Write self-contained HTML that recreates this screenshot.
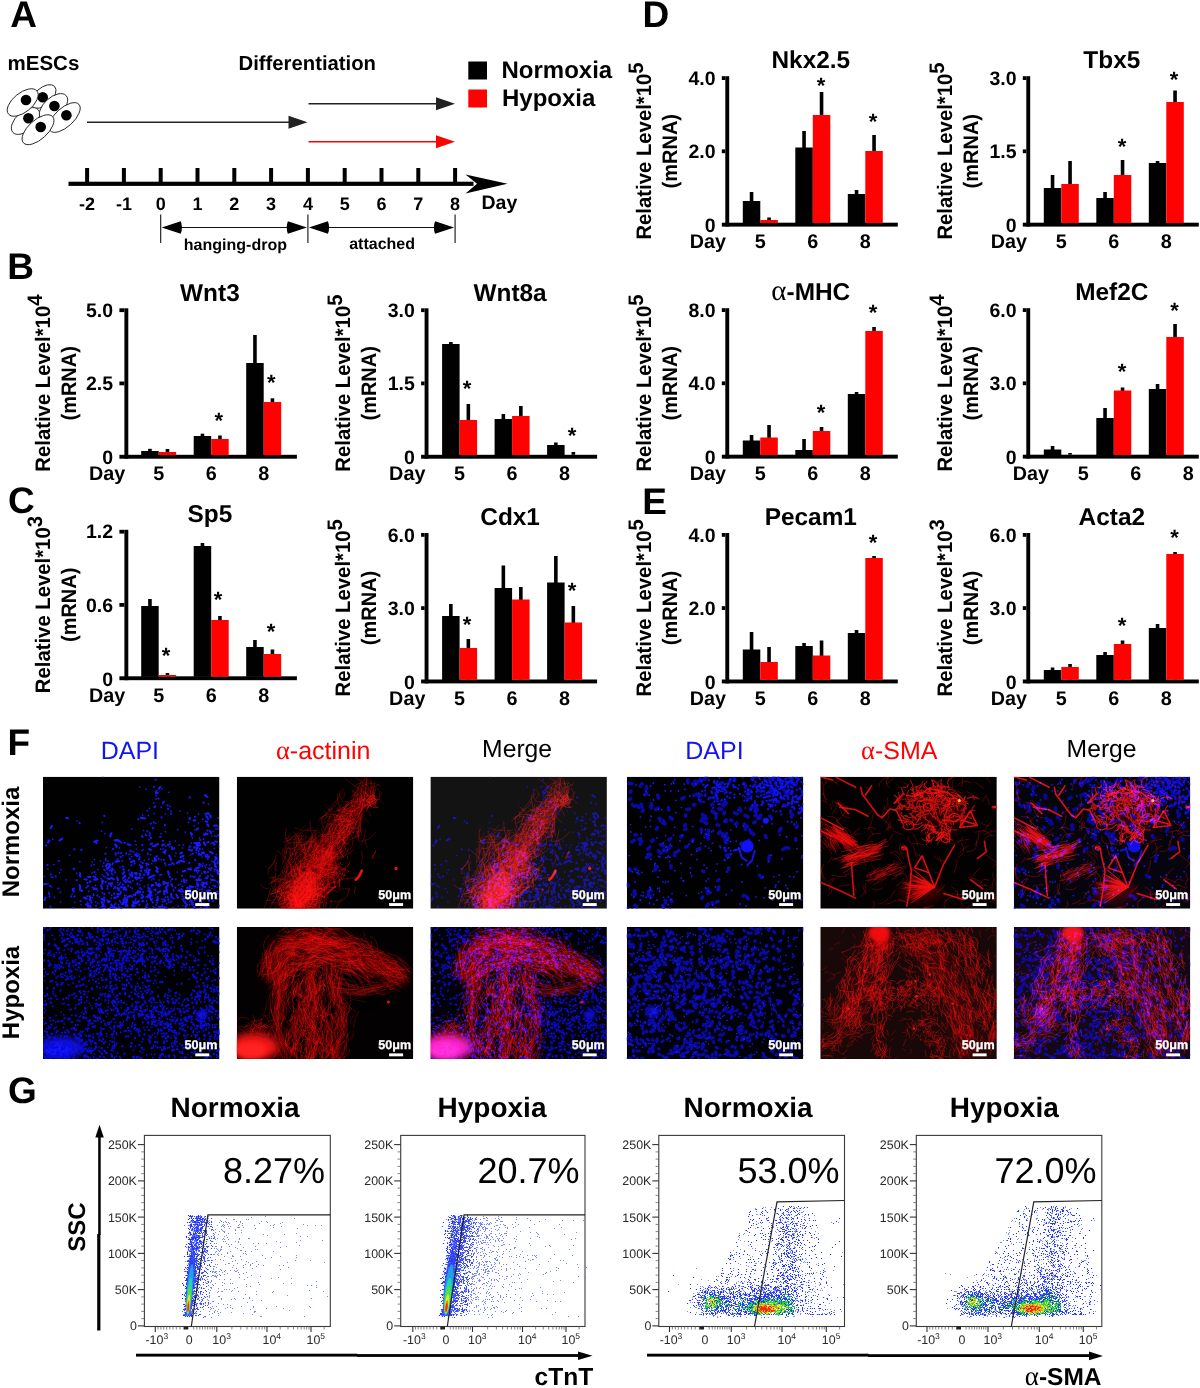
<!DOCTYPE html>
<html><head><meta charset="utf-8"><title>Figure</title>
<style>
html,body{margin:0;padding:0;background:#fff;}
body{width:1200px;height:1388px;overflow:hidden;font-family:"Liberation Sans",sans-serif;}
svg{display:block;will-change:transform;opacity:0.9999;}
svg text{font-family:"Liberation Sans",sans-serif;}
.sy{font-family:"Liberation Serif",serif;font-weight:normal;}
</style></head><body>
<svg width="1200" height="1388" viewBox="0 0 1200 1388" text-rendering="geometricPrecision">
<text x="10.3" y="26.8" font-size="37" font-weight="bold">A</text>
<text x="7.3" y="278.5" font-size="37" font-weight="bold">B</text>
<text x="8" y="512.7" font-size="37" font-weight="bold">C</text>
<text x="642.5" y="26.8" font-size="37" font-weight="bold">D</text>
<text x="642.2" y="513.6" font-size="37" font-weight="bold">E</text>
<text x="7.6" y="755.4" font-size="37" font-weight="bold">F</text>
<text x="8" y="1103.2" font-size="37" font-weight="bold">G</text>
<text x="7.5" y="70" font-size="20.5" font-weight="bold">mESCs</text>
<text x="238.5" y="70.2" font-size="20.3" font-weight="bold">Differentiation</text>
<ellipse cx="43.5" cy="96.5" rx="15" ry="8.5" transform="rotate(-42 43.5 96.5)" fill="#fff" stroke="#222" stroke-width="0.9"/>
<circle cx="42.7" cy="97.3" r="5.3"/>
<ellipse cx="25.5" cy="121" rx="17" ry="9.5" transform="rotate(-42 25.5 121)" fill="#fff" stroke="#222" stroke-width="0.9"/>
<circle cx="28.4" cy="118.3" r="5.3"/>
<ellipse cx="53.5" cy="107" rx="17" ry="9.5" transform="rotate(-42 53.5 107)" fill="#fff" stroke="#222" stroke-width="0.9"/>
<circle cx="54.4" cy="106" r="5.3"/>
<ellipse cx="64.5" cy="117.5" rx="19.5" ry="9.3" transform="rotate(-42.5 64.5 117.5)" fill="#fff" stroke="#222" stroke-width="0.9"/>
<circle cx="66.4" cy="115.3" r="5.3"/>
<ellipse cx="22.7" cy="102.5" rx="18.3" ry="9.6" transform="rotate(-39 22.7 102.5)" fill="#fff" stroke="#222" stroke-width="0.9"/>
<circle cx="26" cy="100" r="5.3"/>
<ellipse cx="38" cy="129.7" rx="19.6" ry="9.6" transform="rotate(-42 38 129.7)" fill="#fff" stroke="#222" stroke-width="0.9"/>
<circle cx="40.7" cy="127" r="5.3"/>
<line x1="87" y1="122.3" x2="290.5" y2="122.3" stroke="#222" stroke-width="1.5"/>
<polygon points="288.5,115.8 307.5,122.3 288.5,128.8" fill="#222"/>
<line x1="308.5" y1="103.8" x2="438" y2="103.8" stroke="#222" stroke-width="1.5"/>
<polygon points="436,97.3 455,103.8 436,110.3" fill="#222"/>
<line x1="308.5" y1="141.8" x2="438" y2="141.8" stroke="#f00" stroke-width="1.5"/>
<polygon points="436,135.3 455,141.8 436,148.3" fill="#f00"/>
<rect x="468.30" y="61.50" width="18.70" height="18.00"/>
<rect x="468.30" y="89.50" width="18.70" height="18.00" fill="#f00"/>
<text x="501.5" y="77.7" font-size="24" font-weight="bold">Normoxia</text>
<text x="502" y="106" font-size="24" font-weight="bold">Hypoxia</text>
<rect x="68.50" y="181.70" width="405.00" height="4.20"/>
<polygon points="465.5,174.5 507.5,183.8 465.5,193.5 477,183.8"/>
<rect x="85.10" y="168.00" width="4.00" height="15.00"/>
<text x="87.1" y="210" font-size="18" font-weight="bold" text-anchor="middle">-2</text>
<rect x="121.90" y="168.00" width="4.00" height="15.00"/>
<text x="123.9" y="210" font-size="18" font-weight="bold" text-anchor="middle">-1</text>
<rect x="158.70" y="168.00" width="4.00" height="15.00"/>
<text x="160.7" y="210" font-size="18" font-weight="bold" text-anchor="middle">0</text>
<rect x="195.50" y="168.00" width="4.00" height="15.00"/>
<text x="197.5" y="210" font-size="18" font-weight="bold" text-anchor="middle">1</text>
<rect x="232.30" y="168.00" width="4.00" height="15.00"/>
<text x="234.3" y="210" font-size="18" font-weight="bold" text-anchor="middle">2</text>
<rect x="269.10" y="168.00" width="4.00" height="15.00"/>
<text x="271.1" y="210" font-size="18" font-weight="bold" text-anchor="middle">3</text>
<rect x="305.90" y="168.00" width="4.00" height="15.00"/>
<text x="307.9" y="210" font-size="18" font-weight="bold" text-anchor="middle">4</text>
<rect x="342.70" y="168.00" width="4.00" height="15.00"/>
<text x="344.7" y="210" font-size="18" font-weight="bold" text-anchor="middle">5</text>
<rect x="379.50" y="168.00" width="4.00" height="15.00"/>
<text x="381.5" y="210" font-size="18" font-weight="bold" text-anchor="middle">6</text>
<rect x="416.30" y="168.00" width="4.00" height="15.00"/>
<text x="418.3" y="210" font-size="18" font-weight="bold" text-anchor="middle">7</text>
<rect x="453.10" y="168.00" width="4.00" height="15.00"/>
<text x="455.1" y="210" font-size="18" font-weight="bold" text-anchor="middle">8</text>
<text x="481.5" y="209" font-size="19.5" font-weight="bold">Day</text>
<line x1="160.7" y1="214.5" x2="160.7" y2="243" stroke="#111" stroke-width="1.1"/>
<line x1="307.9" y1="214.5" x2="307.9" y2="243" stroke="#111" stroke-width="1.1"/>
<line x1="455.1" y1="214.5" x2="455.1" y2="243" stroke="#111" stroke-width="1.1"/>
<line x1="179.7" y1="227.5" x2="288.9" y2="227.5" stroke="#111" stroke-width="1.1"/>
<path d="M161.7,227.5 L180.7,221.3 Q183.2,227.5 180.7,233.7 Z"/>
<path d="M306.9,227.5 L287.9,221.3 Q285.4,227.5 287.9,233.7 Z"/>
<line x1="326.9" y1="227.5" x2="436.09999999999997" y2="227.5" stroke="#111" stroke-width="1.1"/>
<path d="M308.9,227.5 L327.9,221.3 Q330.4,227.5 327.9,233.7 Z"/>
<path d="M454.09999999999997,227.5 L435.09999999999997,221.3 Q432.59999999999997,227.5 435.09999999999997,233.7 Z"/>
<text x="235.4" y="249.5" font-size="16" font-weight="bold" text-anchor="middle">hanging-drop</text>
<text x="382.1" y="249" font-size="16" font-weight="bold" text-anchor="middle">attached</text>
<text x="209.9" y="300.5" font-size="24.4" font-weight="bold" text-anchor="middle">Wnt3</text>
<text transform="translate(50.0,383.1) rotate(-90) scale(1.015,1.05)" font-size="20" font-weight="bold" text-anchor="middle">Relative Level*10<tspan dy="-8" font-size="20">4</tspan></text>
<text transform="translate(76.1,383.3) rotate(-90) scale(1,1.05)" font-size="20" font-weight="bold" text-anchor="middle">(mRNA)</text>
<rect x="124.40" y="308.30" width="3.90" height="150.40"/>
<rect x="119.40" y="454.80" width="177.50" height="3.90"/>
<rect x="119.40" y="308.30" width="5.00" height="3.80"/>
<rect x="119.40" y="381.50" width="5.00" height="3.80"/>
<text x="113.1" y="316.8" font-size="19.5" font-weight="bold" text-anchor="end">5.0</text>
<text x="113.1" y="390.0" font-size="19.5" font-weight="bold" text-anchor="end">2.5</text>
<text x="113.1" y="464.3" font-size="19.5" font-weight="bold" text-anchor="end">0</text>
<text x="125.2" y="480.2" font-size="19.8" font-weight="bold" text-anchor="end">Day</text>
<text x="158.7" y="480.2" font-size="19.8" font-weight="bold" text-anchor="middle">5</text>
<text x="211.2" y="480.2" font-size="19.8" font-weight="bold" text-anchor="middle">6</text>
<text x="263.7" y="480.2" font-size="19.8" font-weight="bold" text-anchor="middle">8</text>
<rect x="148.15" y="448.80" width="3.60" height="6.00"/>
<rect x="165.65" y="449.00" width="3.60" height="5.80"/>
<rect x="141.20" y="451.00" width="17.50" height="4.30"/>
<rect x="158.70" y="452.00" width="17.50" height="3.10" fill="#f00"/>
<rect x="200.65" y="433.70" width="3.60" height="21.10"/>
<rect x="218.15" y="435.50" width="3.60" height="19.30"/>
<rect x="193.70" y="436.00" width="17.50" height="19.30"/>
<rect x="211.20" y="439.00" width="17.50" height="16.10" fill="#f00"/>
<rect x="253.15" y="335.00" width="3.60" height="119.80"/>
<rect x="270.65" y="398.30" width="3.60" height="56.50"/>
<rect x="246.20" y="363.00" width="17.50" height="92.30"/>
<rect x="263.70" y="402.00" width="17.50" height="53.10" fill="#f00"/>
<text x="218.8" y="427.6" font-size="22" font-weight="bold" text-anchor="middle">*</text>
<text x="271.3" y="390.1" font-size="22" font-weight="bold" text-anchor="middle">*</text>
<text x="510.1" y="300.5" font-size="24.4" font-weight="bold" text-anchor="middle">Wnt8a</text>
<text transform="translate(350.2,383.1) rotate(-90) scale(1.015,1.05)" font-size="20" font-weight="bold" text-anchor="middle">Relative Level*10<tspan dy="-8" font-size="20">5</tspan></text>
<text transform="translate(376.3,383.3) rotate(-90) scale(1,1.05)" font-size="20" font-weight="bold" text-anchor="middle">(mRNA)</text>
<rect x="424.60" y="308.30" width="3.90" height="150.40"/>
<rect x="421.10" y="454.80" width="176.00" height="3.90"/>
<rect x="421.10" y="308.30" width="3.50" height="3.80"/>
<rect x="421.10" y="381.50" width="3.50" height="3.80"/>
<text x="414.8" y="316.8" font-size="19.5" font-weight="bold" text-anchor="end">3.0</text>
<text x="414.8" y="390.0" font-size="19.5" font-weight="bold" text-anchor="end">1.5</text>
<text x="414.8" y="464.3" font-size="19.5" font-weight="bold" text-anchor="end">0</text>
<text x="425.4" y="480.2" font-size="19.8" font-weight="bold" text-anchor="end">Day</text>
<text x="459.6" y="480.2" font-size="19.8" font-weight="bold" text-anchor="middle">5</text>
<text x="512.1" y="480.2" font-size="19.8" font-weight="bold" text-anchor="middle">6</text>
<text x="564.6" y="480.2" font-size="19.8" font-weight="bold" text-anchor="middle">8</text>
<rect x="449.05" y="342.00" width="3.60" height="112.80"/>
<rect x="466.55" y="404.00" width="3.60" height="50.80"/>
<rect x="442.10" y="344.00" width="17.50" height="111.30"/>
<rect x="459.60" y="420.00" width="17.50" height="35.10" fill="#f00"/>
<rect x="501.55" y="414.00" width="3.60" height="40.80"/>
<rect x="519.05" y="406.00" width="3.60" height="48.80"/>
<rect x="494.60" y="419.00" width="17.50" height="36.30"/>
<rect x="512.10" y="416.00" width="17.50" height="39.10" fill="#f00"/>
<rect x="554.05" y="442.50" width="3.60" height="12.30"/>
<rect x="571.55" y="452.00" width="3.60" height="2.80"/>
<rect x="547.10" y="445.00" width="17.50" height="10.30"/>
<text x="467.0" y="395.6" font-size="22" font-weight="bold" text-anchor="middle">*</text>
<text x="572.0" y="442.6" font-size="22" font-weight="bold" text-anchor="middle">*</text>
<text x="209.9" y="522.0" font-size="24.4" font-weight="bold" text-anchor="middle">Sp5</text>
<text transform="translate(50.0,604.6) rotate(-90) scale(1.015,1.05)" font-size="20" font-weight="bold" text-anchor="middle">Relative Level*10<tspan dy="-8" font-size="20">3</tspan></text>
<text transform="translate(76.1,604.8) rotate(-90) scale(1,1.05)" font-size="20" font-weight="bold" text-anchor="middle">(mRNA)</text>
<rect x="124.40" y="529.80" width="3.90" height="150.40"/>
<rect x="119.40" y="676.30" width="177.50" height="3.90"/>
<rect x="119.40" y="529.80" width="5.00" height="3.80"/>
<rect x="119.40" y="603.00" width="5.00" height="3.80"/>
<text x="113.1" y="538.3" font-size="19.5" font-weight="bold" text-anchor="end">1.2</text>
<text x="113.1" y="611.5" font-size="19.5" font-weight="bold" text-anchor="end">0.6</text>
<text x="113.1" y="685.8" font-size="19.5" font-weight="bold" text-anchor="end">0</text>
<text x="125.2" y="701.6999999999999" font-size="19.8" font-weight="bold" text-anchor="end">Day</text>
<text x="158.7" y="701.6999999999999" font-size="19.8" font-weight="bold" text-anchor="middle">5</text>
<text x="211.2" y="701.6999999999999" font-size="19.8" font-weight="bold" text-anchor="middle">6</text>
<text x="263.7" y="701.6999999999999" font-size="19.8" font-weight="bold" text-anchor="middle">8</text>
<rect x="148.15" y="599.00" width="3.60" height="77.30"/>
<rect x="165.65" y="673.00" width="3.60" height="3.30"/>
<rect x="141.20" y="606.00" width="17.50" height="70.80"/>
<rect x="158.70" y="675.00" width="17.50" height="1.60" fill="#f00"/>
<rect x="200.65" y="543.00" width="3.60" height="133.30"/>
<rect x="218.15" y="616.00" width="3.60" height="60.30"/>
<rect x="193.70" y="546.00" width="17.50" height="130.80"/>
<rect x="211.20" y="620.00" width="17.50" height="56.60" fill="#f00"/>
<rect x="253.15" y="640.00" width="3.60" height="36.30"/>
<rect x="270.65" y="649.50" width="3.60" height="26.80"/>
<rect x="246.20" y="647.00" width="17.50" height="29.80"/>
<rect x="263.70" y="654.00" width="17.50" height="22.60" fill="#f00"/>
<text x="166.0" y="662.6" font-size="22" font-weight="bold" text-anchor="middle">*</text>
<text x="218.0" y="606.6" font-size="22" font-weight="bold" text-anchor="middle">*</text>
<text x="271.0" y="638.6" font-size="22" font-weight="bold" text-anchor="middle">*</text>
<text x="510.1" y="525.2" font-size="24.4" font-weight="bold" text-anchor="middle">Cdx1</text>
<text transform="translate(350.2,607.8) rotate(-90) scale(1.015,1.05)" font-size="20" font-weight="bold" text-anchor="middle">Relative Level*10<tspan dy="-8" font-size="20">5</tspan></text>
<text transform="translate(376.3,608.0) rotate(-90) scale(1,1.05)" font-size="20" font-weight="bold" text-anchor="middle">(mRNA)</text>
<rect x="424.60" y="533.00" width="3.90" height="150.40"/>
<rect x="421.10" y="679.50" width="176.00" height="3.90"/>
<rect x="421.10" y="533.00" width="3.50" height="3.80"/>
<rect x="421.10" y="606.20" width="3.50" height="3.80"/>
<text x="414.8" y="541.5" font-size="19.5" font-weight="bold" text-anchor="end">6.0</text>
<text x="414.8" y="614.7" font-size="19.5" font-weight="bold" text-anchor="end">3.0</text>
<text x="414.8" y="689.0" font-size="19.5" font-weight="bold" text-anchor="end">0</text>
<text x="425.4" y="704.9" font-size="19.8" font-weight="bold" text-anchor="end">Day</text>
<text x="459.6" y="704.9" font-size="19.8" font-weight="bold" text-anchor="middle">5</text>
<text x="512.1" y="704.9" font-size="19.8" font-weight="bold" text-anchor="middle">6</text>
<text x="564.6" y="704.9" font-size="19.8" font-weight="bold" text-anchor="middle">8</text>
<rect x="449.05" y="604.00" width="3.60" height="75.50"/>
<rect x="466.55" y="639.00" width="3.60" height="40.50"/>
<rect x="442.10" y="616.00" width="17.50" height="64.00"/>
<rect x="459.60" y="648.00" width="17.50" height="31.80" fill="#f00"/>
<rect x="501.55" y="565.50" width="3.60" height="114.00"/>
<rect x="519.05" y="587.00" width="3.60" height="92.50"/>
<rect x="494.60" y="588.00" width="17.50" height="92.00"/>
<rect x="512.10" y="599.50" width="17.50" height="80.30" fill="#f00"/>
<rect x="554.05" y="556.00" width="3.60" height="123.50"/>
<rect x="571.55" y="606.00" width="3.60" height="73.50"/>
<rect x="547.10" y="582.50" width="17.50" height="97.50"/>
<rect x="564.60" y="622.50" width="17.50" height="57.30" fill="#f00"/>
<text x="467.0" y="631.6" font-size="22" font-weight="bold" text-anchor="middle">*</text>
<text x="572.0" y="597.6" font-size="22" font-weight="bold" text-anchor="middle">*</text>
<text x="810.8" y="68.4" font-size="24.4" font-weight="bold" text-anchor="middle">Nkx2.5</text>
<text transform="translate(650.9,151.0) rotate(-90) scale(1.015,1.05)" font-size="20" font-weight="bold" text-anchor="middle">Relative Level*10<tspan dy="-8" font-size="20">5</tspan></text>
<text transform="translate(677.0,151.2) rotate(-90) scale(1,1.05)" font-size="20" font-weight="bold" text-anchor="middle">(mRNA)</text>
<rect x="725.30" y="76.20" width="3.90" height="150.40"/>
<rect x="721.80" y="222.70" width="176.00" height="3.90"/>
<rect x="721.80" y="76.20" width="3.50" height="3.80"/>
<rect x="721.80" y="149.40" width="3.50" height="3.80"/>
<text x="715.5" y="84.7" font-size="19.5" font-weight="bold" text-anchor="end">4.0</text>
<text x="715.5" y="157.9" font-size="19.5" font-weight="bold" text-anchor="end">2.0</text>
<text x="715.5" y="232.2" font-size="19.5" font-weight="bold" text-anchor="end">0</text>
<text x="726.1" y="248.1" font-size="19.8" font-weight="bold" text-anchor="end">Day</text>
<text x="760.3" y="248.1" font-size="19.8" font-weight="bold" text-anchor="middle">5</text>
<text x="812.8" y="248.1" font-size="19.8" font-weight="bold" text-anchor="middle">6</text>
<text x="865.3" y="248.1" font-size="19.8" font-weight="bold" text-anchor="middle">8</text>
<rect x="749.75" y="192.00" width="3.60" height="30.70"/>
<rect x="767.25" y="217.50" width="3.60" height="5.20"/>
<rect x="742.80" y="201.00" width="17.50" height="22.20"/>
<rect x="760.30" y="220.00" width="17.50" height="3.00" fill="#f00"/>
<rect x="802.25" y="131.00" width="3.60" height="91.70"/>
<rect x="819.75" y="92.00" width="3.60" height="130.70"/>
<rect x="795.30" y="147.50" width="17.50" height="75.70"/>
<rect x="812.80" y="115.00" width="17.50" height="108.00" fill="#f00"/>
<rect x="854.75" y="190.00" width="3.60" height="32.70"/>
<rect x="872.25" y="135.00" width="3.60" height="87.70"/>
<rect x="847.80" y="194.00" width="17.50" height="29.20"/>
<rect x="865.30" y="151.00" width="17.50" height="72.00" fill="#f00"/>
<text x="821.0" y="93.1" font-size="22" font-weight="bold" text-anchor="middle">*</text>
<text x="873.0" y="128.6" font-size="22" font-weight="bold" text-anchor="middle">*</text>
<text x="1111.8" y="68.4" font-size="24.4" font-weight="bold" text-anchor="middle">Tbx5</text>
<text transform="translate(951.9,151.0) rotate(-90) scale(1.015,1.05)" font-size="20" font-weight="bold" text-anchor="middle">Relative Level*10<tspan dy="-8" font-size="20">5</tspan></text>
<text transform="translate(978.0,151.2) rotate(-90) scale(1,1.05)" font-size="20" font-weight="bold" text-anchor="middle">(mRNA)</text>
<rect x="1026.30" y="76.20" width="3.90" height="150.40"/>
<rect x="1022.80" y="222.70" width="176.00" height="3.90"/>
<rect x="1022.80" y="76.20" width="3.50" height="3.80"/>
<rect x="1022.80" y="149.40" width="3.50" height="3.80"/>
<text x="1016.5" y="84.7" font-size="19.5" font-weight="bold" text-anchor="end">3.0</text>
<text x="1016.5" y="157.9" font-size="19.5" font-weight="bold" text-anchor="end">1.5</text>
<text x="1016.5" y="232.2" font-size="19.5" font-weight="bold" text-anchor="end">0</text>
<text x="1027.1" y="248.1" font-size="19.8" font-weight="bold" text-anchor="end">Day</text>
<text x="1061.3" y="248.1" font-size="19.8" font-weight="bold" text-anchor="middle">5</text>
<text x="1113.8" y="248.1" font-size="19.8" font-weight="bold" text-anchor="middle">6</text>
<text x="1166.3" y="248.1" font-size="19.8" font-weight="bold" text-anchor="middle">8</text>
<rect x="1050.75" y="175.00" width="3.60" height="47.70"/>
<rect x="1068.25" y="161.00" width="3.60" height="61.70"/>
<rect x="1043.80" y="188.00" width="17.50" height="35.20"/>
<rect x="1061.30" y="184.00" width="17.50" height="39.00" fill="#f00"/>
<rect x="1103.25" y="192.00" width="3.60" height="30.70"/>
<rect x="1120.75" y="160.00" width="3.60" height="62.70"/>
<rect x="1096.30" y="198.00" width="17.50" height="25.20"/>
<rect x="1113.80" y="175.00" width="17.50" height="48.00" fill="#f00"/>
<rect x="1155.75" y="161.00" width="3.60" height="61.70"/>
<rect x="1173.25" y="90.50" width="3.60" height="132.20"/>
<rect x="1148.80" y="163.00" width="17.50" height="60.20"/>
<rect x="1166.30" y="102.00" width="17.50" height="121.00" fill="#f00"/>
<text x="1122.0" y="153.6" font-size="22" font-weight="bold" text-anchor="middle">*</text>
<text x="1174.0" y="86.6" font-size="22" font-weight="bold" text-anchor="middle">*</text>
<text x="810.8" y="300.4" font-size="24.4" font-weight="bold" text-anchor="middle"><tspan class="sy" font-size="29">&#945;</tspan>-MHC</text>
<text transform="translate(650.9,383.0) rotate(-90) scale(1.015,1.05)" font-size="20" font-weight="bold" text-anchor="middle">Relative Level*10<tspan dy="-8" font-size="20">5</tspan></text>
<text transform="translate(677.0,383.2) rotate(-90) scale(1,1.05)" font-size="20" font-weight="bold" text-anchor="middle">(mRNA)</text>
<rect x="725.30" y="308.20" width="3.90" height="150.40"/>
<rect x="721.80" y="454.70" width="176.00" height="3.90"/>
<rect x="721.80" y="308.20" width="3.50" height="3.80"/>
<rect x="721.80" y="381.40" width="3.50" height="3.80"/>
<text x="715.5" y="316.7" font-size="19.5" font-weight="bold" text-anchor="end">8.0</text>
<text x="715.5" y="389.9" font-size="19.5" font-weight="bold" text-anchor="end">4.0</text>
<text x="715.5" y="464.2" font-size="19.5" font-weight="bold" text-anchor="end">0</text>
<text x="726.1" y="480.09999999999997" font-size="19.8" font-weight="bold" text-anchor="end">Day</text>
<text x="760.3" y="480.09999999999997" font-size="19.8" font-weight="bold" text-anchor="middle">5</text>
<text x="812.8" y="480.09999999999997" font-size="19.8" font-weight="bold" text-anchor="middle">6</text>
<text x="865.3" y="480.09999999999997" font-size="19.8" font-weight="bold" text-anchor="middle">8</text>
<rect x="749.75" y="435.00" width="3.60" height="19.70"/>
<rect x="767.25" y="425.00" width="3.60" height="29.70"/>
<rect x="742.80" y="440.50" width="17.50" height="14.70"/>
<rect x="760.30" y="437.50" width="17.50" height="17.50" fill="#f00"/>
<rect x="802.25" y="439.00" width="3.60" height="15.70"/>
<rect x="819.75" y="427.00" width="3.60" height="27.70"/>
<rect x="795.30" y="450.00" width="17.50" height="5.20"/>
<rect x="812.80" y="431.00" width="17.50" height="24.00" fill="#f00"/>
<rect x="854.75" y="392.00" width="3.60" height="62.70"/>
<rect x="872.25" y="327.00" width="3.60" height="127.70"/>
<rect x="847.80" y="394.00" width="17.50" height="61.20"/>
<rect x="865.30" y="331.00" width="17.50" height="124.00" fill="#f00"/>
<text x="821.0" y="420.1" font-size="22" font-weight="bold" text-anchor="middle">*</text>
<text x="873.0" y="319.6" font-size="22" font-weight="bold" text-anchor="middle">*</text>
<text x="1111.8" y="300.4" font-size="24.4" font-weight="bold" text-anchor="middle">Mef2C</text>
<text transform="translate(951.9,383.0) rotate(-90) scale(1.015,1.05)" font-size="20" font-weight="bold" text-anchor="middle">Relative Level*10<tspan dy="-8" font-size="20">4</tspan></text>
<text transform="translate(978.0,383.2) rotate(-90) scale(1,1.05)" font-size="20" font-weight="bold" text-anchor="middle">(mRNA)</text>
<rect x="1026.30" y="308.20" width="3.90" height="150.40"/>
<rect x="1022.80" y="454.70" width="176.00" height="3.90"/>
<rect x="1022.80" y="308.20" width="3.50" height="3.80"/>
<rect x="1022.80" y="381.40" width="3.50" height="3.80"/>
<text x="1016.5" y="316.7" font-size="19.5" font-weight="bold" text-anchor="end">6.0</text>
<text x="1016.5" y="389.9" font-size="19.5" font-weight="bold" text-anchor="end">3.0</text>
<text x="1016.5" y="464.2" font-size="19.5" font-weight="bold" text-anchor="end">0</text>
<text x="1049.1" y="480.09999999999997" font-size="19.8" font-weight="bold" text-anchor="end">Day</text>
<text x="1083.3" y="480.09999999999997" font-size="19.8" font-weight="bold" text-anchor="middle">5</text>
<text x="1135.8" y="480.09999999999997" font-size="19.8" font-weight="bold" text-anchor="middle">6</text>
<text x="1188.3" y="480.09999999999997" font-size="19.8" font-weight="bold" text-anchor="middle">8</text>
<rect x="1050.75" y="446.00" width="3.60" height="8.70"/>
<rect x="1068.25" y="453.00" width="3.60" height="1.70"/>
<rect x="1043.80" y="449.50" width="17.50" height="5.70"/>
<rect x="1103.25" y="408.00" width="3.60" height="46.70"/>
<rect x="1120.75" y="387.50" width="3.60" height="67.20"/>
<rect x="1096.30" y="418.00" width="17.50" height="37.20"/>
<rect x="1113.80" y="390.50" width="17.50" height="64.50" fill="#f00"/>
<rect x="1155.75" y="384.00" width="3.60" height="70.70"/>
<rect x="1173.25" y="324.00" width="3.60" height="130.70"/>
<rect x="1148.80" y="389.00" width="17.50" height="66.20"/>
<rect x="1166.30" y="337.00" width="17.50" height="118.00" fill="#f00"/>
<text x="1122.0" y="378.6" font-size="22" font-weight="bold" text-anchor="middle">*</text>
<text x="1174.5" y="317.6" font-size="22" font-weight="bold" text-anchor="middle">*</text>
<text x="810.8" y="525.2" font-size="24.4" font-weight="bold" text-anchor="middle">Pecam1</text>
<text transform="translate(650.9,607.8) rotate(-90) scale(1.015,1.05)" font-size="20" font-weight="bold" text-anchor="middle">Relative Level*10<tspan dy="-8" font-size="20">5</tspan></text>
<text transform="translate(677.0,608.0) rotate(-90) scale(1,1.05)" font-size="20" font-weight="bold" text-anchor="middle">(mRNA)</text>
<rect x="725.30" y="533.00" width="3.90" height="150.40"/>
<rect x="721.80" y="679.50" width="176.00" height="3.90"/>
<rect x="721.80" y="533.00" width="3.50" height="3.80"/>
<rect x="721.80" y="606.20" width="3.50" height="3.80"/>
<text x="715.5" y="541.5" font-size="19.5" font-weight="bold" text-anchor="end">4.0</text>
<text x="715.5" y="614.7" font-size="19.5" font-weight="bold" text-anchor="end">2.0</text>
<text x="715.5" y="689.0" font-size="19.5" font-weight="bold" text-anchor="end">0</text>
<text x="726.1" y="704.9" font-size="19.8" font-weight="bold" text-anchor="end">Day</text>
<text x="760.3" y="704.9" font-size="19.8" font-weight="bold" text-anchor="middle">5</text>
<text x="812.8" y="704.9" font-size="19.8" font-weight="bold" text-anchor="middle">6</text>
<text x="865.3" y="704.9" font-size="19.8" font-weight="bold" text-anchor="middle">8</text>
<rect x="749.75" y="632.00" width="3.60" height="47.50"/>
<rect x="767.25" y="647.00" width="3.60" height="32.50"/>
<rect x="742.80" y="649.50" width="17.50" height="30.50"/>
<rect x="760.30" y="662.00" width="17.50" height="17.80" fill="#f00"/>
<rect x="802.25" y="643.00" width="3.60" height="36.50"/>
<rect x="819.75" y="640.50" width="3.60" height="39.00"/>
<rect x="795.30" y="646.00" width="17.50" height="34.00"/>
<rect x="812.80" y="655.50" width="17.50" height="24.30" fill="#f00"/>
<rect x="854.75" y="630.00" width="3.60" height="49.50"/>
<rect x="872.25" y="556.00" width="3.60" height="123.50"/>
<rect x="847.80" y="633.00" width="17.50" height="47.00"/>
<rect x="865.30" y="558.00" width="17.50" height="121.80" fill="#f00"/>
<text x="873.0" y="549.6" font-size="22" font-weight="bold" text-anchor="middle">*</text>
<text x="1111.8" y="525.2" font-size="24.4" font-weight="bold" text-anchor="middle">Acta2</text>
<text transform="translate(951.9,607.8) rotate(-90) scale(1.015,1.05)" font-size="20" font-weight="bold" text-anchor="middle">Relative Level*10<tspan dy="-8" font-size="20">3</tspan></text>
<text transform="translate(978.0,608.0) rotate(-90) scale(1,1.05)" font-size="20" font-weight="bold" text-anchor="middle">(mRNA)</text>
<rect x="1026.30" y="533.00" width="3.90" height="150.40"/>
<rect x="1022.80" y="679.50" width="176.00" height="3.90"/>
<rect x="1022.80" y="533.00" width="3.50" height="3.80"/>
<rect x="1022.80" y="606.20" width="3.50" height="3.80"/>
<text x="1016.5" y="541.5" font-size="19.5" font-weight="bold" text-anchor="end">6.0</text>
<text x="1016.5" y="614.7" font-size="19.5" font-weight="bold" text-anchor="end">3.0</text>
<text x="1016.5" y="689.0" font-size="19.5" font-weight="bold" text-anchor="end">0</text>
<text x="1027.1" y="704.9" font-size="19.8" font-weight="bold" text-anchor="end">Day</text>
<text x="1061.3" y="704.9" font-size="19.8" font-weight="bold" text-anchor="middle">5</text>
<text x="1113.8" y="704.9" font-size="19.8" font-weight="bold" text-anchor="middle">6</text>
<text x="1166.3" y="704.9" font-size="19.8" font-weight="bold" text-anchor="middle">8</text>
<rect x="1050.75" y="667.50" width="3.60" height="12.00"/>
<rect x="1068.25" y="664.00" width="3.60" height="15.50"/>
<rect x="1043.80" y="670.00" width="17.50" height="10.00"/>
<rect x="1061.30" y="667.00" width="17.50" height="12.80" fill="#f00"/>
<rect x="1103.25" y="652.00" width="3.60" height="27.50"/>
<rect x="1120.75" y="640.50" width="3.60" height="39.00"/>
<rect x="1096.30" y="655.00" width="17.50" height="25.00"/>
<rect x="1113.80" y="644.00" width="17.50" height="35.80" fill="#f00"/>
<rect x="1155.75" y="624.00" width="3.60" height="55.50"/>
<rect x="1173.25" y="552.00" width="3.60" height="127.50"/>
<rect x="1148.80" y="628.00" width="17.50" height="52.00"/>
<rect x="1166.30" y="554.00" width="17.50" height="125.80" fill="#f00"/>
<text x="1122.0" y="633.1" font-size="22" font-weight="bold" text-anchor="middle">*</text>
<text x="1174.5" y="544.6" font-size="22" font-weight="bold" text-anchor="middle">*</text>
<text x="129.9" y="759.3" font-size="25" text-anchor="middle" fill="#1414f0">DAPI</text>
<text x="323.2" y="759.3" font-size="25" text-anchor="middle" fill="#f00"><tspan class="sy" font-size="26.5">&#945;</tspan>-actinin</text>
<text x="517.1" y="757" font-size="24.7" text-anchor="middle">Merge</text>
<text x="714.5" y="759.3" font-size="25" text-anchor="middle" fill="#1414f0">DAPI</text>
<text x="899.2" y="759.3" font-size="25" text-anchor="middle" fill="#f00"><tspan class="sy" font-size="26.5">&#945;</tspan>-SMA</text>
<text x="1101.6" y="757" font-size="24.7" text-anchor="middle">Merge</text>
<text transform="translate(19,842) rotate(-90)" font-size="24" font-weight="bold" text-anchor="middle">Normoxia</text>
<text transform="translate(19,992.5) rotate(-90)" font-size="24" font-weight="bold" text-anchor="middle">Hypoxia</text>
<defs>
<clipPath id="tc"><rect width="176.5" height="132.0"/></clipPath>
<filter id="bl2" x="-30%" y="-30%" width="160%" height="160%"><feGaussianBlur stdDeviation="2"/></filter>
<filter id="bl4" x="-30%" y="-30%" width="160%" height="160%"><feGaussianBlur stdDeviation="4"/></filter>
<filter id="bl7" x="-40%" y="-40%" width="180%" height="180%"><feGaussianBlur stdDeviation="7"/></filter>
<g id="sb"><text x="174.4" y="122.4" font-size="12.6" font-weight="bold" fill="#fff" text-anchor="end" stroke="#fff" stroke-width="0.3">50&#956;m</text><rect x="152.3" y="126.4" width="14" height="2.9" fill="#fff"/></g>
<g id="b1">
<path d="M115.4 81.3h0M91.6 84.5h0M116.9 60.4h0M70.7 111.7h0M169.1 111.8h0M173.0 52.5h0M111.1 102.8h0M33.7 96.6h0M160.3 107.9h0M106.5 55.6h0M105.3 38.7h0M98.7 112.5h0M49.5 121.1h0M122.0 77.1h0M123.7 127.1h0M56.3 131.9h0M159.0 115.0h0M139.5 114.0h0M68.6 97.0h0M77.8 110.7h0M119.7 26.7h0M159.9 87.1h0M161.4 116.2h0M102.9 41.8h0M87.6 110.5h0M125.5 125.4h0M173.3 59.7h0M5.6 115.2h0M108.5 99.8h0M139.8 119.6h0M164.6 95.4h0M140.6 124.6h0M56.5 120.1h0M97.1 101.4h0M5.0 106.8h0M121.7 124.8h0M149.2 118.9h0M150.2 127.8h0M88.8 79.9h0M171.1 68.1h0M73.0 126.3h0M76.5 107.7h0M109.1 122.1h0M62.7 81.8h0M111.4 84.3h0M128.2 34.3h0M160.9 127.8h0M89.3 100.1h0M121.0 24.9h0M90.9 75.1h0M174.8 122.3h0M137.3 107.5h0M158.2 116.1h0M112.7 82.4h0M166.7 87.9h0M68.8 132.0h0M44.3 119.5h0M89.6 127.7h0M68.8 118.5h0M84.3 128.5h0M92.4 123.7h0M82.7 129.2h0M117.9 60.1h0M157.6 103.5h0M75.0 82.3h0M110.1 101.5h0M162.5 56.5h0M17.1 115.5h0M122.5 37.3h0M63.2 95.8h0M77.3 106.0h0M155.5 37.2h0M92.1 100.9h0M59.6 127.8h0M125.0 120.8h0M169.0 84.5h0M125.3 105.9h0M174.9 49.6h0M103.1 120.0h0M96.8 107.9h0M167.2 105.8h0M93.1 68.1h0M174.8 86.8h0M45.8 114.7h0M112.4 131.1h0M82.7 126.1h0M73.6 121.0h0M63.5 90.7h0M146.4 86.3h0M66.6 93.7h0M99.6 60.5h0M175.0 105.5h0M69.2 88.0h0M58.5 109.1h0M147.7 78.2h0M135.4 108.4h0M58.5 54.4h0M89.9 104.1h0M159.4 72.4h0M110.7 26.1h0M58.1 122.6h0M99.0 74.0h0M50.9 118.4h0M101.2 109.7h0M96.7 10.1h0M99.9 119.5h0M158.9 96.6h0M88.7 52.4h0M122.7 69.5h0M117.5 114.4h0M100.0 119.3h0M158.0 107.6h0M62.9 77.3h0M162.8 118.4h0M153.5 94.1h0M122.8 123.8h0M163.6 88.0h0M44.3 106.0h0M50.3 99.7h0M158.3 130.4h0M81.5 99.1h0M164.0 66.0h0M98.1 85.1h0M116.2 103.4h0M89.2 111.6h0M91.9 125.6h0M138.8 104.4h0M46.4 105.4h0M160.1 75.1h0M109.6 69.4h0M38.2 128.1h0M122.6 114.1h0M156.4 61.1h0M78.9 131.1h0M136.0 68.5h0M26.6 78.6h0M128.0 87.9h0M87.5 77.3h0M61.3 117.7h0M146.4 116.1h0M96.7 82.4h0M146.7 127.9h0M61.2 117.0h0M170.1 108.8h0M18.0 93.0h0M79.7 101.9h0M118.1 30.5h0M74.0 83.4h0M164.7 130.5h0M125.9 15.6h0M135.1 129.5h0M115.9 82.2h0M78.2 110.1h0M71.0 93.1h0M116.0 107.0h0M112.6 46.7h0M159.8 42.5h0M59.1 97.9h0M61.8 56.9h0M94.8 125.7h0M119.5 125.1h0M156.7 113.0h0M89.1 74.9h0M147.8 91.1h0M175.2 97.4h0M130.0 130.6h0M44.3 106.5h0M94.7 114.3h0M49.4 85.0h0M98.0 103.9h0M152.6 110.1h0M108.9 119.0h0M154.7 96.1h0M118.0 56.9h0M166.1 80.5h0M75.0 108.3h0M61.1 92.9h0M50.6 112.8h0M80.3 123.2h0M77.8 126.0h0M122.7 88.7h0M144.8 112.2h0M158.5 125.4h0M69.7 97.9h0M129.0 102.4h0M166.7 118.2h0M51.9 102.6h0M170.1 54.6h0M156.5 124.9h0M88.4 119.3h0M52.8 97.6h0M8.7 110.3h0M93.2 72.3h0M132.3 64.3h0M71.8 127.6h0M104.7 126.8h0M107.5 77.8h0M47.7 105.0h0M151.8 53.1h0M10.0 100.8h0M132.9 76.5h0M173.6 121.0h0M117.6 72.4h0M98.9 121.7h0M119.0 122.5h0M84.8 129.4h0M100.3 72.8h0M136.8 34.3h0M128.7 124.6h0M10.8 88.0h0M73.6 64.1h0M151.5 123.4h0M172.2 110.0h0M59.2 45.8h0M84.5 103.4h0M139.5 71.3h0M73.1 130.7h0M11.5 120.7h0M48.2 123.9h0M149.3 61.4h0M166.6 129.1h0M134.6 52.9h0M156.0 76.7h0M150.6 116.4h0M89.8 130.0h0M162.8 67.9h0M101.3 83.4h0M113.2 128.1h0M44.9 119.2h0M148.5 66.4h0M142.9 105.8h0M60.6 104.5h0M160.8 123.1h0M173.4 115.0h0M173.9 82.2h0M100.5 124.5h0M121.1 124.4h0M163.6 120.3h0M92.2 64.4h0M152.2 70.7h0M93.0 125.3h0M83.6 126.6h0M176.0 69.7h0M114.3 93.2h0M168.5 117.3h0M101.2 98.2h0M9.7 62.5h0M85.9 77.6h0M172.3 103.7h0M118.5 97.8h0M70.3 131.2h0M145.0 110.5h0M157.7 87.6h0M142.3 55.4h0M62.2 100.2h0M63.3 70.9h0M66.1 86.8h0M59.5 116.0h0M146.1 120.8h0M102.9 12.6h0M62.3 130.0h0M156.6 99.5h0M139.2 117.8h0M140.6 81.9h0M171.4 71.7h0M54.7 113.8h0M104.5 76.9h0M81.9 118.8h0M58.9 126.4h0M67.6 108.7h0M161.9 89.0h0M118.2 82.9h0M126.6 65.1h0M104.6 120.7h0M134.3 95.4h0M113.0 22.2h0M34.1 44.3h0M156.7 77.6h0M95.6 124.1h0M67.7 93.5h0M124.7 119.9h0M130.7 114.3h0M23.2 103.1h0M111.0 36.9h0M151.3 130.3h0M64.5 91.6h0M59.9 0.1h0M175.0 84.2h0M119.1 127.8h0M151.1 49.1h0M145.5 45.5h0M119.5 128.7h0M63.1 132.0h0M106.3 100.8h0M157.2 98.9h0M83.0 118.9h0M36.8 84.9h0M172.0 79.9h0M140.9 121.6h0M112.6 117.7h0M44.9 100.2h0M49.1 96.2h0M112.7 105.9h0M139.8 79.6h0M80.0 79.0h0M153.2 75.8h0M58.5 111.6h0M94.1 76.8h0M174.2 110.3h0M165.4 27.5h0M160.6 62.5h0M166.3 110.6h0M127.8 104.4h0M30.2 130.9h0M78.0 110.8h0M105.0 108.2h0M99.7 38.4h0M5.2 63.4h0M60.7 99.2h0M94.1 76.4h0M144.6 113.3h0M66.3 125.2h0M86.3 97.1h0M48.3 88.7h0M113.5 80.0h0M175.0 41.2h0M171.5 94.6h0M57.2 84.4h0M147.5 110.6h0M157.7 130.8h0M64.9 84.4h0M120.1 72.4h0M122.7 120.5h0M112.7 113.9h0M110.3 130.1h0M81.6 118.4h0M175.1 52.1h0M74.7 105.9h0M105.0 114.4h0M17.5 125.2h0M126.6 69.6h0M4.9 92.4h0M92.9 122.1h0M58.1 101.8h0M50.7 117.3h0M173.3 77.8h0M109.8 126.1h0M65.0 125.6h0M146.0 70.3h0M161.6 121.9h0M155.4 46.7h0M108.7 86.9h0M122.5 55.0h0M120.3 106.7h0M155.8 121.9h0M168.1 66.8h0M130.5 112.7h0M100.6 53.8h0M76.2 111.4h0M104.3 34.2h0M51.1 100.3h0M61.0 125.9h0M64.1 123.1h0M165.1 82.2h0M127.1 29.7h0M97.6 89.5h0M77.6 117.0h0M105.9 82.5h0M103.3 128.7h0M96.9 101.4h0M109.7 50.8h0M108.7 103.3h0M96.8 88.1h0M75.5 128.0h0M29.2 117.3h0M79.1 84.2h0M83.6 105.0h0M77.1 90.3h0M167.7 98.1h0M144.5 36.4h0M104.3 120.2h0M58.8 131.5h0M113.9 13.6h0M43.8 103.0h0M76.5 107.7h0M79.9 101.5h0M162.7 90.8h0M75.0 103.4h0M52.6 125.1h0M92.6 78.7h0M72.5 111.1h0M107.2 56.7h0M171.5 59.2h0M84.0 125.6h0M51.0 88.0h0M103.5 94.1h0M165.3 95.4h0M110.9 112.8h0M62.1 76.7h0M92.7 97.4h0M159.2 80.3h0M50.5 118.7h0M62.4 94.0h0M72.9 78.3h0M1.3 99.6h0M168.7 59.3h0M54.7 126.4h0M119.0 12.2h0M92.6 100.0h0M16.6 96.1h0M68.7 109.2h0M76.3 71.2h0M106.1 63.0h0M96.1 124.2h0M60.6 86.4h0M140.3 68.1h0M108.6 109.6h0M31.8 125.6h0M44.4 125.6h0M80.6 122.4h0M82.2 98.6h0M132.0 79.3h0M109.8 84.0h0M64.4 96.7h0M111.1 30.4h0M36.5 99.1h0M88.7 128.9h0M103.7 124.2h0M158.2 115.9h0M52.4 108.7h0M103.3 89.0h0M174.1 104.6h0M68.3 121.6h0M67.1 102.3h0M59.7 89.5h0M166.3 120.9h0M8.6 100.2h0M105.0 77.2h0M164.5 82.0h0M55.0 92.8h0M148.5 59.3h0M51.3 82.9h0M113.0 18.9h0M106.6 31.6h0M88.2 105.8h0M132.9 102.7h0M105.6 120.0h0M162.2 78.5h0M174.6 115.1h0M139.7 128.9h0" stroke="#1818ff" stroke-width="1.7" stroke-linecap="round" fill="none"/>
<path d="M128.1 37.0h0M121.0 107.5h0M90.7 129.4h0M94.4 107.0h0M81.2 104.1h0M103.4 95.6h0M113.9 125.9h0M64.4 111.8h0M83.2 76.8h0M72.2 95.6h0M147.3 113.5h0M30.9 112.0h0M112.2 30.0h0M176.2 107.8h0M173.8 80.9h0M130.7 87.4h0M162.1 110.2h0M75.4 76.3h0M71.9 130.9h0M124.6 28.7h0M157.7 103.1h0M81.7 125.8h0M59.4 125.2h0M52.2 100.3h0M98.1 94.3h0M107.9 61.2h0M95.2 114.2h0M155.7 101.8h0M154.4 112.0h0M113.1 83.2h0M82.6 105.5h0M62.6 105.4h0M104.1 91.9h0M110.0 51.5h0M3.1 68.7h0M153.7 93.6h0M164.9 99.8h0M123.8 114.8h0M114.7 120.1h0M93.6 97.6h0M146.8 20.8h0M124.8 107.7h0M150.2 99.9h0M28.2 119.8h0M147.1 124.8h0M6.1 117.3h0M127.7 125.4h0M104.3 54.6h0M120.2 25.5h0M47.9 125.6h0M65.1 98.3h0M120.8 83.1h0M45.2 126.9h0M79.4 127.3h0M151.6 66.4h0M109.0 67.0h0M96.4 128.4h0M107.8 67.5h0M95.9 78.0h0M160.1 109.9h0M159.2 89.4h0M157.2 63.4h0M126.2 88.1h0M124.6 109.2h0M112.9 14.9h0M79.9 89.9h0M82.7 128.1h0M78.1 76.4h0M101.2 97.7h0M37.6 124.5h0M37.2 113.6h0M96.5 80.4h0M66.0 124.6h0M122.9 110.6h0M151.5 100.3h0M125.1 68.2h0M41.5 102.6h0M67.6 130.8h0M54.5 119.0h0M121.7 75.8h0M99.4 124.5h0M136.2 85.6h0M124.4 116.0h0M100.0 120.4h0M53.0 129.2h0M85.2 109.4h0M156.7 72.1h0M76.7 124.4h0M51.5 95.5h0M155.8 90.9h0M100.1 115.4h0M152.6 122.1h0M71.6 127.9h0M93.7 102.7h0M91.5 86.9h0M129.2 86.2h0M164.5 54.0h0M64.5 109.4h0M173.0 90.3h0M7.5 130.0h0M107.8 47.0h0M72.7 120.7h0M74.9 119.9h0M74.3 117.4h0M71.1 121.2h0M165.6 114.7h0M81.6 124.0h0M75.8 130.7h0M58.7 125.2h0M82.9 125.5h0M121.9 48.5h0M79.8 107.8h0M7.0 109.1h0M156.1 66.8h0M148.8 57.5h0M47.1 104.8h0M99.2 90.3h0M43.2 102.7h0M78.6 66.1h0M151.3 70.8h0M62.9 83.4h0M112.7 3.0h0M146.5 111.8h0M163.8 107.4h0M99.2 59.5h0M113.9 94.9h0M136.3 113.6h0M99.8 86.4h0M112.4 113.0h0M122.0 86.7h0M126.8 67.2h0M60.3 127.7h0M73.5 70.3h0M56.9 131.6h0M149.7 127.9h0M174.2 93.3h0M95.9 82.7h0M175.1 58.8h0M176.4 129.2h0M111.0 10.1h0M142.3 126.5h0M33.8 103.4h0M31.2 92.0h0M148.4 117.3h0M47.1 120.6h0M71.9 110.3h0M80.4 93.0h0M42.7 121.8h0M83.4 124.9h0M159.1 112.7h0M109.5 108.3h0M152.1 40.1h0M153.0 123.0h0M143.4 103.8h0M97.0 98.7h0M83.1 129.0h0M98.3 120.9h0M68.7 106.8h0M162.9 101.2h0M125.1 32.3h0M77.7 115.3h0M53.2 102.3h0M30.7 92.4h0M106.8 58.7h0M168.5 91.5h0M4.5 88.3h0M38.4 73.2h0M125.5 123.0h0M122.5 73.5h0M147.2 69.8h0M163.8 101.7h0M80.8 92.7h0M45.0 129.9h0M118.5 40.7h0M126.2 79.0h0M140.4 115.0h0M144.2 111.3h0M154.5 108.6h0M139.3 109.6h0M110.8 45.8h0M170.0 124.6h0M86.8 82.3h0M155.6 94.2h0M12.7 99.7h0M140.6 103.2h0M163.6 105.7h0M160.6 26.0h0M153.5 128.8h0M147.7 99.8h0M95.3 42.6h0M36.6 46.5h0M43.5 110.9h0M113.0 106.1h0M102.1 93.8h0M71.2 117.0h0M174.5 86.3h0M149.7 77.0h0M77.6 80.4h0M138.9 99.1h0M31.5 119.8h0M104.9 97.8h0M15.2 111.9h0M85.7 101.3h0M174.8 117.0h0M66.3 116.1h0M155.6 74.4h0M105.3 118.5h0M171.1 85.3h0M15.8 84.4h0M165.4 65.2h0M152.2 83.3h0M138.5 112.5h0M82.5 102.9h0M97.0 111.5h0M45.0 109.4h0M99.4 101.2h0M6.6 119.9h0M104.3 127.7h0M88.9 119.9h0M131.0 71.8h0M81.3 110.6h0M72.8 76.8h0M132.4 111.0h0M49.7 110.9h0M169.5 99.7h0M70.0 72.4h0M88.4 88.6h0M69.8 86.6h0M129.3 102.4h0M89.2 98.8h0M173.7 82.1h0M53.4 66.3h0M102.9 58.2h0M61.2 121.0h0M91.6 129.2h0M85.7 93.7h0M126.8 100.3h0M31.4 72.6h0M171.4 85.6h0M171.9 109.5h0M139.6 122.9h0M7.9 97.6h0M171.8 93.0h0M41.0 121.0h0M121.1 122.7h0M164.2 78.0h0M117.2 98.2h0M104.1 95.8h0M99.4 68.3h0M98.9 118.1h0M109.5 125.4h0M96.8 97.2h0M87.4 74.2h0M151.7 94.0h0M115.4 22.0h0M146.2 86.3h0M130.6 121.7h0M171.9 87.7h0M119.9 64.1h0M48.5 125.9h0M140.9 121.9h0M61.3 39.2h0M78.3 131.7h0M64.3 91.7h0M113.6 79.6h0M81.7 66.1h0M142.1 125.0h0M79.6 110.8h0M147.2 109.4h0M61.5 123.9h0" stroke="#1616ff" stroke-width="2.3" stroke-linecap="round" fill="none"/>
<path d="M107.1 121.1l1.2 2.4M160.5 105.8l-1.2 2.8M72.1 67.9l1.5 1.2M6.3 63.9l-1.2 2.0M75.2 63.4l-3.5 0.3M76.0 84.5l-3.5 0.4M87.8 119.1l-3.0 1.1M168.2 103.0l3.1 0.5M139.0 75.9l-1.6 0.9M137.7 83.9l3.2 1.2M91.8 100.8l1.4 0.8M90.2 125.1l1.0 2.0M164.3 47.7l1.1 1.5M36.7 108.1l0.4 3.2M51.3 111.9l2.5 0.3M166.9 113.5l-3.1 0.6M161.0 129.6l2.7 0.2M42.0 121.0l1.5 1.0M96.1 115.1l-3.1 1.4M87.0 105.1l-1.5 0.0M147.6 110.1l2.2 0.1M165.4 122.5l0.7 1.6M97.3 115.0l-2.4 0.7M66.6 124.6l-1.6 0.1M129.0 70.7l0.2 1.7M165.8 36.7l-3.4 0.3M103.4 86.9l2.1 0.8M3.0 107.4l-2.7 0.2M29.7 112.3l0.9 2.6M121.2 114.1l0.3 3.3M84.9 67.5l2.6 0.8M106.9 93.0l-1.5 0.4M174.4 94.0l1.3 2.0M68.2 56.6l-1.0 3.1M88.8 95.8l-0.2 1.7M122.2 75.0l-1.9 0.3M155.2 51.6l-1.4 1.0M135.5 114.0l2.7 0.9M111.6 81.1l1.0 3.1M74.9 117.5l1.7 0.3M64.3 101.7l2.4 0.6M113.3 94.2l1.6 0.9M36.9 96.5l0.5 3.1M82.2 99.5l-1.9 1.4M128.4 107.4l0.9 1.8M8.9 49.2l-1.3 1.9M149.9 125.8l-1.0 1.4M92.3 77.7l2.0 1.7M113.8 108.1l3.4 0.1M148.1 116.0l-2.1 1.2M147.1 109.6l2.2 0.7M148.1 123.6l1.0 2.0M105.4 110.8l0.4 1.8M172.2 64.8l1.6 0.3M59.2 122.3l1.7 0.8M174.4 95.3l0.5 1.7M68.3 101.2l2.4 1.2M172.6 81.2l-0.4 2.0M82.3 110.9l-1.6 2.1M43.1 127.6l2.6 2.0M80.5 125.4l-0.4 1.8M146.7 41.0l0.0 1.6M163.3 39.5l1.9 2.8M74.1 100.8l0.8 2.4M155.7 77.8l2.4 0.2M140.5 79.2l-3.1 1.3M128.1 117.0l0.4 3.5M152.2 43.7l-1.7 0.1M157.1 68.1l-1.7 1.1M105.8 95.5l-0.8 2.4M161.1 94.9l1.5 1.2M69.1 106.8l-3.3 0.1M125.0 94.8l0.9 3.1M117.3 10.1l-1.3 1.9M19.2 61.9l-2.7 1.8M133.4 118.0l1.7 3.0M106.4 117.9l0.8 1.8M91.0 84.2l-3.0 1.1M75.0 63.4l2.0 1.7M121.4 130.4l2.7 1.5M120.2 105.2l3.4 1.2M107.9 100.4l-2.2 0.7M142.3 94.0l-2.4 0.7M154.4 70.2l-1.1 3.2M87.4 98.7l1.5 0.1M74.4 111.3l1.5 2.2M114.9 122.3l-1.3 1.4M45.6 100.1l1.5 0.3M112.8 16.4l1.9 0.0M173.4 48.7l-2.3 0.4M166.1 91.8l1.3 1.4M114.5 121.4l0.4 2.0M169.7 66.1l1.9 1.5M58.2 108.8l0.9 3.4M83.9 122.4l0.4 1.5M145.2 92.2l2.9 0.6M172.3 87.0l-0.2 2.7M93.5 96.3l-2.1 0.3M37.0 112.9l2.0 1.3M164.4 57.4l-3.3 0.5M69.2 91.9l-0.6 3.0M68.3 127.9l1.4 2.0M113.7 107.8l2.2 1.7M64.9 87.3l-2.1 1.7M120.9 67.8l-1.8 0.9M95.3 124.9l-2.4 1.8M115.0 67.3l-2.4 1.1M81.8 120.6l1.3 1.9M81.1 95.5l-1.3 1.6M165.7 79.7l-3.0 0.2M96.4 101.1l-2.4 0.0M66.8 87.5l-0.1 3.1M60.9 129.4l-1.7 0.2M54.5 63.8l-3.2 1.3M147.8 56.1l0.9 2.1M159.2 105.8l2.8 0.9M167.2 38.5l0.5 2.2M161.9 18.4l2.6 1.9M98.0 41.2l3.4 0.4M94.4 115.2l2.2 1.0M82.2 112.0l1.1 1.2M162.7 44.7l1.7 0.4M108.5 108.5l2.0 0.1M113.2 90.3l1.5 2.2M71.2 130.3l-2.5 0.7M154.6 91.0l-2.1 1.0M159.3 119.8l-1.8 1.0M156.1 87.2l0.7 1.8M167.0 54.2l1.0 2.3M156.5 103.2l-3.1 0.2M97.8 89.5l0.6 2.0M66.3 90.3l-1.9 2.1M54.5 102.7l-3.4 0.3M145.6 72.9l3.3 0.8M159.0 76.0l2.1 0.6M103.4 130.0l1.1 1.6M46.9 128.8l0.7 1.8M141.2 103.4l0.1 2.1M47.3 119.7l-0.3 3.5M23.3 41.2l1.7 0.3M106.1 72.4l1.7 0.9M156.1 66.0l-3.2 0.4M59.2 103.3l0.3 3.6M90.6 118.1l1.6 0.2M167.0 74.9l2.7 1.7M116.8 114.8l-1.9 1.2M113.0 68.7l-2.2 0.8M108.4 115.0l-0.9 3.0M135.9 84.6l-1.9 1.8M151.4 130.3l0.9 1.6M127.0 79.9l0.9 3.4M118.9 130.0l-3.3 0.1M154.5 67.3l-1.0 1.2M106.5 112.1l0.2 3.6M123.5 111.2l-0.1 2.9M2.4 121.0l-0.9 2.5M143.9 127.9l-1.2 2.2M154.2 106.0l0.9 3.4M160.9 65.6l1.0 2.6M111.4 98.8l-2.1 0.3" stroke="#1a1aff" stroke-width="2.1" stroke-linecap="round" fill="none"/>
</g>
<g id="b2">
<ellipse cx="18" cy="121" rx="23" ry="11" fill="#1414f4" opacity="0.95" filter="url(#bl4)"/><ellipse cx="14" cy="123" rx="13" ry="7" fill="#1818ff" opacity="0.8" filter="url(#bl2)"/>
<ellipse cx="159" cy="88" rx="5.5" ry="4.5" fill="#1818ff" opacity="0.95" filter="url(#bl2)"/>
<path d="M83.8 86.8h0M25.2 1.4h0M25.6 58.1h0M71.4 111.2h0M10.7 120.8h0M16.1 130.3h0M19.9 55.9h0M55.2 82.0h0M123.0 6.8h0M172.3 87.6h0M20.1 31.0h0M5.0 108.6h0M91.6 29.3h0M68.5 101.9h0M97.1 23.5h0M6.5 36.5h0M112.4 6.9h0M36.9 37.2h0M29.6 122.0h0M60.3 31.9h0M176.2 66.5h0M112.9 30.3h0M84.3 82.8h0M167.1 118.1h0M51.4 115.3h0M124.4 28.3h0M23.3 117.0h0M169.8 100.4h0M102.4 45.9h0M129.9 74.4h0M69.6 32.4h0M57.1 90.5h0M64.5 3.9h0M78.3 23.7h0M60.2 31.5h0M166.6 1.0h0M49.4 26.6h0M38.9 121.3h0M123.2 21.4h0M107.1 111.3h0M61.8 96.7h0M88.2 47.6h0M50.4 123.6h0M56.7 16.6h0M72.8 81.6h0M71.8 50.1h0M70.5 106.5h0M154.2 108.4h0M129.7 40.3h0M152.7 110.0h0M155.3 3.2h0M2.3 22.6h0M126.3 39.1h0M115.0 105.7h0M168.8 90.1h0M148.1 17.1h0M19.1 11.1h0M1.5 32.9h0M83.9 27.3h0M74.8 71.7h0M163.0 79.2h0M174.7 64.0h0M110.2 70.7h0M131.5 33.3h0M101.9 49.9h0M62.6 131.7h0M88.7 60.7h0M70.6 27.1h0M13.0 88.6h0M118.9 22.7h0M49.9 111.0h0M108.8 94.3h0M74.3 41.5h0M73.0 6.8h0M20.6 40.6h0M21.5 109.8h0M64.8 24.9h0M76.9 2.8h0M63.4 52.8h0M64.1 37.9h0M170.5 70.3h0M50.4 99.7h0M63.2 12.4h0M73.2 42.9h0M55.6 123.7h0M124.7 27.0h0M169.4 8.7h0M176.2 102.9h0M160.9 41.8h0M84.7 26.9h0M158.2 123.1h0M119.7 77.9h0M83.2 59.1h0M35.6 54.3h0M69.1 26.5h0M161.3 85.8h0M25.4 71.5h0M57.2 77.5h0M157.0 21.0h0M87.5 120.0h0M151.7 34.4h0M155.0 88.4h0M7.3 109.8h0M1.5 96.9h0M52.8 27.4h0M15.5 23.2h0M140.1 120.9h0M59.0 126.7h0M46.4 95.2h0M116.1 22.3h0M131.1 116.0h0M161.3 131.8h0M45.3 101.4h0M0.7 11.2h0M40.3 123.1h0M152.3 120.9h0M122.9 86.4h0M16.3 117.3h0M55.7 51.8h0M126.0 23.0h0M62.7 40.9h0M19.1 55.9h0M130.3 29.9h0M25.3 104.5h0M109.9 12.0h0M75.4 24.5h0M78.5 15.0h0M12.8 113.5h0M10.6 117.9h0M58.2 95.0h0M12.8 19.4h0M109.4 22.5h0M163.2 129.9h0M80.6 86.8h0M11.0 118.9h0M67.8 82.1h0M110.5 71.4h0M66.4 16.1h0M10.0 29.2h0M58.5 0.1h0M15.3 128.1h0M90.8 85.4h0M84.1 90.9h0M31.5 107.6h0M119.9 15.5h0M24.0 109.9h0M24.9 91.3h0M158.2 94.5h0M152.8 33.9h0M26.2 116.5h0M35.0 97.9h0M142.6 97.5h0M144.6 107.8h0M57.3 61.0h0M157.9 80.9h0M92.3 61.3h0M90.5 17.2h0M170.9 81.8h0M158.6 94.6h0M71.9 11.4h0M169.9 33.8h0M78.4 80.8h0M112.7 29.8h0M138.1 126.0h0M134.4 119.3h0M36.5 1.1h0M4.0 130.7h0M75.1 75.2h0M59.8 67.1h0M116.8 4.0h0M115.0 60.3h0M145.7 78.0h0M2.1 73.8h0M92.9 29.5h0M130.9 116.9h0M116.8 74.1h0M48.7 45.7h0M175.3 129.3h0M131.3 43.7h0M159.0 98.5h0M40.1 104.4h0M8.4 107.1h0M90.9 88.5h0M38.7 32.1h0M125.9 104.0h0M90.7 33.4h0M86.7 103.4h0M41.1 128.9h0M18.3 123.0h0M56.7 45.0h0M69.4 18.4h0M122.1 24.3h0M176.1 92.0h0M113.8 14.5h0M142.7 93.4h0M59.0 107.6h0M109.7 26.4h0M146.6 40.6h0M30.4 51.3h0M22.9 19.0h0M96.9 18.1h0M90.0 85.6h0M116.9 0.1h0M54.8 35.8h0M1.5 12.9h0M165.5 69.4h0M129.5 122.8h0M9.1 106.5h0M80.0 24.6h0M58.8 3.0h0M72.2 34.0h0M114.2 36.7h0M127.6 97.5h0M122.4 49.6h0M54.2 14.8h0M108.1 84.3h0M92.6 97.5h0M159.7 94.4h0M111.2 89.8h0M66.5 117.4h0M107.8 6.2h0M102.0 63.9h0M98.4 17.1h0M58.9 34.0h0M99.6 84.5h0M69.3 15.0h0M175.3 88.4h0M92.7 20.6h0M123.6 95.4h0M102.4 1.2h0M109.4 1.0h0M62.3 114.8h0M36.2 89.8h0M109.2 23.9h0M50.6 110.1h0M117.5 5.5h0M43.6 123.7h0M117.6 95.4h0M70.0 73.3h0M38.7 85.4h0M13.9 124.9h0M162.1 7.4h0M166.3 83.8h0M39.0 8.4h0M152.3 114.2h0M39.0 113.9h0M71.5 117.2h0M62.4 26.3h0M128.9 119.4h0M131.5 90.9h0M17.5 47.5h0M99.1 69.4h0M165.3 120.7h0M48.1 126.4h0M111.5 106.3h0M113.5 55.3h0M146.2 52.3h0M103.7 30.7h0M32.1 108.1h0M136.9 116.8h0M45.9 109.8h0M111.8 53.4h0M132.6 117.7h0M37.5 66.0h0M169.8 57.6h0M35.3 28.7h0M107.3 116.1h0M73.5 107.5h0M17.7 30.9h0M151.0 33.5h0M19.2 105.6h0M167.8 44.1h0M148.8 125.2h0M16.0 112.2h0M13.5 120.9h0M170.4 43.5h0M159.3 91.0h0M171.4 110.5h0M162.9 130.6h0M50.7 129.9h0M67.2 22.8h0M174.8 75.4h0M98.7 17.2h0M155.0 99.7h0M165.1 28.9h0M10.1 64.5h0M117.1 128.0h0M37.0 113.0h0M63.6 51.5h0M127.7 64.1h0M49.2 50.1h0M0.7 90.8h0M88.1 106.8h0M148.4 11.8h0M163.4 101.7h0M106.8 83.6h0M11.4 113.8h0M127.2 85.4h0M22.1 131.9h0M99.7 9.4h0M21.2 23.4h0M30.2 121.4h0M156.2 72.7h0M127.9 34.3h0M53.0 27.5h0M95.0 58.9h0M138.1 88.2h0M18.1 49.7h0M118.5 34.1h0M24.1 49.5h0M11.3 110.5h0M94.2 67.8h0M11.6 47.1h0M95.6 17.3h0M127.0 68.8h0M107.5 44.5h0M110.6 118.4h0M32.5 12.3h0M173.6 75.1h0M128.8 94.5h0M72.2 23.5h0M51.0 39.1h0M51.4 94.0h0M88.7 20.7h0M152.5 31.5h0M122.7 33.1h0M18.7 130.0h0M60.1 38.2h0M22.7 45.5h0M35.7 115.9h0M68.6 14.6h0M104.1 82.7h0M106.0 20.9h0M99.2 30.0h0M51.3 25.3h0M19.1 14.9h0M160.8 118.5h0M93.4 7.2h0M33.2 102.8h0M4.9 27.9h0M79.9 19.2h0M25.6 131.8h0M7.3 93.6h0M79.3 96.8h0M116.8 35.7h0M40.0 27.8h0M79.0 50.7h0M105.7 59.0h0M110.9 14.7h0M56.1 112.9h0M31.7 123.7h0M168.5 85.2h0M144.9 117.2h0M65.3 79.7h0M41.4 80.8h0M16.3 126.5h0M53.5 10.1h0M112.8 42.3h0M51.7 88.4h0M28.9 3.3h0M164.7 96.6h0M47.3 123.1h0M57.8 106.3h0M131.4 122.6h0M121.4 109.2h0M111.7 39.8h0M14.0 72.2h0M75.1 85.2h0M122.3 27.2h0M1.4 85.6h0M161.8 59.4h0M93.1 64.6h0M70.6 36.0h0M85.7 26.9h0M76.7 53.4h0M162.9 117.9h0M126.0 130.1h0M11.5 40.3h0M18.5 28.6h0M5.6 99.3h0M176.0 106.7h0M117.0 97.6h0M76.2 86.8h0M125.9 23.0h0M98.4 30.3h0M43.7 129.6h0M159.0 89.8h0M127.9 92.6h0M124.8 120.9h0M56.8 22.0h0M66.5 44.0h0M109.7 90.0h0M45.0 98.1h0M132.1 87.4h0M7.6 54.2h0M76.9 40.4h0M48.8 124.8h0M73.0 53.2h0M121.7 38.3h0M58.5 68.1h0M31.2 106.6h0M137.7 96.4h0M167.7 73.0h0M108.8 100.1h0M164.4 60.1h0M59.8 1.8h0M145.1 127.1h0M23.8 35.9h0M12.1 128.5h0M97.5 33.8h0M57.7 82.3h0M151.4 49.3h0M59.7 9.0h0M19.8 114.5h0M108.9 3.4h0M44.6 103.7h0M42.1 130.5h0M57.4 40.5h0M81.2 85.7h0M76.8 130.0h0M63.7 38.4h0M14.8 122.9h0M83.4 5.3h0M96.5 34.2h0M140.4 84.8h0M141.6 114.6h0M99.2 114.7h0M25.0 131.7h0M161.1 112.0h0M1.7 120.4h0M99.5 69.9h0M89.7 95.3h0M86.2 20.9h0M140.5 81.8h0M105.3 47.8h0M165.8 49.3h0M153.2 6.1h0M150.2 105.2h0M107.9 110.3h0M118.3 11.2h0M171.8 73.6h0M14.9 49.2h0M14.0 57.4h0M99.1 27.0h0M107.1 26.6h0M25.4 114.2h0M38.3 34.6h0M5.5 38.6h0M160.9 58.3h0M58.3 83.3h0M46.7 48.2h0M150.6 29.5h0M84.1 91.7h0M45.9 108.4h0M119.3 26.3h0M20.7 127.5h0M167.9 121.8h0M46.6 92.9h0M36.7 113.6h0M157.9 52.5h0M38.5 72.7h0M97.8 31.8h0M99.1 67.8h0M21.2 122.3h0M162.9 103.0h0M38.4 22.3h0M42.0 75.4h0M67.2 56.1h0M131.0 105.4h0M169.9 31.7h0M155.2 98.8h0M134.8 92.0h0M4.2 107.5h0M3.6 114.7h0M165.5 68.1h0M43.1 36.2h0M141.4 130.5h0M30.0 123.3h0M104.7 87.7h0M18.1 47.7h0M28.2 82.4h0M124.3 100.5h0M43.2 85.5h0M168.0 129.9h0M24.3 17.6h0M149.7 63.1h0M77.0 30.4h0M18.3 36.1h0M101.2 24.7h0M44.4 10.8h0M115.5 96.1h0M83.0 24.7h0M25.7 105.3h0M96.6 108.5h0M33.4 112.4h0M99.3 55.3h0M32.6 97.6h0M58.5 82.9h0M133.7 65.4h0M33.8 8.6h0M89.9 0.1h0M48.5 123.6h0M25.1 116.2h0M113.9 98.3h0M19.7 50.1h0M122.4 121.1h0M101.1 13.1h0M10.4 66.9h0M165.4 97.0h0M159.9 88.2h0M40.7 91.3h0M42.3 64.7h0M32.9 32.8h0M23.2 36.2h0M96.6 51.3h0M121.1 29.2h0M102.0 74.1h0M122.0 66.8h0M13.1 55.3h0M105.6 96.5h0M126.7 85.1h0M129.8 75.9h0M68.0 127.2h0M176.4 25.0h0M61.8 33.9h0M70.5 123.8h0M95.1 33.7h0M54.8 5.5h0M5.1 47.2h0M36.0 16.9h0M17.9 94.2h0M103.9 99.8h0M1.4 53.6h0M0.4 121.0h0M36.1 64.7h0M148.5 109.0h0M58.3 114.1h0M73.5 48.7h0M105.1 4.6h0M18.1 85.1h0M160.6 103.4h0M95.2 7.3h0M68.3 94.7h0M142.1 111.4h0M4.7 68.5h0M175.3 124.6h0M6.8 110.9h0M49.0 24.9h0M104.1 79.2h0M68.2 40.5h0M89.7 40.8h0M60.4 6.3h0M144.8 99.9h0M134.5 93.6h0M3.9 46.8h0M161.3 65.0h0M70.1 23.4h0M0.1 22.8h0M114.7 107.3h0M111.5 79.5h0M112.0 127.4h0M127.7 38.5h0M23.0 129.2h0M67.0 113.7h0M56.0 11.8h0M72.7 57.9h0M133.3 105.8h0M127.7 11.0h0M55.4 45.7h0M153.5 108.4h0M92.3 9.5h0M86.0 15.8h0M132.6 75.5h0M161.7 20.0h0M2.3 113.7h0M146.3 81.5h0M122.3 68.6h0M79.4 57.4h0M122.0 16.3h0M164.5 121.3h0M175.5 67.9h0M116.2 21.0h0M166.1 72.0h0M173.2 103.9h0M127.7 37.9h0M85.0 31.4h0M6.8 2.3h0M78.2 11.9h0M142.7 103.8h0M123.3 28.9h0M25.3 117.0h0M149.0 71.0h0M36.9 94.0h0M54.9 34.3h0M69.9 62.7h0M40.6 63.9h0M34.6 121.0h0M137.9 101.8h0M27.4 117.4h0M23.0 18.5h0M160.9 108.6h0M133.7 114.9h0M82.0 83.3h0M65.5 24.7h0M124.3 98.7h0M66.8 24.8h0M65.0 120.3h0M163.5 98.5h0M99.0 0.6h0M24.2 7.5h0M62.0 32.1h0M54.9 3.4h0M53.1 79.5h0M74.2 77.5h0M28.7 44.5h0M98.1 81.3h0M69.0 63.4h0M128.1 111.2h0M150.5 79.8h0M90.6 88.5h0M22.6 130.4h0M12.8 95.2h0M119.9 23.5h0M17.9 2.0h0M173.6 60.2h0M136.8 84.4h0M7.2 54.8h0M169.8 81.3h0M46.8 49.4h0M110.1 84.8h0M110.5 94.8h0M142.4 72.1h0M51.4 127.1h0M77.1 28.0h0M164.9 41.6h0M48.2 121.0h0M119.3 109.6h0M7.5 128.2h0M58.4 102.9h0M141.9 92.8h0M92.6 119.6h0M45.3 21.6h0M0.8 26.4h0M53.2 73.0h0M47.9 116.7h0M29.9 35.1h0M42.2 42.1h0M171.3 59.2h0M131.7 131.2h0M115.3 6.8h0M7.0 100.3h0M103.1 1.6h0M56.2 84.0h0M94.7 56.5h0M64.5 86.3h0M138.5 30.4h0M129.8 10.5h0M123.8 29.6h0M18.3 125.6h0M159.2 88.3h0M90.2 25.7h0M90.5 23.7h0M107.5 53.5h0M36.4 36.0h0M151.2 0.7h0M36.5 72.9h0M4.7 114.5h0M46.0 53.7h0M156.5 111.1h0M19.4 13.4h0M134.4 81.7h0M73.2 129.3h0M158.4 64.4h0M120.6 21.7h0M135.4 35.5h0M135.9 75.9h0M148.0 15.1h0M175.4 39.8h0M173.4 124.3h0M36.2 14.8h0M41.4 118.7h0M58.5 18.6h0M171.8 111.8h0M173.8 97.3h0M63.5 109.4h0M57.7 100.7h0M62.4 27.3h0M59.4 114.3h0M164.1 59.5h0M3.7 130.4h0M163.3 85.9h0M52.9 54.2h0M98.5 27.7h0M108.9 44.3h0M115.7 87.2h0M76.7 42.7h0M2.9 118.8h0M25.7 129.9h0M165.8 84.3h0M3.4 101.6h0M26.9 82.7h0M11.4 29.7h0M24.2 128.6h0M0.9 118.8h0M36.1 119.0h0M107.7 11.6h0M141.3 103.8h0M126.8 102.9h0M16.9 8.4h0M53.8 38.1h0M26.1 42.7h0M71.0 61.5h0M24.7 33.6h0M148.8 66.3h0M87.2 27.3h0M7.6 0.6h0M21.5 18.7h0M163.5 82.1h0M174.5 83.8h0M61.1 123.7h0M91.2 102.1h0M42.0 128.3h0M59.8 101.8h0M62.8 38.4h0M29.1 67.8h0M128.9 118.8h0M67.9 44.8h0M91.4 38.3h0M47.6 124.9h0M30.5 116.6h0M117.2 24.1h0M76.8 66.3h0M103.5 92.7h0M98.8 10.5h0M161.9 109.5h0M86.4 85.1h0M32.4 120.2h0M90.1 26.0h0M86.9 49.2h0M154.2 127.2h0M118.8 86.9h0M47.0 46.7h0M85.7 81.8h0M25.4 117.7h0M90.4 13.6h0M171.9 97.5h0M55.6 91.0h0M116.7 23.5h0M14.6 37.6h0M67.8 40.2h0M45.3 64.7h0M63.3 51.9h0M132.3 68.6h0M117.5 79.2h0M65.5 5.3h0M176.2 36.0h0M70.5 67.4h0M40.9 122.6h0M141.0 91.9h0M45.8 121.1h0M33.0 78.1h0M77.2 28.1h0M23.1 113.1h0M102.8 76.1h0M52.9 94.2h0M151.1 126.7h0M153.8 76.3h0M63.9 39.1h0M124.8 68.2h0M142.3 40.8h0M75.8 74.8h0M76.7 36.5h0M89.3 97.0h0M1.4 81.2h0M7.1 75.1h0M22.5 27.5h0M73.3 81.1h0M136.3 101.3h0M133.8 6.7h0M133.6 122.1h0M139.2 43.3h0M53.2 44.0h0M88.6 65.2h0M164.2 52.5h0M74.1 37.6h0M122.6 30.9h0M19.8 55.7h0M140.8 102.8h0M72.8 48.3h0M80.2 31.9h0M60.9 101.8h0M9.8 79.2h0M48.3 48.2h0M18.1 108.8h0M80.1 15.1h0M77.9 11.5h0M73.8 116.1h0M66.3 96.9h0M143.1 84.2h0M8.4 117.7h0M58.5 85.2h0M69.8 77.0h0M84.8 28.0h0M78.9 40.6h0M117.8 103.5h0M43.6 109.0h0M89.2 77.1h0M43.6 73.8h0M112.7 119.3h0M139.3 124.5h0M39.6 104.5h0M84.9 89.2h0M124.0 81.5h0M148.1 95.0h0M100.3 26.9h0M125.3 65.1h0M67.7 0.3h0M100.8 70.9h0M58.4 84.2h0M83.0 6.5h0M96.0 15.3h0M1.1 129.5h0M57.1 124.7h0M97.6 28.2h0M129.0 99.9h0M53.8 30.9h0M94.1 34.4h0M47.6 35.7h0M62.1 69.6h0M157.4 100.6h0M81.4 9.5h0M126.3 128.5h0M74.4 126.3h0M107.7 11.8h0M110.3 82.4h0M64.8 83.1h0M108.8 75.7h0M137.9 101.5h0M100.8 100.3h0M125.1 29.6h0M126.3 120.5h0M14.7 114.0h0M91.4 92.3h0M20.2 8.2h0M162.4 95.7h0M88.1 85.2h0M161.7 70.0h0M112.4 81.4h0M170.3 64.9h0M145.3 89.7h0M90.2 89.6h0M30.8 128.4h0M90.7 19.3h0M109.2 8.7h0M149.0 121.3h0M18.1 57.0h0M102.3 91.0h0M47.3 38.0h0M32.6 42.1h0M81.6 62.4h0M27.8 123.6h0M48.2 26.7h0M76.5 24.2h0M18.6 32.2h0M70.3 73.2h0M23.9 102.9h0M151.8 99.0h0M118.4 85.2h0M158.6 95.4h0M131.1 47.8h0M99.4 131.3h0M29.3 35.2h0M175.5 103.6h0M16.0 127.3h0M22.9 108.9h0M157.9 91.5h0M86.9 37.5h0M65.9 4.2h0M57.7 24.9h0M5.2 129.3h0M69.1 122.0h0M175.0 109.9h0M73.8 88.1h0M141.2 72.9h0M137.6 96.5h0M47.3 11.2h0M117.4 34.8h0M136.6 67.4h0M53.1 17.3h0M109.9 130.6h0M25.3 22.1h0M98.0 120.7h0M107.3 74.5h0M46.4 76.3h0M132.3 3.5h0M128.6 116.2h0M34.4 24.2h0M132.6 110.3h0M100.0 95.8h0M174.8 64.1h0M127.6 39.0h0M102.0 75.8h0M52.5 30.4h0M122.9 28.4h0M97.9 88.7h0M82.8 47.8h0M60.4 17.3h0M156.2 112.6h0M117.3 23.3h0M94.2 82.5h0M114.2 29.1h0M36.9 121.7h0M26.3 14.5h0M95.2 66.2h0M62.8 60.7h0M2.6 83.3h0M106.2 29.6h0M53.3 22.4h0M61.1 32.2h0M116.3 93.6h0M166.1 105.3h0M141.6 130.1h0M146.1 118.5h0M41.2 28.0h0M99.9 56.1h0M164.1 80.6h0M47.9 78.6h0M174.8 60.5h0M26.8 46.0h0M125.8 102.2h0M0.1 66.3h0M166.3 78.6h0M121.1 0.3h0M69.3 109.9h0M7.0 110.6h0M34.8 122.8h0M52.0 116.6h0M20.4 100.6h0M85.7 103.6h0M81.0 103.9h0M68.0 22.0h0M132.2 105.6h0M42.1 28.4h0M104.7 9.7h0M3.3 78.0h0M95.1 22.0h0M39.2 25.2h0M156.1 71.1h0M86.0 41.4h0M13.2 100.3h0M56.2 42.0h0M61.7 38.4h0M125.8 99.0h0M84.6 10.6h0M46.0 130.8h0M161.1 91.6h0M82.7 23.7h0M30.4 131.1h0M98.5 28.4h0M23.4 112.6h0M54.5 1.0h0M73.0 61.8h0M121.1 120.3h0M129.0 13.8h0M62.5 98.1h0M125.4 76.1h0M78.1 73.5h0M110.4 5.0h0M67.8 51.2h0M76.3 33.2h0M121.3 69.5h0M92.3 47.8h0M37.0 109.4h0M90.8 90.2h0M62.5 40.4h0M27.2 120.2h0M62.9 7.4h0M95.3 103.8h0M108.7 64.7h0M66.5 41.5h0M8.0 24.8h0M106.1 73.5h0M169.8 85.2h0M56.7 35.2h0M11.2 128.8h0M103.8 16.9h0M114.3 21.7h0M44.0 118.2h0M108.3 21.3h0M6.5 25.9h0M102.0 39.7h0M91.0 34.0h0M59.8 59.6h0M103.9 62.4h0M98.2 79.7h0M1.5 125.6h0M170.1 82.0h0M58.9 32.8h0M154.1 98.4h0M56.4 120.7h0M29.8 2.4h0M67.9 36.0h0M79.0 86.9h0M13.4 25.5h0M91.7 100.8h0M124.1 32.1h0M112.6 19.0h0M124.3 22.5h0M80.9 47.1h0M97.5 130.8h0M157.9 125.1h0M53.3 116.8h0M176.2 51.6h0M115.0 10.4h0M43.9 101.4h0M74.7 81.8h0M19.9 47.0h0M21.2 76.6h0M8.3 76.0h0M156.3 120.7h0M79.0 38.3h0M70.9 29.8h0M88.8 12.3h0M19.8 121.1h0M121.0 106.7h0M174.7 117.2h0M57.8 76.7h0M19.3 76.8h0M18.0 112.9h0M42.5 84.3h0M26.4 116.0h0M45.7 5.6h0M92.0 63.0h0M17.1 116.4h0M15.0 57.1h0M121.3 79.7h0M77.4 130.9h0M82.4 7.5h0M97.1 124.2h0M91.4 90.9h0M29.6 8.2h0M12.1 111.0h0M65.5 73.2h0M83.4 57.5h0M0.9 1.6h0M128.7 81.4h0M26.5 49.5h0M55.4 18.8h0M101.1 58.8h0M161.1 97.7h0M26.9 91.1h0M157.8 75.1h0M31.8 50.3h0M93.1 12.8h0M116.6 2.1h0M21.8 130.7h0M107.4 67.0h0M159.1 20.7h0M158.9 101.3h0M150.2 104.0h0M20.6 2.5h0M139.8 36.5h0M125.5 128.9h0M49.7 9.9h0M23.9 103.3h0M37.8 108.0h0M16.6 41.6h0M66.8 29.2h0M166.7 124.1h0M8.5 125.6h0M22.7 128.5h0M5.5 101.6h0M102.3 8.8h0M20.9 87.7h0M12.7 44.3h0M71.4 114.8h0M30.7 130.4h0M49.6 21.9h0M102.3 38.5h0M41.9 26.2h0M171.5 121.5h0M39.6 27.1h0M56.0 83.2h0M165.9 100.6h0M55.5 109.9h0M49.2 35.7h0M25.1 127.1h0M122.1 21.9h0M60.6 44.0h0M115.3 21.9h0M169.2 120.0h0M104.3 82.4h0M82.4 41.2h0M126.8 92.8h0M77.6 105.2h0M30.2 121.2h0M111.3 14.7h0M65.3 76.0h0M127.9 100.0h0M114.4 5.7h0M161.8 25.1h0M53.3 43.1h0M42.6 81.1h0M122.4 122.0h0M5.3 17.9h0M101.2 91.3h0M32.7 98.6h0M72.3 70.1h0M93.5 76.0h0M172.7 83.5h0M50.1 31.9h0M168.9 75.6h0M56.0 15.3h0M78.2 88.7h0M35.5 106.9h0M120.8 36.0h0M139.5 24.4h0M125.0 18.1h0M118.4 79.3h0M99.6 95.0h0M125.8 24.5h0M72.3 49.2h0M28.1 21.4h0M46.5 21.8h0M26.4 7.8h0M16.4 38.2h0M138.4 130.5h0M69.8 107.8h0M68.5 75.2h0M93.2 103.5h0M169.2 92.1h0M72.4 46.7h0M99.8 43.4h0M123.2 33.4h0M113.2 84.4h0M3.1 76.5h0M7.9 28.2h0M90.3 129.3h0M13.5 38.9h0M53.2 21.5h0M12.4 43.2h0M60.0 14.0h0M124.4 92.0h0M83.6 77.4h0M64.3 8.0h0M143.2 109.6h0M112.8 48.9h0M161.0 63.9h0M43.2 59.2h0M168.3 64.1h0M117.9 102.3h0M28.3 24.2h0M47.2 114.5h0M93.6 131.7h0M30.2 39.1h0M11.9 37.7h0M48.0 20.9h0M73.5 116.7h0M164.9 58.2h0M134.1 57.1h0M5.6 71.6h0M34.2 12.1h0M78.9 16.1h0M87.8 104.7h0M176.2 104.7h0M11.0 119.1h0M42.7 102.2h0M132.0 129.4h0M164.7 10.5h0M40.7 123.5h0M65.2 97.5h0M154.8 23.8h0M149.3 95.3h0M78.4 75.5h0M46.0 101.4h0M120.2 24.4h0M168.2 109.1h0M68.4 107.5h0M76.1 50.9h0M50.9 130.8h0M22.3 125.6h0M80.3 94.8h0M0.7 34.1h0M53.3 27.9h0M38.0 124.7h0M5.5 110.4h0M148.4 130.1h0M48.8 1.0h0M84.8 44.7h0M71.5 43.0h0M105.9 1.7h0M108.0 85.5h0M71.3 12.1h0M44.4 101.6h0M33.9 36.1h0M3.7 130.6h0M70.7 83.0h0M6.9 119.5h0M16.1 31.9h0M68.4 123.4h0M55.4 20.8h0M10.9 27.2h0M131.0 108.7h0M28.3 117.0h0M111.4 97.5h0M25.3 127.7h0M99.7 22.1h0M162.9 66.2h0M35.7 29.3h0M124.7 96.5h0M29.7 33.6h0M99.9 50.0h0M161.6 71.7h0M97.7 64.4h0M111.4 40.6h0M21.8 48.3h0M71.6 130.3h0M114.0 75.6h0M95.1 27.4h0M131.9 115.6h0M150.4 80.9h0M2.0 0.6h0M120.6 80.2h0M13.3 38.8h0M108.2 121.5h0M32.0 81.2h0M71.0 9.3h0M21.3 96.9h0M55.0 93.4h0M1.3 49.2h0M175.0 123.6h0M102.7 9.4h0M65.1 11.7h0M86.3 33.6h0M139.0 77.4h0M51.5 115.9h0M97.0 104.2h0M81.3 48.4h0M131.0 128.3h0M154.0 14.8h0M45.8 53.9h0M106.7 62.1h0M17.1 39.8h0M150.5 50.0h0M62.4 53.1h0M121.1 121.3h0M50.4 107.4h0M93.9 82.3h0M64.7 40.2h0M57.2 92.3h0M131.4 81.2h0M128.3 8.1h0M158.9 127.6h0M74.8 7.9h0M15.5 124.3h0M108.5 78.5h0M110.5 56.2h0M83.5 34.6h0M150.8 86.2h0M9.1 8.2h0M68.7 83.3h0M154.1 6.8h0M77.8 24.9h0M7.9 37.9h0M106.3 109.0h0M13.2 114.0h0M64.0 106.8h0M91.2 23.8h0M158.8 82.1h0M111.0 43.7h0M37.7 3.2h0M37.6 88.9h0M78.5 87.6h0M68.9 40.6h0M150.7 117.7h0M118.3 97.7h0M91.2 131.4h0M91.5 4.9h0M68.8 58.8h0M33.6 13.5h0M16.4 3.1h0M30.4 123.3h0M120.7 75.1h0M136.9 83.5h0M108.6 127.3h0M155.3 111.9h0M50.0 53.0h0M152.1 102.1h0M116.0 104.1h0M75.9 87.4h0M119.8 85.2h0M81.8 20.1h0M43.2 121.5h0M53.2 131.6h0M173.9 106.3h0M164.2 128.2h0M13.2 105.5h0M110.2 92.6h0M173.8 130.3h0M91.3 88.3h0M39.6 52.7h0M39.1 17.1h0M99.2 31.3h0M73.1 38.4h0M163.2 97.5h0M56.3 15.3h0M26.8 115.3h0M70.2 46.8h0M63.5 16.3h0M56.0 28.5h0M165.4 106.2h0M67.7 43.4h0M99.3 87.9h0M103.5 128.0h0M95.3 87.0h0M36.4 107.0h0M28.9 88.2h0M80.1 11.6h0M34.3 43.1h0M84.5 81.1h0M137.1 10.8h0M55.0 107.2h0M99.9 69.5h0M161.8 74.7h0M151.2 43.2h0M128.5 84.2h0M36.9 63.9h0M56.1 56.4h0M113.2 21.6h0M73.5 105.8h0M112.1 75.6h0M93.6 35.8h0M100.9 122.8h0M14.8 130.3h0M11.7 12.1h0M34.8 12.3h0M96.6 83.7h0M99.7 61.3h0M95.4 129.4h0M25.8 11.6h0M109.2 107.7h0M71.4 131.5h0M49.3 39.9h0M69.1 13.2h0M35.7 121.5h0M63.4 28.5h0M96.5 20.4h0M63.8 29.7h0M114.8 6.1h0M156.6 118.2h0M116.1 130.1h0M49.5 99.8h0M99.3 125.8h0M159.2 14.0h0M169.1 54.2h0M37.3 11.7h0M173.7 71.4h0M111.7 16.0h0M16.2 21.4h0M168.7 29.1h0M73.8 87.3h0M72.3 51.4h0M132.4 96.4h0M63.2 89.6h0M66.3 33.2h0M59.2 47.6h0M166.5 93.4h0M133.1 28.0h0M20.7 2.8h0M82.0 39.3h0M51.3 33.2h0M117.0 78.4h0M173.6 62.5h0M52.9 30.3h0M102.0 103.0h0M36.1 126.5h0M72.2 14.7h0M119.4 94.2h0M58.5 50.7h0M96.1 107.7h0M144.5 77.8h0M31.6 71.2h0M148.4 125.4h0M15.2 22.0h0M69.0 127.8h0M11.6 111.3h0M169.7 97.9h0M40.4 0.1h0M107.9 39.7h0M109.6 36.2h0M114.4 115.6h0M67.8 23.6h0M117.5 34.6h0M175.6 105.5h0M52.3 46.3h0M122.2 84.8h0M74.4 21.6h0M42.0 107.8h0M113.1 84.1h0M21.7 127.1h0M133.3 32.8h0M1.2 9.5h0M16.5 25.7h0M148.2 102.0h0M54.4 91.8h0M73.0 15.6h0M139.8 126.5h0M18.7 30.0h0M38.9 58.2h0M144.1 93.3h0M124.8 110.6h0M32.9 109.9h0M70.8 121.3h0M107.6 72.0h0M167.5 81.4h0M99.9 67.0h0M161.2 93.8h0M47.9 22.7h0M156.4 104.7h0M166.4 74.1h0M153.2 59.7h0M19.9 118.3h0M82.0 31.3h0M99.6 35.1h0M69.6 32.5h0M162.4 84.1h0M105.5 112.3h0M31.2 125.4h0M118.7 106.7h0M30.1 56.0h0M41.3 89.9h0M31.6 10.0h0M41.2 129.0h0M13.1 42.1h0M87.9 42.2h0M127.1 32.4h0M87.1 10.6h0M5.2 116.5h0M90.4 123.1h0M154.2 105.4h0M28.3 113.9h0M91.4 82.5h0M14.4 58.5h0M136.5 124.8h0M98.0 83.9h0M96.9 79.6h0M72.9 118.8h0M139.5 95.9h0M29.3 16.2h0M35.4 72.7h0M53.5 47.3h0M81.8 48.9h0M26.0 121.1h0M2.7 45.0h0M154.2 70.1h0M45.0 94.0h0M108.9 97.4h0M12.9 39.4h0M91.4 98.1h0M60.9 93.5h0M108.3 86.3h0M57.6 81.5h0M82.0 87.3h0M92.5 100.5h0M36.3 49.1h0M39.7 6.3h0M145.2 73.6h0M21.4 118.7h0M108.0 109.8h0M72.5 95.4h0M42.1 82.0h0M62.9 61.0h0M99.5 71.3h0M124.3 86.8h0M107.9 84.7h0M146.5 40.4h0M86.3 90.6h0M60.1 13.5h0M112.5 110.4h0M73.3 33.3h0M6.1 23.6h0M83.9 30.6h0M64.7 95.9h0M121.5 16.0h0M73.6 36.2h0M67.2 100.2h0M166.9 109.6h0M50.1 71.0h0M53.5 106.6h0M139.9 74.6h0M32.6 81.2h0M97.9 70.3h0M43.9 116.8h0M27.1 14.8h0M7.6 131.4h0M6.3 122.5h0M87.8 15.3h0M66.5 64.5h0M131.1 20.1h0M163.3 70.5h0" stroke="#0c0ce6" stroke-width="1.8" stroke-linecap="round" fill="none"/>
<path d="M106.2 114.5h0M78.7 43.7h0M148.8 89.6h0M38.8 113.4h0M38.0 120.2h0M123.6 106.4h0M95.1 3.8h0M156.6 64.4h0M156.5 4.8h0M31.7 34.5h0M39.1 13.9h0M84.2 43.7h0M79.2 13.9h0M120.8 87.5h0M150.7 3.6h0M84.8 81.0h0M117.7 128.3h0M18.8 120.2h0M27.6 43.9h0M76.8 36.5h0M58.9 121.1h0M44.1 15.8h0M83.9 53.3h0M44.8 29.8h0M26.4 68.6h0M172.3 15.6h0M143.0 79.2h0M152.4 50.8h0M52.6 90.2h0M0.1 94.6h0M90.7 31.5h0M86.6 4.5h0M133.7 93.1h0M91.9 110.9h0M18.6 57.5h0M71.3 119.5h0M127.7 102.6h0M93.9 130.1h0M41.3 67.2h0M49.4 34.5h0M161.1 119.9h0M173.1 9.9h0M137.8 85.0h0M131.9 114.3h0M119.0 123.0h0M32.8 88.5h0M3.9 120.9h0M15.2 94.3h0M74.5 83.4h0M66.4 31.8h0M4.4 113.1h0M78.0 26.8h0M51.4 44.2h0M31.3 101.6h0M53.1 77.0h0M96.4 118.0h0M57.4 106.0h0M113.1 0.9h0M176.4 106.7h0M45.6 7.3h0M132.5 66.1h0M59.5 52.9h0M144.8 119.0h0M138.0 125.4h0M34.8 111.1h0M172.7 84.4h0M19.4 93.6h0M85.6 25.4h0M144.3 24.7h0M5.8 116.8h0M0.5 110.1h0M131.2 76.1h0M121.2 106.4h0M92.0 66.8h0M93.0 75.0h0M21.6 120.6h0M47.7 131.7h0M152.3 83.8h0M5.2 119.2h0M110.7 81.0h0M125.4 3.2h0M99.5 32.3h0M147.3 89.7h0M71.1 104.3h0M104.8 32.5h0M125.1 109.3h0M127.8 20.5h0M98.0 29.1h0M172.4 108.2h0M73.3 4.2h0M18.1 5.2h0M158.9 101.2h0M129.9 32.2h0M15.1 125.8h0M100.3 87.5h0M37.6 44.1h0M154.6 66.2h0M105.6 54.1h0M122.4 129.4h0M91.9 5.5h0M151.8 72.4h0M27.8 127.5h0M148.1 3.7h0M140.7 98.1h0M36.9 122.0h0M108.4 90.2h0M47.7 26.6h0M164.0 130.3h0M79.8 31.6h0M49.2 81.2h0M109.5 65.0h0M144.6 71.7h0M111.4 80.2h0M14.6 127.3h0M174.3 15.4h0M6.4 38.5h0M74.3 10.4h0M1.9 119.5h0M129.4 123.3h0M31.3 66.4h0M157.2 93.1h0M42.5 128.1h0M59.2 33.3h0M39.2 124.4h0M96.8 60.9h0M138.9 118.3h0M8.9 53.9h0M169.3 1.6h0M118.8 89.3h0M176.1 50.8h0M128.6 89.7h0M1.5 116.4h0M104.1 53.4h0M67.1 69.1h0M63.0 125.6h0M79.7 34.0h0M91.7 34.2h0M77.5 100.5h0M141.5 85.3h0M167.1 84.6h0M38.4 69.7h0M151.3 64.0h0M54.1 9.9h0M162.7 67.7h0M47.2 7.3h0M40.8 116.8h0M139.5 102.1h0M38.0 70.4h0M96.4 131.4h0M49.2 62.6h0M102.4 24.0h0M73.7 60.4h0M148.4 100.8h0M32.2 12.0h0M55.3 1.3h0M79.2 119.2h0M167.3 128.9h0M19.2 121.8h0M108.1 84.3h0M45.9 124.1h0M65.1 13.2h0M119.6 109.5h0M158.1 121.6h0M71.3 99.6h0M170.9 74.1h0M36.4 114.2h0M99.8 112.1h0M141.0 37.9h0M7.4 129.2h0M117.3 120.6h0M96.1 102.7h0M70.6 91.9h0M123.4 88.6h0M91.8 83.3h0M95.2 10.3h0M66.5 43.2h0M115.2 102.5h0M40.1 28.6h0M121.3 116.2h0M133.5 107.2h0M92.8 0.9h0M117.4 55.1h0M71.2 78.6h0M60.8 129.7h0M28.9 101.6h0M113.0 98.5h0M83.0 15.5h0M154.6 46.1h0M63.8 59.1h0M112.0 114.9h0M71.5 74.3h0M114.4 115.2h0M153.3 50.9h0M154.0 69.6h0M64.2 16.0h0M81.6 47.9h0M99.8 16.0h0M2.2 104.1h0M8.3 97.7h0M47.5 43.7h0M57.1 129.8h0M77.6 8.7h0M156.9 69.0h0M159.6 99.5h0M26.5 36.5h0M49.0 114.2h0M38.3 108.8h0M124.8 71.1h0M118.7 95.0h0M161.6 108.0h0M19.8 7.2h0M45.4 124.4h0M18.0 34.7h0M125.4 74.5h0M101.3 34.5h0M121.2 122.0h0M101.3 107.3h0M68.8 128.2h0M45.6 41.5h0M45.5 33.4h0M39.5 119.2h0M165.6 114.9h0M45.7 26.3h0M37.9 13.3h0M1.3 42.1h0M34.7 15.2h0M155.8 59.4h0M1.5 78.0h0M25.5 77.7h0M51.4 13.8h0M122.1 101.1h0M83.8 93.1h0M20.9 128.9h0M144.0 93.7h0M155.8 26.5h0M105.4 63.2h0M105.4 91.2h0M63.8 125.9h0M123.8 114.1h0M118.7 103.4h0M114.9 69.2h0M26.4 37.6h0M147.4 27.9h0M168.2 61.3h0M13.8 128.1h0M92.6 80.7h0M105.9 49.4h0M43.8 10.9h0M150.2 97.3h0M161.9 45.5h0M139.2 40.1h0M94.2 102.2h0M166.2 98.4h0M7.1 100.6h0M162.4 37.9h0M125.2 86.8h0M10.2 129.4h0M40.2 90.4h0M120.2 81.5h0M46.6 112.9h0M125.7 84.4h0M43.9 70.1h0M72.9 35.3h0M56.8 85.5h0M102.2 50.9h0M27.9 6.3h0M144.8 83.8h0M94.3 45.1h0M35.4 36.2h0M95.7 87.2h0M67.3 61.2h0M157.4 98.7h0M172.5 109.0h0M43.4 115.2h0M169.2 80.1h0M168.0 119.2h0M41.4 122.1h0M94.6 34.9h0M85.1 101.3h0M2.2 69.0h0M106.5 109.2h0M171.7 52.9h0M26.3 43.8h0M152.6 114.3h0M99.6 36.9h0M85.2 109.3h0M163.3 119.9h0M142.4 115.6h0M160.1 90.1h0M34.4 120.9h0M95.4 105.3h0M111.8 90.5h0M126.8 2.4h0M169.3 36.5h0M56.1 78.3h0M32.9 13.5h0M113.8 5.9h0M152.8 70.1h0M146.9 42.9h0M102.6 1.9h0M144.2 83.6h0M25.5 118.7h0M34.2 59.0h0M109.6 95.0h0M35.8 111.7h0M133.1 110.9h0M125.9 36.6h0M28.7 51.8h0M129.4 71.8h0M95.2 33.6h0M44.7 129.7h0M65.8 67.5h0M57.8 12.9h0M2.5 130.8h0M121.1 119.9h0M84.7 49.6h0M112.9 93.7h0M54.0 77.2h0M10.7 120.7h0M125.7 34.5h0M138.5 28.9h0M20.6 14.4h0M28.6 49.1h0M26.3 124.6h0M150.7 85.4h0M21.8 12.7h0M49.4 96.5h0M34.7 93.4h0M3.2 96.1h0M89.1 79.2h0M129.9 119.5h0M115.2 6.4h0M69.2 114.7h0M127.1 35.6h0M85.9 55.8h0M35.8 40.5h0M1.9 122.4h0M155.3 93.7h0M50.8 89.0h0M22.3 118.2h0M62.1 67.3h0M57.5 108.2h0M24.4 3.8h0M92.0 13.8h0M140.5 6.8h0M69.8 119.5h0M143.5 36.8h0M6.0 127.2h0M60.9 116.2h0M14.7 40.9h0M157.2 94.0h0M14.1 119.8h0M98.6 86.7h0M88.6 116.0h0M83.0 4.7h0M71.6 74.8h0M118.8 127.1h0M129.6 27.5h0M105.0 0.1h0M57.8 3.0h0M83.5 83.8h0M44.6 17.8h0M64.5 69.4h0M119.2 2.2h0M61.2 5.0h0M61.5 8.9h0M153.7 74.8h0M84.3 30.8h0M59.6 12.4h0M59.4 84.8h0M141.2 108.5h0M139.3 78.4h0M28.2 9.7h0M95.1 45.6h0M7.9 120.3h0M165.2 70.6h0M4.2 61.3h0M33.4 59.6h0M109.9 30.0h0M96.8 87.7h0M101.8 83.8h0M81.0 75.8h0M38.8 112.8h0M6.7 90.8h0M35.8 77.0h0M29.7 118.9h0M167.1 34.5h0M135.9 31.3h0M125.7 86.5h0M55.0 131.7h0M44.9 124.6h0M80.5 16.7h0M137.9 92.8h0M65.8 22.3h0M36.2 54.6h0M161.9 62.6h0M29.9 120.8h0M172.7 42.3h0M104.0 16.1h0M63.6 31.5h0M8.7 118.3h0M130.2 123.4h0M45.0 123.3h0M23.1 52.6h0M153.5 91.9h0M169.0 76.5h0M162.4 12.2h0M61.6 32.5h0M14.5 20.9h0M55.8 71.4h0M44.3 24.3h0M109.2 96.8h0M89.0 42.2h0M103.3 59.9h0M138.3 18.7h0M65.0 20.6h0M24.3 17.6h0M48.9 36.0h0M85.4 80.9h0M4.5 3.3h0M82.7 109.5h0M166.8 112.3h0M5.4 33.9h0M157.5 125.9h0M77.2 95.4h0M20.2 127.0h0M172.1 100.2h0M130.5 83.2h0M51.8 12.9h0M153.7 76.4h0M138.8 22.1h0M43.8 25.2h0M109.2 89.0h0M53.4 30.0h0M176.4 16.3h0M166.7 7.8h0M67.1 46.9h0M159.1 47.7h0M9.9 45.3h0M69.7 29.3h0M76.8 66.7h0M148.8 92.5h0M83.5 33.2h0M47.4 108.9h0M35.3 25.5h0M170.6 14.7h0M60.1 112.0h0M24.4 11.9h0M39.7 33.5h0M150.1 48.0h0M60.0 8.6h0M6.7 131.6h0M120.7 100.6h0M40.8 86.7h0M57.6 67.2h0M138.6 56.8h0M89.1 71.8h0M127.7 97.3h0M61.6 37.9h0M172.4 46.3h0M84.4 43.6h0M120.3 17.5h0M71.1 4.7h0M39.3 52.1h0M35.4 3.8h0M112.0 94.8h0M62.9 83.8h0M82.0 29.0h0M80.5 36.0h0M68.0 40.3h0M91.0 130.3h0M173.6 105.5h0M41.9 116.8h0M43.4 90.9h0M96.0 32.6h0M62.0 124.4h0M89.1 39.2h0M106.0 103.1h0M121.8 87.4h0M65.4 69.7h0M20.3 14.0h0M9.5 124.7h0M78.7 41.7h0M32.8 15.2h0M53.1 120.3h0M80.8 30.8h0M78.1 26.5h0M83.5 33.6h0M134.6 122.4h0M124.6 39.6h0M164.8 9.4h0M46.8 9.4h0M165.9 91.5h0M40.3 57.5h0M79.7 61.7h0M13.3 50.6h0M99.5 33.9h0M122.8 111.3h0M160.7 97.6h0M69.0 129.7h0M135.4 11.8h0M82.2 66.1h0M32.4 102.9h0M51.7 122.2h0M121.0 114.7h0M88.5 30.5h0M30.3 10.3h0M115.4 45.4h0M31.5 107.7h0M54.1 41.8h0M142.4 90.5h0M95.6 75.2h0M72.7 80.8h0M17.5 63.6h0M136.3 106.4h0M80.9 23.6h0M28.8 21.9h0M110.9 72.7h0M169.0 119.8h0M0.9 8.0h0M37.4 30.8h0M170.0 37.0h0M86.5 24.0h0M79.0 38.9h0M164.6 51.5h0M55.8 38.2h0M119.9 127.3h0M171.3 104.8h0M60.9 2.8h0M126.0 62.6h0M86.3 69.5h0M131.8 103.6h0M81.5 57.7h0M119.5 11.6h0M62.4 73.3h0M132.2 103.7h0M51.2 34.3h0M174.4 111.5h0M95.0 27.2h0M84.1 0.1h0M124.5 33.7h0M51.6 122.1h0M110.2 88.3h0M97.7 79.7h0M22.1 105.3h0M162.5 89.1h0M117.6 33.4h0M102.1 48.4h0M35.1 8.2h0M170.8 127.0h0M130.8 37.8h0M67.4 59.3h0M88.4 58.8h0M71.5 98.9h0M132.8 94.3h0M114.6 120.5h0M12.6 68.8h0M109.7 120.8h0M143.0 130.6h0M37.9 75.4h0M139.5 95.5h0M91.9 3.7h0M88.7 99.5h0M46.4 31.5h0M92.7 59.6h0M175.4 11.7h0M54.0 59.8h0M118.2 97.4h0M115.5 84.8h0M166.7 122.4h0M117.6 96.0h0M69.3 65.1h0M160.2 56.1h0M23.2 114.9h0M171.6 63.8h0M52.0 99.5h0M125.5 98.0h0M54.5 21.3h0M32.7 37.9h0M81.8 61.5h0M114.1 80.1h0M155.4 33.0h0M60.4 85.9h0M73.7 72.1h0M161.0 85.3h0M55.6 22.3h0M74.6 15.9h0M136.5 96.8h0M20.0 122.1h0M122.6 14.4h0M121.4 96.7h0M5.7 26.5h0M165.7 82.6h0M20.2 72.1h0M94.9 33.9h0M10.2 93.4h0M90.3 9.4h0M154.5 86.2h0M158.0 96.4h0M8.0 71.5h0M11.5 101.5h0M129.4 104.3h0M92.1 24.8h0M73.5 39.2h0M10.0 121.0h0M171.0 62.4h0M79.4 1.2h0M108.7 70.6h0M108.5 87.7h0M155.2 37.9h0M107.5 12.5h0M82.1 67.3h0M164.6 119.7h0M57.8 105.3h0M108.5 84.3h0M171.6 13.6h0M149.9 40.3h0M85.7 86.6h0M16.6 30.5h0M139.2 99.2h0M152.2 107.9h0M21.6 91.3h0M117.0 36.0h0M116.4 91.5h0M136.1 9.9h0M139.1 8.9h0M11.1 113.1h0M61.8 42.2h0M73.7 52.6h0M72.6 75.4h0M109.2 30.3h0M135.9 71.4h0M115.3 45.2h0M121.8 4.9h0M27.8 127.5h0M33.4 111.0h0M95.7 69.5h0M176.1 122.2h0M74.9 33.4h0M58.6 126.8h0M116.8 131.0h0M126.4 41.0h0M93.4 79.0h0M33.0 69.4h0M120.1 82.8h0M74.9 84.4h0M30.7 122.7h0M99.8 77.5h0M171.7 45.3h0M52.9 119.7h0M67.9 27.8h0M40.2 16.7h0M66.6 95.6h0M37.2 58.7h0M72.4 88.5h0M42.2 117.4h0M167.4 79.5h0M71.1 101.0h0M124.5 74.0h0M100.7 6.8h0M153.8 100.9h0M69.0 15.0h0M96.9 16.9h0M14.5 104.0h0M51.3 48.7h0M67.6 2.1h0M7.1 36.6h0M18.6 39.7h0M79.4 98.0h0M82.9 103.7h0M157.7 65.6h0M0.2 0.5h0M83.2 24.3h0M24.8 51.8h0M104.0 66.0h0M23.4 70.9h0M100.4 23.9h0M57.3 17.6h0M37.0 5.0h0M4.0 105.3h0M103.9 89.1h0M97.3 83.4h0M56.5 112.9h0M26.0 39.2h0M108.7 121.1h0M129.9 15.6h0M174.5 90.8h0M146.1 90.8h0M160.4 83.0h0M19.0 35.9h0M70.1 41.8h0M82.9 7.8h0M52.7 54.7h0M152.0 124.6h0M71.4 42.4h0M99.3 121.2h0M66.6 49.3h0M106.1 89.7h0M37.5 105.0h0M102.2 83.3h0M167.3 5.6h0M76.4 99.3h0M122.9 18.2h0M3.9 120.9h0M70.1 74.7h0M93.9 41.9h0M79.3 47.2h0M98.6 18.4h0M26.2 92.6h0M49.0 10.4h0M87.7 52.2h0M133.4 73.2h0M172.6 99.7h0M70.0 47.4h0M20.9 116.9h0M96.9 32.5h0M111.9 34.3h0M52.4 116.0h0M163.5 51.2h0M88.0 119.1h0M130.0 93.1h0M86.1 23.5h0M10.7 61.3h0M136.2 7.1h0M136.4 82.4h0M81.5 126.8h0M66.0 26.0h0M166.1 106.2h0M11.1 116.9h0M96.5 11.2h0M6.1 16.7h0M112.3 31.2h0M79.4 15.7h0M154.4 126.4h0M143.1 30.5h0M67.5 55.0h0M106.8 114.4h0M104.8 95.3h0M47.0 93.5h0M118.2 128.6h0M103.3 88.4h0M109.0 35.3h0M50.8 99.7h0M14.3 119.9h0M46.6 96.8h0M62.7 33.3h0M74.2 68.7h0M3.0 120.0h0M55.0 90.8h0M96.6 7.6h0M118.0 85.5h0M148.2 68.2h0M154.0 54.7h0M37.8 113.7h0M32.5 25.8h0M119.4 55.0h0M68.0 5.1h0M29.0 95.2h0M35.7 31.3h0M171.2 73.4h0M155.8 68.7h0M30.7 100.9h0M89.9 130.1h0M4.1 67.2h0M100.9 17.9h0M167.7 61.2h0M146.6 89.1h0M122.3 97.1h0M13.2 112.5h0M48.9 61.1h0M96.1 89.0h0M12.0 120.8h0M124.8 97.1h0M132.1 110.6h0M117.8 75.5h0M173.7 127.9h0M22.9 30.6h0M140.8 121.1h0M158.9 85.1h0M78.5 37.2h0M149.5 75.7h0M67.9 36.8h0M86.5 68.9h0M132.8 111.5h0M11.7 17.8h0M0.8 123.5h0M25.7 113.0h0M77.9 97.7h0M13.2 18.9h0M143.3 91.1h0M129.5 2.5h0M154.3 67.2h0M39.4 24.6h0M134.7 29.3h0M74.8 99.5h0M41.5 50.7h0M161.6 98.5h0M66.6 22.7h0M113.1 83.1h0M8.8 117.0h0" stroke="#0a0ad8" stroke-width="2.4" stroke-linecap="round" fill="none"/>
</g>
<g id="b3">
<path d="M149.9 24.5l2.1 0.7M23.0 70.1l-2.0 2.4M107.4 1.9l0.4 2.2M99.6 56.7l-1.1 2.4M75.9 41.4l-1.5 2.7M69.9 17.3l-2.7 1.5M41.6 31.1l0.4 2.2M164.7 5.7l1.8 1.1M127.6 27.9l-0.1 1.8M102.5 78.0l-2.9 0.6M128.4 45.1l-1.4 0.9M29.0 90.3l-0.7 2.8M98.2 71.7l0.8 2.2M77.6 45.3l2.5 1.7M0.5 131.7l-0.4 1.9M13.7 62.0l-1.4 0.7M147.3 0.8l-0.2 1.9M130.3 34.1l-2.0 0.7M62.8 32.2l-2.8 0.5M36.0 46.3l2.2 0.8M58.8 38.2l0.0 1.3M24.2 114.0l-2.6 1.1M145.3 28.8l-2.1 0.2M68.5 4.4l2.2 1.1M157.6 72.0l-1.4 0.8M26.4 63.2l-1.5 1.4M158.4 15.2l1.1 3.0M15.3 6.9l-1.8 2.5M79.5 0.5l-2.1 1.8M85.4 34.5l2.1 1.6M159.2 70.8l2.6 0.8M66.3 62.8l-1.0 1.6M92.0 110.2l-0.8 3.0M43.0 70.0l-0.9 1.4M120.7 49.5l-2.7 0.3M14.1 28.4l1.1 1.6M36.0 128.6l0.9 1.7M19.9 17.0l-1.6 0.9M68.2 28.0l-1.6 0.3M2.8 92.2l0.7 1.5M92.0 103.2l-1.0 0.8M124.6 56.3l2.4 1.3M58.5 48.0l-0.9 1.0M156.5 11.6l0.3 1.1M74.4 18.4l-2.6 1.4M91.9 32.2l2.7 0.3M132.7 98.6l2.3 2.2M75.7 38.0l2.7 1.4M98.0 24.9l1.3 1.8M81.0 112.0l-0.4 2.7M112.8 31.6l1.2 2.4M43.9 61.7l-2.0 1.4M127.2 8.7l2.0 0.3M31.7 74.3l2.5 2.0M31.0 18.5l0.7 2.8M90.4 22.4l0.4 1.5M43.4 40.8l2.1 1.5M132.6 14.1l1.9 0.6M142.4 79.4l-0.3 3.1M117.2 118.7l-1.0 0.6M67.8 6.2l0.8 1.8M3.7 21.9l-0.9 0.8M75.9 120.4l-0.9 1.3M169.6 6.6l-0.6 1.7M9.9 29.0l2.5 1.5M52.0 73.9l-1.6 0.9M21.6 118.0l0.6 1.3M36.4 44.0l0.9 1.7M33.5 67.9l2.8 1.1M74.4 52.6l0.3 1.5M73.0 23.5l0.9 1.0M121.9 63.3l0.2 1.9M91.2 124.7l-1.4 1.0M79.2 57.9l1.1 0.9M170.3 49.5l-0.8 1.1M32.2 41.6l1.1 0.5M164.0 34.2l-0.2 1.7M103.6 3.9l-1.3 1.3M101.2 61.3l-1.4 0.7M73.3 2.6l1.0 2.5M31.3 31.5l-2.5 1.1M144.0 2.1l-1.1 1.8M95.6 57.0l0.7 3.0M138.5 58.9l0.9 1.7M93.2 54.8l-1.2 1.8M97.5 11.0l-1.7 0.5M134.1 38.6l-2.3 1.4M37.0 73.1l2.7 1.3M81.5 127.3l-1.8 2.5M89.3 38.9l-0.2 2.9M122.0 13.1l-0.3 3.0M60.3 69.5l-1.2 0.8M109.9 47.0l-1.3 0.5M99.2 43.1l-0.1 1.8M168.8 62.0l0.3 1.6M119.9 120.1l1.5 2.1M44.2 122.9l0.7 2.0M104.0 43.3l1.2 0.6M30.7 50.8l-1.1 1.6M81.8 53.5l-0.6 2.9M90.5 48.1l1.5 0.4M57.3 20.8l-2.2 1.2M161.1 6.1l-1.1 0.8M118.2 8.0l0.6 2.8M79.7 41.8l-2.6 0.3M132.9 41.5l-1.7 0.2M154.1 51.8l-1.5 2.6M7.9 128.6l2.0 1.2M80.6 60.5l1.2 1.8M21.5 80.2l-1.8 0.7M157.0 28.3l2.0 0.8M102.0 91.3l-0.4 1.5M55.5 59.0l-1.4 1.0M44.0 89.0l0.2 2.2M2.2 6.7l3.0 0.3M7.8 114.2l-0.6 1.5M73.2 72.0l-2.6 0.7M8.6 116.8l-0.6 2.0M16.5 33.4l-0.8 1.2M85.5 125.9l0.1 1.0M114.1 66.5l2.3 0.4M48.1 76.1l-0.3 2.8M124.6 30.6l-1.1 2.4M129.3 37.4l-1.0 1.6M109.8 46.2l-0.9 1.0M164.7 16.6l-2.3 0.2M89.2 16.3l0.5 2.4M96.3 27.6l0.3 1.6M14.7 64.5l-1.3 2.9M20.0 10.0l-0.8 2.8M98.2 63.3l1.0 2.9M83.3 115.8l-2.6 0.6M143.2 14.9l2.9 0.8M93.9 6.2l-0.4 2.0M30.4 90.1l-1.9 1.2M99.7 43.4l-1.9 1.1M127.2 29.9l2.6 1.6M142.9 39.3l1.6 1.4M22.7 77.2l0.9 0.8M1.1 107.5l0.0 1.9M107.5 36.2l2.7 0.9M14.5 27.5l-0.5 2.3M152.9 3.7l1.6 0.8M121.8 21.1l-1.6 1.7M24.4 26.9l0.6 1.6M129.5 29.0l-2.0 0.6M5.7 27.9l2.0 1.5M165.6 37.8l-1.1 2.3M65.9 7.1l1.3 1.5M73.3 2.7l0.5 1.0M38.6 123.7l0.2 2.4M61.0 3.0l0.0 3.0M122.9 53.3l1.5 2.0M98.5 27.4l-2.2 1.4M118.3 38.7l2.8 1.5M76.0 94.3l0.9 0.6M97.7 35.5l-0.5 1.6M23.7 30.0l0.7 1.2M85.7 27.5l-0.9 0.6M117.7 47.3l1.7 2.7M128.1 31.8l2.3 1.0M4.2 14.1l-0.7 1.6M123.5 15.0l-0.5 1.3M7.5 63.7l-2.5 1.5M119.1 51.8l-0.6 0.9M23.5 119.5l0.7 1.2M9.2 92.4l-1.0 0.1M127.3 0.4l-2.3 2.1M9.5 58.0l-1.5 0.3M59.2 52.1l-1.2 0.5" stroke="#0909a8" stroke-width="3.6" stroke-linecap="round" fill="none"/>
<path d="M40.3 80.7h0M149.1 108.5h0M145.2 28.0h0M90.5 87.2h0M98.4 73.9h0M57.3 7.4h0M5.6 95.1h0M115.5 72.5h0M159.7 60.0h0M36.9 74.4h0M13.3 123.2h0M53.2 64.0h0M104.5 77.3h0M79.5 57.5h0M56.8 104.3h0M159.7 123.8h0M126.4 3.3h0M82.1 71.4h0M8.2 105.3h0M2.4 78.9h0M38.9 58.9h0M141.0 8.0h0M90.8 4.8h0M43.2 80.5h0M150.7 0.2h0M4.9 118.0h0M32.9 94.0h0M31.3 100.5h0M46.3 5.0h0M30.8 111.8h0M18.7 50.1h0M41.7 120.4h0M144.2 78.5h0M85.0 55.1h0M118.6 31.2h0M88.7 130.9h0M55.3 58.4h0M27.1 127.4h0M54.1 86.7h0M36.2 105.1h0M98.1 59.6h0M163.3 128.2h0M136.4 100.3h0M108.4 73.2h0M162.9 99.6h0M14.9 95.6h0M10.1 96.1h0M145.1 47.1h0M155.3 82.2h0M135.3 49.7h0M74.8 115.4h0M63.3 91.4h0M74.4 56.3h0M81.7 114.4h0M65.9 65.5h0M72.0 16.8h0M72.0 116.6h0M113.7 67.5h0M22.5 18.5h0M113.4 127.3h0M63.1 19.3h0M28.3 86.5h0M142.1 84.9h0M159.7 14.9h0M23.8 49.9h0M35.8 67.2h0M58.2 12.7h0M174.9 81.4h0M14.3 57.4h0M160.1 60.4h0M85.5 66.5h0M100.8 81.3h0M3.8 47.9h0M11.6 94.1h0M160.7 44.8h0M70.1 82.9h0M36.5 65.9h0M51.7 14.3h0M26.0 94.7h0M80.1 91.3h0M54.5 101.4h0M36.3 130.2h0M23.8 9.2h0M97.6 83.3h0M146.0 123.4h0M159.0 108.7h0M132.4 63.6h0M30.2 61.3h0M137.1 121.3h0M24.4 39.6h0M6.9 120.6h0M48.0 50.7h0M43.5 131.8h0M45.2 116.9h0M141.4 85.0h0M78.6 69.5h0M151.8 104.9h0M33.1 80.4h0M102.2 80.7h0M97.7 71.1h0M49.0 23.7h0M172.5 31.8h0M138.5 111.1h0M17.3 17.9h0M101.8 71.2h0M112.1 8.6h0M32.7 111.4h0M19.4 120.5h0M174.2 123.2h0M54.6 30.9h0M175.5 79.3h0M135.5 27.2h0M65.8 64.1h0M93.7 70.9h0M119.2 129.2h0M93.2 69.3h0M100.0 95.2h0M120.7 89.0h0M9.2 8.1h0M169.6 45.9h0M31.7 32.8h0M115.3 105.2h0M117.0 7.6h0M26.7 23.3h0M98.0 83.5h0M160.9 28.4h0M94.2 14.6h0M152.4 98.3h0M74.0 66.6h0M71.9 22.7h0M23.1 43.7h0M34.9 33.0h0M64.7 78.0h0M23.7 121.5h0M23.9 82.5h0M170.3 95.0h0M81.6 102.1h0M19.3 14.7h0M41.3 105.0h0M48.1 2.9h0M31.7 79.6h0M41.7 79.4h0M24.1 39.4h0M59.6 118.9h0M20.6 77.6h0M12.0 97.6h0M26.5 6.3h0M10.9 96.1h0M78.7 17.7h0M89.3 94.1h0M149.3 34.7h0M166.9 100.2h0M160.7 111.8h0M23.1 110.6h0M170.2 71.9h0M37.9 8.0h0M16.6 119.3h0M16.4 115.6h0M88.6 110.3h0M165.7 124.4h0M22.6 126.3h0M41.4 127.8h0M99.4 117.8h0M38.7 105.8h0M116.4 49.1h0M66.0 49.9h0M133.3 2.7h0M78.6 52.9h0M33.1 44.6h0M38.4 14.1h0M101.1 63.3h0M5.3 131.6h0M143.6 6.0h0M104.0 73.8h0M39.1 70.5h0M46.9 6.7h0M69.0 7.1h0M39.8 69.8h0M24.0 112.0h0M130.5 89.2h0M79.3 104.5h0M48.1 94.0h0M40.7 72.9h0M49.0 36.0h0M86.6 53.8h0M56.4 104.0h0M44.6 7.2h0M129.7 11.4h0M36.7 120.6h0M77.5 60.6h0M153.0 58.1h0M44.2 123.0h0M13.6 40.4h0M46.8 58.4h0M28.0 88.3h0M14.3 118.9h0M44.1 14.3h0M77.3 88.5h0M117.8 20.0h0M13.8 123.6h0M175.1 59.0h0M32.6 114.3h0M114.9 87.8h0M42.7 84.6h0M43.7 67.6h0M78.9 111.3h0M84.4 74.0h0M115.9 1.0h0M109.6 50.0h0M69.9 74.5h0M86.1 128.3h0M38.9 81.0h0M64.8 99.1h0M147.0 23.6h0M109.4 64.6h0M4.1 55.3h0M63.7 96.3h0M26.6 118.0h0M103.4 64.8h0M111.3 33.6h0M82.4 58.6h0M45.0 69.4h0M147.0 99.9h0M104.9 113.6h0M129.1 120.4h0M62.3 67.5h0M22.8 113.5h0M30.3 123.3h0M148.6 110.5h0M104.0 53.4h0" stroke="#1a1aff" stroke-width="1.8" stroke-linecap="round" fill="none"/>
<path d="M148.6 16.9h0M136.6 10.3h0M157.5 19.2h0M163.1 1.4h0M125.5 28.3h0M89.6 13.0h0M137.4 14.6h0M148.1 12.9h0M134.7 28.5h0M87.5 4.3h0M157.2 10.1h0M149.6 8.7h0M153.4 2.2h0M78.3 19.1h0M144.0 28.8h0M165.0 1.2h0M146.3 12.2h0M148.6 18.2h0M156.4 21.7h0M161.0 26.2h0M170.6 1.0h0M135.4 11.4h0M87.7 24.9h0M77.0 25.2h0M166.2 24.1h0M85.2 16.3h0M116.2 7.4h0M120.5 24.1h0M159.1 7.9h0M169.1 1.1h0M146.6 25.4h0M145.8 11.5h0M106.8 9.8h0M141.9 27.7h0M158.4 2.6h0M87.4 5.8h0M137.6 7.6h0M165.2 27.3h0M90.7 9.6h0M142.9 19.1h0M82.1 3.4h0M151.9 0.3h0M153.5 20.8h0M86.4 31.2h0M167.6 32.3h0M96.0 5.8h0M150.0 18.5h0M127.8 24.8h0M123.5 9.2h0M164.8 14.1h0M165.6 23.0h0M120.3 16.9h0M130.1 10.8h0M101.8 7.5h0M173.3 22.1h0M91.4 27.6h0M171.2 21.0h0M165.3 24.7h0M93.6 10.6h0M133.2 9.6h0M78.3 11.0h0M109.1 10.6h0M126.2 10.1h0M84.7 14.7h0M154.4 3.3h0M175.4 14.1h0M138.4 3.8h0M150.9 16.7h0M163.8 4.0h0M132.5 1.4h0M141.3 32.4h0M140.3 5.6h0M161.5 22.2h0M149.2 23.4h0M107.2 4.0h0M169.6 19.0h0M100.8 9.7h0M98.2 22.8h0M92.9 7.7h0M175.0 34.6h0M146.9 13.9h0M162.1 13.5h0M74.9 4.3h0M170.6 22.3h0M100.2 10.1h0M155.5 20.9h0M90.4 4.9h0M161.0 27.5h0M91.3 8.3h0M148.0 6.9h0M102.8 21.2h0M150.1 24.4h0M146.4 23.1h0M133.9 11.2h0M87.6 10.8h0M92.4 13.5h0M170.1 25.3h0M175.4 31.6h0M151.2 1.9h0M90.2 15.2h0M100.3 19.9h0M153.9 11.8h0M166.2 0.5h0M146.0 0.9h0M94.6 24.0h0M171.7 37.0h0M130.0 19.6h0M137.6 11.2h0M165.0 1.6h0M145.8 2.6h0M173.7 12.2h0M156.8 4.9h0M146.4 17.7h0M153.1 16.5h0M175.2 15.1h0M137.2 10.6h0M166.2 20.5h0M162.3 1.1h0M134.3 18.8h0M81.6 22.6h0M174.2 41.1h0M155.4 9.7h0M146.3 17.7h0M76.6 8.2h0M142.5 15.3h0M166.1 15.1h0M124.7 20.0h0M166.9 7.6h0M175.6 18.4h0M140.1 16.4h0M160.5 14.7h0M174.3 32.1h0M144.1 30.0h0M151.8 15.6h0M141.4 19.8h0M151.0 17.5h0M97.9 16.6h0M143.2 9.0h0M144.6 11.0h0M133.3 7.5h0M143.9 6.1h0M124.5 14.2h0M131.8 9.3h0M139.0 20.5h0M159.3 5.0h0M150.3 14.3h0M137.5 17.7h0M167.5 47.8h0M95.1 23.4h0M164.6 16.7h0M154.6 20.5h0M170.9 25.2h0M135.7 5.1h0M159.7 1.6h0M155.5 10.8h0M149.6 7.4h0M160.8 13.5h0M148.5 14.6h0M89.5 6.9h0M91.3 14.8h0M160.7 19.4h0M130.3 0.1h0M144.8 8.8h0M162.6 26.5h0M148.6 28.7h0M172.5 22.3h0M139.9 24.4h0M146.2 33.9h0M146.0 22.7h0M145.6 9.1h0M175.5 16.6h0M166.9 30.6h0M113.2 17.2h0M93.5 10.3h0M153.9 18.4h0M169.8 13.2h0M148.9 5.3h0M166.2 15.0h0M165.5 5.5h0M164.5 10.2h0M99.9 15.5h0M143.1 28.5h0M161.5 9.5h0M89.8 13.1h0M103.3 15.9h0M140.8 7.9h0M154.4 21.8h0M169.3 19.8h0M144.9 42.3h0M148.9 11.8h0M148.9 12.6h0M138.9 8.4h0M135.3 14.5h0M149.3 22.0h0M88.9 19.1h0M153.6 34.7h0M137.6 2.9h0M118.3 15.0h0M147.8 15.7h0M165.9 3.0h0M91.8 10.6h0M146.3 13.8h0M155.8 3.8h0M172.2 28.9h0M165.8 22.0h0M175.3 32.9h0M130.7 13.4h0M80.8 8.4h0M111.3 11.9h0M148.4 23.1h0M167.9 25.5h0M161.7 5.1h0M157.4 22.5h0M170.5 4.3h0M100.8 9.9h0M90.1 8.5h0M98.4 13.5h0M165.3 6.2h0M165.2 15.5h0M152.5 12.3h0M155.4 7.8h0M90.0 7.7h0M82.3 21.3h0M75.5 14.3h0M172.9 20.3h0M135.2 6.9h0M143.1 28.0h0M160.6 6.4h0M152.8 3.7h0M141.4 27.6h0M150.9 3.3h0M154.5 7.1h0M136.6 25.9h0M153.6 5.2h0M132.9 8.5h0M115.9 18.9h0M174.1 35.0h0M168.0 8.5h0M136.9 21.1h0M153.7 6.8h0M142.9 15.7h0M103.5 2.2h0M130.5 28.5h0M175.1 0.8h0M78.4 13.9h0M90.2 21.2h0M103.9 16.1h0M160.1 15.7h0M128.8 5.5h0M137.3 20.6h0M143.8 5.4h0M146.1 0.8h0M161.5 10.8h0M85.6 11.5h0M158.3 9.3h0M106.4 8.5h0M89.3 18.0h0M125.1 15.3h0M155.8 30.0h0M117.4 23.9h0M87.2 21.0h0M92.7 1.4h0M128.6 5.1h0M117.0 5.9h0M86.0 20.9h0M165.2 26.1h0M173.8 19.5h0M107.5 21.0h0M149.3 5.8h0M139.6 4.2h0M131.6 20.1h0M135.4 24.8h0M171.6 2.9h0M89.8 36.6h0M97.9 7.5h0M141.0 9.4h0M157.3 29.1h0M174.6 5.4h0M164.8 45.4h0M142.6 23.6h0M93.1 27.5h0M161.7 21.0h0M143.2 9.4h0M128.2 26.1h0M138.1 4.7h0M138.5 0.6h0M176.4 7.3h0M146.5 19.5h0M100.6 7.1h0M140.5 19.6h0M107.7 18.0h0M144.2 23.8h0M143.6 12.2h0M172.1 2.3h0M140.0 24.1h0M155.8 6.9h0M95.7 14.2h0M171.7 35.7h0M124.2 32.8h0M173.3 35.5h0M154.5 37.8h0M161.6 13.6h0M83.9 20.9h0M151.3 10.1h0M176.0 27.7h0M121.3 13.5h0M172.8 36.5h0M91.0 15.2h0M153.0 4.2h0M129.7 15.1h0M106.6 10.2h0M107.4 10.4h0M124.2 22.0h0M165.2 30.4h0M162.4 5.3h0M142.0 0.9h0M165.4 14.0h0M172.6 11.7h0M174.5 30.5h0M79.3 9.3h0M165.7 11.0h0M165.5 2.6h0M121.5 18.0h0M96.7 11.7h0M153.8 9.7h0M164.5 9.8h0M89.2 11.4h0M148.4 22.0h0M168.3 20.1h0M141.2 15.7h0" stroke="#1010f4" stroke-width="2.3" stroke-linecap="round" fill="none"/>
<circle cx="120.5" cy="69.5" r="6.3" fill="#1212f8"/>
<circle cx="139" cy="44" r="3" fill="#1414ff"/>
<path d="M112 71l3 10l5 3M128 74l-3 10l-4 4M113 72l-6 2" stroke="#1515f5" stroke-width="1.8" fill="none" stroke-linecap="round"/>
</g>
<g id="b4">
<ellipse cx="26" cy="85" rx="7" ry="6" fill="#1414ff" opacity="0.85" filter="url(#bl2)"/>
<path d="M129.6 86.9l1.3 1.0M111.5 19.8l1.7 1.1M21.7 44.5l0.6 1.3M36.1 129.1l0.7 1.3M154.0 90.7l0.5 1.0M104.0 83.7l1.2 1.3M16.7 115.5l1.1 0.3M34.2 59.7l0.8 0.4M140.9 66.1l-2.0 0.5M144.4 11.8l0.9 1.1M4.9 97.7l-0.5 1.4M92.8 12.3l-0.3 1.4M121.0 70.6l-0.3 0.8M85.6 57.7l-0.4 1.8M16.7 62.6l1.3 1.6M152.8 124.0l2.1 0.2M25.3 92.9l-1.7 0.3M74.7 45.9l0.3 1.2M33.3 83.0l-1.8 0.1M45.2 51.2l1.0 1.5M55.1 129.7l1.0 0.1M49.9 123.6l-0.3 1.5M44.4 4.6l-1.5 0.5M46.7 32.8l0.1 1.3M65.1 74.1l-2.0 0.6M166.3 100.0l0.6 1.2M55.5 120.8l-1.1 0.7M43.7 123.2l0.6 0.6M59.9 34.7l0.8 0.4M35.4 91.4l-0.6 1.2M45.7 59.1l1.0 1.7M67.2 103.6l-0.8 2.0M65.1 56.1l0.8 0.8M25.9 88.2l1.7 0.8M114.2 86.7l-1.6 0.1M8.2 53.7l2.0 1.0M146.3 122.9l-0.8 0.0M140.1 40.3l-1.9 0.7M66.9 77.7l-0.2 0.8M79.4 103.5l-0.3 0.7M43.8 89.9l-0.2 2.3M0.1 131.5l-1.5 0.3M61.0 123.6l0.6 0.8M124.6 127.8l-1.8 1.4M12.3 57.9l1.1 1.7M170.8 55.3l-2.0 0.4M5.3 113.8l-1.1 0.2M68.5 68.6l-1.5 1.1M39.2 31.1l-0.7 0.9M151.7 32.6l1.0 1.4M153.0 73.7l1.3 1.4M136.7 56.0l-1.8 0.6M32.4 49.2l0.1 1.0M67.9 79.5l0.9 1.6M133.2 46.0l-1.0 1.0M146.2 41.0l-0.1 1.4M48.5 119.3l2.2 0.2M27.2 68.8l0.3 2.2M85.8 83.8l-1.5 0.5M4.2 66.9l1.1 0.5M54.6 53.2l-1.4 0.2M106.8 46.2l-1.0 1.5M150.6 73.3l2.1 0.9M144.4 131.9l-1.4 0.8M20.2 112.1l1.9 1.2M68.5 78.5l0.7 0.8M36.3 71.1l1.2 1.8M66.5 70.4l1.5 0.3M14.2 98.4l1.8 0.8M18.7 62.4l-0.0 1.3M59.8 36.1l0.2 1.1M7.0 59.6l-0.7 2.1M10.9 49.7l1.6 0.3M163.4 120.9l1.7 0.4M31.5 127.2l1.9 0.6M60.5 108.8l-0.9 0.2M27.0 124.5l-1.7 1.0M122.9 39.7l0.4 1.1M21.1 32.0l0.8 0.6M36.1 28.2l0.0 0.8M0.5 111.8l-2.3 0.3M88.6 124.9l1.3 1.8M80.3 93.9l0.9 1.6M89.0 120.2l1.9 0.9M21.9 84.4l2.2 0.7M51.3 42.6l-1.4 1.2M141.4 1.9l0.5 1.8M43.5 126.5l2.3 0.2M78.4 123.7l1.3 0.5M67.9 52.7l-1.2 2.1M124.2 37.9l-1.1 0.4M165.5 94.3l-1.5 1.3M63.5 113.6l1.2 1.0M132.0 51.2l1.2 0.9M3.2 96.4l0.2 1.0M166.7 87.6l1.7 0.7M153.3 23.4l-1.5 1.3M52.4 122.8l-0.2 2.3M57.4 67.1l0.2 1.6M153.8 14.1l-1.2 0.3M176.1 1.6l1.0 1.3M72.1 116.2l-1.3 0.2M3.7 112.5l0.2 0.9M16.7 56.6l0.4 0.7M2.5 84.5l0.2 0.9M146.7 101.6l0.1 1.8M119.6 103.7l-1.0 1.9M138.4 65.8l2.3 0.0M90.1 131.2l-2.0 1.3M3.0 8.1l-0.7 1.4M106.8 50.3l-1.0 1.0M23.0 52.4l-2.1 0.6M142.9 71.1l0.3 1.0M126.6 82.9l2.3 0.4M98.6 126.8l2.0 1.1M19.4 117.2l-0.2 1.3M58.8 125.6l-1.3 0.6M38.2 14.0l-0.2 1.1M80.7 99.3l-1.2 1.2M51.5 38.8l-0.3 1.8M121.4 33.8l-0.5 1.0M49.3 42.1l-1.1 1.4M27.5 35.5l0.6 2.1M91.5 22.1l1.3 0.9M86.7 114.5l0.4 1.2M120.9 70.1l1.5 0.9M72.9 108.4l-1.8 0.3M96.5 63.2l2.3 0.3M73.1 22.5l0.3 0.9M154.2 123.1l1.0 0.2M83.2 98.1l1.8 0.1M31.8 96.1l-0.7 1.8M72.1 50.1l0.1 1.1M7.1 62.9l1.2 0.8M147.6 112.2l0.7 2.1M163.1 18.7l-1.2 0.6M41.9 92.2l0.1 1.3M121.7 28.5l0.9 0.3M57.6 127.0l-0.7 0.5M123.4 59.2l1.6 0.6M35.8 63.4l-0.5 1.2M23.3 48.9l-0.2 0.9M161.9 102.9l-0.2 0.9M51.7 31.5l1.3 1.0M93.7 128.1l-1.1 0.1M33.6 52.3l-2.1 0.2M11.9 2.8l0.1 0.8M82.6 131.6l1.4 0.3M166.8 28.9l-0.5 0.9M73.6 70.0l2.1 0.9M22.2 93.6l1.0 0.3M7.9 7.8l-0.9 0.3M78.1 4.5l0.2 1.7M10.2 131.2l0.8 1.5M46.1 19.8l-0.8 1.4M72.7 9.3l1.2 0.2M26.4 102.9l0.8 1.4M170.4 76.1l-2.4 0.0M166.8 130.7l0.9 1.7M99.2 30.6l-1.5 1.4M13.4 116.9l-1.5 0.1M35.9 23.2l-1.0 0.5M10.1 93.4l0.9 0.6M144.6 124.1l1.5 1.1M82.5 106.0l-0.3 0.9M41.9 111.3l-1.6 1.0M4.6 27.6l0.6 0.6M89.0 102.2l-0.8 0.7M10.3 31.9l0.9 0.7M167.1 68.0l2.1 1.0M56.9 34.9l0.6 1.4M56.8 82.7l0.9 1.0M12.4 123.9l-2.1 0.1M4.8 62.1l-0.8 0.2M85.4 131.3l1.6 0.2M0.8 52.3l-0.6 1.7M78.2 57.7l0.5 0.9M44.9 85.2l-0.4 0.8M143.2 107.7l-1.0 0.3M101.1 25.9l-0.0 0.8M96.2 67.3l2.1 0.2M60.5 60.1l2.0 0.2M91.3 75.3l2.0 0.2M97.5 13.1l1.2 1.4M94.4 39.5l0.8 1.7M3.3 87.5l0.7 1.2M152.4 89.8l-1.0 0.3M84.2 17.2l-0.5 1.0M83.0 33.2l-0.2 0.9M95.3 50.1l-1.9 1.0M103.0 85.8l1.5 0.7M68.7 76.7l1.8 0.6M22.9 40.3l-0.4 1.0M113.4 99.4l0.5 1.6M8.0 77.8l0.6 1.0M22.7 121.7l1.3 1.0M67.1 117.9l-1.9 1.1M20.3 51.3l-1.1 0.5M61.0 52.7l0.7 1.3M53.0 15.8l-1.8 0.8M34.1 92.3l-1.4 1.4M83.4 58.0l-1.4 0.8M37.1 9.7l-0.3 1.8M59.9 114.1l-0.1 1.3M7.6 70.4l-1.2 1.7M37.5 90.5l-1.4 0.3M156.4 98.4l0.5 0.8M118.5 29.8l-0.0 2.2M38.5 35.4l-0.8 0.3M88.7 35.6l-0.2 0.9M141.1 105.5l1.4 1.7M107.9 127.6l-0.3 1.4M40.7 58.4l1.6 1.5M81.8 129.4l-2.3 0.3M90.8 72.8l1.9 0.7M119.2 130.8l-1.0 0.8M130.0 105.6l0.6 1.2M62.3 57.9l0.9 2.1M33.9 59.0l-0.9 0.5M110.5 110.3l-0.7 2.0M63.2 56.6l0.8 0.5M126.0 92.5l0.2 1.4M91.8 33.9l0.9 0.7M64.3 25.5l2.1 0.8M45.5 22.0l-1.8 0.8M54.7 30.5l-0.7 0.5M6.6 26.8l-1.0 0.6M31.7 121.6l0.7 0.6M85.6 10.0l1.1 0.4M141.6 0.1l2.1 0.5M68.3 116.4l-0.6 2.0M80.2 128.8l-1.0 0.1M57.2 58.9l-0.9 0.1M45.1 91.9l-2.1 0.3M113.1 12.6l-0.8 1.8M24.8 41.3l0.2 2.3M128.2 19.9l1.0 1.4M10.0 52.2l-1.3 0.5M95.2 34.9l-1.7 0.3M28.0 97.6l0.8 1.1M122.7 65.0l1.9 0.1M65.7 19.3l-0.9 1.8M135.6 98.9l-1.1 1.3M121.2 27.9l-0.8 1.7M112.8 14.7l1.0 0.9M121.0 5.2l1.1 1.5M97.7 23.7l-1.4 1.3M26.8 45.2l-1.3 0.5M50.0 45.0l-0.6 1.1M126.6 26.6l-0.9 1.6M81.6 38.8l-1.4 1.7M20.6 86.3l-1.2 0.9M132.4 93.5l-0.6 0.6M43.8 48.5l-0.0 1.5M57.9 20.0l-2.2 0.6M69.8 109.2l1.9 0.9M116.8 61.5l-0.7 1.1M45.1 12.8l-1.9 1.3M28.5 88.0l0.9 1.1M128.5 32.6l0.1 1.5M115.7 60.3l1.6 1.5M135.2 86.2l-0.0 1.9M98.1 57.8l0.4 1.5M4.2 9.2l-2.3 0.0M79.3 61.6l-0.9 2.1M110.1 27.5l0.6 1.0M51.1 53.9l-1.0 0.4M33.1 79.4l-1.6 0.0M48.4 47.8l-0.2 0.9M90.2 84.6l-1.1 0.9M63.5 32.8l0.0 0.8M141.2 53.2l2.3 0.0M13.8 112.5l2.1 1.1M31.5 22.4l-0.2 2.0M72.6 32.8l1.7 0.6M130.2 4.1l0.8 0.7M77.0 71.1l0.1 1.4M26.7 7.1l-0.1 1.0M48.2 63.6l1.9 0.4M101.6 31.3l0.8 0.7M91.3 8.7l0.0 1.2M18.3 95.2l-1.4 0.3M27.5 37.3l-0.9 1.1M123.4 48.5l0.3 2.3M6.1 62.6l0.6 2.2M97.4 83.7l-1.3 0.6M145.4 114.1l-1.8 0.8M150.7 21.7l1.7 1.2M13.5 38.4l1.8 0.7M75.0 30.5l-0.8 1.4M120.1 56.1l0.1 1.6M171.8 89.0l-1.2 1.1M152.4 88.2l-1.1 0.3M130.0 65.3l1.4 0.4M24.1 122.9l1.9 0.0M79.5 65.1l-1.4 0.6M70.5 48.0l0.6 2.0M112.9 102.4l-1.1 1.5M21.2 56.2l0.8 0.4M42.2 27.9l-0.8 0.7M169.9 131.0l-0.3 1.0M18.5 63.8l-0.3 1.0M130.5 4.4l1.5 0.6M124.7 86.4l-0.8 0.4M33.0 36.7l-0.9 2.0M104.2 56.2l-1.3 1.4M83.5 73.4l-2.1 0.2M110.1 36.5l0.6 1.5M127.6 95.0l-0.7 1.4M48.2 125.4l-1.3 0.0M94.8 32.6l-1.4 1.3M19.7 33.0l-1.6 0.4M100.8 62.3l0.3 1.4M5.1 17.4l-1.4 0.4M76.9 126.9l-1.2 1.1M57.4 95.8l-0.0 1.5M118.1 76.9l-1.7 0.1M135.2 107.1l-1.4 0.6M4.7 37.5l-0.8 0.1M115.3 112.9l-0.8 0.3M115.7 36.1l1.2 0.4M131.3 55.7l-1.3 1.6M58.1 61.8l-0.4 0.9M50.2 78.8l1.0 0.3M54.7 53.2l-0.8 1.1M167.0 81.4l-0.0 0.8M74.1 34.8l-1.2 1.2M98.2 53.6l0.5 2.1M33.3 28.5l0.1 1.3M30.9 113.3l-0.6 1.8M55.4 50.1l-0.8 0.4M146.6 77.9l0.7 1.1M120.8 113.3l1.9 1.0M79.2 75.4l-0.1 0.9M138.0 78.0l-0.9 0.1M7.2 128.6l-0.1 1.2M23.1 95.2l-1.1 1.1M160.1 127.9l-0.2 0.9M87.0 48.1l-1.4 1.5M54.4 41.6l1.3 1.9M130.8 6.1l-2.2 0.4M12.2 77.1l0.5 0.7M49.7 97.7l0.4 0.8M170.9 101.9l-1.1 0.7M24.1 84.2l-0.8 0.0M110.0 35.5l-0.2 1.4M21.3 81.3l-1.7 0.9M49.5 72.0l-1.9 0.9M10.0 112.1l-1.1 0.6M132.1 79.5l0.3 0.9M50.2 80.0l-0.3 1.2M68.4 79.9l0.8 1.2M127.8 77.0l-0.1 1.1M100.8 37.7l-1.0 1.2M156.0 93.5l0.6 1.0M113.7 42.2l1.9 0.2M128.7 13.7l-0.9 0.8M22.8 63.5l-2.1 1.0M102.9 100.7l-1.0 0.1M78.9 111.4l1.4 0.2M72.6 102.5l-0.8 0.3M82.1 8.3l-1.1 1.1M8.4 60.4l-0.9 0.5M104.7 102.3l-1.3 0.3M49.5 65.8l1.2 0.5M35.2 15.6l1.4 0.9M85.7 127.1l-0.3 1.1M57.5 21.7l-0.9 1.2M14.0 48.6l-0.5 1.4M6.4 50.4l1.2 0.8M15.4 42.9l1.3 0.4M39.7 3.3l0.4 1.4M99.1 38.0l-0.9 2.2M147.4 30.8l-1.0 0.6M93.3 54.8l1.2 0.3M73.3 127.7l-2.2 0.7M56.5 73.3l-1.2 0.6M27.3 60.0l-2.2 0.2M142.9 42.3l-0.7 1.9M31.1 33.6l0.6 1.4M135.8 126.3l1.2 0.6M141.3 104.0l1.2 0.6M124.5 6.2l-1.2 0.0M100.8 114.2l-0.9 0.7M30.5 98.1l1.2 2.0M145.4 109.6l-0.3 1.8M73.3 10.9l-1.0 2.0M43.4 90.1l0.9 1.1M75.2 49.7l0.3 2.0M28.4 97.8l-1.8 1.5M133.2 1.3l1.2 1.0M26.4 93.2l-0.0 1.1M34.7 103.3l2.1 0.4M62.1 83.4l-0.2 2.3M24.1 57.5l0.6 0.9M163.2 49.9l0.1 1.4M148.9 107.2l1.0 0.3M70.2 125.3l-0.8 1.5M76.0 105.5l0.4 1.0M71.9 1.3l1.3 1.0M122.5 58.4l1.2 0.1M89.2 126.8l-0.2 1.3M29.4 7.3l0.3 1.1M104.2 6.2l1.5 0.4M150.0 118.0l-1.4 1.0M19.8 103.6l-0.1 1.4M45.6 5.5l1.0 1.2M89.4 77.6l-1.5 0.6M173.1 95.3l-0.7 2.0M43.9 28.4l0.8 0.9M96.5 99.5l0.9 0.4M58.1 71.3l1.0 1.0M76.5 116.7l-1.3 1.1M125.6 21.7l1.0 0.7M7.5 83.0l-1.0 1.1M86.2 44.7l-0.9 1.3M63.7 34.0l0.6 1.3M75.9 120.9l-0.8 1.1M74.1 1.8l1.6 0.1M78.2 108.0l-1.2 1.3M84.2 95.2l1.1 0.6M41.8 81.7l0.3 2.4M86.7 110.5l-2.1 1.0M106.2 38.7l-0.5 1.5M82.6 84.5l-0.4 1.1M33.2 82.6l-0.8 0.8M164.6 119.2l0.6 1.1M104.8 90.8l-0.6 0.8M112.3 33.6l1.1 0.1M49.2 12.4l0.3 1.1M71.1 69.7l-1.0 1.9M151.4 127.7l-2.3 0.0M133.5 86.3l1.2 1.6M95.1 10.6l1.0 1.3M75.8 34.9l1.5 1.8M84.6 45.9l-0.1 1.0M123.2 64.7l0.3 1.0M39.7 18.4l-2.3 0.3M134.1 44.0l0.4 1.2M73.3 23.9l0.1 1.3M98.5 22.3l1.7 0.5M66.3 74.7l0.0 1.4M114.9 118.5l0.7 2.0M67.8 125.0l-0.7 0.9M9.1 71.1l-0.1 1.0M61.4 6.4l0.0 1.5M92.6 95.2l0.4 2.3M55.5 68.8l1.1 0.0M86.4 47.5l-1.3 0.7M97.0 106.9l-1.7 1.4M18.4 59.7l-0.5 1.8M11.1 8.8l2.0 0.4M28.4 39.7l0.8 2.2M103.0 68.1l-0.7 0.3M145.1 93.8l-2.0 1.3M42.7 85.3l0.3 1.0M3.3 98.1l1.1 0.7M11.5 2.5l-2.4 0.1M155.5 108.2l2.0 1.0M168.3 72.9l0.3 1.4M26.7 117.0l0.8 1.2M4.2 19.6l-1.2 0.3M41.2 70.9l-0.7 2.1M171.7 70.1l-0.7 1.1M152.8 131.6l0.5 1.3M3.4 107.7l-1.2 2.1M3.6 117.2l2.1 1.0M63.5 106.9l-0.7 1.0M135.1 81.5l-1.1 0.9M49.3 99.4l0.8 0.1M71.2 56.4l-2.3 0.1M30.7 69.2l1.0 1.4M21.6 124.4l0.2 1.0M47.6 121.8l1.9 0.8M66.2 84.1l-2.2 0.1M141.4 43.6l0.2 1.0M99.3 36.5l-0.0 2.1M89.8 14.0l0.4 1.0M94.0 46.2l-0.5 0.6M40.2 85.7l-0.8 2.1M105.1 83.7l1.8 0.1M123.9 96.3l-0.4 1.8M69.5 120.0l1.5 0.4M49.7 33.5l-1.9 0.8M143.3 72.6l-0.0 2.1M23.5 104.9l1.5 0.1M45.3 19.5l-2.4 0.4M76.9 48.9l-0.9 0.1M48.5 70.5l0.5 0.6M37.4 37.6l2.1 0.1M172.8 62.3l-0.8 0.5M94.2 69.4l-1.2 1.8M90.7 31.4l-1.1 0.2M84.4 76.6l0.7 2.0M53.7 128.0l0.7 1.1M61.2 105.8l1.0 0.5M110.3 82.9l-0.4 1.0M64.6 111.6l-0.7 0.7M38.8 56.9l1.4 0.5M139.3 60.0l-0.1 1.6M5.9 17.0l0.8 1.6M170.6 131.2l-0.7 0.6M175.8 77.6l1.5 0.8M146.8 4.1l1.4 1.9M112.6 54.3l0.5 2.0M81.3 57.0l2.1 0.9M22.4 66.6l-2.2 0.8M47.5 91.3l1.1 0.4M87.8 61.2l-0.9 0.6M73.3 84.9l-0.3 1.0M14.6 48.6l0.1 1.0M13.5 23.0l-0.9 0.1M99.3 2.9l1.1 1.0M46.4 91.4l2.2 1.0M108.1 120.1l0.6 0.7M27.3 47.8l1.0 2.0M1.5 73.4l0.4 1.0M87.1 16.6l0.0 2.2M102.8 84.8l-2.3 0.2M88.9 79.4l-2.1 0.3M79.3 82.3l-1.6 0.4M126.6 44.4l-0.5 2.1M85.4 36.4l-2.0 0.3M26.2 42.2l0.5 0.7M75.8 76.0l-1.7 1.6M106.3 80.3l-0.6 1.1M36.3 113.7l-1.3 1.1M109.6 28.9l-0.1 2.1M84.5 2.1l-1.0 0.2M53.3 34.2l-1.4 1.7M30.5 34.9l-0.1 0.9M76.0 48.5l0.3 1.3M54.8 22.8l2.3 0.4M54.1 103.3l-1.3 0.1M37.5 63.0l-1.3 0.6M68.7 59.7l1.8 0.8M49.3 57.5l0.8 2.0M18.3 57.2l-0.1 1.3M61.6 58.8l0.2 1.3M50.5 33.9l-0.6 0.9M87.2 76.8l0.8 0.9M10.7 87.9l0.4 0.7M58.0 114.8l-0.4 1.0M62.4 41.8l-1.9 0.8M140.3 25.4l-1.9 1.3M126.6 39.7l0.7 0.5M124.0 130.3l-1.4 1.7M90.6 101.2l1.5 0.9M156.6 3.7l0.1 1.5M44.0 62.6l1.0 0.9M116.3 55.2l0.8 0.9M90.9 49.4l1.1 1.3M25.0 121.4l1.3 0.0M163.8 64.8l-0.4 0.8M61.6 15.7l-1.7 0.2M35.1 33.7l0.6 0.8M6.8 18.5l0.5 0.9M96.6 7.0l-0.7 0.7M31.3 32.9l-1.3 0.2M118.7 9.7l-1.2 1.1M162.2 82.8l1.4 0.3M56.0 40.1l-1.6 0.0M132.8 73.4l-2.3 0.3M129.3 109.4l0.8 1.2M126.0 42.9l-0.6 2.1M42.4 87.7l1.0 0.1M153.2 49.8l-0.7 1.4M69.2 119.2l0.7 1.4M136.0 67.9l-0.6 0.6M117.4 110.1l-2.2 1.0M122.2 110.8l-2.1 0.2M54.0 75.6l1.4 1.6M138.5 31.2l-1.8 0.9M30.4 111.7l-0.9 1.8M9.6 34.5l-1.3 0.5M101.9 124.7l-1.2 0.5M57.9 76.3l-0.9 0.7M73.1 70.0l1.9 0.3M24.3 96.3l-1.2 1.1M145.8 81.8l2.0 1.1M167.7 11.1l-0.6 0.8M81.5 89.5l-0.1 1.3M138.4 130.2l1.4 1.9M163.3 125.0l1.0 0.4M86.3 44.8l-0.3 1.6M7.4 122.7l-1.0 0.6M76.7 97.3l-0.4 1.2M1.3 115.8l0.7 1.1M2.9 14.4l-0.9 2.0M161.8 103.6l-0.2 1.4M146.1 98.4l-0.6 1.3M111.4 41.3l-0.0 1.1M79.0 74.0l1.9 0.9M56.5 53.8l0.8 2.0M58.1 113.2l-0.5 0.8M25.5 112.6l0.7 0.9M62.1 116.1l1.3 1.1M93.2 86.1l-0.4 0.9M168.2 76.6l-1.5 0.7M67.4 61.9l0.1 2.1M20.0 48.9l0.8 2.0M74.8 110.3l-1.5 0.5M96.7 57.0l-0.9 0.5M118.2 19.4l1.8 0.2M149.5 113.5l-2.2 0.8M131.5 87.1l0.3 1.8M98.4 101.0l-1.0 0.1M123.0 107.7l1.7 0.3M57.2 101.4l-0.7 0.5M119.4 79.5l0.3 1.3M104.2 84.2l-2.0 0.7M40.4 27.7l1.0 1.4M60.8 120.3l-1.2 0.9M14.4 32.3l1.8 0.8M18.8 47.4l1.2 1.0M77.2 118.2l-1.2 1.8M114.3 98.9l1.7 1.2M84.2 33.5l-0.2 1.2M171.2 67.2l-0.8 1.8M103.0 127.3l0.5 1.5M20.8 7.7l-1.7 0.8M81.0 73.4l-1.8 0.7M70.6 70.5l0.4 1.1M10.0 56.5l-1.0 1.2M7.0 124.1l-0.6 0.7M117.9 66.3l1.4 1.8M111.1 101.7l0.7 2.1M27.3 102.2l-0.9 0.9M80.3 51.4l-1.8 0.1M31.8 102.1l0.8 1.6M126.5 99.7l2.1 0.3M110.8 126.1l-0.5 1.3M31.2 63.8l-1.7 1.6M78.1 68.7l-1.4 1.2M16.7 104.9l-0.3 1.8M10.2 114.5l0.5 1.4M76.3 67.7l1.5 0.1M26.0 95.4l1.8 0.6M137.0 23.4l-0.2 1.8M33.6 48.7l-0.3 0.8M64.3 121.2l1.0 0.2M50.5 68.4l0.5 0.8M125.1 22.5l0.2 0.8M105.5 119.0l-0.6 1.1M129.6 59.4l1.1 0.9M165.7 55.6l0.3 1.0M84.7 97.0l-0.2 1.3M1.2 7.8l-1.3 1.6M16.3 29.1l0.4 1.9M95.0 13.2l0.3 2.1M71.9 59.0l-1.8 0.0M109.8 124.5l-1.5 0.6M87.9 9.9l-2.0 1.2M20.5 32.2l-1.3 1.4M58.1 40.7l-0.5 0.8M22.9 25.3l-1.5 0.2M14.5 16.6l-0.6 1.3M3.9 65.7l2.2 0.4M95.5 55.0l2.0 1.0M9.3 30.9l0.2 0.8M114.4 101.5l1.0 2.0M34.2 45.7l0.7 0.7M60.4 84.5l0.4 1.8M56.7 118.8l-1.4 0.4M93.0 11.1l-1.1 0.7M159.7 87.7l-1.2 1.6M59.7 99.9l-2.0 0.6M125.7 89.8l-2.0 0.9M80.0 14.7l-1.0 0.7M151.0 57.3l1.0 1.5M83.5 109.7l-0.9 0.8M49.5 45.0l0.1 1.9M123.0 89.1l-1.0 1.9M134.2 26.3l-1.0 1.7M15.9 76.7l1.0 0.6M104.8 89.2l0.3 1.5M86.1 71.7l0.9 0.8M139.7 18.1l0.4 1.2M91.6 89.9l0.8 0.8M52.5 36.1l-0.5 1.2M169.5 88.0l1.3 1.6M23.8 39.7l-1.3 1.1M66.6 129.6l-1.7 1.0M41.2 7.7l0.5 1.8M137.3 128.7l-0.9 1.1M20.1 72.1l-1.6 0.6M27.9 30.3l-1.1 1.0M72.5 16.5l0.6 1.3M158.0 42.0l-0.4 0.8M139.0 106.3l-0.5 1.1M77.6 2.6l1.4 0.4M42.3 76.1l-2.1 1.0M10.3 50.1l-2.1 0.6M99.1 123.0l1.7 0.4M167.2 105.4l1.4 0.7M42.6 7.8l-0.5 1.2M160.0 129.8l-1.7 0.2M53.4 79.9l-1.3 0.6M117.9 19.7l-0.4 2.3M85.9 94.5l-0.2 0.9M25.6 119.2l0.2 1.9M25.1 30.9l-0.1 0.8M84.5 42.1l0.3 1.2M23.0 71.0l1.8 0.5M132.3 34.6l-1.1 0.3M150.9 76.5l0.9 0.3M50.8 111.7l1.4 0.0M55.0 21.2l-1.0 0.5M98.2 81.3l1.4 0.8M176.3 36.7l1.3 1.3M122.2 37.7l0.8 1.6M24.9 102.7l1.7 0.5M167.1 108.4l-1.9 1.4M32.8 47.6l-1.4 0.3M114.3 69.1l1.3 2.0M73.3 70.3l-0.7 1.6M93.4 112.1l-1.3 1.2M107.0 43.7l-1.6 0.6M50.5 101.3l2.1 0.1M157.0 58.2l0.3 0.8M64.6 118.3l-1.8 1.1M120.7 36.0l-0.5 0.9M34.9 30.5l0.0 1.6M35.3 25.9l-1.4 1.7M164.8 108.1l1.3 1.1M53.2 58.1l-0.7 2.1M63.4 20.3l1.4 1.7M87.2 71.6l-1.8 0.2M113.6 103.3l0.2 1.2M3.3 109.5l0.6 0.6M15.6 8.6l1.1 0.7M117.2 3.1l0.5 0.8M121.4 36.0l-0.5 1.1M93.7 107.8l-1.2 0.3M64.3 35.9l0.1 1.0M21.8 28.1l1.0 0.6M45.9 88.7l-0.7 1.8M3.2 131.6l1.7 0.9M130.0 70.0l1.9 1.1M65.3 25.4l0.3 2.1M147.0 18.6l-1.0 1.4M101.7 30.9l-0.4 1.3M130.8 75.8l-0.2 0.8M15.3 101.0l0.5 0.9M16.2 130.9l-1.3 0.4M14.0 19.4l-0.2 0.8M36.3 89.9l0.6 1.2M143.2 60.1l-1.1 1.5M157.0 108.5l0.7 0.7M24.0 3.7l1.3 1.6M5.0 80.1l-0.5 0.8M64.2 41.9l-0.7 1.5M104.2 67.3l-1.0 1.9M91.7 18.4l1.8 0.9M109.8 23.7l2.1 1.1M76.5 86.3l-0.8 1.6M128.9 70.4l-0.9 0.2M39.2 129.8l1.7 1.1M78.7 97.0l-0.6 0.8M118.1 66.2l0.6 1.1M102.8 4.6l0.9 1.8M124.1 1.1l2.2 0.8M30.1 58.5l-1.7 0.0M47.5 11.3l0.3 0.9M109.8 25.1l0.1 1.6M32.8 38.1l-1.4 0.4M70.6 93.0l-0.7 1.5M103.1 34.4l2.3 0.3M136.4 24.6l1.0 1.6M62.9 47.8l-1.0 0.2M167.9 117.0l-0.2 1.0M112.5 105.6l0.8 1.3M34.4 18.6l0.0 2.1M103.6 128.5l1.7 0.0M10.9 80.3l0.1 0.8M44.9 52.4l1.2 1.4M80.2 89.8l-1.1 0.2M100.5 35.3l-0.2 1.0M137.3 74.8l-2.1 1.0M119.1 53.7l0.5 1.8" stroke="#0909a6" stroke-width="2.9" stroke-linecap="round" fill="none"/>
<path d="M110.2 113.8h0M109.9 106.7h0M167.5 47.4h0M134.6 59.1h0M55.8 31.1h0M85.1 66.6h0M66.1 94.9h0M93.8 28.9h0M8.0 96.4h0M66.2 127.2h0M108.2 50.3h0M104.1 15.3h0M131.4 2.2h0M94.0 91.2h0M47.4 66.3h0M100.8 78.3h0M137.8 91.3h0M42.3 69.5h0M150.8 21.6h0M20.4 5.3h0M35.1 95.2h0M166.1 96.4h0M16.3 25.2h0M49.4 66.9h0M52.3 37.1h0M41.2 127.0h0M18.5 116.7h0M59.6 86.9h0M22.3 17.9h0M0.9 107.5h0M143.6 52.5h0M125.4 44.0h0M19.7 26.6h0M1.6 45.6h0M11.0 74.2h0M75.3 29.0h0M108.3 12.0h0M105.9 3.2h0M49.7 7.7h0M102.5 113.5h0M115.2 70.4h0M100.3 74.9h0M79.0 43.0h0M76.1 16.4h0M158.3 115.9h0M67.9 46.7h0M6.7 20.9h0M11.8 8.2h0M173.9 88.1h0M63.3 51.2h0M102.3 30.3h0M35.5 81.0h0M57.9 45.5h0M142.1 109.9h0M33.8 84.2h0M133.4 79.1h0M13.5 94.6h0M41.7 96.7h0M131.8 22.9h0M41.7 93.0h0M52.1 95.8h0M159.2 28.4h0M5.3 118.2h0M81.7 31.5h0M32.4 71.4h0M101.5 102.9h0M176.0 101.0h0M51.7 70.1h0M170.3 10.6h0M31.8 65.0h0M158.1 36.5h0M17.3 76.5h0M10.6 94.1h0M83.1 99.9h0M174.6 112.8h0M119.6 13.4h0M109.2 35.1h0M7.9 46.6h0M98.3 22.7h0M176.5 128.3h0M82.5 12.2h0M51.0 74.3h0M137.1 112.3h0M99.8 46.4h0M159.6 124.1h0M86.8 23.0h0M28.5 77.7h0M54.4 96.1h0M113.8 37.8h0M43.4 114.3h0M57.4 112.2h0M141.2 55.1h0M72.3 69.5h0M38.8 83.8h0M40.9 75.8h0M75.0 56.4h0M68.9 73.1h0M46.8 69.8h0M35.5 109.2h0M51.1 118.4h0M49.4 20.9h0M156.4 7.0h0M107.4 69.9h0M85.3 58.7h0M168.7 87.6h0M87.1 51.3h0M51.1 59.5h0M161.6 10.6h0M133.4 66.4h0M28.6 10.3h0M69.5 43.6h0M14.6 82.7h0M94.7 114.6h0M140.1 30.4h0M73.6 79.8h0M113.6 29.0h0M21.6 14.8h0M108.1 62.9h0M76.6 58.1h0M142.9 1.9h0M46.3 36.0h0M152.1 43.2h0M160.1 42.6h0M13.3 12.1h0M166.6 113.8h0M95.7 89.6h0M83.6 55.5h0M97.0 82.7h0M31.7 54.6h0M100.5 9.2h0M97.4 88.4h0M64.6 122.5h0M70.3 71.0h0M25.6 44.4h0M38.4 99.8h0M94.9 103.2h0M102.9 12.4h0M147.9 33.0h0M24.1 116.6h0M158.6 54.6h0M62.8 103.1h0M87.2 41.6h0M79.3 8.4h0M165.2 40.4h0M28.0 86.4h0M124.4 88.2h0M130.0 125.3h0M73.5 38.6h0M52.5 110.3h0M164.8 121.3h0M36.3 97.4h0M144.0 10.5h0M11.2 85.1h0M96.1 78.5h0M85.6 32.4h0M24.1 28.7h0M116.7 111.9h0M130.0 1.3h0M112.3 28.8h0M115.5 106.6h0M76.8 80.0h0M76.0 85.4h0M133.7 42.8h0M106.6 60.1h0M90.2 98.9h0M30.1 80.1h0M45.6 108.9h0M125.4 54.2h0M151.7 94.6h0M19.3 38.7h0M164.3 49.6h0M144.0 111.6h0M42.7 68.0h0M83.3 58.8h0M143.5 121.8h0M171.8 3.4h0M93.7 51.0h0M27.5 64.4h0M153.8 30.1h0M172.8 72.5h0M4.4 47.1h0M10.8 69.2h0M117.2 33.9h0M143.8 77.9h0M136.8 76.9h0M80.6 12.3h0M168.8 69.5h0M2.9 26.5h0M85.8 32.0h0M101.9 80.8h0M65.2 32.8h0M169.1 19.5h0M133.4 15.9h0M127.6 20.3h0M139.7 108.9h0M82.3 110.0h0M69.3 45.6h0M149.5 86.0h0M44.3 51.7h0M82.8 81.7h0M88.2 105.0h0M139.1 63.5h0M35.7 76.0h0M91.8 61.0h0M126.8 107.1h0M27.2 7.3h0M56.3 74.6h0M58.2 25.1h0M10.7 25.2h0M172.1 100.9h0M47.8 31.0h0M98.7 101.3h0M26.3 17.6h0M29.4 54.0h0M126.8 41.5h0M112.9 129.6h0M94.0 51.9h0M66.5 7.6h0M28.5 45.8h0M2.1 3.4h0M166.0 27.1h0M43.7 33.3h0M87.8 70.4h0M44.5 68.6h0M50.3 124.9h0M86.6 75.9h0M97.5 127.5h0M121.8 12.0h0M32.3 59.4h0M34.5 77.7h0M124.5 94.0h0M59.1 47.7h0M28.1 85.1h0M77.5 69.9h0M127.5 127.2h0M37.9 45.1h0M123.2 119.5h0M134.9 6.8h0M84.8 43.4h0M55.1 126.4h0M53.5 48.9h0M80.5 110.8h0M123.9 113.1h0M29.8 80.2h0M169.7 84.8h0M142.3 131.9h0M3.0 7.5h0M117.6 112.4h0M11.1 83.7h0M86.2 19.5h0M66.0 39.3h0M57.9 129.9h0M109.7 109.7h0M149.1 84.3h0M115.4 12.3h0M25.5 84.7h0M100.3 93.4h0M29.7 50.1h0M146.3 94.6h0M13.3 64.4h0M58.4 111.4h0M20.1 6.0h0M96.8 37.9h0M119.8 13.2h0M1.5 105.4h0M19.2 66.4h0M43.4 6.5h0M42.8 107.8h0M48.2 24.7h0M133.6 84.9h0M99.4 79.8h0M29.0 64.4h0M67.8 108.8h0M33.5 30.3h0M24.5 21.3h0M51.0 61.8h0M25.7 4.0h0M75.6 20.2h0M9.5 120.4h0M93.2 68.8h0M76.4 7.1h0M28.6 100.8h0M137.0 79.6h0M135.7 115.3h0M155.1 59.3h0M54.8 50.3h0M79.9 41.5h0M121.4 28.0h0M115.3 95.7h0M159.2 89.3h0M111.9 99.7h0M87.3 90.0h0M21.1 21.5h0M108.2 88.1h0M26.8 67.7h0M128.3 3.0h0M22.3 78.2h0M94.0 33.4h0M9.3 98.3h0M154.4 13.4h0M6.6 128.5h0M29.8 90.4h0M68.2 125.7h0M174.9 98.0h0M142.0 24.0h0M21.5 97.7h0M61.1 125.9h0M146.4 65.5h0M35.7 88.8h0M168.9 109.1h0M81.7 34.3h0M101.6 65.7h0M27.8 19.5h0M165.3 84.5h0M71.9 130.9h0M11.5 89.3h0M114.4 71.0h0M39.2 32.8h0M166.7 129.7h0M89.3 11.9h0M143.2 99.7h0M59.4 16.4h0M109.3 16.1h0M20.7 66.6h0M111.7 62.6h0M64.2 117.5h0M105.3 79.0h0M17.7 48.6h0M29.0 45.2h0M3.2 106.8h0M44.0 108.0h0M45.2 62.7h0M138.9 1.0h0M49.7 37.3h0M77.6 35.4h0M138.2 86.4h0M45.1 14.9h0M81.8 116.9h0M82.6 53.4h0M155.8 110.0h0M144.7 87.1h0M161.8 41.8h0M46.2 20.1h0M135.0 22.0h0M170.7 52.4h0M39.5 67.7h0M93.1 58.9h0M82.8 92.7h0M60.9 9.9h0M104.2 34.2h0M22.1 116.5h0M72.9 119.9h0M142.8 52.7h0M121.0 54.7h0M68.7 8.1h0M24.2 87.4h0M165.8 62.7h0M111.6 90.0h0M0.8 60.0h0M24.9 51.1h0M104.7 90.2h0M45.6 54.8h0M118.4 87.7h0M56.7 57.0h0M109.7 40.0h0M63.4 6.2h0M4.0 116.9h0M156.2 36.8h0M35.2 100.7h0M139.6 38.9h0M139.0 19.2h0M120.2 17.1h0M112.8 41.9h0M33.6 71.6h0M3.1 47.9h0M12.1 29.4h0M121.7 45.2h0M90.9 68.0h0M49.4 33.6h0M28.9 81.9h0M125.6 117.0h0M18.9 96.0h0M55.5 9.6h0M119.6 22.5h0M38.3 31.4h0M130.8 101.6h0M15.8 120.4h0M3.4 75.6h0M163.4 120.8h0M57.3 89.4h0M14.9 82.7h0M50.4 37.2h0M12.1 73.4h0M57.2 71.7h0M79.1 114.6h0M128.2 38.0h0M53.4 11.3h0M67.7 119.8h0M38.4 131.4h0M86.8 29.2h0M42.2 85.3h0M116.4 113.0h0M161.5 14.0h0M86.7 72.9h0M72.6 31.9h0M99.0 63.5h0M76.4 116.2h0M118.2 27.0h0M27.5 99.0h0M136.3 95.2h0M101.3 29.5h0M113.9 28.3h0M121.1 61.0h0M78.2 42.1h0M145.2 100.8h0M2.2 117.0h0M23.7 90.0h0M140.5 44.3h0M84.2 56.9h0M9.5 110.0h0" stroke="#1a1af6" stroke-width="1.6" stroke-linecap="round" fill="none"/>
</g>
<g id="r1">
<path d="M52.9 136.0L70.6 105.6L88.2 79.2" stroke="#e00000" stroke-width="40" stroke-opacity="0.24" fill="none" stroke-linecap="round" stroke-linejoin="round" filter="url(#bl4)"/>
<path d="M88.2 79.2L102.4 55.4L116.5 37.0" stroke="#e00000" stroke-width="26" stroke-opacity="0.14" fill="none" stroke-linecap="round" stroke-linejoin="round" filter="url(#bl4)"/>
<path d="M116.5 37.0L127.1 22.4L129.7 4.0" stroke="#e00000" stroke-width="16" stroke-opacity="0.11" fill="none" stroke-linecap="round" stroke-linejoin="round" filter="url(#bl4)"/>
<path d="M58.2 128.0L74.1 103.0" stroke="#ff1010" stroke-width="22" stroke-opacity="0.5" fill="none" stroke-linecap="round" stroke-linejoin="round" filter="url(#bl4)"/>
<path d="M81.2 92.4L91.8 76.6" stroke="#ff1010" stroke-width="10" stroke-opacity="0.35" fill="none" stroke-linecap="round" stroke-linejoin="round" filter="url(#bl4)"/>
<path d="M53.8 130.2q-0.6 -8.2 -4.2 -15.5M103.4 110.0q-1.0 -5.7 -1.4 -11.4M37.5 130.8q3.9 -1.5 7.4 -3.7M45.7 108.6q2.1 11.4 12.0 17.3M78.1 90.4q1.6 -6.6 6.2 -11.7M82.7 92.5q6.2 -9.7 7.8 -21.1M67.9 144.7q-0.6 -9.2 4.1 -17.0M66.0 131.7q5.5 2.0 11.4 1.4M78.3 90.8q10.1 6.5 20.5 12.4M47.3 95.2q2.5 -7.9 8.4 -13.7M79.0 90.8q12.8 -0.9 22.7 7.4M80.6 118.0q-1.3 -10.4 -11.6 -8.5M59.8 150.8q7.5 -12.9 22.5 -12.8M66.8 112.2q2.4 -9.6 10.2 -15.5M64.5 104.9q-1.6 -5.9 3.3 -9.7M88.3 134.4q-0.6 -4.6 0.9 -8.9M66.9 143.7q-4.9 -5.5 -5.9 -12.8M55.5 78.3q11.3 -6.5 23.9 -9.8M65.7 74.9q-2.8 -8.0 -1.3 -16.3M83.0 99.0q8.6 -7.3 14.5 -16.9M53.6 79.0q2.5 -3.1 5.2 -6.1M73.8 123.3q4.9 -4.7 8.0 -10.8M101.3 105.6q3.6 -7.2 7.5 -14.2M99.1 131.3q2.4 -5.0 6.0 -9.3M94.7 100.6q-9.7 -4.5 -10.4 -15.2M88.1 98.3q5.3 -4.7 3.9 -11.6M91.0 114.8q14.2 -5.0 15.2 -20.0M72.3 103.5q3.7 -5.7 10.4 -5.8M92.9 133.0q1.8 -4.5 1.8 -9.4M54.5 147.8q3.5 -11.2 5.0 -22.9M80.4 108.5q4.9 -4.9 11.9 -5.7M51.8 134.0q10.4 -4.3 14.1 -14.8M81.4 124.5q10.0 -6.5 17.9 -15.4M27.2 132.6q3.7 -10.1 6.7 -20.5M55.6 134.5q0.3 -10.1 1.7 -20.2M69.2 121.8q6.7 -5.9 0.7 -12.6M39.4 93.8q-1.8 -4.6 0.7 -8.8M60.5 92.7q8.6 -5.4 18.0 -9.3M61.0 112.6q10.0 -7.3 10.9 -19.6M58.8 119.4q3.0 -2.9 6.1 -5.8M67.1 143.9q-3.6 -6.9 -6.1 -14.3M74.0 105.0q0.9 -7.3 -1.3 -14.3M62.1 118.9q5.1 -5.7 10.0 -11.5M98.3 107.5q-0.1 -6.5 5.3 -10.2M40.5 113.5q12.2 -7.0 14.2 -20.9M74.2 122.4q-7.9 -13.5 5.8 -21.0M78.8 111.7q-6.1 -10.3 -6.9 -22.3M34.5 115.7q6.9 -6.7 16.1 -9.5M117.7 116.9q0.1 -3.6 1.3 -7.0M72.9 121.7q4.7 -0.5 7.1 -4.7M81.7 137.9q9.0 -6.4 2.9 -15.5M90.4 115.9q9.5 -4.3 12.9 -14.2M68.5 92.4q5.9 2.9 11.6 6.2M79.9 150.2q0.6 -9.6 6.4 -17.2M32.0 107.4q7.6 -5.5 15.8 -1.0M65.0 128.0q6.2 -2.3 8.7 -8.5M57.4 136.9q12.3 -6.1 10.5 -19.8M42.3 138.9q3.2 -8.7 6.5 -17.4M71.9 102.8q7.8 -4.9 10.7 -13.7M70.5 116.0q3.2 -3.8 7.9 -5.3M87.5 99.2q0.5 -4.0 -0.6 -7.9M75.4 120.3q15.4 -1.3 15.8 -16.7M82.8 92.4q11.8 -3.7 8.9 -15.7M89.5 105.3q1.3 -4.1 4.7 -6.7M67.2 88.3q1.7 -7.9 1.1 -15.9M48.7 123.1q5.2 -8.5 4.2 -18.5M83.1 94.6q4.4 -7.2 10.6 -12.9M49.3 122.3q5.5 -6.1 10.3 -12.8M70.9 98.4q3.7 -3.5 2.7 -8.6M58.4 116.8q-4.8 -9.5 3.0 -16.7M59.2 137.7q-0.8 -4.1 1.2 -7.7M79.8 112.4q10.0 0.6 14.0 -8.5M76.5 146.1q-5.9 -10.8 -8.3 -22.8M60.8 90.7q9.7 -8.4 22.6 -8.9M51.8 66.4q12.4 -0.6 24.7 -1.7M63.9 125.2q-5.8 -10.2 -2.0 -21.3M81.9 107.3q8.0 3.8 16.9 3.4M86.4 85.2q-6.8 -8.6 -7.9 -19.5M75.4 88.7q6.6 -3.8 10.3 -10.5M94.0 102.3q2.1 -3.2 2.8 -7.0M60.2 118.8q4.9 -8.6 8.7 -17.6M96.5 93.6q-6.2 -5.8 -10.4 -13.1M49.2 133.2q9.2 -2.9 17.5 -7.7M50.8 90.8q7.0 -3.9 7.7 -11.9M60.3 109.1q9.6 4.5 15.0 -4.7M69.8 112.1q3.3 -12.8 16.5 -12.8M76.1 75.5q2.4 -2.9 6.0 -3.8M53.7 96.4q4.7 -3.1 9.4 -6.2M84.0 101.7q-2.8 -3.9 -0.4 -8.0M87.9 126.8q0.6 -9.5 -1.0 -18.9M70.0 104.8q-7.9 -7.7 -10.9 -18.3M82.4 98.9q1.0 -8.0 8.8 -6.2M83.7 96.1q1.6 -6.3 5.4 -11.6M73.7 90.6q7.2 -3.2 6.1 -11.0M54.8 129.4q10.2 -2.2 19.2 -7.4M82.6 133.1q-1.0 -5.6 2.0 -10.5M70.8 143.6q9.2 -0.7 11.2 -9.7M84.2 110.6q9.2 0.7 18.3 -0.5M31.2 97.1q0.7 -7.8 7.0 -12.2M51.8 116.3q6.1 -9.8 -0.9 -19.1M53.9 113.9q12.1 -6.0 10.3 -19.4M65.0 118.1q10.2 -3.4 11.2 -14.2M42.3 135.9q3.8 -10.7 11.6 -18.9M66.6 132.6q4.2 -2.7 7.7 -6.2M78.2 107.9q0.0 -4.7 2.2 -8.9M59.8 120.4q2.4 -10.4 10.7 -17.3M72.4 116.5q8.4 -4.4 13.4 -12.6M69.7 112.1q4.2 -10.4 15.2 -12.3M39.2 139.6q6.9 -12.0 20.8 -12.7M79.1 152.3q-7.2 -8.1 -14.6 -16.0M80.3 109.3q3.2 4.6 8.2 2.2M71.5 98.2q1.2 -6.6 3.2 -13.1M67.8 104.3q5.3 -10.7 2.1 -22.1M59.0 143.4q8.9 -10.3 0.9 -21.3M48.7 132.8q4.7 -9.2 14.0 -13.6M60.7 122.2q5.8 -9.1 16.3 -11.8M54.2 94.7q5.5 -4.4 9.1 -10.5M73.5 138.2q7.3 -10.3 8.1 -23.0M64.8 116.3q4.8 -3.3 6.9 -8.7M62.6 98.1q9.3 -2.4 10.0 -11.9M63.7 91.3q-1.4 -7.7 5.8 -10.9M62.9 99.5q1.4 -11.9 1.4 -23.9M83.5 98.2q8.8 -8.9 20.9 -5.6M51.0 72.0q12.9 1.4 7.9 -10.6M70.2 125.0q1.5 -7.4 6.6 -12.9M47.3 124.0q2.1 -12.5 14.5 -15.4M102.4 113.9q2.6 -12.8 -7.2 -21.5M83.3 99.8q-8.7 -4.4 -16.2 -10.7M61.4 112.5q-0.5 -4.8 0.9 -9.4M48.2 143.5q11.0 -2.2 19.0 -10.2M48.0 138.7q1.3 -8.3 5.0 -15.9M89.7 114.3q3.5 -10.2 1.6 -20.8M34.1 125.7q12.2 1.0 21.9 -6.4M70.4 110.4q10.7 -9.3 5.3 -22.5M33.6 117.4q7.3 -3.4 13.6 1.6M41.2 115.4q3.2 -5.9 6.9 -11.6M50.6 125.8q3.1 -2.1 5.7 -4.8M70.8 108.1q-8.9 -8.2 -11.3 -20.1M80.1 107.5q4.6 1.3 8.8 -0.8M49.9 127.3q11.0 -5.5 13.4 -17.5M84.5 92.3q-3.2 -5.0 -4.3 -10.8M73.5 115.2q5.8 -3.2 8.0 3.0M96.4 99.0q3.3 -9.6 5.2 -19.5M54.3 92.3q12.1 1.6 23.6 5.9M54.3 141.1q2.0 -12.6 -3.6 -24.0M68.3 139.7q1.0 -4.7 5.7 -5.0M66.2 128.3q12.8 6.4 17.6 -7.1M99.7 95.9q0.7 -7.1 -2.0 -13.8M54.0 99.8q9.8 -4.5 17.6 -11.9M82.0 108.7q9.0 -8.5 14.2 -19.7M44.5 125.4q2.8 -5.8 8.6 -8.3M68.3 140.7q1.3 -4.1 2.8 -8.0M55.0 127.7q6.6 -0.9 11.0 -6.0M48.7 104.3q0.0 -8.1 7.9 -10.4M75.1 110.8q-9.7 -9.3 -3.2 -21.1M41.9 116.1q-12.1 -5.7 -4.3 -16.5M95.8 98.1q5.4 -2.6 10.9 -5.2M51.3 106.0q10.3 -7.2 13.1 -19.4M68.4 102.0q4.2 -5.1 4.6 -11.7M66.4 112.0q-1.6 -9.9 6.1 -16.4M87.8 89.6q-3.8 -8.3 2.4 -15.0M81.5 110.0q8.8 -3.7 7.6 -13.1M45.4 135.7q2.9 -6.0 9.5 -5.0M53.3 68.1q-7.5 -6.7 -3.6 -15.9M73.2 110.7q1.1 -7.2 6.2 -12.4M63.4 118.6q13.0 0.8 24.7 -4.9M56.0 130.8q10.2 -4.6 18.9 -11.5M83.4 148.3q-6.9 -8.4 -5.2 -19.1M78.3 153.1q5.1 -7.2 3.4 -15.8M47.8 125.7q1.3 -9.0 -5.6 -14.8M51.7 141.9q4.9 -8.2 13.7 -11.8M46.8 111.0q8.1 -5.7 17.3 -9.6M49.5 123.4q1.7 -4.3 4.3 -8.1M70.2 128.1q-4.7 -11.5 2.0 -22.0M80.8 122.7q6.3 -3.8 12.4 -7.7M31.1 92.3q7.5 -5.2 8.3 -14.3M66.6 129.8q9.6 -3.6 15.1 -12.3M57.8 79.5q3.5 -10.1 13.6 -13.6M62.6 141.7q-4.4 -4.7 -4.5 -11.2M86.5 103.3q0.3 -13.2 -8.4 -23.1M61.4 93.1q12.2 -4.4 20.5 -14.2M56.1 116.7q0.6 -8.0 8.6 -8.9M70.7 118.8q-0.3 -7.0 5.5 -10.9M68.5 78.0q-3.6 -12.4 -11.1 -22.9M56.3 123.8q11.5 -2.4 18.2 -12.1M91.3 96.8q10.2 -1.4 12.8 -11.3M66.4 81.8q6.2 -10.4 12.2 -20.8M82.0 95.2q-0.3 -16.0 -16.0 -19.6M57.3 107.3q4.5 -4.2 8.3 -9.0M76.5 101.0q9.4 -0.0 17.9 -3.9M52.2 82.7q3.6 -6.1 0.3 -12.3M61.9 122.9q9.8 2.2 19.1 6.1M75.7 90.8q6.3 -3.9 13.7 -4.1M75.6 122.1q3.0 -8.1 7.5 -15.5M70.0 146.4q0.7 -9.5 6.7 -16.9M89.6 109.2q5.1 -3.9 11.5 -3.7M89.0 116.9q4.8 -4.3 10.0 -8.0M63.1 101.9q4.3 -4.3 7.4 -9.4M61.4 85.3q11.7 -1.7 19.2 -10.8M70.7 100.1q0.8 -9.0 9.8 -9.5M70.3 117.8q-4.6 -8.5 1.3 -16.2M40.8 115.7q0.1 -5.2 3.1 -9.5M59.9 114.3q1.9 -13.0 -4.0 -24.7M80.6 120.5q7.0 -2.0 4.3 -8.8M73.1 138.6q7.9 -6.0 13.2 -14.4M92.6 124.2q16.8 5.1 19.8 -12.2M66.1 127.0q-5.2 -8.6 3.9 -13.0M76.3 138.9q4.9 -10.5 4.9 -22.0M65.3 138.0q3.1 -8.5 1.4 -17.4M63.3 108.2q-3.1 -7.6 1.1 -14.7M69.4 99.2q1.7 -3.7 5.7 -4.4M63.8 87.3q9.2 0.7 13.8 -7.3M79.1 117.7q-2.1 -7.5 -1.6 -15.2M74.7 89.9q3.1 -7.4 6.5 -14.8M96.3 96.2q4.9 -4.2 5.8 -10.5M44.3 141.0q9.9 -5.6 10.2 -17.0M38.0 127.4q7.1 0.9 13.2 -2.8M82.6 132.1q-2.6 -12.5 6.5 -21.5M90.0 129.7q-3.0 -12.2 7.2 -19.4M55.5 114.1q10.8 6.0 22.3 1.4M89.6 111.8q-17.9 -13.0 0.0 -25.9M62.2 146.1q4.7 -11.5 -0.8 -22.5M73.9 117.6q1.6 -10.0 -0.7 -19.9M33.7 130.5q3.1 -5.6 6.4 -11.1M55.8 139.9q4.8 -9.7 3.4 -20.4M74.0 105.2q6.1 -7.1 13.3 -13.1M61.3 114.2q4.5 -2.2 2.6 -6.9M79.6 124.8q1.1 -10.1 5.6 -19.2M80.0 89.3q11.5 7.6 23.1 0.2M74.3 104.9q4.7 -6.4 0.0 -12.9M55.1 90.9q-4.9 -10.2 -14.2 -16.8M70.9 123.8q1.4 -6.5 -2.7 -11.6M55.2 104.0q-2.6 -15.4 13.0 -14.2M64.5 139.7q6.2 -5.9 14.7 -5.5M43.7 129.7q-3.2 -6.1 -4.5 -12.9M34.4 127.0q4.3 -7.3 12.2 -10.6M98.4 110.9q-0.5 -7.1 -3.3 -13.6M70.7 109.2q-1.3 -11.1 -10.1 -18.1M79.3 108.7q3.4 -7.5 1.2 -15.4M61.2 139.4q2.9 -12.3 11.5 -21.5M62.5 103.4q3.4 -7.2 9.9 -11.9M83.6 84.8q3.6 -5.7 2.2 -12.2M57.1 111.5q4.4 -1.4 8.3 1.0M81.3 119.9q2.9 -3.5 1.8 -8.0M36.9 110.9q3.3 -8.3 12.2 -9.0M70.4 134.8q0.5 -9.4 2.8 -18.5M61.2 105.3q-0.8 -11.7 -9.0 -20.2M85.5 89.1q1.7 -7.7 0.8 -15.6M105.2 104.1q3.3 -5.7 3.5 -12.2M80.0 104.3q1.2 -3.4 3.5 -6.1M80.8 84.1q9.7 -1.9 10.7 -11.7M86.0 118.4q-5.2 -2.7 -4.1 -8.4M66.3 133.3q-5.2 -6.5 -4.1 -14.8M87.6 87.7q13.6 -0.7 24.5 7.3M77.5 146.7q1.4 -6.5 7.8 -8.8M83.8 84.6q2.0 -5.1 3.1 -10.4M83.8 98.5q-3.2 -14.1 7.2 -24.3M83.3 115.1q2.4 -3.4 6.5 -3.9M78.4 120.2q-4.0 -11.8 2.1 -22.6M61.7 127.8q13.3 -6.0 14.7 -20.5M72.4 109.4q-1.5 -7.5 3.0 -13.7M40.5 139.1q5.2 -8.5 13.2 -14.4M79.3 82.0q1.3 -11.1 11.5 -6.6M45.1 127.3q8.8 -1.7 6.6 -10.3M73.8 100.8q2.2 -3.0 4.1 -6.3M46.4 85.6q3.0 -8.0 5.3 -16.2M49.9 135.3q2.6 -8.7 10.4 -13.2M59.7 128.1q3.1 -3.6 5.7 -7.5M101.4 98.7q3.5 -7.5 11.1 -11.1M76.5 81.8q3.0 -7.9 11.0 -10.5M89.9 92.9q9.6 -5.0 18.8 0.6M61.1 101.6q6.5 -2.7 11.3 -7.7M71.6 137.4q6.3 -4.2 12.7 -8.0M69.3 80.3q8.0 -3.5 8.7 -12.3M84.0 101.2q6.3 -5.1 14.2 -6.5M55.1 108.6q9.5 -8.4 19.4 -16.5M77.1 84.3q5.2 -6.3 10.2 -12.9M73.4 100.2q3.8 -8.7 11.1 -14.8M65.5 138.5q4.0 -5.4 10.3 -7.3M41.2 124.2q5.9 -9.4 12.3 -18.5M76.4 135.8q2.0 -7.8 0.6 -15.7M95.0 105.7q11.6 -4.5 24.1 -5.0M77.6 90.4q-3.6 -9.7 2.2 -18.3M80.1 118.2q9.5 -9.7 21.1 -2.8M52.5 127.5q5.7 -3.9 9.1 -9.8M77.1 96.6q12.3 9.3 24.5 -0.0M73.6 96.1q3.9 -9.5 13.9 -7.3M29.8 123.4q3.9 1.4 7.4 -0.7M90.7 90.0q9.8 -1.0 13.8 8.1M67.1 90.4q3.3 -10.9 0.4 -22.0M40.9 114.8q11.6 3.7 23.6 2.4M50.0 110.6q4.2 1.7 7.8 -1.1M65.7 144.1q11.2 -7.9 15.2 -21.0M64.4 127.7q-0.4 -5.6 3.6 -9.7M81.3 104.2q-2.2 -5.3 3.0 -7.6M62.1 147.2q12.2 0.2 19.0 -10.0M80.9 122.3q3.5 -2.8 6.0 -6.6M77.6 88.8q11.9 -1.3 20.5 -9.6M33.7 117.2q9.0 -1.4 16.6 -6.3M99.1 90.4q2.1 -5.3 7.0 -2.5M46.5 142.3q4.5 -12.0 12.7 -21.9M100.5 100.9q0.2 -5.3 -3.1 -9.4M66.5 114.2q0.8 -5.4 -1.5 -10.4M75.2 82.6q4.7 -4.0 1.4 -9.3M90.4 115.5q11.5 -3.8 4.9 -14.0M72.2 94.0q7.1 -6.3 11.0 -15.0M63.8 145.7q8.0 -9.7 18.1 -17.2M106.2 100.0q3.3 -3.5 7.0 -6.5M91.5 91.2q2.3 -4.7 5.1 -9.1M45.0 130.7q8.0 -0.9 11.4 -8.2M86.7 97.4q11.3 -4.5 21.9 1.5M80.6 105.1q7.6 6.3 15.4 0.3M69.3 112.6q6.9 -3.5 5.0 -11.0M60.1 137.9q-5.3 -15.6 8.5 -24.5M32.6 117.9q8.0 -1.4 13.5 -7.4M97.1 106.5q0.9 -4.7 0.3 -9.5M72.4 128.8q-3.8 -12.8 1.3 -25.1M83.6 98.9q7.5 -3.8 15.0 0.0M69.3 121.7q10.8 -3.9 19.8 -10.8M67.4 151.1q0.4 -13.1 -3.4 -25.6M80.3 109.5q2.5 -7.2 5.8 -14.2M65.1 104.7q2.2 -5.0 5.1 -9.6M82.3 99.3q5.8 -7.6 14.5 -3.8M74.7 124.9q7.2 -7.5 17.0 -4.1M34.3 119.2q6.2 -0.2 11.6 2.9M72.8 100.2q-7.8 -10.1 2.0 -18.2M64.3 144.5q-8.1 -10.9 -5.6 -24.3M69.6 118.5q-5.7 -8.1 -6.2 -18.0M69.3 91.6q4.9 -10.6 11.1 -20.5M57.1 107.6q2.6 -4.6 7.8 -5.1" stroke="#ff1414" stroke-width="0.55" stroke-opacity="0.55" fill="none" stroke-linecap="round"/>
<path d="M109.3 51.0q6.3 -8.1 4.8 -18.2M102.2 40.8q4.7 -7.8 9.7 -15.4M121.1 64.0q3.8 -11.1 3.4 -22.8M73.9 80.3q8.0 -8.3 13.4 -18.4M121.4 60.8q-0.2 -7.4 1.1 -14.7M89.4 77.5q2.8 -5.6 4.5 -11.6M101.4 61.0q0.6 -5.7 6.4 -5.5M101.5 72.2q-4.9 -12.0 5.4 -19.9M104.7 47.3q2.7 -4.2 6.0 -7.8M110.4 63.5q0.8 -4.9 1.5 -9.7M118.0 60.8q1.6 -4.6 5.5 -7.6M89.7 54.4q-7.4 -5.9 -3.9 -14.6M106.5 53.8q8.2 2.8 16.7 1.3M119.9 61.4q2.9 -9.2 3.1 -18.8M119.1 48.8q2.5 -7.4 7.7 -13.2M100.5 67.0q10.1 -6.5 10.0 -18.6M105.1 63.1q5.9 -2.0 6.0 -8.2M93.3 78.9q14.0 -3.7 15.4 -18.2M124.4 68.2q3.4 -7.3 4.4 -15.3M99.7 83.0q9.5 -3.0 17.1 -9.5M98.0 52.5q2.0 -5.1 7.2 -6.8M91.2 61.5q-1.0 -12.9 10.4 -19.1M102.3 41.0q4.3 -6.5 8.6 -13.0M109.3 57.9q3.7 -5.8 7.0 -11.8M93.5 73.4q7.2 -5.7 9.6 -14.5M85.7 46.4q7.0 -1.2 8.2 -8.2M88.8 70.8q3.9 -2.4 6.5 -6.1M114.0 42.2q-2.0 -5.3 2.6 -8.5M102.4 53.9q7.5 -0.4 14.3 -3.5M87.0 86.5q-3.6 -8.7 -1.7 -17.9M73.1 72.8q8.0 -3.1 16.1 -5.8M87.2 80.4q2.6 -3.3 6.5 -5.0M94.7 69.2q2.9 -3.8 7.5 -2.4M97.9 60.6q-0.3 -7.0 2.3 -13.5M100.4 43.8q6.0 -4.4 10.1 1.8M105.3 57.4q5.5 -3.5 6.3 -10.0M89.4 39.9q9.6 2.2 18.8 -1.1M85.2 65.1q-0.7 -4.3 2.3 -7.5M97.3 64.5q6.9 -1.4 7.9 -8.4M95.8 66.4q-1.9 -8.3 0.3 -16.6M106.6 80.3q-5.3 -5.9 -4.4 -13.9M102.5 45.2q3.4 -5.2 8.6 -1.9M108.7 45.4q5.0 -5.0 11.3 -8.3M91.9 47.9q10.7 -0.8 21.0 2.2M83.7 74.3q10.3 2.6 10.6 -8.0M78.6 67.7q-5.6 -10.8 -5.2 -22.9M99.7 64.8q2.4 -4.2 6.3 -7.1M101.2 57.1q7.3 -6.4 12.6 -14.5M102.4 65.7q4.1 -8.0 -3.3 -13.1M108.0 62.2q6.7 -6.0 10.5 -14.3M121.3 48.3q-5.7 -10.8 -15.4 -18.2M95.2 66.2q11.0 -1.7 18.2 -10.1M96.5 79.8q3.5 -10.1 2.4 -20.7M87.6 86.9q3.4 -8.8 7.7 -17.1M104.0 75.5q2.2 -10.4 4.3 -20.7M102.0 47.1q-2.8 -7.1 0.0 -14.3M79.0 72.9q5.0 -5.6 6.0 -13.0M110.0 47.8q2.6 -7.9 6.4 -15.3M78.0 73.7q6.7 -7.7 10.6 -17.1M107.6 43.1q3.2 -2.7 6.9 -4.7M100.3 68.0q5.5 -5.7 8.8 -13.0M104.4 80.9q-2.0 -4.4 0.9 -8.2M130.2 70.6q-1.6 -3.6 -1.9 -7.5M89.1 65.1q3.4 -8.2 6.1 -16.6M91.3 83.3q1.7 -8.7 5.5 -16.7M90.8 78.6q-0.2 -4.8 -0.6 -9.6M88.0 75.6q4.7 0.3 9.3 0.5M102.0 46.1q0.2 -9.8 9.9 -9.3M96.7 35.5q9.8 -4.1 18.7 -9.8M104.0 56.7q7.1 -4.1 10.1 -11.6M88.5 73.8q4.4 -1.2 6.9 -5.1M98.8 43.7q-1.8 -8.6 -9.3 -13.3M106.5 64.6q0.8 -6.5 7.1 -8.0M87.2 43.1q4.2 -3.5 1.4 -8.2M121.6 64.7q11.4 0.2 17.4 -9.6M106.3 58.1q2.7 -8.6 -2.5 -16.0M111.1 67.3q-4.5 -3.7 -8.5 -8.1M124.4 86.7q2.9 -5.9 0.3 -11.9M89.2 62.3q9.9 -3.0 19.0 -7.9M91.4 33.8q11.8 -3.9 9.6 -16.1M81.4 44.5q7.0 -4.8 11.4 -12.1M89.2 65.4q8.5 1.2 13.7 -5.7M85.9 64.8q3.7 -6.5 11.0 -5.3M83.6 85.8q10.0 -3.7 11.4 -14.3M102.8 64.0q0.9 -11.2 0.4 -22.5M89.6 51.2q2.8 -5.7 8.6 -8.1M94.5 62.4q9.8 -3.3 7.8 -13.4M92.4 54.4q-0.3 -4.5 2.9 -7.7M96.6 43.9q7.1 -6.2 7.6 -15.7M96.2 63.0q-1.2 -14.1 12.0 -19.0M87.7 83.6q-0.8 -7.0 4.6 -11.5M125.1 59.3q-2.6 -9.0 -1.2 -18.3M79.1 76.2q3.0 -2.6 6.6 -4.2M91.9 84.1q9.2 -3.9 12.5 -13.3M96.5 38.1q9.5 2.9 19.1 0.7M108.1 47.5q9.6 1.1 15.7 -6.3M114.9 50.9q-2.7 -3.9 -4.0 -8.4M83.7 42.4q5.6 -5.0 11.6 -9.4M107.6 38.8q4.7 -4.4 11.1 -4.6M102.4 70.9q11.4 -6.7 11.0 -20.0M88.3 61.1q8.3 5.5 18.2 5.7M93.0 32.4q6.0 -7.7 11.7 -15.6M82.5 41.4q9.8 -7.2 20.6 -1.6M87.5 65.0q9.3 -4.7 13.1 -14.3M84.0 60.7q6.4 -9.7 9.3 -21.0M106.1 53.5q9.1 -1.8 11.3 -10.7M99.5 54.9q9.1 -7.1 3.2 -17.0M88.3 65.4q1.1 -12.2 10.4 -20.2M73.6 82.3q-5.2 -11.9 2.6 -22.4M96.3 57.9q2.2 -9.6 11.2 -13.9M94.9 73.9q2.2 -4.7 6.1 -8.0M110.0 52.2q-0.0 -5.5 4.1 -9.2M113.0 76.8q-9.0 -7.1 -5.3 -18.0M113.7 72.5q6.8 -10.4 -2.9 -18.2M91.2 88.9q3.5 -11.1 14.8 -13.8M95.5 82.2q-1.7 -6.7 0.6 -13.1M80.8 69.9q-4.6 -7.7 -1.2 -16.0M94.4 53.4q6.2 -10.0 13.7 -19.0M106.8 72.2q4.3 -10.0 14.7 -13.4M93.3 91.9q-2.2 -12.7 9.3 -18.5M107.5 66.5q2.1 -3.1 1.7 -6.9M93.3 79.4q6.5 -6.5 9.7 -15.2M116.6 53.7q-1.7 -9.2 6.2 -14.2M103.2 51.9q3.4 -5.2 6.4 -10.6M85.8 78.4q-7.8 -3.7 -13.1 -10.4M100.6 33.9q7.3 -0.1 10.9 -6.4M96.9 61.0q6.3 -0.8 12.7 -0.1M97.5 92.8q12.7 4.1 16.1 -8.8M92.3 79.4q14.4 7.9 19.7 -7.7M101.3 46.8q7.2 3.2 14.4 -0.1M99.3 63.5q2.5 -7.7 8.3 -13.5M99.3 32.3q10.3 7.0 22.4 4.4M97.6 85.7q-5.5 -6.3 -2.8 -14.1M113.4 48.6q1.4 -8.4 9.4 -11.5M74.8 70.5q-2.2 -9.5 3.4 -17.5M102.9 38.0q6.0 -8.2 16.1 -8.5M104.1 44.9q5.9 -0.2 11.8 -0.9M105.4 41.0q-1.2 -9.5 6.4 -15.4M98.2 58.9q4.4 -6.0 10.4 -10.4M97.5 79.2q10.6 3.8 11.2 -7.4M103.8 55.0q1.9 -12.0 14.1 -12.4M96.3 87.0q-1.4 -5.2 -2.9 -10.4M105.1 52.3q5.3 -1.0 7.7 -5.8M107.2 51.5q6.4 -2.3 9.8 -8.1M106.4 80.5q-3.8 -3.6 -2.6 -8.6M70.3 74.9q2.9 -5.5 5.1 -11.3M80.0 78.3q4.6 -8.7 11.7 -15.6M107.8 66.1q-1.0 -10.0 -5.8 -18.8M73.6 66.8q7.9 -11.6 21.6 -9.1M92.7 70.0q1.8 -7.6 0.9 -15.4M92.2 69.5q3.7 -2.5 5.2 -6.7M103.0 43.0q11.0 -5.4 13.8 -17.4M95.9 62.1q-2.5 -6.3 -5.2 -12.5M116.7 54.7q-7.7 -10.1 -6.7 -22.7M105.3 47.1q2.3 -8.3 8.0 -14.8M86.9 89.3q6.5 -9.8 4.5 -21.4M118.2 51.8q0.7 -11.4 8.4 -19.8M104.6 58.2q4.1 0.6 8.0 -0.4M99.9 61.7q0.1 -9.9 7.7 -16.3M106.0 51.6q5.2 -5.2 6.7 -12.3" stroke="#ff1414" stroke-width="0.55" stroke-opacity="0.5" fill="none" stroke-linecap="round"/>
<path d="M124.9 32.2q1.5 -4.9 2.0 -10.0M113.0 25.9q6.2 -1.2 10.2 -6.2M135.8 18.8q0.9 -5.7 1.5 -11.4M115.3 29.0q-2.7 -4.6 1.6 -7.7M131.4 14.3q3.7 -4.0 3.0 -9.4M116.8 29.1q6.5 -2.7 7.6 -9.7M130.8 26.0q4.2 -7.5 -1.2 -14.3M123.4 17.8q-0.9 -6.3 5.5 -7.3M126.4 30.0q4.1 -4.5 3.0 -10.4M125.3 30.8q1.3 -7.6 -1.2 -14.9M107.1 35.8q7.9 -4.4 12.7 -12.0M115.1 30.2q4.7 -5.2 9.5 -10.4M108.0 34.8q6.9 -1.4 13.8 0.5M117.4 26.4q3.9 -4.9 9.9 -6.7M140.4 26.1q-7.9 -2.6 -11.4 -10.2M133.1 11.4q5.9 -0.4 10.0 -4.6M121.8 29.0q-0.3 -8.8 -6.0 -15.7M121.5 11.9q-7.0 -4.7 -13.5 -10.1M130.5 26.0q4.5 -5.5 6.0 -12.5M128.7 17.3q0.0 -7.6 1.3 -15.1M118.6 19.2q3.3 -1.0 4.6 -4.2M137.1 20.0q-2.8 -2.9 -3.0 -6.9M121.2 40.8q1.8 -4.9 4.1 -9.6M117.7 33.8q7.1 -5.1 11.5 -12.7M112.1 34.0q8.4 0.3 14.0 -6.0M121.0 23.2q-0.5 -6.8 0.0 -13.6M142.5 9.2q-3.3 -1.1 -5.2 -4.1M105.2 22.1q6.0 -3.2 1.3 -8.0M117.3 37.5q0.4 -6.5 0.9 -13.1M136.7 23.8q-3.2 -5.5 -8.9 -8.4M119.9 32.1q2.2 -2.1 4.7 -3.7M106.0 30.9q5.5 3.8 12.1 5.3M125.9 34.6q-1.5 -2.6 -4.1 -4.0M137.1 18.0q3.0 -4.5 0.6 -9.3M129.3 34.7q5.0 -7.5 -2.1 -13.1M113.8 20.9q6.9 -5.5 12.6 -12.3M129.9 32.6q4.1 -4.5 9.0 -8.2M114.1 28.6q2.8 -4.5 3.7 -9.7M126.6 28.3q-1.5 -7.4 4.0 -12.6M115.3 19.1q4.6 0.4 8.6 -1.9M125.1 8.9q6.3 -2.5 13.1 -2.4M123.4 42.4q3.2 -1.5 2.6 -4.9M146.8 26.8q-4.8 -6.0 -11.5 -9.6M118.4 25.9q2.2 -2.2 3.5 -5.0M113.9 37.6q3.2 -6.0 9.4 -3.2M128.6 31.4q-2.3 -5.0 -6.2 -8.9M142.4 20.2q2.0 -4.6 -1.2 -8.5M104.9 24.4q7.7 2.5 13.2 -3.4M122.2 42.7q-1.5 -11.2 9.1 -15.2M116.4 35.3q1.9 -4.0 6.2 -4.8M124.0 26.2q0.3 -9.2 -8.5 -12.3M114.9 23.9q6.3 3.8 10.4 -2.4M129.5 8.4q-4.5 -4.5 -10.3 -7.3M130.3 23.2q6.6 -4.6 9.4 -12.1M121.6 37.5q2.8 -4.6 6.6 -8.4M134.3 39.1q-3.1 -8.1 -11.3 -11.0M117.4 18.5q4.3 -6.4 6.9 -13.8M123.8 43.2q1.2 -6.8 0.7 -13.7M121.1 29.6q-3.7 -5.9 -1.5 -12.6M120.4 39.2q-0.4 -4.6 2.2 -8.4M124.5 13.5q-0.5 -7.0 4.0 -12.5M135.7 19.8q-4.4 -0.9 -8.7 -1.9M132.3 13.6q0.1 -2.8 -1.6 -5.0M137.8 15.6q-1.8 -6.1 -4.5 -11.8M136.9 16.3q-3.0 -3.1 -1.9 -7.2M114.7 28.3q3.7 3.5 8.5 1.8M127.6 16.9q3.6 -8.0 2.0 -16.6M124.2 15.0q3.4 1.0 6.8 0.0M133.5 23.6q-2.5 -9.2 -11.7 -11.6M142.4 22.5q1.4 -3.6 2.2 -7.4M113.7 34.8q4.7 -1.3 6.7 -5.7M112.7 26.8q3.9 -2.5 6.8 -5.9M125.1 39.6q3.1 3.4 6.7 6.3M110.2 32.2q8.3 0.6 16.2 -2.0M116.9 10.6q3.5 -4.2 8.9 -4.8M122.3 30.4q-0.7 -4.0 1.4 -7.4M122.7 36.5q3.9 -8.2 12.1 -11.8M123.7 27.7q1.1 -5.9 2.9 -11.7M121.4 33.8q3.7 -2.9 7.7 -5.5M127.1 24.4q-3.2 -2.0 -3.7 -5.8M123.8 17.9q0.7 -7.3 6.0 -12.4M104.9 23.4q-5.8 -6.9 1.8 -11.8M129.3 20.0q3.1 -4.1 5.3 -8.7M126.2 33.7q-2.1 -6.1 1.3 -11.7M131.1 24.0q-3.4 -3.3 -7.8 -5.0" stroke="#ff1414" stroke-width="0.55" stroke-opacity="0.45" fill="none" stroke-linecap="round"/>
<path d="M70.5 117.4q-1.9 -0.6 -3.7 0.3M60.4 120.9q-0.0 2.8 -2.5 4.1M56.8 123.2q-0.1 -4.8 -0.2 -9.6M83.7 133.9q-2.7 -1.2 -5.7 -1.3M90.9 87.9q2.3 0.8 4.8 0.9M75.4 126.7q1.4 -4.5 3.1 -8.9M63.8 117.0q0.7 -2.3 0.0 -4.6M73.5 131.7q-2.6 -1.7 -4.5 -4.2M75.6 125.0q4.3 -0.2 8.6 -0.9M75.8 95.9q-1.7 -4.1 -6.2 -3.9M87.2 92.3q-4.0 -1.4 -5.9 -5.2M72.6 90.3q1.7 -4.3 6.3 -4.0M33.6 120.8q-0.2 1.8 -1.8 2.8M67.3 88.1q-3.1 1.9 -6.6 1.4M42.0 111.0q0.1 2.1 0.4 4.1M73.2 135.7q5.3 2.5 4.1 8.2M63.5 119.5q1.4 2.3 4.1 2.8M53.1 136.4q2.0 -3.3 3.0 -7.0M72.8 121.7q-0.4 -2.1 1.5 -3.2M37.6 104.4q-0.5 -3.2 -2.8 -5.3M58.2 83.8q3.4 -2.8 4.9 -7.0M46.7 119.3q3.1 -2.3 4.1 -6.0M50.5 132.9q1.3 -3.4 4.4 -5.3M76.4 128.1q-4.4 -0.8 -8.1 -3.2M78.1 104.8q4.2 -2.8 7.3 -6.8M90.1 94.0q1.8 1.0 3.6 -0.2M88.2 92.3q-1.5 2.6 -4.1 4.0M49.0 131.1q-1.7 -1.0 -3.4 -1.9M95.6 88.1q-2.3 -5.1 -6.8 -1.8M81.4 99.4q-1.5 -4.3 -4.6 -7.7M60.0 120.5q4.1 -3.0 2.8 -8.0M46.7 65.4q3.4 -1.6 7.1 -2.5M65.8 91.6q-2.7 2.4 -6.3 1.9M59.9 114.9q3.6 -2.0 4.4 2.1M75.6 75.5q3.1 -2.4 3.1 -6.3M67.5 122.8q3.4 -3.0 7.6 -4.9M71.5 105.3q5.9 -0.0 5.5 -6.0M49.5 134.3q2.6 -0.3 4.7 -2.0M68.2 73.0q-3.4 -0.8 -7.0 -0.8M67.5 128.9q2.2 -4.4 2.3 -9.3M88.4 115.6q-1.2 3.4 -0.5 7.0M77.0 145.8q4.7 -1.6 3.6 -6.4M66.5 136.2q0.9 4.3 -0.3 8.5M80.5 82.2q-3.0 -1.5 -3.7 -4.8M86.4 105.3q-3.9 -2.4 -4.6 -6.9M61.1 141.3q-0.6 -2.5 -0.8 -5.1M50.4 105.0q0.3 3.4 3.0 5.5M46.4 110.2q5.0 -0.9 9.7 1.2M49.2 126.7q1.3 -1.9 1.3 -4.1M69.9 88.6q2.1 -0.3 4.1 -0.1M53.3 82.3q1.8 -1.2 1.8 -3.4M68.1 123.6q4.6 -1.9 7.4 2.3M77.3 87.6q1.8 -3.8 6.0 -4.5M71.3 95.2q-2.5 5.3 -8.1 3.6M68.7 113.1q4.4 -2.2 8.9 -0.5M59.2 135.2q1.7 -4.7 3.4 -9.3M57.1 118.0q1.9 -1.8 1.4 -4.4M40.2 118.4q0.9 -2.6 1.0 -5.3M54.4 133.6q0.6 2.2 0.8 4.6M109.3 103.6q1.3 -0.9 2.5 -1.9M81.5 96.2q3.1 -0.7 4.4 -3.5M80.5 106.6q-1.6 -1.7 -3.9 -0.8M75.0 116.4q-0.6 -2.3 -1.2 -4.6M93.8 93.2q2.8 -2.4 1.5 -5.8M51.2 111.9q-0.4 -2.1 0.7 -3.9M67.0 66.8q3.0 6.0 -3.1 8.5M61.3 109.6q-0.6 -1.4 -1.2 -2.8M71.2 115.0q3.4 -1.1 6.3 0.8M100.0 101.8q-4.8 -1.3 -9.7 -1.8M51.0 97.6q1.5 -0.6 3.1 -1.1M78.0 106.6q-0.9 4.1 -0.8 8.3M80.8 118.3q-0.1 -3.1 -2.3 -5.2M71.9 121.3q-1.9 -1.7 -0.4 -3.7M58.7 102.6q2.2 -2.7 1.4 -6.0M66.1 107.8q-0.4 3.9 -3.5 6.4M73.5 68.0q-3.9 6.5 3.5 8.0M52.1 96.8q3.3 -2.9 2.2 -7.2M53.5 126.2q-2.0 1.5 -4.5 1.9M68.1 142.2q2.7 2.4 2.8 6.0M62.9 96.1q-0.1 2.3 -0.3 4.7M52.0 134.6q1.1 -1.4 2.2 -2.8M71.5 93.3q3.5 -3.4 3.5 -8.3M80.1 103.1q3.1 -2.6 6.5 -0.5M56.2 126.6q2.9 2.0 3.6 5.5M103.8 112.3q4.8 -0.6 9.6 0.3M62.3 70.1q0.9 -5.1 -1.4 -9.7M57.5 120.1q-1.6 1.3 -2.1 3.4M86.0 121.0q4.4 -1.9 6.7 -6.1M55.1 124.1q-1.3 -1.8 -0.3 -3.8M57.6 89.5q3.8 1.6 6.5 4.7M57.4 139.8q2.1 -3.0 4.3 -5.9M92.1 111.8q2.1 -5.7 -2.5 -9.6M64.9 104.8q1.6 0.8 3.4 0.8M53.4 87.3q1.8 4.4 1.2 9.1M66.9 104.9q2.0 -2.7 4.7 -0.7M52.4 134.6q-1.3 -1.0 -2.3 -2.3M70.0 135.7q-0.8 -4.1 3.0 -6.0M55.6 106.3q2.5 0.7 4.9 1.8M61.2 105.7q-1.7 -0.6 -3.4 -1.4M75.4 88.0q3.6 3.0 8.2 2.5M66.5 81.2q4.5 -1.3 8.8 -3.2M76.3 91.5q-4.1 -1.4 -8.3 -0.2M68.4 81.9q3.8 3.2 8.4 5.0M91.9 84.5q2.6 0.5 4.9 -0.8M75.5 76.0q2.0 -2.5 4.9 -3.6M60.2 127.1q3.2 3.5 6.9 0.6M64.8 115.8q-1.2 -2.3 -3.6 -3.4M65.6 90.1q2.5 0.4 4.9 -0.2M82.6 148.3q1.0 3.5 1.3 7.1M76.5 97.3q-0.0 -2.0 -1.9 -2.9M75.3 90.5q1.7 -0.5 3.4 -0.3M81.0 83.8q-1.6 -0.9 -3.3 -1.7M75.9 88.6q2.6 0.8 4.7 2.3M83.4 95.8q4.1 -2.0 8.6 -2.7M87.6 114.4q-0.4 -2.7 1.0 -5.1M70.5 121.5q2.0 -3.5 1.9 -7.5M23.7 108.4q3.0 3.7 7.7 3.9M75.8 99.3q-5.6 0.8 -8.1 -4.3M54.3 135.9q-0.4 -2.1 0.1 -4.3M90.8 80.5q-4.9 1.4 -7.1 5.9M65.8 139.9q0.3 1.6 1.6 2.6M83.0 106.8q-0.6 -4.8 -0.6 -9.6M58.7 122.2q2.0 -2.5 2.1 -5.7M48.4 121.9q-2.8 -1.9 -5.8 -0.3M72.6 125.1q3.0 -4.1 -0.2 -7.9M54.7 126.4q0.1 3.7 -0.9 7.3M78.7 118.7q-4.5 -1.6 -9.3 -1.4M44.6 124.2q-3.4 -2.1 -3.6 -6.1M44.8 94.3q1.7 2.5 3.7 4.8M61.8 135.4q-1.7 -0.3 -2.4 -1.8M55.8 119.3q-2.7 -4.2 -2.0 -9.1M45.7 116.2q2.5 -2.3 5.6 -1.2M76.4 86.1q-1.8 -2.9 -5.2 -2.2M75.9 120.1q3.7 -1.9 6.2 -5.2M75.7 77.9q-3.1 -1.1 -5.0 -3.8M67.1 96.5q4.3 2.4 8.6 -0.1M90.9 106.3q2.3 1.4 2.5 4.1M59.4 93.3q-2.6 -3.9 -0.5 -8.0M64.3 124.3q1.6 -2.5 2.5 -5.4M89.0 99.0q-2.4 -2.6 -5.3 -0.5M94.9 87.8q-2.0 0.4 -2.9 -1.5M75.5 85.5q3.1 -5.3 -2.7 -7.5M55.3 140.9q2.5 -4.3 6.4 -7.4M66.1 72.2q2.3 -1.9 3.7 -4.5M87.6 122.4q-3.9 -3.6 -3.3 -8.9M68.4 110.1q-0.4 4.0 -1.9 7.7M55.5 123.1q5.7 5.2 9.5 -1.6M51.2 120.5q2.0 0.1 3.8 -0.8M78.3 90.4q-4.0 -1.9 -8.4 -2.9M66.9 113.1q4.3 1.8 8.9 2.4M65.8 125.6q0.5 2.2 2.7 3.1M62.7 113.6q1.6 2.0 4.2 2.3M88.6 79.4q-4.3 -0.2 -7.4 2.7M49.6 137.6q2.6 -5.9 8.6 -3.6M57.8 122.0q2.3 -2.4 5.2 -3.9M79.7 98.5q-2.2 -1.4 -4.2 -3.0M32.8 101.0q3.4 0.2 6.9 0.1M56.8 113.8q1.7 -2.0 4.3 -2.2M50.4 115.9q2.8 2.2 5.8 4.1M60.5 118.1q-1.8 1.1 -3.9 0.7" stroke="#ff1010" stroke-width="0.6" stroke-opacity="0.5" fill="none" stroke-linecap="round"/>
<path d="M105.2 55.2q1.5 0.7 2.9 1.6M104.3 58.5q-0.8 -1.9 0.9 -3.0M116.6 56.4q-1.3 -3.8 -5.2 -2.6M86.3 77.7q1.2 -1.3 2.8 -1.8M103.1 61.4q3.3 2.4 5.7 5.8M94.5 85.2q0.7 -4.3 -2.1 -7.7M93.6 77.0q4.2 -3.2 9.5 -2.2M107.3 42.8q4.1 0.8 7.9 2.8M91.4 80.1q2.7 -0.6 4.5 1.6M114.6 37.4q2.6 0.9 5.3 1.6M92.3 70.6q2.8 -1.5 6.0 -1.7M113.9 51.2q4.8 2.5 8.4 -1.5M116.5 55.6q-4.2 -2.3 -7.2 1.5M116.9 44.7q-0.5 -2.0 -1.9 -3.6M89.1 78.9q1.4 -3.8 4.7 -5.9M88.7 80.4q1.3 -2.0 3.8 -1.8M95.0 68.6q0.2 2.1 -0.9 3.8M96.6 45.0q1.6 1.6 2.8 3.4M110.1 60.3q-2.2 -4.1 -6.0 -6.6M112.5 44.6q2.9 -2.2 6.2 -3.5M105.4 58.1q1.2 -4.5 5.3 -6.7M100.9 78.1q-3.4 -1.0 -6.4 -2.8M86.1 60.0q4.3 -0.1 6.0 -4.1M107.4 41.0q2.7 0.5 2.8 3.2M91.1 65.7q2.0 2.8 5.1 1.4M90.6 59.7q-5.2 0.6 -8.0 -3.9M80.9 71.4q0.9 -3.5 -2.4 -5.0M101.5 72.0q2.3 -1.7 2.1 -4.6M97.6 70.1q-1.7 2.7 -4.1 4.9M103.3 58.7q-1.5 0.4 -2.7 1.4M93.0 69.7q3.0 0.7 3.9 -2.2M101.1 45.3q-1.2 -1.2 -2.9 -0.9M85.0 75.0q0.3 -3.4 3.6 -4.1M97.9 43.0q3.2 -0.1 6.0 -1.6M84.7 52.3q2.4 3.7 0.8 7.8M95.3 43.5q4.2 -0.4 8.5 -0.5M83.4 75.7q-2.2 -1.6 -3.9 -3.6M85.8 61.2q3.6 -2.4 7.3 -4.7M105.6 40.4q3.7 -3.1 2.1 -7.6M96.6 55.2q0.2 4.1 -1.3 7.9M110.2 50.7q-1.7 -0.5 -2.6 -2.0M87.0 81.9q1.1 -6.8 7.9 -6.0M103.7 66.5q1.3 -1.7 3.0 -3.1M103.2 45.5q1.0 -1.7 0.5 -3.6M97.9 49.5q-1.3 1.6 -3.0 2.7M89.6 62.9q1.9 1.1 3.6 2.5M109.5 49.1q1.9 -0.3 3.8 -0.6M112.3 44.7q3.6 0.4 6.7 2.3M89.5 57.1q4.4 -2.4 8.2 -5.5M102.9 60.1q-1.0 -3.6 -2.4 -7.0M104.3 33.3q2.4 -0.1 4.7 -0.1M102.8 61.9q1.9 1.6 4.4 2.1M90.9 82.8q2.8 -3.1 1.9 -7.1M100.8 79.7q-3.8 1.7 -7.9 1.7M96.1 76.6q0.5 -5.9 -4.6 -8.9M107.2 72.9q-3.2 3.0 -7.2 4.7M114.0 52.1q5.7 -3.0 9.7 2.1M103.5 43.1q1.3 -1.9 3.5 -1.5M100.2 77.1q0.9 1.9 0.2 3.9M108.5 45.4q-2.2 -2.7 -1.9 -6.1M93.9 54.9q3.8 1.9 8.0 2.2M113.4 57.6q-2.3 -3.2 -0.7 -6.9M121.9 59.9q-2.0 -3.5 -1.7 -7.6M108.5 42.2q1.7 -2.1 3.7 -4.0M94.7 78.5q1.7 -5.9 -3.4 -9.3M102.6 31.4q-0.5 -3.5 -1.3 -7.0M106.7 66.8q1.6 -0.0 3.1 0.6M88.1 72.6q-2.3 -2.5 -5.6 -2.8M98.0 45.4q3.4 -3.6 1.1 -8.0M94.6 82.3q3.1 -2.2 6.1 -4.4M101.4 70.2q-0.3 1.9 -2.0 2.7M95.9 56.9q1.3 1.1 2.7 2.1M91.0 47.4q2.5 -0.4 4.9 -1.1M87.6 72.1q0.8 4.9 3.8 8.7M99.7 63.8q0.7 -3.0 2.9 -5.3M97.4 82.2q1.8 -2.8 2.4 -6.1M105.0 58.9q1.6 -0.4 2.7 -1.7M86.7 71.8q-0.9 -2.4 -1.0 -4.9M94.7 71.6q0.8 -5.1 5.7 -6.6M111.4 83.1q-1.2 -1.8 -0.7 -4.0" stroke="#ff1010" stroke-width="0.6" stroke-opacity="0.5" fill="none" stroke-linecap="round"/>
<path d="M78.1 133.3q-2.1 -1.2 -3.2 -3.4M76.4 126.1q0.1 -6.7 -3.3 -12.5M47.3 124.0q2.6 -7.9 10.4 -4.8M72.2 108.9q-0.0 -3.6 -2.4 -6.3M74.0 113.3q5.6 -3.3 11.7 -1.0M64.7 121.8q3.8 -1.6 7.9 -1.2M71.7 122.0q7.1 4.0 11.0 -3.1M74.0 120.9q9.7 1.4 10.9 -8.4M73.6 140.7q-0.1 -6.4 -0.1 -12.9M71.6 124.2q-0.9 -2.3 -0.5 -4.8M61.8 122.0q2.1 -3.1 2.6 -6.8M57.6 94.1q-0.3 8.4 7.6 11.3M71.8 111.2q2.7 -1.8 3.9 -4.8M75.6 113.1q6.1 2.1 9.8 -3.2M73.7 115.0q-0.5 -5.6 -3.3 -10.5M35.0 105.7q4.8 -5.0 11.5 -3.2M60.0 133.2q1.0 -2.7 0.7 -5.6M79.8 125.4q-2.3 -2.2 -4.9 -4.1M62.3 114.0q7.5 -3.7 11.1 3.9M73.8 102.2q-4.8 -1.9 -2.0 -6.3M55.0 117.3q4.5 7.0 10.5 1.2M56.7 100.2q-2.8 -0.6 -2.2 -3.4M75.0 117.5q-1.4 -3.8 -5.3 -4.2M77.3 108.8q-4.1 -4.6 -10.0 -6.3M64.1 118.6q5.0 2.4 8.2 6.9M49.9 127.7q5.4 -1.3 9.1 -5.5M60.5 116.1q2.9 -4.0 4.9 -8.5M64.2 136.8q-1.2 -6.4 4.0 -10.4M53.0 114.2q4.7 -1.4 9.1 -3.3M63.4 107.1q5.1 0.7 8.8 4.1M47.9 108.7q2.4 -2.5 5.0 -4.9M57.1 130.5q5.1 -2.9 2.3 -8.0M69.5 115.2q0.3 -3.2 3.1 -4.7M57.0 120.2q-4.3 -2.6 -6.6 -7.1M76.3 109.8q2.5 -0.6 4.9 0.5M55.9 118.3q1.6 -3.9 3.8 -7.5M62.0 124.2q4.0 -4.2 8.9 -7.5M58.8 126.6q-1.0 -4.5 1.5 -8.3M68.9 134.8q-2.7 -2.7 -1.3 -6.3M66.5 136.5q0.6 -3.6 0.8 -7.2M69.2 100.0q0.7 -1.9 1.9 -3.5M66.4 123.7q4.2 -5.8 11.3 -4.7M65.7 134.7q-2.1 -5.7 -8.2 -6.6M53.8 124.9q1.7 -2.7 4.8 -1.6M60.1 104.9q3.6 -4.3 7.7 -8.1M66.5 113.7q1.7 -1.3 2.9 -3.1M67.5 124.4q4.5 4.2 10.4 2.7M70.4 132.9q3.6 -4.1 5.8 -9.1M47.3 112.4q4.1 -3.4 8.8 -5.7M63.1 133.1q1.9 -6.3 3.1 -12.7M62.9 110.6q0.6 -6.3 6.9 -7.0M62.2 133.4q-0.4 -3.0 -0.1 -6.0M50.6 120.8q1.7 3.1 5.1 2.2M61.5 123.9q-2.2 -1.2 -3.1 -3.5M58.4 116.0q-0.3 -3.3 1.0 -6.3M55.9 108.6q1.9 -1.7 2.3 -4.2M86.4 119.9q-4.1 -1.4 -8.5 -1.7M55.8 122.2q3.4 -2.7 6.5 -5.7M60.6 120.4q0.2 -3.1 -0.6 -6.0M64.8 115.2q4.3 -5.5 10.6 -8.4M41.6 123.9q4.9 -4.8 2.8 -11.4M65.9 136.3q-4.1 -5.6 -7.0 -11.9M61.9 122.7q0.8 -5.2 5.5 -7.5M63.2 113.8q2.6 -2.0 2.9 -5.2M54.1 112.7q2.0 2.1 4.8 1.3M58.2 125.2q-0.8 -3.3 -0.8 -6.7M77.6 103.9q5.3 -5.8 8.1 1.6M48.5 126.3q1.5 -5.8 7.5 -6.2M50.1 108.9q6.0 2.3 12.5 1.5M47.9 120.3q-0.8 -3.1 1.3 -5.4M62.7 123.6q4.5 -1.7 7.7 -5.3M74.4 135.2q5.0 2.8 10.7 2.7M83.2 111.8q5.4 0.1 7.6 5.0M51.8 122.4q1.0 -5.4 5.5 -8.4M77.0 119.9q2.4 -1.2 3.6 -3.5M47.3 120.2q-3.0 -0.2 -4.0 -3.1M58.9 126.4q4.7 -4.3 9.9 -7.9M75.9 120.2q4.2 -5.2 4.8 -11.8M80.4 113.6q1.9 -4.9 -0.4 -9.6M75.9 118.2q-1.3 -3.9 -2.2 -7.8M73.0 105.5q2.1 0.7 4.4 0.3M65.6 108.7q2.2 -3.8 6.4 -2.7M79.2 114.7q5.8 -3.0 8.2 -9.2M75.3 116.9q1.7 -1.2 3.5 -2.2M64.2 126.7q3.1 0.0 5.6 -1.7M61.7 97.6q1.3 -2.5 0.9 -5.4M74.7 118.1q0.8 -2.2 1.9 -4.3M58.2 116.4q-1.0 -5.8 0.4 -11.5M73.5 112.0q0.5 -4.5 1.5 -9.0M66.8 119.0q4.4 -6.1 11.9 -5.0M60.9 109.5q-6.3 -4.1 -3.5 -11.0M57.7 111.2q0.2 -2.6 0.6 -5.2M63.4 130.0q-0.0 -3.4 0.3 -6.7M67.4 125.1q6.2 -3.6 13.3 -2.3M67.4 133.8q1.1 -8.2 -6.8 -10.6M71.1 109.0q0.7 -4.1 3.1 -7.6M78.9 109.5q-1.9 -2.9 0.5 -5.3M73.1 121.3q2.3 -5.4 -2.0 -9.5M70.9 121.9q-4.4 -3.1 -5.8 -8.2M65.4 118.6q1.1 -1.9 1.5 -4.1M68.9 126.7q1.4 -6.5 0.8 -13.1M73.2 112.7q3.3 3.9 8.0 5.7M67.0 114.0q3.9 -7.2 -1.7 -13.2M69.8 104.4q4.7 -4.5 4.2 -11.0M60.9 121.5q0.3 -3.7 -0.3 -7.3M53.8 118.7q-2.9 -6.1 3.0 -9.4M52.5 131.2q4.0 -4.5 8.7 -8.4M73.3 114.1q-3.8 -1.1 -3.3 -5.0M66.9 123.4q5.0 -0.5 8.8 -3.9M58.5 128.9q2.3 -0.3 4.7 -0.4M60.7 128.9q1.9 -4.3 5.0 -7.8M59.0 125.5q0.6 -5.1 0.4 -10.3M49.1 114.7q4.5 3.1 9.8 3.9M60.6 128.3q3.2 -5.7 7.9 -10.2M66.2 107.0q-3.6 -1.3 -7.5 -1.5M57.9 124.1q2.3 -0.1 3.7 1.8M58.3 118.5q-1.8 -1.2 -2.3 -3.3M62.5 126.1q4.7 -1.4 9.2 -3.4M72.8 131.5q4.1 5.9 9.8 1.6M78.7 110.4q2.3 -5.7 -2.2 -9.9M51.3 123.3q3.9 1.1 7.2 -1.4M69.9 115.9q0.1 -3.5 3.6 -3.4M57.3 104.6q3.2 -4.7 9.0 -4.9M68.2 121.4q7.2 -0.3 7.9 -7.5M58.2 122.9q0.3 -3.7 1.6 -7.2M61.9 133.3q2.5 -3.2 1.7 -7.2M60.4 125.8q-1.1 -2.5 -2.4 -5.0M70.0 111.4q2.2 -3.4 5.6 -5.5M76.6 128.3q4.0 -2.6 8.8 -2.6M62.3 106.9q6.5 -2.7 8.5 -9.4M67.5 97.0q-1.3 -2.0 -3.6 -2.8M53.9 124.6q-2.0 -1.4 -2.9 -3.7M63.7 130.1q-4.7 -4.4 -7.0 -10.4M60.0 130.2q-3.9 -5.6 -1.6 -12.0M57.1 127.4q4.5 -0.1 9.1 -0.1M56.3 120.8q2.1 -3.8 5.1 -6.9M74.6 111.9q2.1 0.5 4.2 0.6M48.2 105.8q5.4 -2.1 11.1 -1.3M66.0 121.0q5.9 -5.0 4.8 -12.6M63.6 114.8q2.7 -2.4 3.9 -5.8M74.1 116.5q-1.6 -2.3 -3.0 -4.6M64.3 129.5q-1.3 -1.8 -0.7 -4.0M67.0 128.7q-5.7 -4.3 -3.7 -11.2M72.4 105.9q-2.9 -6.0 -9.3 -7.8M65.8 109.6q4.6 -1.5 8.7 0.9M61.5 132.3q-3.1 -3.9 -1.5 -8.6M74.4 117.2q6.4 -2.2 11.6 2.0M61.7 113.3q2.0 -1.9 2.5 -4.7M60.7 122.0q2.5 -3.5 5.1 -7.0M76.3 105.4q2.5 -2.1 2.3 -5.5" stroke="#ff1818" stroke-width="0.8" stroke-opacity="0.6" fill="none" stroke-linecap="round"/>
<path d="M128.3 30.2q-0.5 -3.3 -1.1 -6.6M141.5 30.2q-4.5 2.2 -8.1 -1.3M130.9 22.7q0.3 4.9 5.1 5.7M127.3 18.5q0.8 -1.7 2.5 -2.6M129.2 23.4q2.3 0.7 4.3 2.0M135.1 30.3q-3.4 -2.0 -7.1 -3.4M130.1 19.6q3.6 0.3 7.0 -1.0M120.5 26.1q2.9 -1.2 2.1 -4.2M133.4 23.0q2.6 -1.3 4.3 -3.7M130.5 23.2q1.8 -0.4 2.3 -2.3M134.4 19.7q2.6 1.4 5.4 2.6M133.8 22.7q1.3 1.8 2.9 3.2M130.6 30.4q4.5 -2.4 4.8 -7.4M130.0 18.7q0.9 4.1 5.1 3.8M127.0 21.9q-2.8 2.6 -3.9 6.2M127.7 23.9q4.4 0.4 6.3 4.4M136.4 26.1q3.1 -0.3 4.8 -2.9M134.8 25.0q1.7 0.1 3.0 -1.1M132.9 26.2q0.2 -2.5 1.6 -4.6M139.6 27.0q-4.1 0.8 -7.7 -1.2M130.9 31.7q1.9 -3.8 2.3 -8.0M133.0 26.0q2.2 -1.5 4.7 -2.6M138.2 16.2q-3.5 2.1 -3.0 6.1M139.1 23.1q-2.2 -1.7 -4.7 -2.9M134.8 25.8q1.8 -2.0 1.6 -4.6M139.0 24.1q-1.0 -2.8 -2.4 -5.5M140.3 22.9q-1.6 2.2 -1.9 4.9M132.7 23.9q-1.2 3.2 -3.3 5.9M141.4 22.6q-2.1 -0.2 -4.0 0.6M136.4 21.8q1.1 -2.2 0.7 -4.7M133.0 22.3q1.2 -4.0 0.8 -8.1M139.8 30.8q-1.5 -3.4 -4.6 -5.6M130.2 26.4q-0.5 -2.1 0.1 -4.2M125.4 27.7q4.3 1.5 8.6 0.1M138.6 30.1q-2.4 -1.9 -4.2 -4.4M122.4 28.3q0.7 -5.2 5.9 -6.0M131.4 22.3q4.2 2.3 7.4 -1.2M127.8 23.0q0.6 -4.6 -1.6 -8.7M124.6 18.3q-0.6 4.0 2.1 7.0M137.7 19.1q0.3 2.4 -0.4 4.8" stroke="#ff1414" stroke-width="0.7" stroke-opacity="0.55" fill="none" stroke-linecap="round"/>
<path d="M49.6 96.4q2.6 -13.6 4.2 -27.4M38.7 113.8q0.1 -13.8 -0.5 -27.6M40.3 118.1q1.7 -5.6 4.2 -10.9M67.2 71.3q8.9 -0.8 15.3 -7.0M57.1 72.7q6.3 -7.5 13.7 -14.1M49.8 85.0q6.4 -2.8 6.5 -9.8M49.1 76.9q-0.9 -13.9 11.6 -20.2M56.8 73.2q7.1 -10.5 15.0 -20.4M50.4 95.3q-1.2 -11.9 -3.6 -23.6M47.7 62.6q13.6 -7.8 27.1 0.0M56.4 65.9q3.2 -10.4 12.0 -16.9M34.8 115.1q12.9 -3.1 17.1 -15.7M56.0 71.8q2.5 -17.2 19.4 -20.9M53.8 62.8q7.8 1.1 15.5 -0.8M48.5 97.0q5.3 -11.5 15.3 -19.3M60.6 69.5q8.4 -3.0 17.3 -4.2M52.0 77.2q11.3 -6.5 21.7 -14.4M36.0 114.6q12.1 1.2 14.4 -10.8M72.3 65.5q4.5 -3.2 7.4 -7.9M56.1 79.4q1.8 -10.0 8.3 -17.8M37.9 116.8q2.6 -13.6 15.0 -19.7M57.8 51.3q11.8 4.1 24.2 2.1M45.8 87.8q1.0 -7.7 0.0 -15.5M48.7 99.7q1.2 -9.9 6.7 -18.2M60.9 68.4q10.8 0.9 14.4 -9.3M39.8 103.7q4.3 -8.0 9.4 -15.5M63.6 72.1q8.9 -7.3 14.8 -17.2M62.2 83.6q-6.8 -8.2 -4.0 -18.4M49.3 76.9q-2.2 -11.2 4.3 -20.5M56.1 90.2q14.5 -7.7 17.8 -23.9M59.9 82.9q-2.9 -15.4 5.3 -28.7M63.9 78.8q10.1 -9.4 18.9 -20.2M71.4 63.8q4.8 -4.7 10.1 -8.7M47.8 76.4q-1.6 -17.4 15.9 -16.6M40.8 114.4q2.5 -10.5 5.5 -20.9M41.7 99.3q7.0 -2.5 12.0 -8.0M45.6 104.5q4.4 -3.0 8.3 -6.5M46.1 90.8q5.8 -6.6 9.8 -14.5M44.4 108.3q7.5 -7.9 2.4 -17.5M55.6 99.6q-1.1 -8.1 3.8 -14.7" stroke="#e01010" stroke-width="0.5" stroke-opacity="0.45" fill="none" stroke-linecap="round"/>
<path d="M119 103q3 -2 6 -9" stroke="#f01010" stroke-width="2.6" stroke-linecap="round" fill="none"/>
<circle cx="159.3" cy="91.8" r="1.7" fill="#e81010"/>
<path d="M135 82l4 -8" stroke="#800" stroke-width="1.2" fill="none"/>
</g>
<g id="r2">
<path d="M35.3 44.9L44.1 19.8L70.6 11.9L105.9 15.8L132.4 31.7L162.4 50.2" stroke="#e00000" stroke-width="20" stroke-opacity="0.28" fill="none" stroke-linecap="round" stroke-linejoin="round" filter="url(#bl4)"/>
<path d="M38.8 60.7L52.9 37.0L79.4 29.0L109.4 35.6L130.6 47.5" stroke="#e00000" stroke-width="14" stroke-opacity="0.17" fill="none" stroke-linecap="round" stroke-linejoin="round" filter="url(#bl4)"/>
<path d="M44.1 46.2L39.7 79.2L44.1 112.2L52.9 134.6" stroke="#e00000" stroke-width="12" stroke-opacity="0.12" fill="none" stroke-linecap="round" stroke-linejoin="round" filter="url(#bl4)"/>
<path d="M75.9 39.6L72.4 72.6L75.9 105.6L70.6 134.6" stroke="#e00000" stroke-width="20" stroke-opacity="0.2" fill="none" stroke-linecap="round" stroke-linejoin="round" filter="url(#bl4)"/>
<path d="M97.1 43.6L98.8 66.0L107.7 81.8L103.3 105.6L97.1 134.6" stroke="#e00000" stroke-width="13" stroke-opacity="0.13" fill="none" stroke-linecap="round" stroke-linejoin="round" filter="url(#bl4)"/>
<ellipse cx="113" cy="50" rx="13" ry="5" fill="#000" opacity="0.75" filter="url(#bl2)"/><ellipse cx="61" cy="66" rx="4" ry="8" fill="#000" opacity="0.7" filter="url(#bl2)"/><ellipse cx="88" cy="52" rx="6" ry="4" fill="#000" opacity="0.6" filter="url(#bl2)"/><ellipse cx="66" cy="84" rx="4" ry="6" fill="#000" opacity="0.6" filter="url(#bl2)"/><ellipse cx="120" cy="75" rx="18" ry="6" fill="#000" opacity="0.5" filter="url(#bl2)"/>
<path d="M47.7 15.8L56.5 26.4" stroke="#ff1010" stroke-width="8" stroke-opacity="0.45" fill="none" stroke-linecap="round" stroke-linejoin="round" filter="url(#bl4)"/>
<path d="M70.6 19.8L83.0 25.1" stroke="#ff1010" stroke-width="8" stroke-opacity="0.45" fill="none" stroke-linecap="round" stroke-linejoin="round" filter="url(#bl4)"/>
<path d="M105.9 25.1L113.0 29.0" stroke="#ff1010" stroke-width="6" stroke-opacity="0.4" fill="none" stroke-linecap="round" stroke-linejoin="round" filter="url(#bl4)"/>
<ellipse cx="17" cy="120" rx="25" ry="14" fill="#ff1212" opacity="0.97" filter="url(#bl4)"/>
<ellipse cx="14" cy="123" rx="15" ry="8" fill="#ff2020" filter="url(#bl2)"/>
<path d="M144.8 39.6q10.7 9.1 23.0 15.9M108.1 23.5q5.2 6.5 12.4 2.3M151.0 32.8q12.8 7.0 16.1 21.2M126.9 4.9q1.5 10.3 8.4 17.9M57.0 15.9q7.6 10.0 19.0 4.9M149.6 41.8q10.4 -1.9 20.1 2.6M47.9 25.6q14.0 3.5 22.1 -8.3M36.9 28.0q-0.3 -7.0 6.0 -10.0M32.0 49.6q-3.4 -15.1 8.4 -25.1M73.3 14.3q5.3 -8.2 13.7 -3.4M65.2 7.4q9.9 -5.2 19.9 -0.3M107.1 16.3q13.0 5.1 25.6 11.2M59.6 2.5q11.1 10.5 25.8 6.3M74.4 6.9q2.5 6.2 9.2 6.8M94.6 9.3q7.0 2.8 14.3 4.9M93.6 15.5q6.8 -2.6 11.7 2.8M108.3 23.8q6.3 12.1 19.7 14.6M134.3 32.6q9.7 1.9 19.3 3.7M150.4 46.8q11.7 -0.8 22.0 4.8M126.4 19.2q15.6 2.7 20.1 17.8M24.4 45.9q5.0 -6.1 4.9 -14.0M69.3 21.4q13.4 3.4 27.2 2.8M64.5 13.9q6.0 3.0 12.7 3.3M52.9 12.0q6.1 1.9 12.2 -0.2M62.6 20.8q11.8 -6.9 13.9 -20.4M135.0 33.1q6.1 6.5 13.0 12.1M67.9 15.6q8.1 -3.1 16.1 -6.2M54.3 19.7q5.3 2.3 11.1 1.3M140.5 35.8q8.5 3.1 16.0 8.2M88.9 10.7q2.9 2.9 6.6 4.7M100.9 28.9q6.4 1.5 11.2 5.9M65.4 11.0q4.3 -2.5 8.2 0.6M63.8 10.1q12.2 5.6 24.0 -0.8M67.8 4.8q6.5 -0.9 11.2 3.7M53.3 20.2q9.5 -1.0 17.9 3.5M155.3 29.8q6.3 12.6 20.1 15.7M130.7 19.7q3.7 4.7 8.1 8.7M61.8 12.4q12.4 10.1 27.1 3.9M29.6 28.0q-7.1 -11.0 2.5 -19.8M26.1 49.6q6.3 -10.7 16.8 -17.3M133.4 34.3q8.7 -2.2 9.4 6.7M139.4 40.1q10.4 6.3 22.4 4.4M62.7 32.9q13.7 2.9 20.6 -9.2M114.1 13.0q4.8 4.8 11.6 5.4M42.3 42.3q0.6 -4.2 1.9 -8.3M76.6 16.4q8.7 2.5 17.5 0.3M75.8 1.6q9.7 -2.3 12.1 7.4M147.0 37.3q11.3 7.6 23.8 12.7M90.1 13.8q6.3 1.1 12.3 3.4M37.2 42.1q3.9 -3.3 8.0 -6.4M86.3 17.9q4.3 -2.2 9.1 -2.1M138.0 45.4q10.7 -0.1 19.9 5.4M34.9 46.6q-4.5 -10.1 -3.5 -21.1M36.0 52.4q5.1 -7.0 8.0 -15.1M125.5 25.4q7.1 7.6 13.1 16.0M146.3 40.7q6.5 0.8 12.1 4.2M110.8 26.5q8.2 1.2 14.5 6.6M68.7 6.1q12.7 1.8 22.1 10.5M55.2 27.6q2.0 -7.5 9.8 -7.8M96.1 14.4q9.4 -2.7 19.0 -1.3M57.8 16.3q12.9 -6.5 27.2 -4.5M77.4 8.7q2.9 4.3 8.0 3.9M109.3 10.0q4.2 3.6 5.5 9.0M40.1 8.4q10.8 2.7 20.9 -1.9M48.1 26.2q13.8 4.3 23.3 -6.5M86.3 27.1q7.3 2.9 15.2 2.8M81.6 13.4q8.8 1.9 17.6 4.0M79.4 21.3q6.2 -4.0 12.6 -0.2M41.0 22.6q6.5 2.3 9.8 -3.7M93.4 17.3q7.6 1.3 13.0 6.9M71.5 14.0q11.8 -2.7 23.9 -2.5M58.5 18.8q11.2 -6.9 23.5 -11.3M151.0 26.0q11.0 2.6 19.1 10.6M151.4 39.6q6.8 4.5 10.5 11.7M30.1 38.6q-1.8 -7.8 -1.0 -15.7M121.9 34.8q5.9 9.4 16.3 12.9M38.6 51.9q-2.3 -12.6 2.5 -24.5M31.7 52.5q8.3 -8.6 11.4 -20.2M127.2 26.1q10.1 3.3 19.9 7.6M32.5 36.5q1.2 -5.8 1.5 -11.7M69.4 23.2q4.5 6.8 12.5 5.3M22.9 47.6q3.0 -10.1 13.0 -13.2M143.2 36.4q5.7 1.2 9.3 5.9M129.3 43.6q2.6 4.7 7.4 7.0M46.0 13.3q5.4 -1.4 11.0 -0.5M138.7 34.7q11.2 3.4 22.7 5.5M63.2 12.8q7.0 -0.4 13.8 -1.9M65.7 23.1q4.8 -1.6 9.4 0.4M54.8 1.6q5.9 1.1 11.9 1.4M51.8 17.6q6.5 0.7 11.6 4.7M27.3 39.3q-1.7 -6.2 3.7 -9.5M38.0 58.1q-5.6 -13.7 5.8 -23.0M87.8 5.1q5.6 -0.9 10.5 2.1M61.9 13.2q4.6 -0.2 9.0 -1.1M92.5 11.7q7.8 4.5 15.9 8.5M98.2 17.6q10.6 -2.9 17.1 6.0M93.4 14.7q11.2 4.9 20.1 13.1M76.6 14.5q5.2 -0.1 10.1 1.8M86.9 20.0q6.5 -0.5 12.9 -1.3M52.8 20.0q4.2 -13.9 18.2 -17.5M61.9 12.3q5.2 -0.7 10.4 -0.1M143.6 52.7q8.7 7.7 19.6 11.7M145.8 46.2q10.9 3.5 22.1 5.8M89.2 -0.8q5.1 3.7 10.2 7.5M71.0 15.8q13.7 -3.9 23.5 6.4M126.5 26.4q4.7 7.8 12.4 12.6M83.6 14.0q5.9 -13.7 20.7 -12.3M91.8 7.3q8.9 4.4 17.3 9.8M72.0 -0.3q5.4 7.5 14.5 5.4M152.9 37.7q9.0 -1.0 13.8 6.6M31.4 51.4q-0.9 -11.2 -1.9 -22.4M110.1 17.0q8.4 11.4 22.5 11.8M73.9 9.9q5.7 1.3 11.5 1.5M92.4 18.5q4.7 1.4 9.5 2.3M112.8 34.3q5.9 8.9 16.5 7.9M42.7 38.8q10.5 -7.9 15.4 -20.0M54.2 24.0q11.6 -7.3 24.1 -13.0M160.3 31.6q9.0 3.2 14.8 10.8M91.4 15.4q9.7 -1.7 19.4 -2.0M78.5 16.2q8.4 -2.6 14.7 3.6M44.4 13.4q6.7 -1.3 13.4 -0.8M54.8 23.5q6.1 -10.4 18.2 -9.6M145.9 39.1q10.0 -2.8 14.7 6.5M89.3 9.2q8.5 7.1 19.5 8.1M132.8 26.2q5.6 -0.4 7.1 5.1M41.4 38.2q-1.5 -9.5 -1.2 -19.2M46.8 20.0q7.6 1.0 13.6 -3.6M156.7 39.7q9.6 1.9 12.5 11.2M97.9 19.6q5.9 2.5 11.0 -1.3M66.2 6.6q9.7 1.3 19.3 -0.0M130.0 17.5q11.8 2.7 19.3 12.0M144.8 50.1q10.9 2.3 18.5 10.4M101.1 21.8q12.7 5.5 26.2 2.1M88.1 9.3q1.2 5.3 5.9 8.3M77.7 8.3q5.5 -2.6 11.4 -1.1M84.2 13.8q8.6 -3.0 16.9 1.0M108.0 4.3q10.1 8.9 23.5 10.8M84.4 9.9q5.3 7.2 14.3 7.0M145.4 24.8q4.5 1.1 7.1 4.9M134.0 25.9q7.8 7.8 17.2 13.3M51.8 8.9q12.1 -11.5 27.3 -4.7M140.9 24.4q7.0 2.6 10.0 9.5M86.8 28.5q10.1 3.6 16.9 -4.7M31.3 41.2q-3.0 -4.4 -0.2 -8.9M66.6 8.9q9.7 1.4 18.3 -3.2M134.1 38.5q7.7 7.7 18.6 6.8M46.2 9.3q12.8 0.8 25.2 -2.7M85.8 9.8q10.4 -8.7 18.5 2.2M103.9 12.5q9.0 21.9 25.4 4.8M38.0 32.5q-1.3 -7.4 3.7 -13.1M52.3 43.7q-3.1 -9.3 0.0 -18.6M144.4 39.1q9.8 2.7 16.5 10.4M157.0 43.7q6.1 4.8 10.2 11.4M104.2 17.6q3.9 10.1 14.8 9.1M136.1 37.3q5.6 1.1 11.1 -0.5M47.3 5.1q11.6 -1.8 23.2 -3.6M149.2 46.8q3.3 9.0 12.8 9.6M130.9 34.1q12.5 5.3 20.8 16.0M123.2 27.7q-0.2 15.5 13.5 23.0M132.9 23.0q9.5 5.2 18.8 10.6M81.4 13.7q12.1 4.7 25.0 6.1M31.8 54.0q-1.6 -13.6 6.5 -24.6M76.6 13.1q11.7 2.2 23.5 0.5M82.7 21.2q8.4 2.9 17.0 0.2M34.2 49.1q-0.4 -14.3 11.4 -22.4M130.3 47.4q0.3 18.2 18.3 20.9M77.6 1.8q8.9 0.8 17.6 2.8M47.9 30.9q7.0 -1.9 13.7 -4.8M129.0 31.7q6.2 5.0 12.2 10.3M33.2 47.5q14.4 -5.6 11.3 -20.7M135.1 30.0q5.5 -3.7 11.8 -5.7M149.3 39.5q11.4 4.5 23.4 2.4M147.2 44.7q9.1 6.4 20.1 5.9M45.7 3.1q3.7 -6.1 10.5 -3.8M31.9 31.6q-0.2 -7.4 2.7 -14.3M95.5 17.9q9.2 -6.8 20.3 -9.6M33.6 40.9q-0.4 -9.8 5.2 -17.8M25.1 49.2q0.9 -9.0 2.8 -17.9M87.5 1.6q7.3 -1.5 13.8 2.1M37.4 24.1q10.0 -7.2 22.0 -9.6M69.9 19.7q4.2 1.1 7.6 3.7M42.3 59.2q-5.2 -15.3 6.1 -26.8M63.4 30.2q7.8 -5.8 9.3 -15.4M131.0 29.8q5.1 7.6 10.3 15.3M131.1 14.9q4.2 3.5 5.1 8.9M94.6 17.1q7.7 5.5 16.7 2.9M144.7 45.6q5.1 2.2 9.1 6.1M21.2 46.3q-3.9 -11.6 7.8 -15.4M100.1 21.8q6.2 -1.1 12.4 -1.5M65.1 5.2q9.9 1.1 16.7 8.4M76.4 10.6q9.2 3.5 19.1 2.5M36.4 47.7q-5.9 -8.0 -0.9 -16.6M33.8 36.8q1.5 -6.3 -0.1 -12.6M129.4 20.0q6.2 10.0 17.8 11.6M102.1 32.1q11.5 5.7 22.4 -1.1M113.9 20.9q4.9 0.9 7.7 5.1M101.0 13.9q3.6 5.2 8.0 9.7M98.3 12.1q6.1 -0.2 9.9 4.5M88.4 23.3q13.3 -1.0 25.2 -6.8M33.2 36.5q-3.8 -13.3 5.2 -23.8M74.1 13.4q11.9 6.4 23.1 -1.2M131.1 20.4q7.4 1.5 13.0 6.5M52.3 11.9q8.0 -3.6 15.2 1.4M162.4 31.0q5.5 8.1 11.2 16.1M78.2 15.1q5.0 -4.2 11.3 -6.2M72.5 13.4q14.9 6.4 25.5 -5.9M141.6 25.4q10.6 2.5 18.6 9.8M53.4 14.0q5.2 -0.4 10.3 1.0M64.0 12.7q7.6 1.6 15.2 3.5M86.0 12.5q8.1 1.4 14.7 6.4M70.3 9.6q7.7 -3.4 11.1 4.4M62.9 15.1q11.2 -0.2 19.3 7.5M83.9 -1.8q7.9 6.1 17.4 9.6M70.4 19.2q6.4 -2.3 13.2 -2.1M55.3 28.7q12.9 -1.2 24.1 -7.7M90.7 12.3q9.6 -4.8 18.6 1.0M110.8 16.1q4.2 1.7 8.4 3.5M54.9 17.0q10.5 -1.0 20.9 -3.2M37.1 24.1q3.7 -16.6 20.5 -13.9M73.5 13.3q12.4 0.3 19.2 -10.2M72.0 23.5q12.7 8.0 20.3 -4.9M39.8 34.9q3.6 -4.7 6.8 -9.7M41.9 11.5q11.9 2.6 20.9 -5.5M138.6 28.1q9.7 5.5 20.5 8.6M154.5 47.5q4.0 6.8 9.6 12.5M79.4 14.7q11.7 3.5 22.8 -1.6M24.9 47.6q10.3 1.5 15.4 -7.6M110.2 11.0q11.5 9.3 12.2 24.0M49.5 10.3q7.5 0.2 14.8 2.0M37.7 21.0q11.3 2.9 21.9 -2.1M39.4 19.5q7.2 -6.0 15.9 -2.7M105.9 16.2q12.1 -1.0 23.9 2.1M125.2 46.2q3.5 11.0 15.0 9.3M76.9 10.5q11.2 3.5 22.8 5.6M40.7 56.2q3.9 -9.3 9.4 -17.8M149.8 39.7q8.6 4.5 16.5 10.2M54.0 12.2q12.3 13.8 27.5 3.3M150.2 43.0q-0.2 4.7 3.8 7.4M62.4 18.7q4.8 -4.2 11.0 -3.0M155.6 42.6q4.5 1.7 8.0 5.0M53.0 28.5q13.5 -4.0 17.5 -17.5M93.1 2.2q15.0 -3.8 22.3 9.8M139.1 32.7q10.8 1.9 17.7 10.3M133.6 9.2q7.8 4.0 7.1 12.7M148.4 34.9q9.5 -0.6 15.4 6.8M116.3 22.4q6.3 10.1 18.2 10.5M151.4 45.5q8.4 -3.3 15.3 2.7M21.7 49.4q4.9 -11.1 3.6 -23.2M103.5 31.7q6.3 5.2 13.8 8.5M37.6 45.6q5.8 -9.7 7.4 -20.8M29.4 28.8q3.1 -7.9 8.3 -14.6M80.2 22.9q6.4 -3.9 13.9 -3.4M104.1 34.6q10.2 -0.9 20.3 -1.7M77.4 4.1q6.7 8.9 11.7 18.9M39.6 20.9q8.6 1.7 16.5 -2.1M130.7 31.2q8.4 1.8 16.2 5.5M29.6 40.8q1.8 -7.6 -2.1 -14.3M67.2 10.7q4.4 -1.2 8.7 0.4M88.8 9.7q5.5 2.1 11.4 1.4M46.2 33.8q-8.8 -9.7 -0.6 -20.0M41.5 5.2q6.5 -3.9 13.1 -7.7M122.4 21.3q13.6 4.6 18.5 18.2M100.1 17.3q7.8 0.9 15.4 3.1M125.0 35.5q1.8 4.0 4.9 7.2M106.2 19.6q9.9 -5.8 20.9 -2.4M111.8 11.6q14.9 -3.6 23.1 9.3M67.1 16.1q4.3 2.9 8.9 0.5M137.0 33.3q-0.6 11.1 9.7 15.1M110.0 24.1q1.5 8.5 3.8 16.9M46.8 46.7q-4.0 -5.3 0.0 -10.5M46.1 16.4q10.4 1.2 20.3 -1.9M121.3 12.7q7.5 4.4 8.4 13.1M143.4 41.6q2.8 4.0 4.7 8.5M98.5 16.2q4.1 4.6 10.3 4.7M117.3 15.6q4.6 2.9 9.2 5.6M56.1 5.4q12.3 -2.7 21.8 5.5M98.1 26.3q12.3 0.9 24.6 1.6M129.8 23.2q3.7 2.6 8.3 2.0M41.0 26.3q4.8 -4.0 2.2 -9.7M156.1 33.2q10.6 2.4 16.4 11.6M86.4 16.4q11.1 -3.8 19.9 4.0M139.4 38.4q9.3 10.3 20.9 18.0M31.8 31.2q2.6 -6.3 7.7 -10.8M128.6 31.9q3.0 10.5 13.9 10.1M89.7 25.7q3.7 1.9 7.6 3.3M69.6 13.3q6.8 -0.3 12.8 -3.6M154.9 40.0q11.3 4.4 17.0 15.1M150.9 30.8q12.1 6.0 19.1 17.5M134.0 40.1q12.8 4.3 19.8 15.9M81.1 16.5q10.6 0.8 20.9 2.9M112.5 32.0q7.4 -0.2 12.2 5.5M29.3 31.9q-2.0 -11.7 8.0 -18.1M112.2 16.9q4.0 4.4 10.0 4.5M46.4 19.8q4.6 -2.7 9.8 -4.2M92.3 17.7q5.0 1.6 8.9 -2.0M142.7 33.4q17.4 -4.8 20.7 12.9M111.9 32.8q12.7 6.3 26.9 5.6M82.3 6.9q10.1 3.0 17.5 10.4M76.7 18.3q3.6 2.2 7.9 2.2M73.2 22.0q10.6 -7.5 23.0 -3.6" stroke="#f01010" stroke-width="0.6" stroke-opacity="0.5" fill="none" stroke-linecap="round"/>
<path d="M78.9 30.0q6.8 6.9 15.3 2.1M110.1 30.3q6.4 4.7 12.3 10.0M117.4 34.5q-0.3 7.7 7.4 8.2M95.6 37.5q10.9 -5.6 16.0 5.5M107.2 38.6q7.4 2.6 15.2 2.9M110.6 39.2q0.6 5.8 3.8 10.6M71.4 26.1q8.0 4.4 17.1 5.2M106.9 42.1q4.8 1.9 9.9 2.5M40.6 66.6q1.6 -6.2 2.7 -12.6M40.5 39.7q4.4 -5.1 9.9 -8.9M123.3 34.7q9.8 4.8 16.6 13.4M32.1 61.9q7.2 -7.0 12.7 -15.3M60.6 29.9q5.1 1.6 8.2 -2.9M89.3 31.1q10.7 0.4 20.9 3.2M112.2 31.3q-0.1 13.2 10.6 20.9M48.8 66.9q-3.4 -8.0 5.2 -8.8M71.5 38.9q4.0 -2.5 8.6 -2.2M47.5 47.6q0.6 -5.5 4.3 -9.5M46.3 29.4q8.8 -5.7 17.3 0.4M49.4 33.6q4.2 -2.3 9.0 -3.1M75.2 27.5q11.7 8.4 23.7 0.5M78.0 37.3q4.4 -1.5 9.0 -0.4M63.9 34.1q6.4 -8.6 15.6 -14.2M48.8 62.9q4.7 -9.5 5.1 -20.0M44.6 64.0q11.9 -3.8 12.7 -16.3M46.7 52.5q1.8 -6.2 8.0 -7.9M66.0 43.6q1.8 -4.0 5.2 -6.8M119.1 38.9q8.7 6.6 14.9 15.6M47.9 41.7q3.5 -7.5 11.6 -5.6M70.8 29.4q5.2 -0.8 10.3 -2.4M45.6 38.7q8.9 -7.5 20.3 -9.8M79.3 23.5q9.8 0.4 17.5 6.3M89.1 37.1q4.6 0.2 8.8 -1.6M83.1 22.5q5.1 11.3 17.5 12.0M105.8 34.5q8.4 1.0 16.4 -2.0M37.6 54.5q9.8 -5.8 11.0 -17.2M100.9 25.0q12.9 2.1 17.0 14.5M53.1 43.9q6.5 -1.6 11.8 -5.7M32.0 52.5q5.1 -2.5 8.4 -7.0M62.8 47.2q4.5 0.0 8.2 -2.4M109.2 41.6q8.3 -12.0 21.4 -5.6M45.2 29.0q3.1 -6.3 9.7 -3.8M116.3 44.5q4.1 3.6 9.5 4.9M57.6 37.7q5.2 -3.2 11.4 -2.6M88.6 31.5q10.5 0.1 20.3 3.9M70.6 25.5q4.0 0.8 8.0 0.1M101.3 30.2q6.0 -0.9 11.2 2.2M103.2 33.8q4.3 -3.2 9.6 -2.2M55.4 52.8q3.9 -6.5 5.3 -13.8M85.4 29.3q4.5 3.8 10.4 4.3M59.7 38.1q9.8 0.5 18.4 -4.3M116.6 46.4q9.6 3.1 17.0 10.1M78.7 19.8q12.2 -6.0 23.2 1.9M58.1 56.1q-4.1 -10.1 -1.1 -20.5M55.3 45.5q10.5 -4.1 19.0 -11.6M57.0 27.1q4.5 4.5 9.9 1.3M38.8 56.9q3.1 -5.1 7.5 -9.1M108.6 34.7q10.2 7.6 21.2 1.2M47.1 31.1q7.2 2.3 9.6 -4.9M36.0 69.7q8.2 -7.4 12.0 -17.7M85.6 23.4q10.9 5.0 23.0 4.6M53.6 48.5q8.7 2.9 13.8 -4.8M80.9 29.3q7.7 -4.5 14.1 1.7M96.5 38.9q9.5 4.3 19.9 4.7M92.3 41.0q10.8 2.3 20.3 7.8M71.6 40.6q8.4 -1.0 15.9 -4.9M100.8 25.0q4.0 4.3 9.9 4.7M69.4 23.0q7.0 -1.9 13.9 -4.0M50.7 49.3q-0.7 -14.3 12.9 -18.9M63.6 33.2q8.8 -0.7 16.0 -5.8M92.7 25.6q8.1 4.4 17.2 3.0M104.4 44.8q0.6 12.6 13.1 14.2M42.2 64.7q1.1 -6.4 -0.1 -12.8M41.5 65.2q8.1 -1.6 10.2 -9.6M65.9 44.4q5.8 -2.7 10.7 -6.9M90.1 38.3q4.3 -8.2 13.4 -9.8M83.0 34.7q7.5 -3.9 15.8 -2.0M93.4 41.1q6.9 -1.5 13.5 -3.9M84.5 21.3q8.9 5.0 18.6 8.1M47.5 47.8q6.5 -6.0 9.0 -14.5M66.7 21.8q5.4 3.1 9.8 -1.4M48.2 33.2q2.8 -4.9 7.7 -2.2M58.1 35.5q4.3 -3.2 9.1 -5.6M90.2 39.7q11.8 -0.9 23.7 -1.4M48.6 27.7q8.1 -10.1 21.0 -11.0M82.8 35.7q8.2 -2.2 16.6 -2.6M48.5 48.2q4.0 -4.4 8.9 -7.6M53.2 35.1q11.8 4.3 22.3 -2.4M45.1 49.6q5.3 -3.6 9.0 -8.8M88.3 32.1q9.9 1.9 19.6 4.8M106.5 36.1q4.8 -1.3 9.5 0.1M68.4 37.7q11.5 -1.2 20.9 5.5M111.0 36.4q3.7 12.1 14.2 19.3M116.1 41.4q5.9 0.0 9.8 4.4M108.7 55.9q3.9 2.2 6.0 6.1M76.6 33.2q12.6 -1.2 21.6 7.8M51.5 20.9q6.5 1.7 11.9 5.6M102.0 37.5q9.3 -1.9 18.7 -1.5M64.1 38.4q7.1 -4.7 15.5 -3.2M49.8 48.7q15.4 -1.3 12.5 -16.5M57.5 37.8q8.2 -4.2 16.8 -7.1M75.6 36.7q4.7 -3.9 10.4 -5.9M62.6 47.0q5.6 -9.8 13.9 -17.3M25.0 52.0q1.9 -4.1 5.8 -6.3M54.5 48.5q-1.2 -5.0 1.8 -9.2M119.1 47.8q7.5 9.1 9.8 20.6M114.3 32.8q4.4 8.8 14.2 8.9M47.3 39.8q10.1 2.7 18.3 -3.9M75.6 40.3q6.8 -3.2 11.2 2.9M95.5 29.6q5.1 -0.0 8.9 -3.4M76.3 31.9q4.9 4.4 11.4 5.8M39.7 46.9q6.1 -5.5 9.1 -13.1M108.6 46.4q4.8 0.0 9.0 2.4M39.4 49.7q5.1 -0.7 7.3 -5.4M111.0 30.2q6.3 9.7 16.2 15.6M109.3 42.9q5.0 0.5 9.0 3.4M112.8 28.4q5.5 -0.8 10.9 0.1M57.6 43.8q4.9 -0.5 9.9 -0.4M68.6 35.7q10.9 -4.9 22.8 -3.1M86.9 24.7q11.7 1.3 22.5 6.1M115.0 33.6q9.2 3.8 15.8 11.2M86.5 31.3q4.1 -0.9 8.2 -1.6M77.6 15.1q9.4 2.7 17.9 7.7M38.3 44.2q3.9 -11.7 14.1 -18.6M76.4 21.9q8.1 0.7 14.5 5.7M65.2 31.3q4.8 1.2 9.8 0.8M55.2 46.6q-0.2 -5.3 4.7 -7.1M43.8 56.5q5.5 -5.9 5.9 -13.9M53.0 26.6q3.5 4.5 8.2 1.2M88.3 24.4q8.6 -4.0 14.3 3.6M46.7 54.7q4.6 -8.8 13.6 -13.1M43.0 24.6q8.5 -7.4 19.4 -10.2M33.3 55.5q3.9 -5.3 1.9 -11.6M124.1 44.4q4.5 8.7 13.2 4.0M100.8 40.8q9.4 3.2 19.0 6.0M110.5 24.5q9.5 -3.4 17.1 3.2M52.5 50.8q4.6 -2.4 9.7 -2.0M50.1 43.6q5.4 -2.0 6.5 -7.6M113.4 35.6q5.3 1.9 10.3 4.5M56.7 17.8q8.6 -0.1 17.1 -1.1M54.3 37.5q13.8 2.3 21.9 -9.0M72.6 30.5q7.4 0.5 12.5 5.8M60.0 44.7q4.5 -5.8 11.9 -6.7M36.5 57.8q9.1 -7.9 20.8 -10.4M75.0 30.3q6.2 -0.9 11.1 3.0M122.0 41.7q6.2 2.9 9.4 9.1M58.6 28.6q5.0 1.2 9.4 -1.6M125.1 36.2q7.2 9.0 18.7 8.4M67.7 42.5q4.8 -4.1 10.4 -7.2M121.9 35.0q4.3 5.5 11.1 6.8M43.8 62.5q7.9 -3.3 13.5 -9.8M89.9 24.4q7.4 2.2 12.6 -3.4M107.6 40.9q12.5 3.2 18.2 14.8M69.9 32.0q7.1 -2.4 13.3 -6.5M39.2 44.9q4.4 -7.3 9.1 -14.4M37.9 61.9q5.8 -8.4 8.9 -18.1M96.9 32.6q6.6 1.3 10.4 6.8M71.6 38.1q8.6 -1.0 17.0 -3.5M110.6 32.5q9.7 -4.6 15.9 4.2M77.3 29.8q7.1 1.5 14.1 0.2M69.4 30.1q7.9 1.1 13.7 -4.4M100.1 35.1q5.7 -10.6 16.2 -4.9M30.0 55.7q-0.4 -12.2 5.4 -22.9M88.0 21.5q5.1 10.2 16.2 12.7M54.0 46.0q10.4 -6.1 13.2 -17.8M71.7 25.4q4.8 -4.4 10.5 -7.4M68.4 36.6q9.2 -3.4 18.9 -2.3M107.4 43.8q9.2 6.6 14.0 16.8M41.9 56.8q6.8 -3.5 8.5 -11.0M111.7 38.8q7.8 2.9 15.5 6.1M85.5 30.0q6.3 -2.5 12.2 0.7M103.2 41.7q8.3 1.1 16.6 1.0M59.5 42.3q11.2 0.0 22.0 2.7M109.3 26.4q6.3 5.3 13.9 8.2M52.0 37.7q11.7 -0.9 23.5 -2.1M48.1 35.8q5.0 -5.5 11.8 -2.5M74.9 29.1q11.5 1.0 22.6 4.3M72.5 36.2q5.5 -2.4 10.8 -5.2M94.3 31.0q9.6 -4.5 14.4 5.0M87.6 32.5q7.8 -8.7 17.6 -2.5M78.3 26.0q10.2 -11.7 20.2 0.2M79.4 32.0q9.7 2.2 18.4 6.9M43.8 41.3q2.9 -3.2 4.1 -7.4M53.8 31.4q1.5 -5.4 6.8 -7.0M55.3 55.1q3.0 -10.7 9.2 -19.8M46.9 53.4q6.2 -5.2 10.0 -12.2M87.8 35.1q10.0 2.9 20.3 4.6M124.0 37.9q4.8 5.7 12.0 7.6M68.6 37.2q7.2 -12.5 20.6 -7.2M114.6 25.5q7.9 5.4 11.5 14.3M70.6 23.9q5.0 1.9 10.2 0.5M70.6 50.5q6.0 -3.1 10.3 -8.4M48.6 48.5q-2.2 -12.0 5.4 -21.5M55.3 36.2q9.8 -5.9 21.0 -8.2M43.8 52.4q6.4 -6.4 8.1 -15.4M63.9 40.3q11.4 -1.9 23.1 -1.9M103.0 22.7q8.6 -0.5 13.5 6.5M104.0 43.2q4.9 2.6 10.2 1.1M102.6 51.1q7.2 0.8 14.0 3.5M31.2 47.6q12.3 -3.6 18.5 -14.7" stroke="#f01010" stroke-width="0.6" stroke-opacity="0.5" fill="none" stroke-linecap="round"/>
<path d="M50.3 102.7q1.6 5.5 5.4 9.7M44.8 112.3q-3.1 8.9 5.1 13.5M55.6 122.4q1.1 5.2 4.8 9.1M45.8 109.1q0.9 5.2 3.7 9.6M37.2 85.0q0.0 4.4 1.1 8.7M37.2 53.6q2.3 7.1 -0.2 14.2M43.6 84.8q2.7 3.8 2.9 8.5M47.7 53.2q-0.7 8.9 -1.9 17.7M41.8 64.2q-0.0 8.9 -0.4 17.9M43.5 87.0q-5.8 4.8 -4.1 12.2M50.2 56.2q-1.6 8.2 -5.9 15.4M52.3 122.0q9.3 7.7 12.4 19.4M40.0 78.0q3.1 9.4 1.9 19.3M51.3 121.1q-3.5 9.3 2.4 17.2M46.4 76.3q0.7 8.5 -2.6 16.3M33.9 81.4q1.9 11.1 8.0 20.6M38.9 95.7q4.9 9.7 2.9 20.3M43.9 85.9q3.7 5.8 0.3 11.8M40.1 66.9q1.4 5.0 -0.0 10.0M46.7 111.1q5.3 10.7 13.8 19.1M41.1 65.7q4.3 7.4 -0.1 14.6M48.0 41.2q3.7 14.0 -10.5 16.8M29.5 115.0q9.1 6.2 15.1 15.4M41.2 69.0q-4.5 10.7 -4.5 22.2M48.6 119.2q-0.9 6.1 -0.7 12.3M41.4 50.0q7.1 4.3 8.4 12.5M33.5 83.0q8.3 6.8 8.7 17.6M40.5 81.1q2.0 5.7 3.5 11.6M43.6 51.4q6.7 7.9 2.6 17.3M38.3 107.7q2.3 10.5 6.1 20.4M38.2 59.3q-4.6 5.7 -1.4 12.4M42.2 95.4q-2.5 3.8 -2.8 8.3M38.1 78.2q1.5 10.9 3.8 21.6M47.9 89.5q-8.9 10.9 -2.6 23.5M40.2 69.4q5.5 7.8 -1.9 13.7M59.6 112.4q7.8 8.6 3.7 19.4M39.3 96.9q-6.8 5.5 -3.7 13.7M37.1 118.0q-1.2 4.4 0.7 8.5M48.2 108.7q1.1 9.5 1.7 19.0M40.5 89.6q0.1 11.5 6.8 20.8M41.4 101.3q6.4 5.1 5.0 13.2M41.5 84.2q1.4 5.0 0.1 10.0M46.7 85.5q0.6 6.6 4.9 11.6M39.5 80.3q-0.3 6.1 2.5 11.6M39.9 70.8q2.7 10.1 -1.3 19.8M34.0 65.6q-4.0 10.1 -6.7 20.7M36.1 91.3q4.9 5.6 3.6 12.9M43.0 103.8q1.3 10.6 -1.7 20.8M42.2 64.8q-8.8 10.0 -3.1 22.1M43.3 70.6q-3.0 7.1 1.3 13.4M42.7 78.9q-0.9 11.9 -8.6 21.1M55.0 116.9q4.2 8.6 8.4 17.1M43.2 76.8q-2.9 8.4 -0.9 17.1M40.2 91.5q3.1 7.8 10.0 12.6M41.8 128.7q-0.2 6.6 0.8 13.2M47.6 67.6q-0.1 5.8 -4.5 9.6M53.0 92.1q6.7 6.7 4.0 15.7M43.7 40.8q2.0 8.5 8.8 13.9M44.0 62.1q-2.0 7.5 -6.0 14.3M38.5 53.1q-2.3 6.9 -3.2 14.1M44.8 55.4q-2.0 6.8 -4.6 13.4M43.4 61.9q-0.8 11.7 -4.3 22.8M54.8 49.3q-6.8 7.6 -13.7 15.0M35.8 66.2q0.1 10.1 -1.2 20.1M37.8 80.6q-0.5 5.7 2.7 10.4M44.8 74.1q1.9 5.7 2.2 11.8M32.8 48.2q13.9 11.3 -0.1 22.6M51.1 63.6q-9.5 11.4 1.6 21.1M44.9 113.2q3.5 2.4 6.0 5.9M40.0 115.2q-1.4 11.2 8.6 16.7M43.8 77.6q2.1 7.5 -0.5 14.8M45.6 115.6q-0.4 4.8 3.2 8.0M41.1 63.3q5.0 9.8 4.7 20.7M52.9 120.6q10.9 9.1 4.8 22.0M56.3 104.7q3.1 7.4 2.0 15.3M37.8 56.4q2.2 6.8 5.1 13.4M40.6 101.9q0.8 12.4 7.7 22.7M33.3 72.0q-0.6 9.4 2.7 18.1M47.2 80.9q1.0 11.9 -5.5 21.9M39.1 105.4q-5.1 9.9 0.0 19.7M34.5 113.7q6.8 7.0 3.9 16.4M44.9 116.7q0.4 4.5 3.0 8.2M34.3 71.5q0.5 6.0 -1.7 11.6M44.7 59.5q-1.8 7.8 -1.0 15.7M45.3 56.8q3.4 6.0 -1.4 10.9M47.7 89.6q-4.9 9.3 -2.4 19.6M33.3 97.4q4.3 10.8 11.5 19.8M36.6 88.4q0.2 5.6 0.5 11.1M38.8 64.9q9.0 8.2 1.3 17.6M43.1 50.4q-2.7 5.8 -2.8 12.2M43.6 70.8q-3.3 3.9 -4.0 9.1M38.6 109.9q10.6 4.9 13.8 16.1M40.6 98.9q-2.6 7.4 -2.0 15.1M47.5 104.8q4.7 4.5 8.7 9.7M35.2 81.6q-6.4 6.8 0.5 13.2M48.1 46.4q3.3 9.5 1.4 19.4M44.5 123.8q7.5 3.5 5.8 11.7M43.0 42.2q0.1 10.6 4.5 20.1M46.6 114.5q5.0 5.6 9.8 11.4M41.1 69.6q13.0 7.7 7.4 21.7M41.6 90.5q-7.1 13.3 4.9 22.5M39.7 39.1q3.5 10.0 2.8 20.6M49.7 44.6q3.4 6.9 -0.5 13.5M38.8 120.9q8.8 4.8 6.7 14.5M41.7 102.4q-1.2 4.6 2.0 8.1M44.1 64.5q-3.9 7.3 -3.1 15.5M48.9 41.6q-10.6 4.5 -16.8 14.2M45.6 68.2q0.6 7.5 -6.1 11.1M44.2 113.8q1.3 11.0 -8.0 17.1M36.4 102.7q3.6 4.2 0.5 8.7" stroke="#f01010" stroke-width="0.6" stroke-opacity="0.45" fill="none" stroke-linecap="round"/>
<path d="M71.3 108.6q-15.4 10.0 -4.1 24.5M80.9 106.6q1.3 12.8 -4.0 24.4M67.1 73.3q-2.0 13.6 8.9 22.0M71.3 110.7q6.8 11.0 2.4 23.1M86.3 107.4q-6.2 8.5 -11.2 17.7M77.0 71.1q0.5 9.1 0.3 18.3M79.8 89.5q11.0 6.5 0.9 14.3M78.4 100.2q-6.7 6.1 -9.9 14.5M56.5 115.3q2.1 11.9 0.3 23.8M90.0 119.6q0.5 9.9 -5.5 17.9M86.0 33.9q0.6 11.5 -3.1 22.4M75.4 54.5q-2.7 9.9 -11.2 15.7M75.6 40.2q-2.7 11.3 3.7 20.9M90.4 79.6q-4.1 4.4 -7.1 9.7M67.1 93.3q-1.9 6.0 -2.7 12.3M65.0 77.1q8.4 8.4 -1.4 15.2M54.2 55.4q3.5 5.1 5.7 10.9M65.8 81.8q6.1 10.3 0.7 20.9M83.9 79.0q-0.0 12.3 0.5 24.6M73.2 64.1q2.9 6.6 -2.2 11.8M57.6 97.5q1.8 6.9 6.9 12.0M83.8 32.7q-4.8 10.1 -11.8 18.8M70.3 65.5q-2.5 5.8 -2.3 12.1M83.0 38.2q-7.1 5.0 -2.0 12.0M87.2 119.9q7.5 4.2 3.2 11.6M69.4 119.0q-5.9 11.1 -6.7 23.7M77.4 111.3q-1.7 8.8 -10.4 11.3M74.9 123.8q0.7 5.8 0.5 11.7M71.9 66.0q-1.8 5.3 -1.5 10.9M61.0 47.2q3.9 2.9 5.5 7.5M81.2 43.4q7.0 2.2 7.7 9.4M82.6 39.1q-8.3 3.9 -8.7 13.1M79.3 114.0q-2.5 6.2 -2.4 12.9M75.2 69.2q-2.4 8.0 -6.2 15.5M78.6 125.3q-5.5 8.7 -2.8 18.7M76.1 68.8q6.7 10.6 0.3 21.4M69.4 82.0q-2.1 9.2 -6.1 17.6M80.7 58.6q-4.2 4.3 -2.5 10.1M59.5 72.8q3.5 2.6 6.5 5.6M79.6 105.6q6.2 11.3 6.0 24.2M67.9 49.4q-7.3 10.2 -3.5 22.1M66.9 81.2q1.7 6.6 -0.7 13.1M88.4 56.6q-12.4 5.8 -10.0 19.2M74.4 92.3q4.0 7.7 3.6 16.4M65.7 47.5q3.8 7.8 6.7 16.0M99.0 41.7q-3.6 13.4 -16.4 18.6M76.0 44.0q-0.2 4.2 -2.4 7.7M66.3 87.5q4.3 9.2 10.4 17.4M77.7 56.8q3.8 4.5 1.9 10.1M83.6 55.0q-0.5 7.3 3.2 13.7M73.3 39.3q-6.3 0.3 -7.5 6.4M67.7 82.7q2.1 4.6 4.1 9.1M59.9 60.1q-3.3 2.8 -4.1 7.1M70.5 123.1q-2.1 8.0 -7.6 14.4M78.4 44.0q-2.6 10.9 -5.1 21.9M81.6 73.8q-7.2 6.2 -0.7 13.1M89.9 49.6q-4.9 11.4 -13.9 19.9M82.9 109.2q-3.1 10.2 -10.5 18.0M86.9 80.5q0.1 6.2 -1.0 12.2M77.8 77.2q-0.4 5.8 4.9 8.2M72.6 45.4q8.0 9.5 2.7 20.7M82.1 55.8q-10.7 6.2 -21.1 12.7M77.5 37.6q8.6 10.9 5.1 24.4M64.1 81.8q-4.7 7.8 0.5 15.3M60.7 102.1q2.1 3.7 3.7 7.6M80.7 102.2q-8.9 5.7 -12.4 15.6M55.4 54.1q0.4 14.1 14.3 16.7M78.4 88.7q0.7 7.5 -4.1 13.2M67.1 71.8q-4.8 4.2 -4.1 10.6M74.8 94.8q7.1 6.3 1.6 14.0M71.3 42.9q-1.4 9.3 2.2 17.9M71.2 68.4q0.1 9.1 -4.3 17.1M74.4 120.2q-4.8 11.6 -4.2 24.1M79.2 113.0q4.2 13.1 -5.7 22.6M61.7 51.4q-6.6 7.8 -10.1 17.4M62.9 58.8q3.0 3.7 1.5 8.3M77.8 84.7q6.5 6.5 13.7 12.2M78.1 46.9q-6.5 9.0 -6.3 20.1M74.9 53.0q-2.9 9.4 -4.1 19.1M76.5 73.4q4.8 7.6 1.3 15.9M64.9 105.3q-3.6 3.9 -5.2 8.9M96.4 74.8q12.7 9.5 6.8 24.2M75.8 91.1q5.7 4.8 0.3 9.9M77.2 43.8q-1.0 10.6 1.3 21.0M93.4 78.8q1.7 11.7 2.8 23.4M75.1 128.6q-0.0 6.0 1.7 11.7M69.1 127.6q1.4 4.1 0.2 8.3M62.6 60.9q0.0 5.4 3.6 9.6M85.0 51.0q5.1 12.0 -2.9 22.4M88.0 88.0q-6.0 7.7 -4.1 17.2M80.4 119.7q-5.8 7.4 -8.6 16.4M68.2 88.6q2.5 10.9 -2.4 21.0M74.2 125.8q-4.7 4.9 -4.3 11.7M66.7 94.8q-6.5 15.2 9.6 18.8M84.0 49.5q-2.1 8.2 -6.9 15.0M71.9 79.1q-7.8 10.1 1.3 19.1M62.0 100.0q6.1 5.4 9.0 13.0M68.7 67.8q-3.4 8.0 2.6 14.3M72.4 49.5q1.7 4.3 4.5 8.0M60.9 61.1q0.6 7.1 6.0 11.7M76.1 94.1q-2.6 3.3 -5.0 6.7M71.9 105.5q2.7 8.4 -4.7 13.3M85.1 53.7q-7.3 9.8 -13.0 20.5M60.4 98.0q-5.7 5.2 -1.8 11.8M82.9 101.4q-4.7 9.5 -5.6 20.1M75.2 117.2q-1.0 11.5 -11.1 17.0M93.0 45.4q1.3 13.9 -11.9 18.2M79.9 63.7q2.4 12.2 -0.7 24.2M85.7 106.9q0.2 5.6 -3.4 9.9M60.9 50.7q2.4 3.8 2.6 8.3M82.1 83.7q-2.2 12.4 -5.4 24.6M78.3 60.1q0.4 5.3 -1.0 10.5M88.8 69.2q-0.8 10.9 -2.6 21.6M73.9 43.0q-1.6 6.7 -2.4 13.6M69.4 55.2q-4.8 6.5 -5.2 14.5M88.6 35.6q-1.0 6.2 -1.4 12.5M63.4 96.3q-1.6 8.7 -5.0 16.8M88.1 85.6q6.2 13.7 -4.9 23.7M86.8 35.9q-9.4 6.7 -13.3 17.5M75.3 78.2q10.2 8.3 14.0 20.9M82.8 119.7q-1.3 8.6 -9.6 11.1M72.4 101.3q4.7 11.8 10.8 22.9M63.7 123.9q3.6 9.9 -5.1 15.9M75.8 79.8q-2.8 12.2 1.5 23.9M76.7 125.6q-0.0 5.1 -1.0 10.2M69.9 48.1q1.0 8.9 1.0 17.8M78.8 99.1q-1.8 12.4 -0.2 24.8M71.5 58.5q-2.6 7.4 -7.4 13.7M70.9 78.1q3.7 9.6 1.0 19.5M77.5 121.8q-1.2 14.1 -15.3 13.8M78.5 57.4q-5.5 7.4 -3.2 16.3M66.7 105.4q-6.8 7.3 -8.1 17.2M86.5 46.5q-0.2 6.2 1.1 12.2M77.1 75.0q7.3 9.9 2.5 21.3M74.3 59.9q-3.7 10.3 5.4 16.3M69.2 69.8q3.5 9.8 7.1 19.5M70.8 67.9q-7.8 8.8 -5.7 20.4M96.2 124.5q-9.8 4.9 -10.1 15.8M82.1 104.0q2.3 7.9 -4.5 12.6M78.4 123.1q1.6 4.6 1.0 9.5M62.7 37.3q-6.5 8.2 -16.2 12.0M82.5 67.8q-2.5 6.1 -6.8 11.0M70.1 34.3q-2.7 6.3 -0.7 12.8M78.7 57.0q-3.4 12.7 -15.2 18.4M76.4 81.5q-9.9 10.9 -4.5 24.6M63.3 76.6q-0.6 12.6 5.8 23.4M64.4 84.8q4.5 4.5 8.1 9.7M73.3 92.5q-2.3 9.0 -9.6 14.8M69.5 69.4q1.1 7.4 7.2 11.8M62.3 116.8q-1.4 10.8 -4.8 21.2M92.0 49.8q2.0 9.5 6.1 18.3M62.5 88.2q-4.0 4.5 -1.1 9.7M79.1 101.0q1.2 10.3 -7.6 15.9M67.5 67.8q-0.4 11.1 -0.3 22.1M61.4 110.8q1.8 6.4 6.8 10.9M70.5 53.0q6.1 8.3 0.3 16.8M75.4 45.5q-17.0 4.2 -6.5 18.2M83.1 95.2q-11.5 7.9 -10.4 21.8M85.2 40.5q2.5 3.5 3.9 7.6M76.6 55.8q3.7 12.5 2.9 25.6M56.8 76.4q-0.7 11.1 2.0 21.9M74.8 64.0q-2.1 5.1 -1.4 10.6M78.9 77.1q-5.2 6.4 -2.5 14.2M77.9 63.5q4.6 3.1 4.0 8.7M71.9 111.8q-2.3 6.7 -2.6 13.7M70.5 125.0q-0.5 5.8 -2.0 11.5M74.0 69.1q0.1 10.6 -9.4 15.3M56.8 40.3q1.8 8.0 -0.6 15.9M72.2 53.0q-1.2 7.9 2.8 14.7M67.4 106.3q-13.4 6.7 -7.4 20.5M73.1 103.8q-0.2 10.2 8.1 16.0M82.4 124.0q-6.8 7.1 -9.8 16.4M77.4 82.6q-2.1 3.7 -3.1 7.8M54.8 59.5q1.9 4.5 2.2 9.3M78.2 39.9q-7.5 10.4 -6.1 23.2M72.5 43.0q-5.6 9.9 -3.2 21.0M79.6 50.9q-4.0 11.4 -6.6 23.1M72.5 105.5q-15.4 3.4 -11.9 18.8M71.9 50.6q-10.8 3.7 -13.5 14.8M56.7 62.3q-1.3 6.5 -0.7 13.1M81.0 40.0q3.4 5.0 3.5 11.1M81.3 111.7q0.1 6.9 -3.0 13.1M81.8 78.7q-9.3 8.2 -4.9 19.8M73.9 91.4q-1.2 8.0 3.0 14.8M72.3 125.6q-1.1 8.1 -2.1 16.2M61.4 56.1q-6.6 10.4 -12.4 21.2M75.9 49.1q1.5 4.0 0.9 8.1M70.3 104.0q-7.0 -0.1 -8.0 6.8M69.7 80.8q4.6 3.8 1.7 9.0M87.8 62.7q-17.0 1.0 -7.0 14.8" stroke="#f01010" stroke-width="0.6" stroke-opacity="0.5" fill="none" stroke-linecap="round"/>
<path d="M100.7 109.2q1.4 11.2 -6.2 19.6M110.2 90.0q0.8 7.2 -4.5 12.2M104.0 69.9q-0.9 11.9 -8.1 21.4M113.1 104.8q-3.4 8.1 -9.6 14.4M111.1 75.3q-7.4 5.3 -9.1 14.3M94.8 46.5q0.9 12.0 2.3 23.9M103.5 112.7q-3.6 4.1 -2.9 9.5M105.0 54.2q-3.5 11.1 -8.5 21.7M110.2 89.3q-6.8 4.8 -2.6 12.0M99.9 120.5q-5.9 7.8 -2.5 17.0M89.7 35.6q-1.3 10.9 5.5 19.6M109.6 92.1q-0.0 11.5 2.1 22.7M95.9 40.7q-7.8 11.2 2.6 19.9M103.7 88.8q-2.6 3.8 -6.8 5.8M101.1 58.6q0.8 4.6 -1.3 8.7M100.1 46.2q-0.6 5.3 -2.6 10.2M102.0 77.7q1.8 3.7 4.0 7.3M107.3 114.3q-6.6 9.4 -14.9 17.4M87.7 84.9q6.5 10.7 3.3 22.8M103.4 89.5q-3.2 5.0 -3.1 10.9M97.4 126.5q0.4 5.5 0.1 11.0M100.5 100.5q-9.1 4.6 -4.6 13.8M100.8 60.6q-0.8 4.4 0.4 8.8M98.1 59.9q7.6 4.5 3.3 12.3M95.2 47.0q-1.3 5.6 -2.2 11.3M104.9 49.4q10.5 7.4 5.8 19.4M90.8 102.3q1.6 9.9 3.6 19.8M104.3 105.1q-5.4 9.3 -4.6 20.0M113.2 122.2q-1.3 8.9 -10.3 9.2M110.0 78.7q-4.3 7.5 -3.9 16.1M95.4 104.2q-1.5 6.0 -5.7 10.7M99.7 117.6q-8.5 11.1 -2.5 23.7M97.8 105.2q2.1 6.3 1.9 13.0M98.3 82.3q0.2 4.1 1.7 7.8M103.2 81.0q2.4 8.6 1.5 17.6M100.9 65.0q0.7 9.7 9.4 14.1M103.1 116.9q-4.1 9.5 -3.2 19.8M108.9 113.3q-13.1 5.3 -11.9 19.4M93.3 42.4q4.4 9.0 14.3 10.7M92.9 53.7q-3.6 9.6 1.5 18.5M116.4 104.3q1.3 5.6 -3.4 9.1M89.4 39.6q-1.7 10.3 4.3 18.9M101.4 92.9q-1.5 4.8 -2.3 9.8M101.3 72.6q4.5 8.4 13.9 10.0M96.0 54.0q-2.1 6.0 2.2 10.7M110.8 96.7q-9.5 7.1 -15.1 17.5M105.9 106.0q-3.6 5.2 -2.6 11.5M102.1 65.3q0.1 7.2 1.3 14.3M105.1 107.8q1.8 5.4 -3.2 8.0M101.3 54.6q1.4 10.2 6.0 19.4M97.3 72.6q9.6 9.3 0.4 19.0M98.0 52.5q-2.5 10.1 0.2 20.2M94.7 43.0q-1.3 8.8 2.6 16.8M94.9 36.4q0.4 9.9 -2.0 19.5M103.1 41.7q-6.9 10.2 -8.4 22.4M109.9 102.6q-2.4 4.4 -5.1 8.5M100.5 125.1q-15.7 1.0 -13.0 16.5M110.2 106.3q0.8 8.5 -2.0 16.5M95.4 119.3q-1.3 6.3 -5.9 11.0M90.9 40.3q-3.0 11.1 0.6 22.0M109.4 92.8q-5.7 8.0 -1.4 16.9M104.9 49.1q-16.1 6.0 -8.2 21.2M98.2 60.2q-9.8 17.4 9.8 21.2M104.9 81.8q1.2 11.1 -3.8 21.1M101.7 42.8q-1.4 5.3 -1.3 10.8M104.1 53.4q-0.7 11.2 0.5 22.4M112.8 78.3q-0.1 8.7 -7.0 13.9M117.2 87.2q-3.4 4.1 -3.9 9.4M89.0 121.3q-7.3 3.5 -6.8 11.5M89.4 113.4q12.0 9.2 4.1 22.1M109.5 117.1q-4.5 6.8 -7.3 14.6M97.1 47.3q7.3 7.1 4.4 16.9M102.1 97.4q6.8 5.8 4.4 14.3M95.6 110.5q-0.6 10.3 -4.4 19.9M102.0 95.1q-9.1 10.9 -0.1 21.9M87.6 37.9q5.1 6.1 4.7 14.0M101.9 116.7q-2.2 4.2 -3.5 8.8M104.8 119.5q-4.6 8.9 -9.3 17.7M107.0 85.3q0.4 11.4 -6.3 20.7M95.9 55.9q0.6 9.0 0.0 17.9M101.6 99.2q-3.7 4.2 -4.6 9.8M106.9 105.1q-4.7 4.7 -5.6 11.3M102.4 113.6q-6.5 2.5 -6.8 9.4M104.9 85.9q1.5 5.9 0.9 11.9M107.5 80.0q-0.2 7.9 1.2 15.6M102.3 55.5q-2.1 5.8 2.5 9.9M90.0 107.4q-2.2 8.9 0.2 17.8M105.3 126.0q5.5 8.9 0.0 17.8M104.9 100.7q-0.2 7.7 -3.1 14.8M92.8 104.7q2.6 5.9 3.7 12.2M104.4 105.7q-2.7 10.2 -2.2 20.7M105.7 125.9q-10.8 4.3 -18.6 12.9M105.0 41.1q-2.7 10.0 -4.2 20.4M90.9 59.9q2.5 9.6 10.1 15.8M104.8 80.8q2.6 8.5 -3.3 15.1M94.3 66.3q4.5 10.5 15.9 10.5M95.2 38.5q8.5 10.1 3.0 22.1M101.6 110.5q-2.0 12.0 0.9 23.8M101.2 89.9q10.7 7.3 6.0 19.3M99.2 99.8q-5.7 11.1 -3.6 23.5M90.3 45.2q1.1 4.8 3.8 8.9M105.7 110.4q-13.1 6.1 -8.9 19.9M90.6 83.0q5.8 8.3 11.1 16.9M100.3 74.4q-0.3 5.7 4.9 8.2M107.9 71.6q3.3 8.5 11.0 13.2M113.1 84.0q-12.9 7.7 -2.2 18.3M105.5 37.5q2.4 10.8 -2.9 20.5M106.3 38.1q-4.4 8.7 -3.7 18.5M107.8 121.2q1.2 7.9 -6.4 10.2M101.8 77.8q2.1 5.1 6.6 8.2M97.3 57.4q-4.0 13.0 8.7 17.9M109.2 114.1q2.9 11.7 -4.7 21.2M97.4 57.5q4.6 9.0 7.4 18.6M94.8 113.9q-1.8 5.7 -0.6 11.6M113.9 80.2q-4.4 9.2 -7.1 19.1M101.8 39.0q-1.0 8.0 -4.8 15.2M99.0 34.5q-2.9 8.9 -4.3 18.1M104.1 71.8q1.6 4.2 4.4 7.5M122.4 84.2q-5.7 7.2 -5.4 16.3M93.7 52.9q-1.6 11.6 7.0 19.5M101.0 90.7q1.1 8.1 5.9 14.6M107.9 116.8q0.2 12.4 -9.0 20.6M90.6 58.6q6.0 11.0 2.6 23.1M103.1 51.5q-2.0 10.6 -3.3 21.4M93.1 46.6q11.4 2.7 11.8 14.5M97.6 67.6q5.6 1.3 8.3 6.4M104.0 69.5q2.5 9.5 3.7 19.2M100.9 113.4q-4.1 6.7 -9.0 13.0M90.2 41.3q-2.7 8.2 0.9 16.1M101.3 115.7q-8.3 8.8 1.0 16.6M97.1 65.1q1.3 5.2 1.5 10.5M94.7 101.7q1.4 10.8 -4.2 20.1M93.7 33.4q5.2 12.5 -3.7 22.7M104.6 60.7q11.8 5.0 9.2 17.5M101.6 90.6q-1.9 9.6 -0.7 19.3M103.0 77.8q3.3 2.8 6.6 5.7M97.6 89.9q0.5 4.1 2.2 7.9M98.9 61.9q-1.3 9.2 -1.2 18.4M98.6 36.2q-0.8 7.5 1.9 14.7M98.9 62.4q3.2 3.1 4.6 7.3" stroke="#f01010" stroke-width="0.6" stroke-opacity="0.45" fill="none" stroke-linecap="round"/>
<path d="M125.4 63.3q13.4 -1.0 26.0 -5.8M104.3 55.0q8.4 1.3 16.6 3.7M84.4 58.6q13.7 0.8 26.2 6.3M141.3 61.1q11.5 -2.3 22.9 -4.8M132.4 67.7q7.8 -2.8 15.7 -5.3M125.7 65.3q13.7 -2.1 27.5 -2.7M135.5 59.1q16.6 -3.5 32.5 -9.2M125.9 60.4q8.5 -1.3 16.9 -3.4M114.6 59.6q9.1 -2.9 17.8 -6.8M94.4 64.2q15.0 -0.9 30.0 0.3M101.8 61.3q11.3 1.3 22.7 1.8M130.0 57.5q9.3 -1.1 18.5 -2.9M109.2 68.1q16.1 -5.2 32.6 -8.8M103.7 57.0q7.1 1.7 14.5 2.2M97.7 69.7q16.0 1.4 31.6 5.3M113.6 68.6q13.8 -5.1 28.1 -8.6M99.8 61.2q10.4 1.7 20.9 1.0M115.8 62.3q11.9 -2.1 23.6 -4.9M96.9 59.3q13.1 3.2 26.5 4.0M106.2 65.0q13.4 3.2 27.1 2.4M138.3 67.0q8.2 -3.2 16.0 -7.2M118.2 62.9q11.5 0.4 22.7 -2.2M113.3 63.8q8.0 3.8 16.7 5.5M120.6 65.9q12.2 -3.9 24.8 -6.5M130.5 65.5q15.7 -4.8 31.7 -8.5M141.7 68.1q8.8 -2.0 17.4 -4.5M128.9 61.7q17.1 -4.2 33.6 -10.2M98.0 55.5q16.6 0.8 32.2 6.8M142.2 60.1q11.8 -1.5 22.5 -6.5M105.1 65.8q10.5 -0.2 21.0 1.3M91.4 55.3q17.6 3.0 34.9 7.1M134.4 60.6q10.9 -2.6 21.8 -5.1M139.5 54.5q12.4 -2.7 24.0 -7.8M123.2 67.6q16.5 -4.6 32.8 -9.7M100.0 64.6q12.8 3.8 26.1 3.6M119.6 71.7q10.9 -5.5 22.5 -9.4M93.6 56.0q7.2 0.2 14.3 1.1M95.8 60.3q15.6 4.0 31.5 2.4M130.6 68.5q10.3 -1.8 20.5 -4.2M118.5 68.9q11.0 -3.8 22.5 -4.8M103.8 64.7q8.6 0.9 17.3 1.2M107.1 58.2q7.3 1.1 14.6 2.9M133.4 64.3q15.2 -7.9 31.7 -12.8M116.1 69.4q10.9 -5.2 22.9 -7.0M99.1 62.8q13.0 1.1 26.0 2.0M117.9 69.9q9.5 -2.8 18.5 -6.9M115.7 60.4q7.9 0.5 14.9 -3.1M112.2 68.6q16.2 -8.2 34.3 -9.5M119.6 65.9q9.7 -1.3 18.9 -4.4M136.1 50.3q15.1 -5.0 30.7 -8.2" stroke="#c81010" stroke-width="0.5" stroke-opacity="0.45" fill="none" stroke-linecap="round"/>
<path d="M53.8 129.2q-2.8 -7.7 -5.3 -15.6M50.7 94.9q5.2 -3.1 10.6 -5.8M60.5 69.1q-5.4 -8.1 -0.9 -16.7M47.1 78.4q1.2 -10.6 10.5 -16.0M58.1 67.6q3.1 -5.5 5.8 -11.2M62.8 81.9q-3.9 -9.3 3.4 -16.2M54.2 93.8q3.3 -6.4 8.1 -11.7M50.9 123.2q-2.7 -7.6 2.3 -13.9M65.5 86.3q-2.8 -7.2 -6.2 -14.1M51.4 117.5q0.2 -7.7 3.0 -14.9M54.1 110.9q2.7 -6.0 1.4 -12.5M62.7 80.3q-0.7 -6.4 0.8 -12.7M58.5 83.0q-8.7 -4.3 -6.9 -13.9M66.4 85.6q-3.7 -6.8 -10.7 -10.1M47.2 117.5q4.6 -3.4 7.1 -8.5M57.0 84.8q0.7 -6.8 -5.0 -10.4M57.7 92.3q0.7 -7.8 4.0 -15.0M53.1 94.9q4.8 -6.8 0.4 -13.8M52.4 114.9q-2.8 -9.8 2.8 -18.4M52.7 80.7q-3.3 -7.6 -3.4 -16.0M65.0 83.6q0.4 -5.8 1.6 -11.5M59.5 105.7q-2.7 -6.8 1.6 -12.8M55.4 121.3q-17.4 -4.6 -5.7 -18.3M65.0 94.5q-8.7 -10.5 1.3 -19.7M54.5 126.2q0.1 -5.8 3.7 -10.3M55.3 128.2q0.6 -4.5 1.7 -8.9M56.7 99.7q-1.3 -3.5 -0.1 -7.1M55.1 110.0q1.2 -3.2 0.0 -6.4M61.4 95.3q6.6 -3.6 4.0 -10.7M51.5 131.2q13.0 -6.7 4.6 -18.7M57.3 112.6q0.0 -7.1 5.2 -11.9M49.7 120.6q0.6 -11.0 10.0 -16.7M65.9 96.8q-6.3 -4.8 -5.5 -12.7M48.2 128.9q12.1 -4.6 7.7 -16.7M57.6 70.8q-2.7 -2.2 -4.0 -5.4M51.3 107.5q2.7 -3.0 3.3 -7.0M64.4 70.7q-9.4 -8.2 -2.0 -18.2M48.7 117.3q9.3 -1.4 10.5 -10.7M56.2 75.3q-1.4 -8.4 -6.0 -15.6M61.8 71.5q-2.3 -6.1 0.8 -11.8M58.5 104.6q1.1 -4.1 -0.8 -7.9M59.4 106.3q2.4 -8.9 0.6 -17.9M51.2 108.5q0.5 -5.3 5.2 -7.8M59.0 104.0q-0.1 -9.1 4.5 -16.8M54.3 101.1q5.0 -7.9 6.5 -17.1M52.0 107.0q7.0 -6.7 10.9 -15.5M55.8 119.3q3.5 -2.2 6.1 -5.4M53.7 123.8q5.8 -4.8 12.0 -9.1M54.9 122.7q-2.1 -2.7 -2.6 -6.1M59.7 85.9q-1.8 -3.9 -3.9 -7.6M47.9 123.4q1.1 -9.9 2.4 -19.8M59.1 65.1q1.5 -4.9 2.1 -9.9M58.1 125.6q0.8 -8.8 1.9 -17.7M54.2 128.8q-1.0 -5.9 3.0 -10.2M65.3 64.4q-3.7 -3.8 -5.3 -8.8M55.9 72.4q2.9 -6.5 5.0 -13.3M51.9 98.8q6.5 -3.7 2.9 -10.2M60.5 122.5q-0.5 -9.7 -2.2 -19.2M63.3 90.1q-3.0 -6.5 -1.3 -13.5M60.6 110.3q4.0 -5.2 3.6 -11.6M46.4 80.1q4.6 -3.8 5.5 -9.7M56.9 97.5q3.9 -7.4 -0.8 -14.4M65.1 71.5q-2.7 -3.5 -6.7 -5.4M49.3 80.8q3.9 -8.4 10.4 -15.1M63.1 97.0q-1.1 -3.5 -0.2 -7.2M56.8 68.1q0.2 -4.0 -1.8 -7.5M55.1 104.0q-0.2 -6.4 3.8 -11.4M56.7 129.8q-2.7 -7.6 -7.7 -13.9M53.3 126.9q1.1 -4.0 3.5 -7.4M57.4 108.9q2.5 -3.8 4.7 -7.9M57.8 69.2q-0.9 -6.9 3.1 -12.7M51.4 117.8q8.4 -5.6 5.1 -15.1M49.7 102.6q5.2 -6.7 6.6 -15.0M61.8 66.9q0.8 -3.1 0.6 -6.4M59.5 118.9q-4.4 -8.1 2.6 -14.0M63.8 89.4q-1.7 -6.5 -1.6 -13.3M56.0 91.9q-2.9 -3.3 0.4 -6.2M63.9 94.6q5.2 -6.3 -1.6 -10.9M53.0 132.0q4.6 -7.8 4.2 -16.9M61.7 73.5q0.6 -8.7 2.1 -17.3" stroke="#f01010" stroke-width="0.6" stroke-opacity="0.45" fill="none" stroke-linecap="round"/>
<path d="M85.1 132.3q0.3 -3.3 0.6 -6.6M93.7 138.0q10.9 -3.6 4.9 -13.4M87.9 68.8q-1.9 -5.5 -0.4 -11.2M90.2 88.0q-8.4 -5.2 -14.4 -13.1M89.0 101.9q3.2 -4.0 0.5 -8.4M90.9 87.6q-7.4 -5.9 -11.6 -14.3M85.8 117.3q-3.6 -4.6 -2.8 -10.4M90.6 121.1q-10.0 -10.3 1.2 -19.3M86.6 130.0q1.9 -7.0 9.1 -7.8M76.6 120.7q5.2 -6.6 2.9 -14.7M82.6 95.7q-0.8 -6.4 -5.0 -11.2M74.8 102.6q3.1 -7.8 6.3 -15.5M79.4 102.5q-3.2 -6.4 -0.4 -13.1M90.3 106.6q-1.4 -3.2 -3.5 -5.9M94.3 136.0q7.6 -10.3 -2.4 -18.4M90.1 114.2q-1.5 -10.3 6.0 -17.5M79.5 103.7q9.8 -5.7 9.1 -17.0M95.0 124.5q-3.3 -5.0 -4.6 -10.7M85.7 89.6q1.1 -6.8 -3.0 -12.4M92.2 118.8q-3.5 -5.8 -2.7 -12.5M88.6 90.2q2.3 -9.3 6.1 -18.0M85.5 93.9q-0.1 -7.3 -0.5 -14.5M91.7 103.9q6.6 -4.4 4.7 -12.1M90.1 74.1q-7.0 -7.1 -10.3 -16.5M92.5 124.5q-10.5 0.0 -12.9 -10.2M78.5 85.5q1.2 -7.2 3.6 -14.2M88.7 86.7q-2.6 -5.0 -4.0 -10.5M86.8 124.3q7.5 -6.3 9.3 -15.9M83.3 138.7q2.8 -9.7 -3.5 -17.6M90.6 89.2q1.0 -6.8 2.0 -13.7M95.0 104.8q-6.3 -6.3 -9.0 -14.7M87.6 124.7q1.0 -5.2 4.2 -9.5M97.8 132.7q0.3 -3.8 3.0 -6.5M95.9 128.4q-6.0 -7.4 -6.7 -16.9M82.0 112.4q3.2 -0.9 5.8 -3.0M89.5 99.3q1.2 -2.9 1.3 -6.0M91.4 69.1q-8.5 -8.2 -3.0 -18.7M84.7 125.6q-3.8 -7.6 1.2 -14.5M80.0 117.2q4.2 -4.5 1.2 -10.0M83.2 69.1q-1.6 -8.5 -4.2 -16.6M87.3 108.8q-4.2 -3.0 -2.5 -7.8M85.4 135.2q0.6 -5.9 1.8 -11.7M88.9 133.3q1.0 -4.5 1.6 -9.1M87.6 117.6q2.1 -3.9 0.2 -7.8M87.1 121.2q-1.4 -5.5 -3.3 -10.8M94.0 130.2q1.1 -6.6 2.3 -13.2M94.1 74.9q-5.6 -4.5 -1.2 -10.3M81.4 73.6q0.7 -8.6 2.7 -17.0M83.5 106.5q-4.5 -2.8 -3.8 -8.0M90.9 119.2q0.3 -3.1 1.7 -5.8M90.0 85.6q-5.9 -8.0 -6.8 -17.9M86.1 90.2q-1.2 -5.8 -1.6 -11.7M99.2 98.5q-3.5 -4.9 -4.4 -10.8M80.9 117.3q-1.8 -3.7 -2.4 -7.8M90.8 89.1q1.2 -7.3 0.7 -14.8M94.7 109.2q1.5 -10.1 -6.4 -16.6M85.9 79.3q-1.2 -5.3 -3.1 -10.4M96.3 80.6q2.1 -6.5 -3.3 -10.7M82.4 115.1q1.5 -5.3 -2.8 -8.7M86.7 133.1q-2.3 -2.8 -3.3 -6.4M92.1 127.1q-2.6 -7.4 -4.2 -15.1M90.8 128.5q10.3 -9.5 -0.1 -18.8M94.8 135.5q0.6 -6.8 1.2 -13.5M92.5 128.0q-7.3 -4.4 -2.0 -11.0M96.0 106.7q-7.8 -7.8 -6.6 -18.8M86.7 124.8q0.3 -7.1 -6.0 -10.4M93.2 73.5q-1.7 -4.5 -0.3 -9.1M92.5 102.3q-0.4 -4.8 3.5 -7.7M94.4 124.3q-1.4 -8.9 -4.2 -17.5M83.5 96.5q3.8 -2.2 5.2 -6.3M82.9 85.1q3.7 -9.7 2.0 -19.9M89.9 105.6q2.5 -8.5 4.6 -17.1M79.6 67.7q4.7 -4.9 2.7 -11.5M97.7 96.1q6.8 -4.1 1.7 -10.2M84.8 102.0q2.7 -6.5 -2.9 -10.8M91.0 82.1q5.3 -4.0 9.5 -9.2M83.8 104.6q-1.3 -2.7 -3.1 -5.2M98.9 90.7q2.0 -6.8 1.3 -13.8M90.9 112.0q-3.8 -3.7 -3.8 -9.1M86.1 116.3q0.9 -6.4 -0.5 -12.7M85.5 99.0q-3.4 -10.6 3.9 -18.9M80.8 84.7q-4.2 -5.0 -0.9 -10.6M87.7 137.5q-3.6 -7.5 -0.8 -15.4M93.7 126.7q-8.0 -3.3 -9.2 -11.9M92.0 107.4q-2.8 -3.9 -3.1 -8.8M86.1 111.6q-2.2 -4.3 -0.1 -8.7M90.5 129.3q-3.2 -7.2 -6.3 -14.3M79.3 87.8q2.9 -7.3 4.9 -14.9M99.0 93.4q-3.5 -7.9 -12.1 -7.0M93.8 103.6q1.2 -6.7 0.6 -13.5" stroke="#f01010" stroke-width="0.6" stroke-opacity="0.45" fill="none" stroke-linecap="round"/>
<path d="M33.4 29.3q3.0 -2.7 5.4 -5.9M74.4 23.8q-0.2 -4.3 -4.4 -5.1M79.4 21.6q1.4 -2.9 4.0 -4.8M53.5 20.2q4.0 -0.4 6.6 -3.6M40.8 47.2q2.0 4.9 5.6 1.0M83.1 -0.9q3.7 0.3 7.2 1.5M39.9 24.6q2.4 -0.7 4.6 0.3M82.4 15.6q1.1 1.5 0.8 3.3M120.2 27.7q0.9 -3.5 4.5 -3.2M86.6 13.3q0.8 -3.4 0.9 -6.9M153.2 48.7q-0.0 -1.7 0.2 -3.3M28.9 31.1q3.0 -3.8 0.3 -7.8M51.8 11.1q2.2 2.7 5.5 4.0M105.6 6.6q-2.7 -1.8 -4.7 -4.4M44.1 50.0q2.1 -1.1 2.7 -3.4M83.0 10.2q-3.2 0.6 -6.5 0.4M52.0 5.3q0.4 -2.3 -1.4 -3.8M41.8 23.9q3.7 -0.4 7.0 -2.1M80.8 20.8q3.2 -1.5 6.3 -3.2M123.6 28.8q-0.7 2.6 -2.8 4.5M112.6 14.8q3.2 1.5 6.6 0.5M138.1 31.0q0.9 -2.5 2.8 -4.4M131.7 25.7q2.8 -2.5 6.3 -1.4M139.5 46.6q2.5 -0.0 3.7 -2.2M140.7 23.0q3.0 1.3 5.4 3.5M101.7 16.7q-3.0 -0.4 -5.8 0.9M70.4 16.7q1.2 -1.3 1.9 -2.9M124.5 10.8q0.3 1.5 1.3 2.7M33.1 40.7q-1.8 1.7 -2.8 3.9M58.3 20.1q0.2 3.7 -2.5 6.2M105.0 15.3q-1.9 3.2 -4.5 5.8M27.3 41.0q1.6 0.0 3.1 -0.1M148.4 42.4q1.8 -0.5 3.5 -1.1M81.2 6.0q-2.4 -1.2 -2.8 -3.8M55.7 11.4q-4.3 2.3 -5.6 7.0M41.9 27.1q-3.1 1.6 -6.4 0.7M49.6 33.0q1.1 -2.6 3.4 -4.3M63.7 19.7q2.6 -1.0 4.9 0.6M160.8 45.8q-4.5 -4.6 0.6 -8.5M27.9 25.5q-0.8 3.5 2.3 5.3M43.5 40.7q-1.7 -3.3 -2.5 -6.9M73.7 -2.6q2.4 -0.8 4.8 -0.2M107.2 18.1q1.7 3.3 5.1 1.9M23.3 36.0q3.0 -0.4 6.0 -0.4M44.6 35.9q-1.7 0.2 -3.1 -0.7M42.5 26.5q-2.0 -2.2 -4.6 -0.7M121.0 42.0q2.6 -0.5 4.5 -2.4M102.4 15.6q-2.2 -0.5 -3.4 1.5M59.8 18.5q-1.8 1.9 -4.5 1.8M47.4 3.8q2.1 1.0 3.6 2.7M140.7 50.1q0.4 -2.8 2.8 -4.3M42.3 22.7q-1.6 0.9 -3.5 1.2M134.6 14.0q1.1 3.7 -1.1 6.9M75.2 18.6q0.6 -4.0 0.5 -8.0M111.6 34.8q4.5 0.7 7.8 3.8M113.8 17.0q-2.0 3.2 -2.1 7.0M45.3 24.6q0.7 -4.0 1.4 -8.1M127.4 32.7q-2.2 1.2 -4.0 -0.5M129.4 40.8q2.8 -2.5 2.2 -6.2M57.4 32.2q1.6 -4.0 -0.5 -7.8M117.7 21.7q3.0 2.1 6.1 0.1M125.4 38.2q2.1 -2.3 4.9 -3.8M50.6 5.5q2.4 1.5 3.2 -1.2M96.4 16.8q-2.4 1.4 -5.0 0.6M157.6 37.2q-2.9 -2.2 -6.6 -2.1M150.4 57.3q0.7 7.1 7.2 4.3M150.2 28.5q-2.9 3.1 -5.5 -0.3M126.5 21.6q2.5 -0.9 3.7 -3.2M121.4 17.0q2.0 2.5 3.7 5.2M88.4 4.8q1.8 1.2 2.9 3.1M140.8 24.6q-3.9 0.8 -7.8 0.7M58.4 7.7q0.1 -4.4 4.4 -5.2M60.4 17.2q1.6 -3.2 5.0 -4.4M73.6 5.7q-0.7 3.5 -0.3 7.1M55.2 25.1q1.0 -2.4 3.0 -4.1M76.9 25.5q-2.4 -0.4 -4.7 0.5M72.7 14.8q1.8 1.0 3.7 1.6M91.1 2.6q2.1 -0.3 4.2 -0.9M34.9 41.6q-3.2 0.4 -4.8 -2.5M124.3 28.7q3.7 0.6 6.0 3.5M75.0 14.1q0.9 -2.2 3.3 -2.3M141.7 47.2q-3.9 -1.9 -8.0 -3.2M106.6 24.1q2.5 1.4 3.9 4.0M55.0 26.0q-3.7 -1.9 -7.9 -1.7M89.5 17.5q3.6 -1.4 6.2 -4.1M66.5 5.9q-0.6 4.1 2.7 6.7M119.5 23.5q-2.4 -1.9 -4.1 -4.5M84.6 21.1q3.5 3.7 7.8 0.8M157.0 62.2q-2.7 1.0 -4.7 -1.1M127.7 25.6q1.6 2.6 4.2 4.3M149.4 40.6q4.4 0.2 5.4 -4.1M120.7 41.1q1.2 -4.7 5.5 -6.8M154.7 52.4q-1.9 3.0 -4.3 0.3M126.4 27.9q3.5 1.6 7.2 0.7M164.9 45.0q-3.3 0.9 -5.4 3.6M160.0 34.8q-0.5 2.3 -2.8 2.6M146.4 45.9q1.7 -1.1 3.4 -2.0M141.4 41.3q1.3 2.1 -0.8 3.3M135.4 30.1q1.9 0.1 3.7 0.7M134.8 39.1q-1.6 -1.4 -3.6 -2.0M117.8 12.1q-1.7 1.9 -1.8 4.4M45.6 22.5q-0.5 -1.6 -0.2 -3.3M75.6 10.8q-4.9 -0.4 -6.1 -5.2M42.2 14.6q2.2 0.5 4.4 0.6M117.8 16.3q-0.6 -4.2 3.1 -6.3M132.7 28.6q1.3 4.3 4.0 8.0M76.2 -1.9q-0.2 4.1 2.0 7.5M119.5 25.6q3.7 -0.2 7.0 -1.8M141.8 28.1q0.3 2.9 2.5 4.7M148.8 31.3q2.4 0.2 4.3 -1.2M155.3 44.0q-0.8 2.0 0.3 3.8M148.1 42.5q-2.2 -0.8 -3.9 -2.3M155.2 54.4q1.4 0.9 2.0 2.4M121.1 26.1q2.5 2.9 6.3 2.4M26.0 43.7q0.6 -3.7 -0.1 -7.4M84.8 13.2q-0.6 4.2 1.1 8.2M119.7 22.9q-3.6 1.4 -3.9 5.3M63.1 13.9q-2.9 3.1 0.1 6.0M80.5 -0.7q3.0 1.9 4.9 4.9M40.0 29.6q1.0 -4.1 3.6 -7.3" stroke="#ff1414" stroke-width="0.6" stroke-opacity="0.5" fill="none" stroke-linecap="round"/>
<path d="M74.3 95.0q-0.3 2.4 -1.5 4.4M70.0 119.8q-2.1 3.3 0.5 6.2M78.3 69.9q-0.5 3.1 -0.7 6.2M77.9 90.1q4.2 -0.5 8.0 -2.4M64.1 82.7q3.7 -0.1 5.6 3.1M77.4 125.1q-2.8 -1.5 -2.7 -4.7M56.5 89.5q-3.5 0.8 -3.8 4.4M67.1 53.8q0.5 2.2 -1.5 3.3M68.2 77.9q-2.5 2.1 -1.2 5.1M77.0 100.7q-4.4 -1.3 -8.7 0.3M80.2 57.6q-1.4 1.4 -2.1 3.2M77.6 103.6q-1.9 -2.4 -1.7 -5.5M58.0 99.5q4.1 1.0 5.5 5.0M80.7 65.3q-4.4 0.3 -6.5 4.1M86.0 54.9q1.4 1.1 2.0 2.7M78.4 65.3q0.2 -2.2 2.2 -3.1M67.5 74.5q-2.6 0.6 -5.3 0.7M77.0 42.2q0.6 -1.9 0.9 -3.8M55.9 120.4q2.2 1.3 4.7 0.8M52.9 123.3q2.1 0.6 1.6 2.7M57.6 96.4q4.6 0.5 7.9 3.6M78.2 135.6q-1.6 -1.8 -3.4 -0.1M62.1 123.6q4.1 -0.2 2.6 -4.0M75.1 73.3q-1.7 -0.8 -2.9 -2.3M74.3 113.7q3.3 1.0 5.7 3.4M69.2 87.2q1.3 1.1 2.6 2.0M69.3 94.6q-1.6 -2.5 -4.4 -3.5M77.1 95.7q-4.0 -1.9 -4.9 -6.2M67.0 106.5q0.4 3.1 -1.7 5.3M78.8 60.9q3.1 4.6 -1.4 7.8M82.2 125.3q2.0 3.2 3.5 6.7M70.6 95.8q-4.4 0.1 -4.7 -4.3M70.4 130.4q5.3 -0.8 5.8 4.5M66.5 101.5q2.7 3.4 -0.6 6.3M74.4 94.6q-1.3 1.5 -1.3 3.6M65.2 122.9q-0.6 -2.8 -0.9 -5.6M84.2 58.5q-2.5 2.4 -5.4 4.3M64.8 132.2q-1.8 1.6 -4.0 0.7M80.7 69.9q-2.2 -0.8 -3.9 0.7M71.6 98.8q3.4 1.5 3.4 5.3M71.0 113.6q1.4 3.8 0.6 7.7M73.6 113.5q-3.8 -2.7 -7.9 -0.4M62.0 104.3q3.3 -1.3 6.8 -0.7M60.5 122.5q3.4 2.3 7.3 3.3M56.6 71.0q1.9 -1.2 2.8 -3.2M84.6 48.5q-2.7 0.3 -2.6 3.1M90.1 88.7q4.1 -2.2 8.7 -2.4M86.0 119.6q-1.4 -3.2 -4.3 -5.0M86.2 54.4q-0.1 1.7 -1.4 2.7M78.8 45.0q2.6 4.8 -1.9 7.7M57.6 84.4q2.2 -0.7 4.1 -2.2M64.0 94.4q0.7 2.9 0.6 5.8M78.3 106.2q2.6 -0.1 3.9 -2.3M84.9 123.0q0.3 1.7 -1.2 2.8M56.5 64.5q-0.6 3.2 2.5 4.1M77.1 82.8q-1.0 2.0 -2.2 3.8M72.5 85.3q-1.7 0.5 -2.5 2.1M77.5 109.8q-3.5 -1.4 -6.0 -4.1M89.0 111.5q-2.5 2.4 -3.6 5.7M77.4 121.1q2.7 1.9 5.4 3.8M75.8 44.0q-2.3 0.5 -4.0 2.1M75.1 67.9q1.3 2.9 1.1 6.1M93.0 55.9q0.5 1.5 1.3 2.9M74.4 132.3q-2.0 -0.1 -2.5 1.9M81.0 48.7q-1.2 -1.1 -2.8 -1.3M65.5 128.9q2.3 0.7 4.8 0.6M79.5 56.8q-1.2 -1.2 -2.5 -2.3M76.2 91.1q-1.2 -1.5 -3.1 -1.9M70.3 105.6q-1.1 1.6 -1.7 3.4M82.4 87.6q3.1 2.3 7.0 2.4M87.5 53.5q-2.6 0.8 -5.3 0.7M77.6 135.3q-5.7 -1.5 -4.7 -7.3M57.7 89.2q2.6 3.1 2.3 7.1M86.3 60.6q0.1 2.0 0.7 4.0M65.7 98.5q-1.8 -1.9 -2.3 -4.5M67.1 122.3q1.2 1.6 3.1 1.7M74.0 80.7q-2.2 -2.2 -5.1 -3.1M87.5 57.6q3.8 3.0 2.2 7.6M63.2 37.3q3.8 1.7 7.4 3.6M82.3 111.3q-1.7 4.7 -6.5 6.0M54.2 124.2q2.5 1.5 5.1 2.8M54.3 121.9q3.0 0.5 5.8 -0.8M48.8 113.9q1.0 -3.7 0.7 -7.5M76.9 66.4q-0.6 -2.5 -1.0 -5.1M69.8 117.8q3.1 0.4 4.6 -2.4M77.5 54.4q3.3 -2.2 6.9 -3.9M82.0 78.2q-0.0 -4.3 -1.0 -8.4M76.3 80.8q3.1 1.5 6.5 2.3M63.1 57.3q1.6 -4.6 6.0 -2.5M73.1 127.6q3.0 0.2 5.2 2.2M85.2 121.6q-0.2 2.0 1.1 3.6M96.0 88.4q-0.4 2.3 -0.4 4.6M81.5 65.0q-3.6 -0.0 -7.2 0.3M88.7 87.6q-1.5 2.2 -3.9 3.4M82.2 54.6q0.4 3.9 1.6 7.7M86.2 73.1q-0.6 1.4 -1.4 2.8M68.8 91.3q-3.4 0.4 -6.2 -1.7M72.6 121.4q-0.5 2.4 -0.1 4.9M64.7 103.3q3.5 1.6 7.0 -0.1M68.5 49.6q-3.8 2.9 -4.2 7.7M84.1 112.0q-0.6 2.1 -0.7 4.3M68.2 78.2q2.6 1.2 5.1 -0.2M80.5 111.0q-1.9 0.8 -3.9 1.0M80.7 61.4q0.8 1.5 2.0 2.6M75.8 103.9q-0.7 -4.1 0.1 -8.1M63.7 110.9q-2.6 2.8 -3.3 6.5M79.4 69.4q1.6 2.3 0.5 4.8M87.3 98.0q-0.1 4.5 3.6 7.0M71.8 98.3q1.7 0.3 3.5 0.2M72.9 109.9q2.5 2.3 5.6 3.6M71.5 89.9q-4.4 2.4 -4.9 7.3M77.9 130.4q-5.6 0.5 -5.4 6.1M59.6 127.2q0.9 1.9 1.0 3.9M83.7 119.1q-0.7 1.8 -1.2 3.6M66.1 40.8q1.6 0.7 3.0 -0.4M81.6 97.0q-2.7 1.6 -2.7 4.7M78.1 121.3q-0.2 3.3 -1.3 6.3M89.1 58.6q-3.4 -1.0 -6.7 0.0M67.9 71.0q-2.6 -3.1 -6.5 -3.8M70.7 51.1q-1.7 4.0 -5.0 6.8" stroke="#ff1414" stroke-width="0.6" stroke-opacity="0.5" fill="none" stroke-linecap="round"/>
<path d="M2.1 101.2q6.0 2.4 8.1 8.6M14.4 111.1q3.1 -6.7 -1.6 -12.4M22.9 99.0q3.7 2.0 7.5 0.0M15.3 104.0q6.7 1.8 12.9 4.9M15.0 102.5q3.9 -1.9 7.5 -4.4M15.7 95.2q3.2 4.8 8.3 7.6M16.2 111.9q4.6 -4.1 10.7 -3.4M20.5 95.6q5.5 3.2 11.1 6.1M25.2 87.4q5.8 1.5 6.6 7.4M3.4 110.2q7.0 -4.2 15.2 -3.5M13.8 109.7q-1.0 -7.0 1.5 -13.7M18.2 104.0q2.2 -4.9 6.1 -8.6M25.6 103.1q7.5 -7.0 15.3 -0.3M27.7 99.1q3.2 -5.8 9.8 -6.4M16.2 102.2q5.5 -11.0 15.0 -3.3M31.3 109.6q0.7 -9.1 8.6 -13.5M16.1 88.0q2.6 2.6 1.9 6.2M9.0 99.2q5.5 -0.0 9.6 -3.7M19.7 97.4q4.9 4.2 1.9 9.9M19.8 110.5q-1.8 -10.1 8.1 -12.7M-0.3 94.4q5.1 -7.7 12.4 -2.0M26.4 105.9q3.0 -3.3 5.8 -6.6M19.1 98.6q7.8 2.3 9.6 10.2M17.2 97.6q5.2 -0.3 9.2 3.0M16.4 95.0q2.8 5.5 -1.7 9.9M22.4 103.4q2.4 -3.7 6.1 -6.1M31.1 111.2q-1.0 -3.8 2.1 -6.3M8.2 98.4q5.3 3.7 11.4 5.4M23.9 105.9q-1.7 -7.5 0.6 -14.8M27.2 99.4q4.7 -0.7 8.1 -3.9M16.6 94.6q5.0 -0.5 9.7 -2.0M8.4 118.3q0.2 -4.4 1.0 -8.8M24.8 98.3q-2.7 -8.5 6.0 -10.3M17.9 102.1q6.2 -4.1 13.2 -1.4M8.0 100.6q4.8 -7.6 13.8 -7.5M20.6 106.7q7.6 1.0 15.3 0.7M14.9 106.3q2.8 -5.3 4.9 -11.0M-2.3 100.1q9.5 -3.5 15.1 4.9M24.0 107.3q1.8 -4.6 3.3 -9.3M29.7 109.5q2.5 -4.2 5.1 -8.4" stroke="#f01010" stroke-width="0.6" stroke-opacity="0.5" fill="none" stroke-linecap="round"/>
<circle cx="151.5" cy="75" r="1.6" fill="#e01010"/>
</g>
<g id="r3">
<ellipse cx="120" cy="36" rx="28" ry="20" fill="#c00000" opacity="0.20" filter="url(#bl7)"/>
<ellipse cx="101" cy="115" rx="22" ry="11" fill="#d00000" opacity="0.28" filter="url(#bl4)"/>
<path d="M12.4 54.1L31.8 67.3" stroke="#e00000" stroke-width="9" stroke-opacity="0.4" fill="none" stroke-linecap="round" stroke-linejoin="round" filter="url(#bl2)"/>
<path d="M26.5 83.2L58.2 72.6" stroke="#e00000" stroke-width="7" stroke-opacity="0.3" fill="none" stroke-linecap="round" stroke-linejoin="round" filter="url(#bl2)"/>
<path d="M23.9 71.0q4.1 1.9 7.8 4.5M18.6 55.5q5.1 4.3 10.6 8.2M12.4 53.1q3.8 2.5 7.4 5.2M20.8 55.6q3.8 2.1 7.2 4.9M24.3 57.9q6.4 4.4 13.5 7.6M21.4 60.5q6.6 4.5 14.0 7.6M9.4 55.4q7.0 4.6 13.0 10.4M21.7 57.8q4.6 3.8 9.6 7.1M25.4 63.4q3.4 3.1 7.3 5.6M18.4 58.7q5.3 3.4 9.9 7.5M13.3 50.5q5.1 5.2 10.2 10.5M23.0 63.8q5.2 2.0 9.3 5.6M12.4 60.0q7.7 6.0 16.7 9.7M-0.2 55.6q7.3 4.9 14.8 9.7M14.6 63.6q9.7 2.9 16.3 10.4M23.5 60.1q5.2 3.8 11.4 5.1M9.0 55.5q3.4 4.1 8.1 6.4M13.8 50.0q3.5 3.6 7.5 6.6M16.8 59.0q5.4 3.7 11.3 6.5M13.0 49.8q7.4 5.8 13.4 13.1M22.1 54.1q7.1 5.5 13.7 11.6M11.8 52.8q6.4 3.7 13.3 6.1M16.1 58.1q6.9 3.7 13.3 8.2M23.9 66.7q3.0 3.5 7.3 5.1M18.7 55.6q6.6 3.4 12.3 8.1M20.1 59.0q6.5 5.8 13.1 11.5M6.0 52.2q6.7 4.5 13.8 8.4M13.4 57.5q4.6 5.1 9.9 9.5M22.8 56.3q6.3 3.5 12.1 7.7M3.5 55.2q5.7 4.2 10.0 9.8M24.5 60.7q5.3 2.3 10.3 5.1M11.1 55.9q4.9 4.0 9.6 8.2M12.8 57.4q6.5 3.4 13.0 6.8M3.6 51.2q7.0 5.9 14.8 10.6M16.8 60.2q3.9 2.6 7.3 6.0M26.6 62.1q4.0 3.9 9.1 6.1M26.1 63.0q7.5 4.7 14.8 9.7M5.3 52.8q7.0 4.7 13.6 10.0M16.5 55.8q3.6 2.7 7.8 4.4M12.7 49.5q3.4 3.8 6.6 7.8M4.8 47.4q7.8 3.4 14.2 8.9M16.9 58.2q7.0 3.4 12.3 9.0M21.1 58.7q3.5 2.9 7.2 5.6M15.2 54.3q5.7 4.5 12.4 7.4M25.7 59.1q6.3 4.7 12.6 9.6M15.8 43.7q7.8 6.3 12.9 15.0M9.5 45.1q6.0 6.7 13.2 12.2M22.4 62.0q4.7 2.5 8.6 6.0M13.1 57.7q5.0 4.2 10.5 7.9M15.9 51.3q6.2 5.1 13.2 9.2M13.9 57.0q4.5 6.0 10.4 10.7M16.8 57.8q8.3 4.7 17.1 8.4M30.4 64.6q3.7 2.3 7.7 4.2M15.9 52.7q5.1 3.8 10.2 7.5M25.8 64.7q7.4 3.2 14.7 6.5M18.0 59.2q4.9 5.1 10.4 9.7M17.0 58.1q5.2 4.5 11.0 8.1M8.6 57.6q7.2 2.6 13.7 6.8M14.7 55.7q7.6 6.4 15.0 12.8M15.0 60.7q5.4 2.0 10.6 4.5M23.2 68.7q5.8 4.7 12.0 8.8M23.7 59.5q3.5 3.1 6.7 6.5M23.3 63.7q7.3 5.3 14.9 10.0M21.8 61.9q7.7 2.4 13.3 8.1M15.5 53.5q8.1 6.0 14.4 13.7M14.7 48.8q4.1 1.9 7.4 4.9M25.4 64.0q3.5 2.6 6.8 5.5M28.1 60.6q5.8 6.3 11.6 12.5M20.0 53.4q6.4 4.6 13.6 7.6M7.6 58.0q8.6 3.8 16.7 8.7" stroke="#f01010" stroke-width="0.8" stroke-opacity="0.65" fill="none" stroke-linecap="round"/>
<path d="M2.4 54.5q2.8 3.7 5.1 7.8M13.1 59.6q1.7 6.9 5.7 12.8M-3.3 45.3q3.0 7.3 4.8 15.0M7.2 53.7q2.9 4.9 4.7 10.4M-1.7 59.9q4.5 5.6 8.8 11.4M2.6 64.6q5.8 5.2 8.7 12.4M3.1 45.4q3.0 2.9 4.0 7.0M9.1 62.3q1.6 4.6 3.7 9.0M11.8 63.5q2.7 5.1 5.3 10.2M6.3 56.3q1.2 6.6 2.2 13.2M2.8 43.2q4.1 5.4 7.9 11.1M10.0 66.4q2.0 5.0 5.5 9.1M9.6 62.0q3.0 4.3 4.4 9.3M1.1 52.6q4.3 5.1 7.6 10.9M-6.0 53.3q2.1 2.3 4.7 4.2M12.7 55.6q1.1 6.8 3.5 13.3M-3.0 62.8q3.3 5.2 7.2 10.0M-0.2 48.8q5.4 5.6 10.6 11.3M7.5 55.6q5.8 5.2 10.0 11.8M2.8 61.5q2.2 3.1 4.6 5.9M0.4 43.8q1.5 3.1 2.4 6.4M9.6 64.4q4.1 6.0 6.4 13.0M-1.0 52.5q0.9 4.1 2.7 7.8M9.9 64.2q2.8 5.5 6.0 10.7M9.6 56.9q1.3 7.8 0.9 15.7M20.9 60.7q1.3 6.7 4.2 12.8M10.9 58.9q1.7 5.7 3.5 11.3M4.0 53.6q1.7 3.2 4.4 5.7M-2.7 45.1q1.9 4.8 4.5 9.3M0.6 43.8q3.7 4.6 6.6 9.7M13.5 57.6q1.9 5.8 5.0 11.1M14.7 62.7q3.1 4.6 5.5 9.6M4.4 62.7q5.0 5.2 10.6 9.8M11.0 55.0q1.7 6.4 3.8 12.7M8.1 68.4q2.3 3.5 5.3 6.4" stroke="#d01010" stroke-width="0.7" stroke-opacity="0.5" fill="none" stroke-linecap="round"/>
<path d="M22.1 78.8q8.0 -0.1 16.0 -0.9M21.8 91.4q8.8 -3.1 17.4 -6.7M35.3 76.7q7.0 -1.0 13.6 -3.6M46.9 77.9q6.6 -1.3 12.9 -3.8M49.3 74.7q9.3 -3.3 18.8 -5.7M26.8 82.7q6.0 -0.8 12.0 -1.7M27.3 84.7q4.4 -0.2 8.3 -2.0M40.3 79.3q3.9 -1.0 8.0 -1.0M20.7 91.9q6.7 -3.0 13.2 -6.7M43.6 84.0q5.8 -1.2 11.5 -2.5M21.9 83.2q5.5 -1.7 10.8 -3.8M24.4 90.5q7.3 -2.5 15.1 -3.2M45.1 76.6q8.3 -2.6 16.5 -5.4M13.7 82.7q9.7 -2.6 18.6 -7.1M27.2 83.9q8.5 -3.7 17.1 -7.1M47.5 70.6q9.4 -3.1 17.9 -8.1M29.9 73.6q9.9 -0.4 19.6 -2.6M39.6 71.1q8.4 -0.4 16.7 0.3M30.8 89.1q4.5 -0.6 8.3 -2.9M45.4 71.2q8.7 -1.6 17.2 -4.2M21.2 84.9q6.2 -3.2 12.5 -6.2M25.9 88.2q4.2 -1.1 8.4 -2.2M25.3 88.0q3.9 -1.9 8.2 -2.1M49.8 77.2q4.4 -0.7 8.8 -1.2M21.0 75.2q9.8 -2.1 19.2 -5.7M44.8 79.5q9.3 1.6 18.3 -1.6M24.3 81.6q5.0 -2.0 10.0 -3.8M37.5 79.3q5.9 -3.0 12.6 -3.3M41.6 81.8q4.3 -3.2 8.9 -5.8M47.5 78.7q5.6 -4.4 11.5 -8.5M32.2 83.7q7.5 -7.3 17.1 -11.3M28.3 86.8q8.3 -6.8 17.0 -13.0M47.3 71.1q7.1 -1.1 14.2 -2.4M50.5 73.1q5.0 -1.4 9.4 -4.3M45.7 78.9q7.3 -2.9 14.3 -6.6M24.6 80.8q5.7 -2.5 11.6 -4.6M31.5 80.7q3.6 -3.6 7.8 -6.4M28.1 81.7q7.3 -1.5 14.4 -3.4M42.8 76.7q6.7 -3.5 12.9 -7.7M40.1 79.9q6.7 -1.0 13.4 -2.3M33.3 75.2q3.9 -1.1 7.9 -2.1M20.5 86.0q8.6 -3.1 16.7 -7.4M36.5 80.1q10.8 -2.0 21.6 -4.4M40.2 69.8q7.9 -0.9 15.8 -2.3M29.0 80.0q7.4 -5.0 16.0 -7.5M23.6 81.2q5.6 -1.0 10.8 -3.3M22.9 90.0q8.4 -3.1 16.6 -6.6M39.0 86.3q10.8 -2.0 21.6 -4.0M41.5 69.8q5.5 -1.3 11.0 -2.7M18.6 84.2q5.7 -3.2 11.4 -6.4M24.0 80.7q9.7 -2.2 19.2 -5.4M34.9 82.7q6.0 -6.5 13.7 -10.6M23.2 96.1q7.7 -4.4 14.2 -10.3M30.7 87.7q7.5 -5.1 15.1 -10.0M39.8 84.2q9.9 -3.7 20.3 -5.4M45.3 77.1q5.2 -1.2 10.6 -1.8M50.5 73.8q9.3 -3.5 17.3 -9.5M31.0 79.9q5.7 -3.6 12.1 -5.4M36.1 81.8q7.6 -0.9 14.8 -3.7M32.3 72.6q8.2 -2.7 16.6 -4.4M31.5 79.2q6.2 -3.4 12.0 -7.5M23.1 85.1q4.1 -1.6 8.3 -2.6M35.1 83.6q6.9 -1.8 13.5 -4.6M25.7 82.1q9.2 -1.6 18.4 -3.4M34.2 80.0q6.3 -1.8 12.9 -2.5M49.8 74.3q8.5 -5.2 16.2 -11.3M49.2 77.2q4.0 -2.1 7.4 -5.1M48.0 73.7q8.3 -5.3 17.5 -8.8M25.1 83.2q5.6 -2.4 11.5 -4.1M24.9 87.9q3.9 -1.8 8.1 -2.9" stroke="#f01010" stroke-width="0.8" stroke-opacity="0.6" fill="none" stroke-linecap="round"/>
<path d="M49.6 106.5q4.2 -2.9 8.4 -6.0M58.9 98.5q8.2 -2.8 15.9 -6.8M64.6 97.4q5.4 -4.0 11.1 -7.5M55.5 99.7q4.1 -0.9 8.2 -2.1M75.7 109.6q5.1 -2.9 7.9 -8.0M67.2 88.1q6.3 -0.3 12.5 -1.0M55.9 101.1q7.3 -4.1 13.2 -10.2M51.4 100.5q4.0 -1.6 8.0 -3.3M56.8 105.7q5.3 -5.0 9.5 -11.0M66.4 92.8q5.8 -1.8 11.5 -3.7M54.7 102.8q6.0 -2.6 12.0 -5.1M53.4 103.2q5.6 -3.3 11.4 -6.5M46.5 99.8q7.8 -3.7 15.7 -7.2M73.6 102.7q4.1 -4.2 8.7 -7.8M62.6 95.4q4.6 -3.2 8.1 -7.5M60.9 100.5q7.4 -4.0 15.3 -7.1M74.8 96.5q5.8 -3.5 11.9 -6.2M59.8 96.6q4.9 -2.3 9.1 -5.7M62.4 96.3q3.7 -3.3 8.2 -5.4M67.4 92.5q5.5 -1.5 10.1 -4.9M72.2 94.6q4.4 -4.1 8.8 -8.1M62.6 93.5q7.7 -4.5 15.6 -8.6M68.6 94.2q6.0 -1.8 11.9 -4.0M50.1 98.2q5.9 -3.1 12.3 -5.1M46.4 99.2q5.2 -2.2 10.2 -5.0M58.2 101.2q7.5 -3.1 14.2 -7.6M74.3 98.7q4.2 -0.9 8.4 -1.7M49.2 96.0q8.4 -2.8 16.6 -6.0M49.9 103.7q5.7 -3.9 11.9 -7.1M57.0 96.5q7.3 -4.4 14.9 -8.4M52.9 108.3q6.5 -3.1 12.7 -6.8M45.5 103.9q8.1 -1.5 16.4 -1.6M71.2 103.0q5.8 -5.3 12.6 -9.1M55.7 98.7q4.7 -2.3 9.8 -3.3M53.2 102.1q4.6 -2.0 9.2 -4.2M49.1 99.3q4.8 -4.7 10.1 -8.7M48.9 100.4q3.9 -2.9 8.5 -4.3M56.2 99.3q3.3 -3.5 7.1 -6.6M63.5 101.0q5.3 -2.6 10.8 -4.7M70.5 94.7q7.2 -3.3 14.9 -5.4" stroke="#e01010" stroke-width="0.7" stroke-opacity="0.5" fill="none" stroke-linecap="round"/>
<path d="M114.2 110.5l-15.2 -1.3M114.2 110.5l-19.0 2.8M114.2 110.5l-32.3 -3.5M114.2 110.5l-21.9 -0.8M114.2 110.5l-18.9 -4.3M114.2 110.5l-28.0 3.3M114.2 110.5l-11.2 -6.9M114.2 110.5l-16.9 -2.9M114.2 110.5l-17.1 1.6M114.2 110.5l-23.5 -0.7M114.2 110.5l-15.4 10.7M114.2 110.5l-18.9 -6.8M114.2 110.5l-18.4 3.2M114.2 110.5l-25.4 -9.9M114.2 110.5l-15.4 0.1M114.2 110.5l-14.4 6.5M114.2 110.5l-23.3 -7.2M114.2 110.5l-29.1 -2.6M114.2 110.5l-22.3 -12.3M114.2 110.5l-13.9 -6.9M114.2 110.5l-28.4 6.4M114.2 110.5l-11.5 -7.3M114.2 110.5l-22.1 -10.1M114.2 110.5l-23.2 -18.8M114.2 110.5l-19.8 -16.8M114.2 110.5l-19.6 7.5M114.2 110.5l-15.7 6.2M114.2 110.5l-23.5 7.9M114.2 110.5l-25.9 11.9M114.2 110.5l-28.6 10.1M114.2 110.5l-13.3 -4.9M114.2 110.5l-24.4 -12.5M114.2 110.5l-23.9 -0.2M114.2 110.5l-14.5 -1.0M114.2 110.5l-20.4 12.1M114.2 110.5l-23.8 1.8M114.2 110.5l-19.7 10.2M114.2 110.5l-30.0 0.5M114.2 110.5l-25.1 -13.9M114.2 110.5l-20.4 2.6M114.2 110.5l-20.0 -11.0M114.2 110.5l-13.1 -4.1M114.2 110.5l-25.7 10.7M114.2 110.5l-24.2 13.2M114.2 110.5l-31.7 -4.9M114.2 110.5l-17.2 -6.8M114.2 110.5l-27.4 -2.0M114.2 110.5l-11.8 -7.6M114.2 110.5l-11.4 6.9M114.2 110.5l-22.0 6.3M114.2 110.5l-24.0 16.0M114.2 110.5l-24.8 -2.0M114.2 110.5l-18.5 4.2M114.2 110.5l-23.3 -19.6M114.2 110.5l-30.0 0.7M114.2 110.5l-15.5 0.2M114.2 110.5l-14.6 -9.4M114.2 110.5l-23.1 15.7M114.2 110.5l-21.3 -6.7M114.2 110.5l-18.3 12.5M114.2 110.5l-23.2 -6.5M114.2 110.5l-21.4 -11.0M114.2 110.5l-18.2 -13.0M114.2 110.5l-11.6 -7.3M114.2 110.5l-22.5 6.9M114.2 110.5l-18.3 -9.7M114.2 110.5l-17.8 9.3M114.2 110.5l-21.7 -7.4M114.2 110.5l-21.9 11.7M114.2 110.5l-26.5 -1.8" stroke="#f01010" stroke-width="0.8" stroke-opacity="0.6" fill="none"/>
<path d="M100.5 18.6q2.2 1.9 3.5 4.6M116.7 39.2q0.1 -7.4 -7.2 -5.9M141.8 37.7q-0.1 3.0 1.6 5.5M89.1 36.5q5.4 3.3 3.0 9.1M130.4 31.5q4.5 8.3 -4.9 8.3M111.1 37.3q0.5 4.1 4.5 3.2M85.5 33.1q4.5 -2.9 3.9 -8.1M154.3 33.7q-4.4 -0.6 -6.6 3.2M137.9 33.5q-3.3 -4.7 -1.0 -10.0M106.3 11.2q5.1 2.1 6.1 7.6M114.5 28.0q0.4 -3.3 1.1 -6.5M83.1 39.9q2.7 -2.7 4.7 0.6M108.1 45.4q-1.1 6.5 -7.1 9.0M120.9 52.5q4.3 2.1 3.8 -2.6M108.4 33.7q-9.9 3.1 -9.4 -7.2M120.0 19.6q-6.7 2.0 -4.3 8.5M87.1 49.2q-2.2 -7.0 -9.5 -5.8M132.9 47.9q0.4 -4.8 5.2 -5.2M95.1 35.6q1.3 -2.0 0.3 -4.1M116.8 42.3q0.7 2.2 2.5 3.7M132.7 44.8q-5.3 -0.2 -10.5 -1.2M106.6 16.5q5.9 0.0 11.7 -0.8M123.8 33.9q1.2 -10.0 10.1 -5.3M106.6 20.5q0.4 3.6 4.0 3.8M142.5 27.7q3.0 0.4 3.2 -2.6M114.4 21.1q-9.3 7.6 1.9 11.8M128.2 27.5q-1.0 5.5 -2.4 10.9M118.9 19.9q1.2 -3.0 3.9 -4.7M75.3 32.7q5.1 -2.6 10.8 -3.5M94.6 43.4q0.5 -5.6 5.5 -8.0M89.8 46.8q6.1 2.8 11.8 -0.9M158.6 22.1q-5.6 -3.7 -11.5 -0.3M95.8 45.9q2.8 -1.7 3.1 -4.9M120.8 30.9q0.3 2.6 0.0 5.1M102.5 47.8q1.9 0.9 3.7 2.1M91.4 23.4q3.3 -1.4 6.7 -2.6M89.8 12.4q4.3 2.0 5.6 6.5M107.8 32.7q-2.4 -3.2 -5.6 -5.7M100.0 31.4q3.3 4.9 -2.3 6.9M89.0 42.7q-2.6 0.2 -5.0 -0.8M118.7 36.5q2.1 -11.3 -8.9 -7.9M115.1 42.5q-1.2 -3.7 -2.5 -7.3M86.8 27.1q5.9 -0.1 7.6 5.6M120.0 38.3q1.1 -2.7 3.5 -4.1M108.7 50.4q4.7 -2.4 6.2 2.6M129.2 40.3q-2.0 -4.7 2.0 -8.0M97.9 34.3q-3.2 1.6 -6.0 -0.5M107.5 18.0q2.7 5.0 5.0 10.3M115.1 27.7q2.7 -0.7 3.6 -3.3M125.0 19.1q0.6 3.0 -2.1 4.5M129.0 29.3q-4.5 -0.3 -7.6 3.0M101.0 39.4q-0.6 2.2 -2.7 3.1M100.3 23.3q2.4 1.4 4.5 3.1M77.4 32.1q2.5 -1.0 4.2 1.0M88.0 8.1q-1.3 3.7 -4.9 2.2M85.3 30.5q5.0 1.9 8.3 -2.2M84.4 18.1q-2.6 -2.9 -3.3 -6.9M88.0 31.0q3.3 -3.3 6.5 -6.9M135.2 39.6q4.6 1.1 7.7 -2.5M105.0 47.4q5.8 1.8 10.5 5.5M100.0 43.1q-1.8 -4.9 2.3 -8.1M125.1 27.4q0.5 5.0 -4.1 7.2M154.0 29.0q-3.7 3.5 -2.3 8.4M86.1 24.8q3.8 1.9 6.8 4.9M108.6 18.5q2.6 6.8 9.8 6.7M144.8 31.1q-3.4 2.5 -0.4 5.4M79.2 21.3q0.1 -3.0 -1.2 -5.8M123.9 42.7q-0.1 -6.4 4.3 -11.0M127.7 23.4q-0.9 4.8 2.6 8.2M90.5 36.9q3.2 4.5 8.1 7.2M117.0 39.7q1.6 6.2 7.9 7.6M140.6 23.9q2.0 -0.4 3.9 -1.1M89.2 47.9q-2.3 -4.3 -6.5 -6.7M123.1 11.3q2.9 -0.6 5.9 -0.4M99.0 33.3q5.9 2.8 6.5 9.2M115.8 16.8q1.3 2.2 -0.1 4.3M114.6 36.1q1.4 -5.1 -2.2 -8.9M73.7 26.3q3.9 -0.1 6.2 -3.3M91.2 52.1q6.5 1.5 10.7 -3.6M111.3 31.6q1.5 2.9 3.1 5.7M92.3 32.1q3.6 -2.7 8.1 -3.1M144.9 19.5q-3.6 6.2 3.4 7.8M119.5 13.5q3.7 -6.9 10.3 -2.6M107.2 27.7q3.4 -4.5 4.2 -10.0M122.1 21.0q-2.6 1.3 -5.4 2.2M108.6 34.2q2.2 5.2 7.5 7.2M127.4 44.4q-0.8 2.1 -2.5 3.7M113.5 23.7q0.8 -6.5 -4.9 -9.7M123.1 36.8q5.0 8.2 11.8 1.5M98.1 29.7q6.8 2.1 8.0 -4.9M96.9 25.0q4.2 -0.7 8.4 -1.1M79.7 26.4q1.3 3.1 4.5 2.1M118.5 14.4q-0.7 3.5 2.4 5.3M123.4 18.5q-3.0 0.5 -5.9 0.6M139.2 44.3q3.9 2.0 3.8 6.4M140.4 27.8q3.1 -1.9 6.3 -3.6M92.2 28.1q5.2 4.9 -1.0 8.4M124.7 19.9q2.2 3.9 6.3 6.0M93.3 13.0q-0.6 -5.1 -3.2 -9.4M127.6 52.0q4.3 1.4 8.8 1.2M82.0 39.8q-1.8 -1.8 -0.9 -4.2M144.6 36.9q-1.4 -2.8 -1.0 -5.9M109.7 45.2q-4.2 -1.7 -7.0 -5.3M100.4 39.3q3.9 -1.8 8.1 -2.4M106.6 34.5q-5.4 -1.1 -3.4 -6.3M86.8 32.9q5.2 0.3 6.6 -4.7M123.8 40.6q5.9 1.4 7.2 7.4M118.2 31.1q-4.2 -1.8 -5.1 2.7M77.3 31.1q0.2 -2.7 2.8 -3.4M110.7 28.3q2.6 0.0 5.3 -0.2M143.3 34.6q3.0 -2.8 1.8 -6.7M78.9 35.3q-0.5 -4.4 1.3 -8.4M88.2 14.0q-4.7 7.0 2.8 10.8M100.8 10.0q-3.0 2.9 -5.2 -0.6M128.6 34.0q-3.8 -1.0 -5.0 -4.8M92.5 24.9q-1.3 5.1 3.8 6.5M118.7 49.0q1.9 -6.8 8.8 -5.1M110.5 27.0q-1.7 3.1 1.4 4.7M123.6 32.4q-0.2 -4.5 3.1 -7.6M81.8 32.9q1.2 -2.7 -1.1 -4.6M75.5 31.5q4.4 1.7 7.8 -1.4M73.9 18.5q4.7 2.7 4.6 8.1M90.7 47.3q2.7 0.3 5.4 0.4M146.2 31.5q-2.5 -5.1 -8.2 -5.5M128.3 9.4q-3.1 -6.3 3.6 -8.6M105.4 30.0q8.1 5.0 9.3 -4.5M128.1 39.9q-1.4 3.6 -4.7 5.4M110.9 24.0q4.5 3.2 9.9 3.9M102.1 38.8q0.6 -3.8 4.5 -4.7M119.1 24.2q7.1 2.2 4.8 9.2M79.6 37.0q3.2 2.8 6.1 5.8M92.1 20.9q-3.6 2.4 -5.0 6.4M141.6 32.8q1.0 5.9 -1.7 11.2M98.5 32.3q-4.1 -3.9 -0.4 -8.2M95.4 11.0q2.1 4.7 6.3 7.7M96.4 13.3q2.6 3.2 6.7 2.9M111.9 21.1q3.3 1.3 6.1 3.6M127.2 29.8q5.6 -2.3 2.0 -7.2M92.6 19.6q2.2 -1.0 4.4 -2.1M101.3 15.7q3.2 2.6 -0.1 5.1M85.2 39.3q4.1 3.0 8.6 0.6M145.6 40.7q-5.1 1.6 -5.4 7.0M152.8 18.7q-0.5 2.4 1.3 4.2M76.4 22.8q2.1 4.2 6.3 6.3M142.6 39.2q5.0 -0.2 9.0 2.9M89.7 45.7q2.5 1.1 3.6 3.6M126.6 24.2q3.2 0.0 3.6 -3.1M135.3 44.6q5.8 -1.4 5.6 -7.3M96.6 38.7q1.9 0.9 3.6 2.2M144.4 36.6q-2.3 -2.5 0.3 -4.7" stroke="#f41414" stroke-width="1.1" stroke-opacity="0.7" fill="none" stroke-linecap="round"/>
<path d="M93.4 17.5q3.0 -0.9 4.7 1.7M121.1 2.7q-1.8 4.5 0.8 8.5M120.2 3.6q-5.7 3.3 0.0 6.5M120.8 18.3q2.3 -0.1 4.3 -1.1M95.9 9.7q5.4 0.1 6.8 -5.2M130.9 15.4q5.4 0.6 8.9 4.8M96.6 17.3q2.7 0.5 5.2 -0.6M114.3 12.4q1.4 5.0 6.0 7.4M89.7 24.7q4.4 -0.2 7.8 -2.8M113.3 17.4q6.6 -1.6 6.9 -8.3M94.9 20.9q3.4 -2.8 0.3 -5.9M90.6 16.9q4.6 1.6 8.7 -1.1M134.0 21.9q-6.4 0.2 -6.7 6.6M95.4 12.7q1.7 5.0 5.5 8.7M131.9 18.2q4.2 0.2 8.2 1.4M104.1 8.6q1.7 -1.8 2.7 -4.1M114.2 13.6q5.4 -0.7 9.3 3.1M134.1 18.2q1.2 2.3 3.7 1.8M133.3 19.9q-3.1 4.7 -5.8 9.7M105.8 24.3q2.9 -0.7 4.4 -3.3M103.0 22.5q4.7 0.6 9.4 1.0M127.2 20.5q-3.1 1.3 -6.2 2.7M121.3 18.8q3.4 -0.9 3.8 2.6M121.1 11.9q2.6 3.9 6.0 7.0M139.6 21.4q-1.3 3.4 -1.0 7.1M98.8 17.0q2.1 -1.1 4.4 -0.7M114.1 20.4q3.9 -2.9 7.7 -0.0M137.6 24.2q-1.2 3.8 2.0 6.3M116.2 8.5q9.2 1.7 3.1 8.8M91.9 16.2q0.7 3.8 4.0 1.8M110.3 16.7q2.7 -1.7 5.6 -0.7M137.2 29.1q1.3 2.3 -0.3 4.5M114.8 16.1q5.4 -1.5 10.9 -0.9M99.4 13.9q3.2 -0.8 5.5 1.6M138.1 17.7q3.3 1.5 4.1 5.0M117.6 8.4q-0.8 4.7 0.5 9.2M125.7 35.3q2.8 -7.3 10.5 -5.8M112.0 3.5q5.1 2.0 7.4 7.0M138.2 24.8q2.4 -2.0 4.7 0.1M112.7 9.4q1.9 -3.7 -1.3 -6.3M132.3 28.0q-0.4 -3.4 1.1 -6.5M103.3 14.4q4.5 3.0 10.0 2.8M122.3 11.4q-0.6 -2.3 -0.8 -4.6M107.3 21.0q-3.3 2.3 -7.0 3.7M129.0 12.6q6.9 0.6 9.7 7.0M136.0 27.4q7.3 -0.3 8.9 -7.4M108.6 14.4q1.0 -2.5 3.3 -3.7M104.1 6.9q0.6 5.2 5.8 6.0M117.4 13.8q-2.4 -3.9 -5.5 -7.2M111.3 3.3q2.2 4.1 2.7 8.8M101.7 12.0q-2.0 5.1 -2.1 10.5M116.6 17.6q1.2 3.3 4.7 3.3M132.8 21.4q2.7 3.1 -0.1 6.0M128.5 12.2q-3.7 5.5 1.0 10.1M106.6 17.2q1.8 -2.2 3.2 -4.6M137.0 17.4q2.5 4.5 7.6 5.1M122.6 7.8q4.7 3.4 0.7 7.7M116.6 11.6q3.1 5.0 6.6 9.7M100.7 18.7q2.4 3.1 6.0 4.3M100.1 21.3q2.5 -6.5 9.4 -6.3M112.7 3.0q1.9 1.3 3.9 2.5M94.8 17.9q4.0 -0.1 7.8 1.4M107.9 11.5q4.5 -2.1 9.5 -1.4M93.0 23.7q4.2 -1.4 8.3 0.5M96.3 17.7q1.9 -5.8 6.0 -10.3M127.0 22.1q3.4 -1.0 7.0 -0.4M115.0 17.1q1.0 -2.6 3.3 -4.3M91.5 10.7q2.3 5.5 3.5 11.4M103.4 9.6q0.3 3.1 3.3 2.3M133.2 24.9q5.2 0.1 7.0 -4.8" stroke="#f41414" stroke-width="1.0" stroke-opacity="0.7" fill="none" stroke-linecap="round"/>
<path d="M107.8 56.3q1.1 4.1 1.3 8.3M129.5 67.1q-2.0 -4.3 0.4 -8.3M123.6 63.9q6.2 -2.8 1.9 -8.1M127.9 55.2q1.7 3.5 1.9 7.3M115.3 64.0q3.8 -1.5 5.8 -5.0M112.3 53.9q3.5 1.1 6.5 3.1M126.1 52.2q1.8 1.3 3.9 1.8M122.0 54.1q3.9 2.1 7.9 3.9M117.3 62.2q5.3 1.3 5.6 -4.2M121.3 56.8q-0.2 -4.6 0.5 -9.2M114.5 55.8q4.1 1.0 5.2 5.1M132.4 63.4q-4.7 -0.0 -8.7 -2.5M110.3 45.6q4.9 4.3 2.8 10.4M107.7 60.4q2.1 -6.3 8.3 -3.9M119.0 60.8q3.8 0.4 4.1 -3.4M124.7 54.8q3.3 -5.5 -1.3 -10.0M122.8 59.5q7.2 1.1 3.5 7.4M121.5 42.9q3.8 0.2 7.4 1.1M112.2 54.8q3.8 0.7 7.6 1.0M109.2 63.6q-0.4 3.0 -3.1 4.5M105.6 60.4q2.2 1.3 2.3 3.8M109.4 48.8q-0.9 3.7 -2.3 7.3M120.3 57.2q3.5 2.3 6.9 0.0M116.9 67.8q2.6 -4.4 6.3 -8.1M117.4 62.1q5.4 -2.9 10.4 0.8M115.7 63.6q2.4 -3.8 4.2 -8.0M117.2 63.5q-0.3 -5.6 4.1 -9.0M123.9 52.9q2.8 2.7 6.4 1.5M110.7 66.4q-0.9 -4.7 3.6 -6.2M125.4 46.8q0.7 5.5 4.5 9.6M101.5 62.2q5.0 4.0 10.5 0.8M124.4 58.8q2.8 -2.9 6.0 -5.4M120.9 55.2q4.7 0.4 6.5 4.7M110.4 52.2q4.3 1.8 8.1 4.3M111.0 48.2q2.2 3.1 4.2 6.3M105.8 66.3q1.0 -3.8 3.7 -6.8M107.9 60.1q0.6 -3.7 4.1 -5.1M122.7 55.3q-4.3 1.0 -6.9 4.6M108.7 61.6q0.1 -2.7 0.2 -5.4M129.1 58.1q0.5 -4.2 2.2 -8.0M116.8 56.5q1.1 -3.3 3.7 -5.5M123.9 50.7q-3.4 -0.4 -3.7 -3.8M105.4 61.9q2.5 1.6 5.4 2.5M108.7 48.8q3.3 1.7 2.2 5.3M116.6 49.6q-5.6 -1.7 -5.6 4.2M107.4 58.1q-2.8 3.9 0.8 7.0M102.5 51.5q6.6 -7.7 10.9 1.5M129.9 51.2q-4.6 -2.4 -6.0 -7.4M105.4 55.3q0.1 2.4 1.6 4.3M104.0 50.1q4.6 3.2 10.2 3.4" stroke="#f41414" stroke-width="1.0" stroke-opacity="0.65" fill="none" stroke-linecap="round"/>
<path d="M163.7 108.6q5.0 0.1 8.8 3.2M19.2 -3.9q-1.2 5.2 -2.8 10.3M102.6 8.0q-6.6 1.8 -12.7 4.9M40.1 56.9q-3.2 1.2 -6.6 1.6M150.8 38.2q-2.6 6.4 -3.7 13.3M170.9 114.4q7.4 4.6 2.0 11.4M85.1 20.2q1.6 7.2 -3.0 13.0M133.2 38.4q1.9 4.4 -0.8 8.4M-2.9 20.7q4.1 3.8 9.5 5.2M147.9 100.6q7.2 1.5 13.6 5.0M80.7 111.4q7.9 -0.2 14.2 4.6M88.6 106.0q-1.0 3.8 -0.3 7.6M0.8 90.8q0.4 8.1 5.8 14.1M102.2 19.3q-2.3 4.9 -6.9 2.1M44.5 10.2q4.7 1.5 5.8 6.3M72.8 -6.7q3.1 10.1 -6.7 14.0M49.3 52.7q1.7 2.7 3.9 5.1M60.3 57.1q-9.3 -2.5 -12.8 6.5M82.4 95.6q8.4 6.3 2.0 14.7M166.2 78.5q5.0 3.4 9.6 7.3M43.3 108.3q-1.1 5.2 2.6 9.0M96.7 21.6q-7.7 1.1 -15.5 1.0M66.9 21.1q2.9 6.9 -2.7 11.8M26.8 32.6q-3.5 7.1 -10.1 11.5M127.7 122.2q-6.4 3.0 -3.0 9.3M82.5 90.5q-3.2 5.3 -9.4 5.3M170.5 30.4q4.3 2.6 9.3 3.5M172.4 96.2q-0.8 3.6 1.4 6.6M122.9 39.5q2.2 5.7 8.0 7.6M122.2 46.2q1.6 3.3 2.1 6.9M146.3 14.8q6.0 1.9 10.0 6.7M12.1 111.8q-0.6 4.4 -4.1 7.0M62.3 42.6q4.9 3.7 9.3 8.0M92.3 103.3q-3.6 1.2 -5.8 4.3M74.3 83.7q-2.0 4.4 -5.1 8.1M156.3 64.2q1.9 11.6 -9.8 10.6M77.0 21.4q6.1 2.7 12.0 -0.3M171.6 118.7q-4.9 6.8 -12.4 3.2M11.5 25.2q5.7 1.6 11.4 3.2M146.4 28.9q-7.6 3.5 -11.3 10.9M10.1 27.5q0.8 2.4 1.1 5.0M124.4 108.4q-2.5 5.3 -8.0 7.2M153.7 38.6q-1.9 6.2 0.4 12.3M80.8 68.6q2.0 4.6 7.0 4.5M49.6 96.2q4.1 6.1 -2.7 9.1M165.2 19.7q4.3 3.1 3.6 8.4M116.8 8.5q3.4 3.7 6.0 7.9M60.9 67.0q0.8 2.8 -1.1 5.0M-1.2 -3.2q7.5 1.9 7.0 9.6M96.1 66.6q3.6 0.5 7.1 1.5M107.1 97.6q-3.9 4.9 -1.9 10.8M93.3 69.1q0.1 11.0 11.2 11.2M16.8 23.8q0.4 7.5 -4.8 12.9M108.2 49.4q4.7 4.9 4.7 11.7M144.2 30.9q-2.1 2.6 -5.2 3.7M18.8 23.3q2.7 5.7 8.8 7.3M177.7 54.0q-7.8 -0.7 -14.1 3.9M62.2 111.1q-4.9 4.0 -10.4 1.0M3.3 16.7q1.4 3.5 1.9 7.3M162.9 53.8q-4.1 1.6 -8.5 1.7M154.8 5.3q3.8 3.8 8.6 6.0M104.7 5.8q-1.2 2.4 -0.4 5.0M31.7 104.4q3.5 4.3 3.9 9.9M53.4 124.5q2.1 4.1 -1.5 6.9M152.9 125.2q-4.3 7.8 -13.2 7.5M11.6 98.4q7.2 2.8 14.7 0.9M165.6 -2.2q0.5 5.2 4.7 8.5M77.4 122.3q4.0 1.1 8.0 2.4M17.9 82.2q-3.0 -0.1 -6.0 0.3M112.9 129.0q-7.1 2.0 -14.4 3.2M13.2 102.0q-4.5 5.8 -4.6 13.1M92.7 56.9q3.4 5.9 5.3 12.4M70.7 46.1q-0.0 3.6 -3.1 5.4M119.4 80.3q0.3 3.1 1.7 5.8M131.3 30.0q-5.5 1.7 -11.3 1.6M52.4 64.7q-9.8 -0.3 -11.7 9.3M87.8 60.3q-0.2 6.9 6.7 7.1M158.8 43.8q3.3 4.9 9.1 5.0M111.5 17.9q-0.9 7.8 6.2 11.3M39.8 51.4q-6.7 4.3 -11.9 10.5M5.4 62.8q-1.8 6.3 4.7 7.4M3.2 8.7q6.8 -9.1 14.6 -0.8M54.2 32.8q-4.4 2.7 -7.9 6.6M140.5 -3.5q3.6 6.4 1.0 13.3M109.2 42.5q2.4 2.6 2.3 6.1M106.1 16.4q6.3 2.0 8.1 8.4M23.7 70.3q2.7 1.5 5.6 0.8M148.0 62.6q-5.9 1.1 -11.8 1.9M114.0 80.0q5.0 4.1 11.4 4.9M83.3 5.5q2.2 1.6 4.3 3.4M46.9 97.4q-1.8 4.0 2.1 5.9M7.2 40.1q11.0 -2.5 10.6 8.8M148.0 69.0q-5.4 2.5 -8.9 7.3M72.4 57.5q-2.1 2.4 -2.2 5.6M173.9 103.0q-3.6 3.6 -1.1 8.0M142.9 60.5q-3.0 6.7 -10.3 6.5M160.1 91.1q-6.0 4.0 -8.7 10.7M20.3 51.4q7.0 -2.4 10.0 4.4M41.1 68.9q0.9 6.8 6.8 10.3M94.3 75.9q0.8 2.8 2.9 4.7M92.1 96.2q-2.8 0.9 -4.0 3.6M74.8 114.0q-3.1 3.3 -4.9 7.6M73.3 76.7q6.0 3.5 8.7 9.8M64.4 29.2q0.0 6.4 -4.1 11.4M69.3 76.3q9.7 -4.5 14.0 5.4M67.5 1.3q-3.6 4.9 0.6 9.3M159.5 125.7q-2.7 3.9 -2.4 8.6M97.2 46.0q-4.7 0.5 -3.9 5.2M151.1 6.1q-8.5 -4.4 -14.6 3.1M104.2 130.1q3.1 1.7 6.7 1.5M81.8 13.1q0.9 5.1 -0.6 10.0M131.1 10.9q6.2 3.1 12.2 6.7M166.8 17.8q-2.7 3.5 -5.1 7.3M12.0 51.1q9.5 1.2 11.9 10.4M106.6 112.8q-3.1 0.5 -5.9 1.9M113.9 17.6q-7.2 9.8 4.2 14.1M69.3 44.5q-2.0 4.5 -1.6 9.3M131.0 109.8q7.9 3.8 5.8 12.3M173.5 59.0q-4.9 -1.4 -8.5 2.0M137.0 83.7q-0.6 6.4 -3.1 12.3M67.4 122.8q-3.6 3.9 -8.8 4.5M178.8 81.7q-2.4 5.1 -6.4 9.1M25.2 98.2q4.4 -3.0 6.2 2.0M134.4 29.2q-0.7 8.0 -2.2 15.8M168.7 103.7q-6.4 -3.6 -8.5 3.4M3.3 87.4q-4.1 7.6 -0.2 15.2M104.4 19.1q5.2 2.0 4.9 7.5M71.2 97.8q-4.4 0.9 -8.7 -0.6M99.3 78.1q3.6 7.0 5.3 14.6M166.9 112.5q-1.6 4.4 -1.1 9.1M3.5 15.6q-0.7 5.1 3.9 7.5M134.4 120.2q-6.5 -0.9 -9.4 5.0M101.2 18.3q2.8 2.6 5.2 5.6M51.5 88.5q3.6 3.3 2.7 8.1M82.0 66.7q2.0 2.4 4.4 4.5M45.3 52.0q5.2 -3.0 10.1 0.5M20.3 33.7q1.4 7.4 8.9 7.3M158.8 54.4q0.6 8.1 -4.3 14.6M45.4 107.1q1.5 8.1 -5.0 13.2M1.4 73.4q-4.1 3.8 -2.8 9.2M171.2 44.9q-4.6 4.4 -7.4 10.0M66.8 32.2q4.3 7.6 -1.6 14.0M68.5 0.9q-9.3 0.1 -9.8 9.4M137.3 -3.2q-6.6 5.7 -5.2 14.3M117.5 20.4q5.5 0.1 6.3 5.6M146.1 112.9q4.1 4.8 3.8 11.2M78.2 10.5q4.1 -0.6 6.7 2.6M102.7 6.9q1.4 4.7 4.6 8.5M72.7 53.8q4.3 2.4 8.9 4.1M97.6 19.0q10.2 -0.8 12.2 9.2M162.7 53.6q5.2 1.1 8.5 5.1M75.5 123.2q-4.4 4.4 -10.6 4.3M1.8 5.0q2.8 6.8 0.7 13.9M87.1 47.3q-3.8 1.6 -6.8 4.4M137.3 114.0q-1.2 4.1 0.6 8.0M75.4 124.4q5.7 -2.0 10.8 1.2M73.5 52.1q-5.1 -4.0 -8.4 1.7M132.3 116.0q4.2 3.5 9.1 1.2M43.9 78.8q-1.0 5.5 1.7 10.4M114.8 95.5q7.5 1.1 4.0 7.8M20.0 27.5q3.3 3.1 6.3 6.5M144.1 117.9q-7.0 5.5 -0.6 11.8M52.5 38.4q-0.1 7.9 -4.7 14.4M176.4 120.8q-2.5 3.6 -6.7 4.4M14.5 102.2q-6.3 -1.1 -5.9 5.3M155.8 108.6q5.0 0.7 9.9 -0.4M29.4 108.0q-5.3 -0.2 -10.3 1.6M140.9 65.9q6.7 9.8 -3.6 15.5M11.2 81.1q-0.9 3.2 -3.7 4.9M80.1 67.7q-3.9 7.0 3.6 9.9" stroke="#d81010" stroke-width="0.7" stroke-opacity="0.5" fill="none" stroke-linecap="round"/>
<path d="M0.0 0.0L12.4 3.3" stroke="#f01010" stroke-width="1.6" stroke-opacity="0.9" fill="none" stroke-linejoin="round" stroke-linecap="round"/>
<path d="M15.9 0.7L35.3 10.6" stroke="#f01010" stroke-width="1.6" stroke-opacity="0.9" fill="none" stroke-linejoin="round" stroke-linecap="round"/>
<path d="M40.6 10.6L41.8 17.2L57.4 38.3L61.8 40.9" stroke="#f01010" stroke-width="1.6" stroke-opacity="0.9" fill="none" stroke-linejoin="round" stroke-linecap="round"/>
<path d="M61.8 40.9L69.7 32.3L75.9 33.7L82.1 46.2" stroke="#f01010" stroke-width="1.6" stroke-opacity="0.9" fill="none" stroke-linejoin="round" stroke-linecap="round"/>
<path d="M45.0 18.5L51.2 9.2" stroke="#f01010" stroke-width="1.6" stroke-opacity="0.9" fill="none" stroke-linejoin="round" stroke-linecap="round"/>
<path d="M0.0 54.1L11.5 59.4" stroke="#f01010" stroke-width="1.6" stroke-opacity="0.9" fill="none" stroke-linejoin="round" stroke-linecap="round"/>
<path d="M0.0 40.9L22.9 52.8" stroke="#f01010" stroke-width="1.6" stroke-opacity="0.9" fill="none" stroke-linejoin="round" stroke-linecap="round"/>
<path d="M19.4 30.4L35.3 33.0L47.7 39.6" stroke="#f01010" stroke-width="1.6" stroke-opacity="0.9" fill="none" stroke-linejoin="round" stroke-linecap="round"/>
<path d="M17.7 26.4L28.2 37.0" stroke="#f01010" stroke-width="1.6" stroke-opacity="0.9" fill="none" stroke-linejoin="round" stroke-linecap="round"/>
<path d="M86.5 18.5L94.4 20.1" stroke="#f01010" stroke-width="1.6" stroke-opacity="0.9" fill="none" stroke-linejoin="round" stroke-linecap="round"/>
<path d="M74.1 26.4L83.0 17.2" stroke="#f01010" stroke-width="1.6" stroke-opacity="0.9" fill="none" stroke-linejoin="round" stroke-linecap="round"/>
<path d="M94.4 19.8L109.4 11.9L127.1 15.8L138.6 23.8" stroke="#f01010" stroke-width="1.6" stroke-opacity="0.9" fill="none" stroke-linejoin="round" stroke-linecap="round"/>
<path d="M150.0 34.3L157.1 48.8L139.4 50.8L150.0 34.3" stroke="#f01010" stroke-width="1.6" stroke-opacity="0.9" fill="none" stroke-linejoin="round" stroke-linecap="round"/>
<path d="M164.1 64.7L165.9 75.2L157.1 81.8" stroke="#f01010" stroke-width="1.6" stroke-opacity="0.9" fill="none" stroke-linejoin="round" stroke-linecap="round"/>
<path d="M82.1 70.6L86.5 71.9L88.2 81.8L91.1 93.7L89.5 112.2L86.5 129.4" stroke="#f01010" stroke-width="1.6" stroke-opacity="0.9" fill="none" stroke-linejoin="round" stroke-linecap="round"/>
<path d="M101.8 79.2L94.3 91.1L108.7 96.0L101.8 79.2" stroke="#f01010" stroke-width="1.6" stroke-opacity="0.9" fill="none" stroke-linejoin="round" stroke-linecap="round"/>
<path d="M114.2 110.5L123.5 87.1L134.1 68.6" stroke="#f01010" stroke-width="1.6" stroke-opacity="0.9" fill="none" stroke-linejoin="round" stroke-linecap="round"/>
<path d="M108.7 96.0L114.2 110.5" stroke="#f01010" stroke-width="1.6" stroke-opacity="0.9" fill="none" stroke-linejoin="round" stroke-linecap="round"/>
<path d="M0.0 105.6L18.7 113.5L35.3 121.4" stroke="#f01010" stroke-width="1.6" stroke-opacity="0.9" fill="none" stroke-linejoin="round" stroke-linecap="round"/>
<path d="M31.1 85.8L33.5 118.8" stroke="#f01010" stroke-width="1.6" stroke-opacity="0.9" fill="none" stroke-linejoin="round" stroke-linecap="round"/>
<path d="M123.5 116.8L143.0 122.8" stroke="#f01010" stroke-width="1.6" stroke-opacity="0.9" fill="none" stroke-linejoin="round" stroke-linecap="round"/>
<path d="M150.0 103.0L162.4 112.2" stroke="#f01010" stroke-width="1.6" stroke-opacity="0.9" fill="none" stroke-linejoin="round" stroke-linecap="round"/>
<path d="M141.2 43.6L155.3 47.5" stroke="#f01010" stroke-width="1.6" stroke-opacity="0.9" fill="none" stroke-linejoin="round" stroke-linecap="round"/>
<path d="M123.5 55.4L116.5 63.4" stroke="#f01010" stroke-width="1.6" stroke-opacity="0.9" fill="none" stroke-linejoin="round" stroke-linecap="round"/>
<ellipse cx="88.2" cy="48.8" rx="5.5" ry="4.4" stroke="#f01010" stroke-width="1.2" stroke-opacity="0.8" fill="none"/>
<ellipse cx="107.7" cy="30.4" rx="4.5" ry="3.6" stroke="#f01010" stroke-width="1.2" stroke-opacity="0.8" fill="none"/>
<ellipse cx="125.3" cy="26.4" rx="4" ry="3.2" stroke="#f01010" stroke-width="1.2" stroke-opacity="0.8" fill="none"/>
<ellipse cx="134.1" cy="40.9" rx="5" ry="4.0" stroke="#f01010" stroke-width="1.2" stroke-opacity="0.8" fill="none"/>
<ellipse cx="125.3" cy="62.0" rx="4.5" ry="3.6" stroke="#f01010" stroke-width="1.2" stroke-opacity="0.8" fill="none"/>
<ellipse cx="83.8" cy="71.3" rx="2.4" ry="1.9" stroke="#f01010" stroke-width="1.2" stroke-opacity="0.8" fill="none"/>
<circle cx="139" cy="24" r="1.6" fill="#ffb020"/><rect x="172" y="29" width="5" height="2.5" fill="#f01010"/>
</g>
<g id="r4">
<rect width="176.5" height="132.0" fill="#a00000" opacity="0.06"/>
<path d="M58.2 10.6L47.7 39.6L35.3 72.6L26.5 95.0" stroke="#d00000" stroke-width="22" stroke-opacity="0.16" fill="none" stroke-linecap="round" stroke-linejoin="round" filter="url(#bl7)"/>
<path d="M97.1 6.6L120.0 39.6L137.7 79.2L150.0 125.4" stroke="#d00000" stroke-width="30" stroke-opacity="0.14" fill="none" stroke-linecap="round" stroke-linejoin="round" filter="url(#bl7)"/>
<path d="M52.9 66.0L116.5 66.0" stroke="#d00000" stroke-width="16" stroke-opacity="0.1" fill="none" stroke-linecap="round" stroke-linejoin="round" filter="url(#bl7)"/>
<ellipse cx="59" cy="6" rx="11" ry="9" fill="#ff1010" opacity="0.95" filter="url(#bl2)"/>
<ellipse cx="62" cy="16" rx="6" ry="7" fill="#ff1010" opacity="0.6" filter="url(#bl2)"/>
<path d="M33.1 61.7q-2.3 7.9 -0.6 16.0M44.5 7.6q-0.6 6.6 -4.6 11.9M32.5 64.5q0.3 7.5 4.1 13.9M47.3 53.2q-4.5 2.3 -9.5 2.6M46.9 28.6q-2.9 6.1 -3.6 12.9M53.1 35.5q-3.1 4.2 -0.8 9.0M23.8 75.9q-2.5 7.1 -2.0 14.7M40.7 60.1q0.3 10.6 -10.2 12.2M40.1 82.3q-8.2 -2.0 -14.8 3.2M51.7 17.0q-6.3 2.5 -8.7 8.8M26.1 84.9q-6.5 4.6 -12.5 10.0M62.5 29.3q1.5 6.1 -0.4 12.1M54.9 67.9q-1.8 6.2 -8.1 4.8M50.0 26.7q-5.3 2.1 -6.0 7.7M32.9 82.8q-1.6 2.6 -4.6 3.3M44.7 40.3q-1.9 7.8 -5.8 14.8M29.7 63.8q4.1 4.6 3.7 10.7M47.1 23.2q-2.5 4.0 -1.6 8.5M24.4 83.3q1.2 2.3 2.2 4.7M22.1 57.8q0.4 7.9 5.6 13.9M65.3 35.3q-3.5 2.5 -7.3 4.3M67.8 8.8q-1.2 6.7 -1.8 13.5M51.7 86.1q0.6 3.8 -1.0 7.3M58.0 7.1q-2.2 7.4 -6.5 13.8M43.1 50.7q-1.8 7.3 -2.6 14.7M58.9 25.6q-3.0 1.1 -4.2 4.1M49.2 80.2q-0.4 4.1 -3.0 7.2M39.8 65.9q4.4 8.1 13.2 5.5M37.5 79.7q-4.4 0.6 -4.3 5.1M35.0 23.2q-2.3 5.6 -7.1 9.4M61.6 32.0q-6.2 -0.3 -11.2 3.3M57.5 28.5q-6.1 5.2 -10.6 11.7M52.0 55.4q-2.2 6.3 -5.7 12.1M66.8 12.1q-8.4 0.2 -9.9 8.5M55.2 25.4q-4.7 4.1 -9.5 8.1M57.5 36.0q-8.4 2.0 -5.0 9.9M33.1 87.8q-6.1 -0.4 -10.6 3.8M59.2 28.3q-0.9 7.9 -8.7 6.1M44.0 29.7q-2.8 7.5 -9.6 11.8M34.6 50.4q-3.2 4.5 -4.0 9.9M22.1 83.3q-2.3 6.8 -0.1 13.6M61.8 40.2q-7.5 2.1 -7.8 9.8M52.6 21.7q-6.5 4.2 -7.7 11.8M48.0 59.9q0.1 5.6 -2.8 10.3M41.2 40.0q-3.7 6.8 -1.4 14.3M22.2 80.6q-2.5 0.8 -4.2 2.8M68.5 58.0q-5.6 2.9 -4.9 9.1M41.1 79.1q-2.4 5.6 -2.6 11.7M59.4 15.8q-1.2 5.7 -0.9 11.6M80.5 30.0q-7.6 4.2 -9.3 12.6M60.7 32.9q-0.1 3.1 -2.4 5.1M46.7 47.4q1.6 4.5 -2.3 7.4M53.8 68.7q0.0 2.5 -0.6 5.0M24.9 47.1q2.3 5.4 4.4 11.0M23.3 63.1q5.5 5.5 7.5 13.0M54.5 39.8q-3.0 6.4 -10.1 6.1M51.3 16.5q-5.4 0.1 -8.6 4.5M34.9 18.2q-5.8 5.7 -13.8 7.1M37.0 70.2q-2.4 7.9 -10.3 10.2M28.4 67.1q4.4 4.0 4.1 9.9M50.9 27.8q-0.8 6.5 -0.6 13.0M66.6 8.4q-2.7 4.8 -6.8 8.4M46.4 31.2q-3.0 1.3 -3.7 4.4M48.7 79.7q-2.8 1.6 -3.9 4.7M10.1 66.5q2.1 7.5 -2.1 14.1M69.0 19.8q-7.6 2.1 -14.3 6.1M41.8 91.9q-4.0 6.3 -9.9 10.9M24.0 52.5q-0.0 3.4 1.3 6.6M68.1 29.3q-3.4 -8.5 -12.3 -6.6M47.4 17.3q8.2 2.0 11.2 9.9M18.0 77.8q-0.8 2.5 -1.8 5.0M30.3 50.0q-3.7 6.5 -9.2 11.6M45.0 56.6q2.8 5.1 -1.7 8.8M37.3 64.4q3.7 3.7 2.1 8.6M35.3 28.5q-6.6 4.2 -2.5 10.9M45.8 68.6q-5.8 4.9 -12.3 8.9M50.4 60.4q-3.9 0.6 -3.3 4.5M66.1 44.8q-2.7 4.3 -6.2 8.0M31.1 89.9q-5.4 5.4 -1.4 11.9M36.9 56.4q2.3 2.6 1.2 5.9M25.7 82.1q2.7 2.7 5.9 4.8M14.1 77.8q0.9 4.9 0.3 9.9M77.5 34.1q-4.8 4.4 -6.1 10.9M12.9 71.1q-2.2 5.8 -4.3 11.6M38.4 31.6q-4.8 0.3 -9.0 2.6M20.0 88.2q-1.7 3.9 0.2 7.8M55.9 12.3q0.7 6.1 -4.8 8.8M29.1 74.1q-2.3 5.2 -6.3 9.2M60.2 20.8q-4.5 1.7 -7.4 5.7M61.3 19.6q1.9 7.4 0.4 15.0M55.1 15.4q-2.2 3.5 -4.2 7.1M47.3 58.5q-3.2 6.0 -8.6 10.0M18.3 59.2q2.0 6.2 -1.1 11.9M54.1 17.8q-4.1 0.7 -7.5 3.2M60.9 20.2q-4.9 4.5 -4.6 11.1M64.2 8.3q-6.5 4.5 -8.4 12.1M35.6 90.3q-0.2 3.0 -0.0 6.0M52.8 29.9q1.7 4.1 -1.8 6.8M33.5 93.8q1.3 3.6 2.8 7.0M47.2 61.3q-5.8 0.3 -11.3 1.9M54.2 61.8q-2.5 1.1 -4.8 2.4M40.4 56.7q-3.1 6.5 -5.9 13.1M64.4 39.8q-5.6 -1.8 -8.5 3.3M80.2 24.6q-1.7 3.6 -2.8 7.4M24.7 48.3q-5.8 5.3 -3.0 12.6M31.0 33.7q-0.9 8.2 -6.5 14.3M57.4 44.8q-6.0 3.1 -12.3 0.7M28.3 65.6q-1.3 5.5 1.7 10.3M54.7 40.9q-3.7 5.9 -9.2 10.2M56.5 21.4q-0.7 5.7 2.9 10.1M40.1 63.4q1.3 2.7 0.7 5.7M59.5 40.0q-1.3 2.9 -3.6 5.2M51.2 65.8q-1.2 3.4 -4.8 3.6M45.6 43.2q-2.6 3.4 -4.1 7.4M47.9 27.9q-5.1 5.7 -2.6 13.0M53.3 22.3q5.8 1.4 6.1 7.3M36.8 68.4q-0.4 6.0 -6.4 6.1M71.7 25.1q-4.7 3.8 -8.6 8.5M52.2 68.7q-4.3 4.6 -1.4 10.2M30.6 29.1q-2.6 2.9 -5.1 5.9M41.7 67.2q-2.2 6.4 -8.2 9.5M65.9 35.0q-3.5 4.2 -8.9 4.9M33.0 84.1q-2.3 6.1 -8.7 7.2M62.7 16.6q3.9 6.5 -3.5 8.2M32.1 74.7q-6.0 2.9 -6.3 9.6M61.7 29.4q-8.2 -2.5 -11.6 5.3M31.6 94.2q-3.6 -0.6 -6.7 1.3M42.4 33.7q0.3 4.8 -3.4 7.8M22.9 76.0q-1.7 7.0 1.6 13.4M27.0 79.5q-0.3 3.7 -0.6 7.4M60.4 95.0q-8.2 6.3 -15.7 -0.8M58.6 39.4q-1.3 5.1 -4.1 9.5M66.1 14.0q-4.9 -6.4 -11.7 -2.1M28.2 80.7q-2.5 2.2 -5.5 3.6M37.9 71.8q1.8 5.9 -2.8 10.0M50.2 64.6q-1.2 2.5 -1.4 5.3M67.2 17.4q0.8 10.3 -9.4 11.8M37.4 60.9q6.5 7.4 -0.3 14.4M56.3 72.5q-1.5 3.6 -3.0 7.1M50.0 21.6q-3.2 2.9 -5.1 6.8M24.7 59.0q-0.1 6.6 -3.6 12.3M35.2 65.6q3.5 6.6 3.0 14.0M29.4 86.4q0.0 5.2 -4.2 8.1M55.1 34.6q-2.5 2.3 -1.9 5.7M25.1 40.2q1.3 6.8 5.2 12.5M47.2 14.9q-1.5 2.5 -2.2 5.3M42.2 70.8q-4.9 1.8 -9.9 3.3M31.8 42.4q-4.3 3.6 -5.3 9.1M62.9 27.0q-6.6 5.5 -6.1 14.1M46.2 18.9q-6.8 -0.8 -13.3 1.7M39.8 37.7q-2.7 4.4 -0.5 9.1M40.6 88.6q-4.2 8.2 2.0 15.0M54.8 74.8q-7.2 -3.4 -13.9 0.8M26.3 89.0q-0.1 3.6 -3.6 4.6M36.8 77.8q3.1 12.5 -9.3 9.2M28.9 76.6q-2.0 2.9 -3.5 6.0M59.5 15.6q-1.8 1.9 -4.1 3.2M60.0 41.7q3.2 7.2 6.8 14.3M34.0 71.5q-5.3 -1.2 -7.4 3.8M61.5 52.4q-6.5 3.4 -13.7 3.0M44.9 32.8q5.4 7.3 -0.6 14.1M31.0 40.5q-2.9 3.7 -2.5 8.4M42.3 81.0q-3.9 6.8 -7.3 13.8M47.6 52.9q-1.7 1.9 -4.0 3.1M37.9 54.2q5.9 3.2 7.3 9.7M52.4 19.6q-3.7 0.5 -5.7 -2.6M48.1 12.9q-1.3 6.8 -5.8 12.0M37.8 42.2q3.4 4.7 2.1 10.3M60.7 47.1q-5.0 1.5 -5.0 6.7M30.9 80.7q4.3 -1.2 4.0 3.3M69.5 38.0q-0.6 5.0 0.9 9.8M18.2 84.6q-3.5 4.8 -6.9 9.7M52.8 18.0q-0.5 6.6 -3.6 12.3M23.9 54.9q1.5 7.6 3.1 15.2M46.6 42.7q-3.1 5.1 -5.0 10.8M43.8 23.3q-6.1 2.2 -9.3 7.8M27.1 32.2q1.6 6.3 -1.1 12.2M68.6 48.4q-4.5 6.3 -10.7 11.0M32.3 78.5q-0.2 6.3 -4.6 10.7M47.0 6.6q1.1 6.8 5.4 12.2M41.2 53.4q1.5 7.6 3.8 14.9M38.3 34.8q-1.2 3.1 -4.2 4.7M38.7 66.3q-2.4 7.8 1.1 15.1M33.1 82.3q-1.5 4.4 -6.0 5.7M57.4 7.4q-1.6 7.8 -0.7 15.6M49.7 5.6q-1.6 7.1 1.9 13.5M50.5 16.3q-3.6 6.8 -8.8 12.4M23.6 82.9q-1.9 7.0 -8.5 10.1M57.0 44.3q-2.1 4.6 1.7 7.9M33.8 64.0q-2.0 5.0 -5.4 9.2M46.3 50.8q-5.5 2.1 -9.7 6.3M59.4 23.1q-3.9 3.0 -8.5 4.9M25.3 70.2q1.8 8.6 -3.7 15.4M39.2 68.7q2.0 2.3 3.1 5.2M36.4 74.5q-2.6 6.0 -9.0 7.6M60.1 24.9q-3.7 4.6 -0.9 9.7M62.6 16.1q-6.8 -0.4 -9.8 5.7M33.4 83.6q-1.1 2.5 -3.0 4.4M47.6 84.4q-8.6 2.6 -11.2 11.2M33.2 69.0q-1.2 4.5 2.1 7.7M34.9 78.0q-0.3 5.9 -1.9 11.5M26.5 83.8q-4.9 1.3 -6.8 6.0M53.0 56.0q-4.5 4.7 -6.1 11.0M30.4 49.8q-3.0 6.0 -3.4 12.8M22.7 51.8q-0.5 3.7 1.9 6.5M44.4 47.0q-4.3 6.1 -0.7 12.7M54.5 32.3q-4.4 3.1 -9.7 4.1M33.0 87.0q-1.8 3.7 -4.7 6.7M56.6 10.1q1.8 4.6 -2.8 6.5M57.2 57.1q-4.0 -0.6 -5.7 3.2M49.6 64.6q-3.3 1.4 -4.0 5.0M26.8 57.9q0.3 6.7 2.2 13.0M35.3 41.9q0.0 2.9 1.6 5.3M50.0 2.2q7.8 5.5 3.1 13.8M58.2 59.6q0.2 4.5 2.0 8.6M59.4 11.9q2.2 4.0 -1.7 6.5M29.5 30.3q8.9 1.5 10.9 10.4M35.8 84.2q-4.4 5.9 -9.9 10.8M35.6 86.9q-0.7 4.8 -1.5 9.6M63.4 51.5q-2.5 2.8 -4.5 6.0M58.4 35.8q-2.9 4.0 -7.1 6.3M46.8 0.9q-4.1 7.8 2.3 14.0M70.6 17.5q1.0 3.3 -1.3 5.8M46.8 23.0q-2.3 4.7 -3.6 9.8M44.2 53.3q-5.5 -0.5 -8.6 4.1M21.7 76.7q7.6 3.4 4.7 11.2M48.1 16.2q-1.3 3.6 -1.1 7.5M35.0 38.1q-1.8 2.8 -2.1 6.1M48.7 35.6q0.2 5.7 -4.7 8.5M38.6 85.0q-5.9 1.1 -7.0 7.0M46.1 36.7q-2.1 2.1 -2.8 4.9M25.6 52.8q-7.4 1.2 -10.0 8.3M53.7 61.5q-5.4 5.4 -11.2 0.5M20.2 63.0q1.8 9.0 -5.2 15.0M50.8 37.4q-5.2 4.8 -7.6 11.5M38.7 85.5q-2.3 7.1 -4.1 14.2M45.1 7.6q2.6 6.0 -1.5 11.1M26.3 90.5q1.5 4.7 -2.7 7.4M42.1 26.8q3.6 2.8 0.3 6.0M52.8 6.0q-2.6 4.4 -6.8 7.3M53.3 58.6q-2.2 5.1 -3.4 10.5M26.1 90.4q-4.1 -1.5 -7.5 1.1M50.7 29.8q5.3 5.8 5.5 13.7M43.2 4.3q1.6 5.9 3.3 11.9M31.7 77.4q-0.5 4.2 -1.7 8.4M63.3 32.6q-4.3 4.6 -10.4 3.0M36.1 46.6q2.4 4.8 2.7 10.2M24.0 74.6q5.0 4.8 5.3 11.7M55.2 22.3q1.8 4.5 -2.4 7.1M46.3 78.0q-1.4 5.0 -4.6 9.1M60.2 63.5q-4.8 -0.1 -8.3 3.3M50.9 58.5q2.0 7.5 5.1 14.6M43.4 29.8q-1.5 4.3 -4.7 7.6M36.0 56.9q-4.4 1.3 -4.6 6.0M40.6 14.6q6.1 3.9 10.9 9.5M54.1 56.7q-1.3 4.2 -4.6 7.1M34.0 94.4q-1.8 3.7 -5.9 4.3M39.0 39.6q-4.9 9.2 3.5 15.2M32.0 64.8q-6.6 0.0 -12.9 -1.9M62.9 32.2q-2.9 3.6 -6.9 6.0" stroke="#ee1212" stroke-width="0.8" stroke-opacity="0.55" fill="none" stroke-linecap="round"/>
<path d="M54.8 29.4q0.6 2.9 1.7 5.6M60.4 28.5q-2.1 4.7 -2.9 9.8M61.6 85.0q2.7 5.1 -0.2 10.1M55.9 98.9q5.0 0.9 7.7 5.3M65.7 69.1q0.9 8.7 8.1 13.8M56.2 56.9q3.9 7.6 -3.5 11.8M59.2 26.1q1.7 3.3 -0.5 6.4M54.7 126.1q2.9 0.5 4.1 3.1M59.7 48.8q0.7 2.8 0.5 5.6M70.1 15.5q-5.4 3.2 -8.4 8.7M63.0 97.7q-8.3 4.7 -7.0 14.1M57.9 84.9q-2.4 6.9 -0.2 13.8M44.6 62.5q4.6 6.2 8.9 12.6M54.5 117.4q-1.4 3.5 -3.4 6.7M67.3 54.2q-1.8 6.4 -6.3 11.4M58.4 65.8q1.8 6.7 -5.1 7.8M60.5 46.3q4.1 2.0 5.7 6.3M50.7 18.3q4.3 6.7 0.2 13.4M57.2 80.2q0.9 2.4 0.9 5.0M73.7 11.4q-0.4 7.1 -1.7 14.1M60.3 96.8q-1.0 7.4 3.9 13.0M59.0 112.8q-0.8 2.6 -2.4 4.7M56.0 59.5q-0.7 7.0 -4.7 12.7M56.7 68.9q0.9 5.0 3.3 9.5M59.2 73.3q0.5 3.4 2.7 6.1M70.6 120.7q-7.0 4.3 -10.3 11.8M70.6 25.0q-0.2 5.0 -4.2 8.0M56.2 50.1q2.6 4.6 -0.2 9.2M59.2 105.8q0.6 4.5 -3.7 5.8M63.7 49.2q-2.4 7.6 -4.9 15.2M63.3 115.9q0.4 8.7 -8.3 9.5M53.2 112.6q-3.2 8.6 4.9 13.0M52.9 93.7q2.1 2.2 1.4 5.1M53.0 59.0q6.1 3.7 12.4 7.0M58.4 77.7q3.6 6.5 4.7 13.9M57.0 81.3q-2.4 2.9 -4.4 6.2M59.2 95.5q2.2 3.1 3.1 6.8M53.9 78.6q5.0 4.4 2.7 10.6M52.2 95.6q2.3 4.0 2.1 8.6M72.0 24.0q-1.6 5.5 -7.3 6.2M70.8 16.2q-0.7 7.8 -8.4 6.2M60.1 120.8q2.6 6.9 9.3 10.2M53.7 116.6q6.3 5.3 0.6 11.2M52.3 60.2q5.3 0.5 9.4 3.8M53.9 76.2q0.8 7.2 -2.4 13.7M61.6 10.5q-0.4 7.1 3.6 12.9M66.3 40.4q-0.9 5.9 0.7 11.7M67.3 21.0q-4.4 0.2 -7.2 3.7M60.9 29.7q-5.2 6.3 -5.8 14.4M62.8 90.7q-2.3 6.3 -3.0 13.0M70.1 71.3q-4.2 1.6 -5.0 6.0M63.4 16.9q0.6 4.1 -1.7 7.6M68.4 27.0q-3.6 6.2 1.2 11.5M73.8 27.9q-1.3 2.8 -2.6 5.5M55.8 102.4q1.0 4.3 3.4 8.0M66.5 102.7q1.7 2.4 1.3 5.4M65.9 121.0q-1.9 5.8 -2.2 11.9M56.0 48.6q-2.4 7.8 0.1 15.5M61.8 77.6q1.0 3.0 0.8 6.1M80.4 18.7q-2.8 5.7 -9.0 7.0M66.6 38.4q-4.3 3.4 -9.2 5.8M58.0 98.5q-1.4 8.2 -7.3 14.1M63.5 76.2q5.8 3.9 2.5 10.0M50.9 78.6q3.0 3.4 5.1 7.4M58.8 72.9q3.6 4.1 6.2 8.9M59.9 121.6q3.6 1.8 2.2 5.5M56.3 113.0q7.4 2.0 8.7 9.6M56.1 70.9q2.8 3.6 7.0 5.3M65.2 14.6q-3.2 6.1 -3.5 13.0M55.7 100.6q5.3 6.2 1.2 13.2M51.9 75.5q2.5 3.0 1.6 6.8M63.6 47.0q0.5 8.2 -6.0 13.3M72.1 34.6q-1.2 11.6 -12.7 9.4M55.7 97.9q3.6 3.9 5.3 8.9M67.0 18.2q-1.5 2.9 -0.2 5.9M66.8 90.2q-2.3 5.7 -5.2 11.2M53.6 59.9q-2.2 4.1 0.1 8.2M53.5 42.5q-0.6 7.1 -5.8 12.1M60.0 43.4q8.4 3.3 4.0 11.2M65.1 15.7q-3.8 5.0 -0.4 10.4M69.4 30.3q2.1 2.9 -0.4 5.5M60.3 29.9q-0.6 5.1 -3.0 9.7M60.6 75.6q-4.0 4.6 -8.0 9.3M56.1 110.4q2.3 7.5 5.0 14.9M69.3 16.3q-2.8 2.4 -2.9 6.0M70.7 16.9q0.9 3.8 -2.2 6.1M56.7 120.5q2.5 5.5 5.4 10.8M62.3 64.0q-1.6 4.6 3.1 6.2M65.3 116.6q0.0 8.2 -4.1 15.2M50.1 60.2q3.1 1.8 2.6 5.3M68.5 37.4q-3.3 7.1 -8.9 12.7M52.4 89.1q2.0 2.7 1.5 5.9M70.2 123.2q-2.7 3.6 0.3 6.9M63.6 80.8q-7.9 2.0 -13.3 8.0M51.3 68.5q0.1 7.5 6.9 10.7M41.7 88.7q-0.4 4.0 -1.2 7.9M59.2 32.4q-1.4 4.6 3.4 4.5M60.3 114.6q-1.2 7.8 -3.5 15.3M57.6 52.5q-5.4 5.9 -6.2 13.9M51.8 62.1q-0.1 4.5 -0.8 9.0M50.3 62.8q0.9 7.8 -3.0 14.5M59.1 66.0q4.2 5.2 1.1 11.1M58.2 68.4q3.8 7.2 2.4 15.3M59.9 59.6q-1.1 4.7 2.4 8.0M63.8 79.5q2.5 6.9 2.5 14.2M64.5 94.4q0.2 4.9 -2.6 8.9M57.6 43.1q-2.3 2.1 -2.4 5.3M59.1 44.3q2.3 5.0 3.4 10.4M63.4 11.0q-1.0 5.0 -4.9 8.2M66.5 117.8q0.3 8.4 -7.8 10.3M73.4 15.3q-1.8 6.7 -6.2 12.2M64.4 18.4q-5.5 2.9 -8.8 8.2M67.4 43.5q2.6 3.6 0.1 7.2M60.2 69.6q-0.0 4.7 -0.3 9.3M66.9 36.6q-3.5 4.7 -2.5 10.4M67.7 22.9q-2.1 7.9 -9.2 11.8M62.6 121.5q1.6 4.6 3.8 8.9M58.6 48.2q0.4 3.1 -1.3 5.7M66.8 35.6q-2.3 2.1 -2.0 5.2M68.7 44.5q-0.7 8.3 -9.0 7.8M51.5 69.0q1.8 3.3 -0.2 6.5M65.4 73.9q-8.6 0.3 -10.4 8.7M63.0 43.0q-0.2 5.2 -3.6 9.0M65.0 23.3q1.5 2.4 2.9 4.8M62.4 106.6q-0.0 3.9 3.5 5.5M56.0 67.0q0.1 7.0 4.6 12.2M61.9 98.8q2.1 5.9 -0.6 11.6M64.8 54.5q0.7 5.3 -0.3 10.6M65.0 20.3q-3.8 5.0 -5.6 10.9M57.0 113.1q2.6 1.8 5.8 1.3" stroke="#e81010" stroke-width="0.8" stroke-opacity="0.5" fill="none" stroke-linecap="round"/>
<path d="M79.7 76.6q3.4 -3.3 0.1 -6.7M69.6 68.3q-2.8 -3.8 -0.1 -7.6M93.8 69.0q0.8 2.3 2.9 3.4M87.3 53.4q3.7 1.9 7.3 3.8M104.8 73.8q-2.3 -1.1 -4.6 -2.2M58.5 83.0q2.6 -0.3 5.1 -0.2M107.7 55.0q0.9 3.7 4.7 4.4M109.6 61.7q1.5 4.9 6.6 5.3M91.5 61.0q-4.1 0.7 -7.0 3.6M98.2 68.7q1.6 -2.8 3.5 -5.4M92.1 61.4q-2.9 -3.1 -6.6 -5.1M79.1 66.8q-2.4 -1.9 -0.7 -4.6M85.9 57.8q-3.2 1.5 -6.6 2.1M58.2 52.0q4.2 2.4 4.6 7.2M52.9 67.3q0.9 -2.1 3.1 -2.3M112.5 72.6q1.7 1.8 2.5 4.1M113.3 87.9q0.7 -2.8 3.2 -4.3M95.3 68.6q3.0 1.3 5.9 -0.1M84.3 69.6q-1.1 2.9 -2.1 5.7M68.4 74.4q1.9 -2.6 2.3 -5.8M54.5 66.2q3.8 -0.5 7.5 -1.0M98.1 66.4q-2.2 -2.2 -2.1 -5.4M92.6 76.1q3.1 -2.4 5.0 -5.8M98.1 62.2q2.5 -3.4 6.7 -3.9M83.0 65.8q0.5 1.5 1.7 2.5M88.6 74.2q-1.8 0.7 -3.6 1.3M51.3 69.9q1.9 -1.0 3.2 -2.6M81.1 58.4q-0.3 2.4 2.2 2.7M110.7 63.8q3.4 -0.7 6.8 0.4M95.0 64.2q0.7 -4.4 0.7 -8.9M67.0 75.6q-0.6 3.5 1.6 6.4M69.3 65.4q2.8 0.8 5.6 1.1M86.7 71.9q2.9 2.3 6.1 4.1M89.0 56.1q-1.5 1.9 -2.0 4.2M88.4 56.6q2.6 2.4 5.6 4.4M92.3 72.5q3.1 3.6 7.7 4.2M112.9 80.3q-1.1 1.9 -0.1 3.9M115.1 77.7q5.2 -3.1 2.7 -8.6M80.2 63.3q1.9 -0.8 3.7 -1.7M80.3 84.3q0.1 -2.6 1.4 -4.8M85.8 65.5q1.0 1.4 2.7 1.8M67.5 62.0q3.2 -0.9 6.4 -1.3M86.0 59.1q6.3 -0.5 5.9 -6.8M77.7 70.3q1.8 -3.9 3.5 -7.7M104.6 54.1q0.2 2.5 -2.0 3.5M118.4 68.9q-2.7 0.5 -5.4 0.0M69.5 66.9q2.1 1.7 4.9 1.9M104.7 72.7q2.5 1.2 1.3 3.8M78.0 72.7q-0.2 -3.8 -0.4 -7.5M102.1 40.4q-0.2 -2.6 0.1 -5.2M86.0 70.3q-0.3 -4.3 -2.6 -7.9M103.6 63.8q2.6 -2.1 5.2 -4.1M61.4 83.7q4.0 -1.5 6.3 -5.1M105.5 51.6q2.2 3.6 1.6 7.7M102.3 75.0q-2.3 -3.0 -2.0 -6.8M53.7 53.5q1.9 3.0 1.4 6.5M72.5 84.7q1.5 -4.5 6.1 -5.0M55.1 69.9q2.9 0.7 5.7 1.6M68.3 59.8q2.6 0.9 5.2 0.2M92.8 58.7q1.8 1.3 4.0 2.1M77.0 62.0q2.3 0.8 4.6 0.1M116.3 70.0q-3.4 -0.5 -6.6 -1.9M71.9 63.3q-3.8 0.4 -7.5 -0.2M116.8 74.0q-3.3 0.1 -6.2 -1.6M61.1 65.2q-1.8 1.9 -2.5 4.5M71.0 63.4q0.9 2.2 1.0 4.6M91.9 72.3q2.4 -1.6 4.0 -4.0M76.1 56.5q3.8 -2.1 7.9 -3.6M96.2 78.9q-3.7 -5.9 2.8 -8.5M71.8 60.6q3.4 1.0 6.5 2.5M114.5 55.1q-2.1 -0.8 -4.3 -0.4M111.6 80.6q2.8 2.9 5.6 5.9M80.0 53.0q-0.4 1.5 -1.2 2.8M92.1 73.2q-1.4 3.2 -1.8 6.7M92.7 52.8q4.7 1.3 3.5 6.0M86.9 58.6q2.6 0.5 4.4 -1.4M66.8 61.9q-2.0 0.1 -3.1 1.8M84.7 68.3q-2.2 -3.3 -2.6 -7.2M84.7 62.5q-2.7 5.1 -6.8 1.0M101.1 66.2q1.9 2.7 4.1 5.1M92.6 72.3q1.8 0.9 3.6 1.7M75.2 74.4q-3.5 -2.3 -4.8 -6.3M111.5 79.0q1.3 -2.2 1.3 -4.8M90.0 70.5q-2.7 -0.4 -4.4 -2.5M89.9 53.6q1.1 2.3 2.4 4.6M79.4 73.6q3.4 -1.1 6.6 -2.7M97.3 60.3q1.0 1.4 1.0 3.1M76.9 77.4q2.2 2.4 5.5 2.2M99.8 62.7q3.9 -0.5 6.2 2.6M84.1 80.6q-0.1 -4.0 1.0 -7.8M61.8 55.3q2.2 -0.0 2.9 2.1M88.2 79.8q1.7 -4.3 5.8 -6.5M111.4 63.7q-2.2 -2.6 -0.9 -5.8M112.4 64.7q1.5 -3.7 5.4 -4.2M58.8 67.0q1.1 -1.8 1.3 -3.9M88.5 70.0q1.7 -3.0 2.1 -6.4M79.4 78.5q1.6 1.4 2.7 3.3M100.9 73.6q3.3 0.4 4.4 3.5M86.9 65.4q1.4 -2.3 2.3 -4.7M112.3 50.2q0.4 3.5 3.8 4.5M99.9 84.2q2.9 -1.6 5.9 -0.1M106.7 62.3q-0.2 2.3 -0.4 4.7M116.9 60.2q-2.6 3.9 -7.1 5.2M100.4 80.3q3.2 2.5 5.7 5.6M115.0 80.2q-0.4 2.0 -2.1 3.2M64.4 77.0q1.9 -0.3 2.7 -2.0M68.8 64.3q-1.4 1.7 -2.2 3.8M79.7 60.3q3.8 4.9 -0.9 8.9M65.7 69.4q2.6 3.5 6.9 4.7M78.9 77.1q-0.2 -3.1 -2.5 -5.3M81.4 68.4q4.5 0.4 8.9 0.4M109.6 69.9q2.0 -3.0 5.5 -3.8M65.1 61.1q1.1 3.5 2.1 7.0M112.5 53.3q-2.0 3.2 -3.5 6.7M93.7 56.3q6.2 -1.5 4.5 -7.7M56.7 64.0q2.1 2.9 4.4 5.5M104.3 70.1q-2.8 -2.8 -2.8 -6.7M71.6 56.1q-3.9 -1.1 -7.6 -2.9M62.5 76.3q-2.6 -0.2 -4.5 -1.9M64.3 61.5q1.8 2.3 2.2 5.1M111.5 65.3q0.7 -1.8 2.6 -2.1M109.4 66.7q3.7 1.2 6.2 -1.7M95.8 63.0q-2.3 -1.3 -1.8 -3.9M118.0 70.7q-3.1 -1.9 -3.7 -5.4M96.8 76.6q0.4 2.8 -0.2 5.5M80.0 81.5q2.7 -1.7 4.3 -4.5M105.6 72.0q-0.8 2.4 -2.9 3.9M102.2 67.5q2.4 -0.2 4.4 -1.7M96.4 66.7q6.4 1.6 6.8 -5.1M67.9 75.0q1.8 -2.0 3.6 -4.1M58.8 50.2q3.8 0.3 4.3 4.1M90.4 55.5q2.0 0.8 2.9 2.7M59.5 66.6q1.6 -0.2 3.2 0.1M104.4 78.9q1.4 -1.5 1.9 -3.5M103.7 67.8q2.3 1.7 4.9 0.6M62.0 76.6q1.6 1.4 3.7 1.1M86.1 85.1q3.8 -2.2 7.8 -0.3M111.3 61.4q2.6 2.3 4.3 5.3M104.0 63.1q-2.0 3.0 0.2 5.9M61.3 68.0q-0.0 2.1 -0.3 4.1M108.7 56.9q-1.5 -2.4 -1.5 -5.2M86.0 53.8q0.9 2.0 -0.3 3.8M57.9 67.2q0.3 -2.9 -2.6 -2.3M96.6 69.5q1.9 -0.7 3.1 0.8M100.9 68.3q-2.3 -3.4 -6.5 -3.3M110.3 72.6q3.5 -2.3 5.6 -6.0M70.0 82.1q3.7 -2.5 2.5 -6.8M87.3 67.7q3.3 0.6 5.0 -2.2M57.3 75.9q1.8 0.6 3.1 2.1M68.7 69.7q1.0 2.4 3.6 1.9M110.1 63.0q-4.3 -0.2 -3.4 -4.4M96.4 78.9q2.2 -0.7 4.4 -1.2M100.8 63.7q0.9 -3.5 -1.0 -6.5M109.5 53.3q-1.3 1.7 -3.2 2.6M80.5 67.1q3.0 -0.1 3.3 2.9M59.5 72.1q4.4 1.1 8.6 -0.5M110.2 57.9q-4.2 2.0 -8.7 0.8M88.8 59.6q2.7 3.1 -0.4 5.7M53.9 70.9q2.7 -1.3 1.2 -3.9M69.4 53.3q2.8 0.1 5.3 1.1M57.8 78.5q2.5 -2.2 5.9 -2.7M85.5 47.2q1.6 2.6 4.5 3.4M92.9 68.2q2.1 1.7 4.1 3.5M88.7 51.6q-0.4 2.8 -2.0 5.1M69.6 68.9q2.3 -1.7 4.7 -0.3M65.9 69.4q1.7 1.1 2.9 2.8M61.1 67.7q2.6 2.5 6.2 3.2M85.3 64.1q2.1 3.7 -1.3 6.3M105.4 63.0q0.6 3.1 -0.7 6.0M56.4 48.7q2.7 1.5 4.1 4.3M118.7 99.8q-1.6 -4.6 -6.4 -5.3M75.9 71.2q-1.8 3.4 -5.5 2.3M91.3 56.8q1.0 -1.6 -0.0 -3.2M70.3 70.0q-0.7 -2.3 -2.3 -4.2M112.1 77.6q4.5 1.6 7.3 -2.4M68.0 61.9q3.2 -2.8 2.0 -6.9M59.4 69.3q-0.1 1.6 -0.0 3.2M77.5 56.2q1.8 2.7 4.5 4.5M105.1 63.0q0.1 -4.1 4.2 -3.6M59.0 72.0q-1.3 -2.6 1.4 -3.7M65.8 60.3q-2.5 2.8 -3.1 6.6M74.3 72.5q0.4 -3.1 3.3 -4.2M79.3 72.0q-2.2 0.1 -3.1 2.2M107.0 55.6q-0.2 5.7 5.5 5.7M101.5 71.2q-0.8 -2.1 0.3 -4.0M104.1 60.7q3.6 1.0 6.4 3.3M90.7 58.1q-1.1 -1.7 -2.2 -3.4M91.1 61.7q-4.4 0.9 -5.3 5.2M102.1 62.5q-2.3 -1.1 -4.7 -0.2M77.2 60.1q-0.9 4.8 3.0 7.7M87.0 77.8q4.0 1.2 7.7 3.1M67.4 88.3q2.5 0.0 4.7 1.0M62.5 55.0q-1.7 -1.5 -0.0 -3.1M58.1 52.6q2.5 -0.8 4.0 -3.0M92.7 95.0q0.0 -2.9 -2.7 -4.1M54.2 80.6q-0.9 -2.0 -1.1 -4.2M57.6 66.2q-4.0 -0.3 -7.7 1.3M81.5 65.2q0.1 -2.0 -0.6 -4.0M87.1 63.7q-2.4 -4.0 -7.1 -3.3M85.2 54.4q2.1 0.8 4.4 1.0" stroke="#e81010" stroke-width="0.8" stroke-opacity="0.55" fill="none" stroke-linecap="round"/>
<path d="M107.6 71.3q4.4 3.0 5.6 8.2M147.8 77.2q7.7 4.1 10.5 12.5M140.2 116.0q0.8 6.9 4.3 12.9M140.4 67.1q9.3 1.7 10.9 11.1M142.7 53.7q5.4 6.3 6.8 14.4M143.6 10.4q-1.4 4.2 1.4 7.6M134.7 15.6q7.7 1.5 13.3 6.9M96.3 12.7q-2.2 7.7 -5.2 15.0M78.4 37.3q4.9 7.1 13.5 8.2M114.4 66.9q13.6 2.2 7.9 14.7M116.6 19.1q3.6 3.1 3.1 7.9M127.6 12.0q6.7 0.8 5.7 7.5M140.6 65.6q0.4 4.1 3.0 7.3M131.9 95.8q1.1 7.7 1.3 15.4M158.4 94.4q7.7 0.5 8.7 8.1M129.4 69.7q4.5 4.4 8.9 9.0M149.0 88.0q3.9 2.4 6.0 6.5M82.9 8.4q3.1 9.5 12.9 11.4M85.2 12.6q-0.2 4.6 3.7 7.0M129.5 79.5q3.6 6.6 -2.2 11.5M107.4 34.7q1.7 4.9 0.0 9.9M111.6 36.4q9.2 -0.2 13.3 8.1M138.3 63.4q3.0 9.5 12.6 12.3M91.4 9.5q6.8 -4.3 13.0 0.7M122.3 47.6q4.0 1.4 4.5 5.6M90.7 21.8q4.6 0.7 5.9 5.2M107.6 27.5q4.1 2.0 1.5 5.8M129.8 89.8q3.0 2.8 7.1 2.8M148.0 78.8q8.7 4.4 8.5 14.1M140.4 61.5q7.6 2.5 12.2 9.1M148.8 72.8q-5.7 7.2 2.1 12.1M106.2 33.2q1.5 6.5 1.6 13.1M113.7 -11.4q5.1 7.3 8.5 15.5M128.5 67.5q1.8 2.0 3.2 4.3M124.4 52.2q6.0 6.5 11.6 13.3M121.1 38.2q7.3 2.2 7.7 9.8M140.8 78.2q0.4 2.9 1.9 5.3M120.3 36.5q-4.1 9.0 3.4 15.5M146.5 97.9q0.6 4.0 3.6 6.7M135.6 71.5q0.8 8.6 3.8 16.7M126.6 58.7q6.7 4.7 12.3 10.6M141.1 106.1q6.1 5.7 6.8 14.1M116.5 11.1q5.3 5.6 0.8 11.8M93.2 0.3q6.2 6.5 10.0 14.6M118.6 38.5q5.1 7.3 14.0 7.4M130.5 72.2q1.2 3.6 -0.3 7.1M120.5 35.1q2.0 3.9 1.5 8.2M104.7 36.5q1.7 6.0 4.9 11.3M122.5 82.8q-2.5 2.6 -1.4 6.1M120.7 27.5q-2.6 7.8 1.4 15.0M130.5 118.0q3.4 2.1 3.6 6.0M133.2 72.9q-1.3 7.3 1.6 14.2M122.6 20.6q2.0 7.0 0.9 14.3M102.5 53.7q5.6 5.5 12.6 9.3M116.9 22.8q2.6 6.7 8.7 10.5M134.4 98.4q-0.0 4.0 1.0 7.8M98.7 15.1q6.1 5.3 11.3 11.4M129.3 13.5q-8.9 5.6 -4.9 15.3M137.8 88.1q0.6 8.1 6.2 14.0M131.7 65.2q2.7 5.0 7.0 8.9M119.3 22.4q2.9 5.2 7.1 9.4M131.0 85.0q-0.5 6.7 0.0 13.5M135.8 116.0q-0.3 9.1 8.3 12.3M132.2 33.9q3.1 6.6 8.1 11.9M130.4 122.1q-2.9 4.1 -0.4 8.5M126.2 18.5q3.1 5.9 0.6 12.2M134.9 54.2q3.6 4.3 3.6 9.9M140.5 110.2q5.1 8.8 -1.4 16.6M102.5 36.3q5.5 4.3 12.5 5.3M151.9 117.4q4.2 5.1 6.2 11.4M105.3 -5.7q2.5 9.0 11.8 9.0M142.7 118.1q4.1 7.7 -2.7 13.2M148.8 69.2q3.7 1.0 4.0 4.8M118.4 65.8q3.4 1.5 5.4 4.6M135.5 101.6q6.1 8.1 16.1 7.1M136.6 90.7q0.7 3.7 0.2 7.5M156.4 102.4q2.6 4.6 0.6 9.5M111.0 7.6q2.5 6.0 5.4 11.8M118.7 58.6q-0.2 6.0 4.8 9.4M124.4 39.9q2.0 8.0 9.5 11.4M99.9 12.3q-0.2 6.2 3.9 10.8M120.9 50.0q-0.8 5.6 4.2 8.2M80.5 19.5q7.7 -1.1 14.6 2.7M121.3 62.0q-0.2 3.7 2.4 6.4M102.2 28.6q1.0 9.5 10.5 8.2M102.5 2.7q6.0 -1.4 8.2 4.4M130.3 89.4q0.7 6.3 4.3 11.6M121.9 -5.4q1.3 7.7 3.8 15.1M99.7 16.9q1.0 4.6 2.7 8.9M139.9 101.2q-0.3 3.4 -2.6 6.0M135.0 44.3q12.8 4.9 5.4 16.4M143.8 100.1q-2.4 4.9 -3.2 10.4M83.9 40.9q5.3 3.3 11.5 4.5M89.0 16.6q1.9 3.4 1.4 7.2M136.7 101.5q0.4 7.3 6.6 11.3M128.2 64.0q5.4 5.7 7.0 13.3M122.4 48.2q4.9 3.5 8.6 8.3M120.2 62.1q2.0 6.6 8.6 8.8M89.6 39.2q-3.3 8.4 4.4 13.1M114.0 15.8q7.8 -3.7 13.0 3.1M121.2 54.8q1.8 2.5 4.5 4.1M146.4 82.1q7.3 1.8 13.4 6.1M129.6 86.1q-1.3 8.3 6.0 12.6M105.1 37.9q-6.5 11.3 5.5 16.4M143.7 44.3q4.1 5.0 3.2 11.4M144.4 84.5q0.9 5.2 5.7 3.1M127.0 92.2q3.4 5.6 6.0 11.6M133.2 79.5q2.0 3.8 2.6 8.1M149.9 94.3q4.3 6.7 2.7 14.5M141.2 102.0q5.7 6.1 7.4 14.2M144.8 96.4q7.7 4.8 4.1 13.1M129.9 82.3q1.6 5.0 5.8 8.2M122.2 29.9q-3.5 6.8 0.8 13.1M134.6 37.3q0.3 8.9 0.4 17.8M139.7 18.9q-4.2 6.6 2.2 11.1M117.4 23.5q1.7 8.0 9.0 11.4M150.9 98.1q3.0 7.4 -1.5 14.0M95.6 19.9q6.0 2.0 9.8 7.1M148.9 85.8q3.5 3.9 2.4 9.1M130.9 55.0q3.3 8.4 10.7 13.4M169.5 105.8q0.9 8.5 -2.8 16.3M117.3 2.9q-0.4 6.1 0.8 12.0M107.5 64.4q1.4 3.7 0.1 7.5M108.3 51.3q1.2 7.9 8.6 10.9M114.5 14.0q4.0 4.8 5.6 10.9M143.7 119.4q4.5 3.8 4.2 9.7M130.9 55.8q1.8 4.3 3.3 8.7M161.9 93.9q4.2 0.6 5.4 4.6M120.0 65.6q4.4 5.2 7.3 11.3M147.7 110.9q1.9 8.7 -1.7 16.8M136.4 31.6q0.9 4.0 -1.7 7.2M143.7 76.9q-3.5 4.5 -0.6 9.3M115.2 -6.8q2.4 2.8 0.6 6.0M123.8 42.5q-1.4 8.0 -1.6 16.0M87.3 25.2q7.9 6.1 17.5 3.3M119.5 66.3q-0.5 3.9 -0.6 7.8M145.7 65.3q0.3 4.2 3.8 6.7M145.0 93.0q-3.4 2.2 -1.1 5.5M136.6 101.6q-2.1 3.1 -0.8 6.6M92.2 23.5q5.3 6.1 9.1 13.3M137.7 108.1q2.5 3.9 6.0 6.9M114.4 26.6q3.3 1.3 6.6 2.6M147.7 81.8q-0.1 3.4 -0.9 6.7M112.1 59.3q3.1 0.9 4.8 3.6M164.7 77.4q2.7 5.3 7.9 8.4M137.3 75.3q-2.5 7.3 -2.2 15.1M120.2 2.9q7.0 5.5 15.8 5.4M115.2 60.0q5.2 3.7 8.8 9.0M156.3 84.0q6.0 2.3 2.8 7.9M161.3 88.9q7.6 7.2 2.5 16.3M94.5 9.3q3.4 6.3 5.3 13.3M87.6 13.9q-2.8 7.9 2.4 14.5M102.2 22.7q4.8 1.7 9.4 3.9M110.7 68.3q-3.7 6.9 -1.9 14.6M120.8 29.9q-2.7 6.9 2.1 12.5M147.9 97.9q3.4 4.0 5.2 9.0M92.4 23.2q7.3 -0.1 11.6 5.8M105.9 29.9q7.3 -0.1 9.6 6.9M115.8 41.6q2.0 6.7 8.0 10.4M123.7 74.4q8.9 -0.4 10.2 8.4M102.6 34.0q6.9 7.3 4.4 17.0M118.1 29.4q1.6 4.1 4.6 7.4M128.1 58.7q4.4 2.4 9.0 4.2M138.7 98.5q0.8 8.2 8.6 10.7M98.0 17.3q-2.7 10.3 7.7 12.7M126.0 66.1q0.5 4.0 2.5 7.5M95.1 48.1q1.3 7.7 9.0 9.1M148.8 86.5q0.8 4.2 1.6 8.4M108.7 24.4q2.8 6.2 5.4 12.5M147.4 82.9q5.6 6.6 13.5 9.9M166.2 88.0q13.0 1.7 8.6 14.0M105.5 36.9q0.1 6.3 -1.4 12.4M135.7 32.2q0.8 2.9 2.3 5.5M139.0 41.1q-1.3 4.6 -2.5 9.3M120.3 105.6q2.5 6.1 5.2 12.2M115.6 52.6q2.5 4.9 3.3 10.4M121.4 62.8q-0.3 3.8 -0.1 7.6M147.3 115.4q-3.9 5.9 0.2 11.6M133.6 109.5q3.0 6.8 10.4 8.1M135.5 55.2q6.7 4.3 6.6 12.3M151.4 106.6q-2.4 4.8 -5.9 8.8M143.1 64.7q-2.1 3.1 0.5 5.7M89.7 24.2q0.7 3.0 2.3 5.5M124.6 72.8q0.4 10.1 10.2 12.4M122.7 26.2q3.8 -1.6 5.6 2.1M122.1 41.3q-1.5 3.5 -1.4 7.2M137.8 120.4q2.2 4.5 0.7 9.4M121.5 62.1q1.1 6.7 7.6 8.8M80.1 19.7q5.6 3.4 6.4 9.9M81.6 22.5q1.2 3.8 4.2 6.4M105.2 11.1q2.9 2.2 2.5 5.9M138.0 103.1q2.4 8.5 8.7 14.8M148.0 85.7q3.4 4.6 -0.7 8.6M135.4 102.3q2.4 5.7 1.3 11.7M101.6 19.4q3.5 10.4 13.6 6.0M146.0 76.6q1.6 4.8 -2.1 8.3M138.4 124.4q3.2 2.4 2.6 6.4M88.5 32.7q6.1 3.6 2.4 9.7M135.1 52.8q-2.2 6.9 1.8 12.9M111.9 8.9q3.9 6.1 8.1 12.0M147.3 106.8q-2.3 3.0 -0.6 6.4M126.8 -0.8q9.1 8.2 0.9 17.3M101.6 43.2q7.5 3.4 15.7 4.0M106.0 24.8q5.5 0.9 9.3 4.9M122.8 35.5q2.6 7.6 1.9 15.7M143.1 97.4q11.9 2.0 6.2 12.7M147.6 103.4q0.1 3.8 2.6 6.7M141.1 120.4q0.1 3.6 0.9 7.0M113.9 41.1q5.4 5.7 8.1 13.0M95.2 21.0q-1.1 6.7 2.2 12.5M149.8 99.3q-6.5 4.8 -9.4 12.3M114.2 46.2q0.9 3.0 1.3 6.1M139.6 101.0q0.5 2.7 -0.9 5.0M120.5 13.1q6.2 2.0 4.9 8.3M159.1 81.7q0.7 4.4 3.2 8.0M136.0 78.6q-5.2 5.8 0.8 10.8M97.3 17.9q4.5 1.1 8.1 3.9M140.3 117.7q2.3 5.1 3.2 10.5M91.9 8.8q8.6 1.5 16.1 5.9M141.2 96.8q1.4 5.5 -2.5 9.6M109.4 46.4q3.3 8.0 -1.1 15.5M116.2 47.4q9.1 4.1 8.1 14.1M141.1 80.2q-0.8 10.3 7.8 16.1M149.3 112.9q-2.5 5.2 1.7 9.2M118.3 59.4q-11.2 7.0 -1.2 15.7M112.8 3.6q-0.4 7.9 6.9 10.6M84.5 33.4q3.7 2.7 7.6 5.1M147.1 90.1q-0.7 3.9 1.8 7.0M135.9 74.2q5.3 2.2 5.4 8.0M116.3 13.7q8.9 2.0 11.6 10.8M113.4 47.3q-1.2 6.0 4.7 7.5M169.6 109.4q0.6 3.8 2.2 7.3M94.1 39.0q4.9 0.0 6.5 4.6M147.1 100.6q4.0 5.9 -2.6 8.7M131.3 80.0q7.0 6.5 1.0 13.8M136.6 93.9q6.4 7.6 -1.2 14.0M139.6 85.2q-0.1 7.3 4.9 12.7M143.7 77.4q-0.6 6.3 0.6 12.5M127.9 82.0q-1.8 4.2 0.9 7.8M152.0 48.5q-1.8 9.2 4.2 16.3M147.7 115.9q-1.4 5.5 2.9 9.3M120.0 9.5q-2.6 4.4 0.0 8.9M134.9 117.4q5.5 6.9 5.3 15.7M112.0 4.0q-2.8 9.4 3.3 17.2M119.9 55.2q-7.1 3.8 -2.0 10.1M107.7 75.2q0.1 3.7 0.4 7.5M136.2 84.4q-2.0 4.9 -0.9 10.1M106.8 12.0q5.2 -0.0 8.5 3.9M120.8 67.1q7.3 4.1 8.3 12.5M138.6 88.0q0.7 9.8 8.8 15.3M105.0 29.7q-4.9 7.0 2.8 10.9M134.9 59.3q2.9 4.4 3.8 9.7M150.5 83.2q-0.9 4.2 -0.4 8.6M115.1 106.6q-0.5 3.2 -1.6 6.1M118.5 77.4q1.4 9.9 10.9 13.2M137.3 60.0q2.6 5.5 8.5 7.1M141.0 83.1q-1.2 6.0 4.3 8.6M147.9 117.5q4.3 4.0 9.1 7.3M107.1 41.0q8.7 -1.2 17.2 0.8M150.9 107.9q6.0 4.3 10.2 10.2M119.2 54.7q-1.7 8.7 0.2 17.4M133.3 31.2q6.3 5.6 10.0 13.1M106.3 27.3q1.5 3.7 4.3 6.6M129.2 67.4q-0.4 4.9 4.2 6.5M130.7 110.7q1.2 2.5 1.9 5.1M135.3 101.0q-1.2 3.7 -1.9 7.6M137.9 14.2q-0.4 7.3 0.4 14.6M148.6 98.0q0.2 5.8 1.8 11.3M142.8 97.8q-0.2 6.6 4.5 11.1M121.1 26.4q0.2 6.8 4.9 11.7M117.8 52.1q3.7 3.9 3.9 9.2M89.9 6.7q-0.8 6.5 3.4 11.5M132.1 45.7q-1.6 3.0 -1.0 6.2M89.6 9.0q3.4 7.5 7.7 14.5M105.9 21.7q6.1 5.5 14.1 3.6M133.2 47.0q-5.1 7.0 -4.1 15.7M115.0 51.7q3.6 4.0 3.1 9.3M134.4 89.1q7.5 -0.8 9.6 6.5M157.5 88.2q-0.6 2.9 -1.1 5.8M131.5 29.8q6.8 2.0 6.0 9.1M122.3 32.6q3.4 1.4 6.8 2.6M150.1 102.3q2.7 7.4 3.9 15.2M106.0 2.6q5.0 6.0 11.6 10.2M136.2 109.2q-2.8 2.2 -2.7 5.8M131.3 38.8q-1.4 6.8 3.4 11.8M141.1 55.4q-0.7 2.9 -0.5 5.8M100.4 55.4q2.2 2.1 5.2 2.8M143.4 40.4q4.1 5.1 5.8 11.5M104.7 39.6q4.8 3.7 10.1 6.6M138.1 88.4q-0.1 9.1 3.1 17.6M95.0 7.6q5.1 6.4 13.1 8.1M156.0 80.6q4.2 3.8 2.6 9.2M126.1 60.4q3.8 6.9 8.3 13.4M130.5 98.1q3.8 3.6 3.4 8.7M123.5 60.6q2.1 2.8 0.2 5.8M110.5 40.2q2.8 4.0 3.7 8.7M85.3 20.9q13.2 -3.2 14.1 10.4M128.9 41.9q6.3 5.0 9.6 12.3M106.4 37.5q1.3 5.2 4.4 9.6M114.2 54.3q1.5 5.7 5.9 9.7M81.1 8.5q0.2 8.7 5.1 16.0M149.9 84.1q-1.3 3.7 -0.7 7.6M117.0 24.4q4.9 0.1 6.6 4.6M119.6 54.6q1.2 4.9 -0.6 9.7M137.1 64.8q-0.2 2.6 0.1 5.1M134.4 62.9q1.7 5.6 1.0 11.4M145.0 58.3q3.3 8.5 -2.3 15.6M134.3 83.0q-0.2 3.6 -0.8 7.2M126.6 95.2q2.2 4.2 -1.1 7.6M123.3 84.4q2.7 5.4 4.7 11.2M117.6 6.0q6.7 4.8 13.1 9.9M140.8 71.0q5.0 1.4 7.8 5.8M146.0 27.8q0.2 8.7 -1.7 17.1M136.9 61.5q-0.4 2.5 -1.2 4.9M117.6 67.3q2.9 4.7 1.4 10.1M124.2 123.5q-4.4 7.1 3.9 6.3M103.1 -4.5q2.0 9.2 11.2 10.9M104.2 28.2q3.5 3.6 8.4 4.8M118.8 49.2q2.6 2.7 1.5 6.2M153.5 37.7q2.1 7.2 9.2 5.1M165.8 113.6q2.5 2.3 4.7 4.9M98.2 13.2q0.5 3.7 0.0 7.5M122.0 66.6q3.2 2.9 3.9 7.1M111.9 11.0q1.5 2.1 3.7 3.4M113.0 54.7q-2.9 1.9 -2.9 5.4M140.6 93.5q-0.8 5.7 1.8 10.7M123.8 82.2q2.8 1.8 3.0 5.1M128.2 46.7q0.4 4.0 3.3 6.8M134.1 76.5q8.3 3.4 15.5 8.7M112.7 37.6q3.6 4.7 9.4 4.5" stroke="#e81010" stroke-width="0.8" stroke-opacity="0.5" fill="none" stroke-linecap="round"/>
<path d="M163.5 35.6q4.5 2.6 7.4 7.0M171.6 49.1q-1.3 6.4 1.6 12.3M181.9 77.2q-0.8 3.0 -1.7 5.9M128.5 14.1q1.5 6.8 6.8 11.4M161.2 72.6q6.1 6.5 8.4 15.2M174.1 107.9q0.2 5.5 5.7 6.6M149.8 53.4q9.9 2.1 6.4 11.6M154.5 57.8q2.4 4.8 4.5 9.6M131.6 9.3q5.6 -0.0 8.2 4.9M144.3 1.7q2.1 4.9 0.8 10.1M147.1 43.1q4.2 4.2 4.6 10.1M173.7 99.0q-6.8 6.4 -1.8 14.4M145.2 15.3q2.6 4.2 5.7 8.0M146.8 44.0q4.2 7.9 5.1 16.8M127.2 1.4q-2.8 11.7 9.3 11.3M152.1 24.2q7.3 7.0 5.0 16.9M176.0 104.6q5.4 3.7 5.6 10.3M159.1 61.7q0.6 9.1 4.6 17.4M169.3 58.2q0.9 5.2 -1.9 9.7M158.9 27.7q3.7 4.4 6.2 9.7M141.8 25.9q-5.6 6.3 -3.1 14.3M141.9 11.6q4.6 2.9 8.0 7.1M157.0 71.4q0.9 3.3 0.4 6.6M161.9 70.2q-4.4 8.6 -1.2 17.7M162.2 67.4q4.1 7.3 6.8 15.3M168.0 22.3q-0.5 9.0 1.5 17.8M170.1 74.4q-1.1 5.0 1.1 9.7M144.5 62.7q3.0 6.8 5.5 13.8M142.6 15.9q1.8 4.2 5.6 6.8M163.5 35.7q-3.9 5.0 -8.1 9.7M147.9 70.5q-1.3 10.1 6.7 16.3M168.9 75.0q-0.6 8.0 0.4 16.0M147.0 26.2q2.7 1.8 4.5 4.4M163.3 80.7q-0.3 6.1 3.2 11.0M170.6 54.0q-3.0 7.4 1.4 14.0M162.9 29.5q4.0 3.4 7.9 6.8M163.0 66.3q1.3 8.4 8.6 12.6M175.3 99.3q5.1 3.1 4.9 9.1M159.4 83.1q4.0 6.8 4.7 14.8M161.9 109.8q1.4 2.4 0.4 5.0M149.8 28.2q-1.0 7.9 3.7 14.4M163.8 102.2q6.6 -1.2 6.2 5.5M161.5 74.3q2.8 5.1 7.6 8.5M144.0 11.5q8.7 3.1 5.5 11.8M166.2 63.7q2.7 4.2 6.8 7.0M149.1 26.5q-0.4 5.4 4.0 8.5M152.4 43.0q7.1 5.1 8.0 13.7M172.5 96.8q-0.5 7.2 1.3 14.3M168.9 67.4q4.8 11.1 -5.8 17.0M169.4 87.2q6.0 7.8 2.1 16.9M140.1 2.9q-2.5 5.8 1.2 10.9M145.7 18.0q6.0 4.0 5.9 11.1M148.2 16.0q3.9 -0.5 5.1 3.3M173.3 94.5q-0.1 7.1 1.1 14.1M141.6 23.6q1.5 5.8 4.2 11.1M151.2 24.1q0.9 4.0 2.2 7.8M153.7 57.6q1.1 5.4 -0.2 10.7M155.7 12.0q1.6 3.4 1.9 7.1M147.8 38.7q3.4 4.0 2.9 9.3M162.5 67.8q2.9 2.9 3.5 7.0M151.8 33.9q4.4 3.5 7.8 7.9M164.0 63.6q7.3 6.0 4.2 15.0M166.1 68.5q-1.1 5.3 -0.5 10.7M150.5 10.0q7.2 -0.8 7.6 6.4M133.3 27.7q5.5 6.6 13.3 10.1M172.3 100.2q3.2 5.4 0.0 10.8M147.5 6.4q6.4 6.0 5.5 14.8M173.3 88.4q-7.8 5.2 -1.4 12.0M127.3 24.2q4.0 5.7 10.8 6.7M157.3 59.3q1.1 6.9 7.9 8.3M167.8 58.7q-2.1 12.5 10.4 14.6M166.3 89.8q-5.3 6.9 2.1 11.4M161.2 41.7q2.5 3.9 3.9 8.3M150.1 40.3q1.0 3.8 3.9 6.5M176.2 104.5q2.5 8.0 1.2 16.3M177.5 97.9q-0.7 5.7 -2.7 11.0M150.7 46.8q3.5 1.6 3.3 5.4M166.5 25.1q2.4 5.4 2.2 11.3M180.0 87.3q-2.3 2.9 -1.6 6.5M159.9 61.4q6.3 5.2 13.5 9.2M177.7 111.0q3.0 4.2 6.8 7.7M142.7 0.7q4.0 -0.9 5.5 2.9M156.2 55.8q-0.9 7.8 -2.6 15.4M158.9 79.4q5.5 4.3 5.2 11.2M150.3 19.7q-0.5 5.3 3.2 9.2M164.7 79.4q3.2 2.7 2.1 6.7M152.7 40.9q-0.5 3.0 0.4 5.9M165.8 94.4q2.3 3.2 1.3 7.0M162.0 108.2q-1.1 2.7 -1.9 5.4M134.0 12.8q5.4 5.7 5.4 13.6M149.4 12.1q1.5 7.0 7.2 11.1M172.0 99.2q-3.3 8.2 1.9 15.4M156.9 66.8q1.7 3.8 5.8 3.5M166.0 42.7q-6.2 4.3 -3.9 11.4M178.2 78.3q-3.4 5.9 -0.0 11.8M155.7 86.7q0.2 5.4 -4.0 8.8M168.4 62.8q-1.4 4.2 -2.8 8.5M174.4 77.4q-1.6 5.9 -6.1 9.9M167.8 106.9q3.3 7.1 -1.8 13.0M174.6 74.1q-1.0 5.2 -1.4 10.4M173.1 60.2q4.5 8.9 -0.3 17.7M150.6 11.3q0.8 2.7 1.9 5.3M144.3 32.4q3.7 7.3 6.2 15.2M137.2 2.0q3.6 4.5 8.0 8.1M144.6 18.0q1.8 4.0 -0.6 7.6M150.9 27.9q7.4 4.2 8.4 12.6M152.4 14.7q5.7 1.1 4.9 6.9M148.5 14.2q0.1 4.7 3.8 7.7M158.7 97.5q3.4 1.6 5.3 4.9M150.0 31.8q0.1 3.1 0.3 6.1M129.2 10.3q5.8 5.5 11.6 11.0M163.1 70.3q7.9 8.4 -0.3 16.5M145.2 30.3q2.1 6.3 1.1 12.9M171.2 72.6q1.4 2.2 3.0 4.3M167.7 80.5q15.7 -1.5 11.0 13.5M149.1 15.3q7.7 5.6 7.2 15.1M140.5 24.0q2.3 4.2 5.2 7.8M166.8 52.4q-0.2 3.7 1.8 6.7M151.1 57.9q3.8 7.5 6.4 15.5M178.6 59.2q-1.0 6.7 0.2 13.3M157.3 60.9q0.7 2.4 0.6 5.0M156.9 41.7q4.9 6.6 10.1 13.0M144.0 8.6q-3.1 11.5 8.8 10.0M140.9 24.1q3.2 1.1 4.0 4.4M140.6 62.3q5.7 5.9 9.9 13.0M174.7 93.3q-2.6 3.5 -1.9 7.8M137.8 10.6q3.7 6.3 2.3 13.4M143.5 21.3q2.0 5.6 6.2 9.9M152.8 80.3q-4.6 8.2 0.7 15.9M135.1 7.1q1.7 2.8 4.8 1.6M146.8 28.7q3.1 2.5 5.9 5.3M175.6 65.7q1.5 3.4 -0.2 6.7M174.1 68.4q9.2 9.0 -2.1 15.1M171.2 61.4q6.8 1.7 12.4 6.0M148.4 -9.0q2.5 7.4 4.1 15.1M153.5 22.9q4.7 2.2 8.6 5.7M168.1 49.0q-1.9 7.8 -4.2 15.5M151.1 45.6q5.6 5.4 5.1 13.2M146.9 10.4q2.6 3.3 6.7 4.2M155.3 45.4q-1.8 2.8 0.2 5.6M163.4 89.3q1.6 4.2 1.1 8.7M136.4 1.8q3.4 5.1 5.6 10.8M174.1 104.6q-2.6 4.4 -0.7 9.3M136.5 3.2q2.1 2.9 5.5 3.9M176.5 75.6q-1.8 2.7 -0.5 5.7M164.4 91.9q-0.3 5.8 -2.6 11.2M169.7 80.5q0.5 5.8 0.0 11.7M171.9 107.1q4.4 1.6 2.4 5.8M163.7 113.0q-2.9 2.4 -3.0 6.2M154.1 58.2q0.1 6.3 2.3 12.2M172.1 103.5q-1.5 2.5 -2.0 5.4M172.3 109.3q-1.6 7.8 -1.8 15.7M127.9 6.5q1.8 9.5 -6.2 14.8M167.5 33.1q2.6 1.6 4.2 4.2M148.4 37.9q1.7 2.8 4.4 4.7M155.7 63.4q5.2 3.7 4.0 9.9M159.2 29.1q-0.7 5.0 -1.6 10.0M178.0 98.6q2.2 5.1 -0.2 10.1M150.7 18.8q-0.2 3.0 0.9 5.7M162.2 72.7q4.7 9.2 -2.6 16.5M156.5 38.1q0.8 6.8 7.2 9.0M144.9 25.2q-1.1 7.5 1.8 14.5M141.4 4.9q2.9 4.0 3.1 8.9M160.4 31.7q-7.7 6.5 -2.8 15.2M151.4 34.0q1.8 2.6 3.9 4.9M149.0 -4.4q0.1 5.0 3.5 8.8M140.6 16.6q1.6 3.4 5.0 4.9M124.9 10.7q6.8 2.3 13.2 5.6M156.1 65.7q0.8 3.1 3.4 4.8M152.9 16.2q3.0 8.0 5.6 16.1M128.6 3.7q-0.9 5.3 1.5 10.0M132.3 14.0q3.2 4.1 0.9 8.7M172.8 94.9q1.7 6.5 3.2 13.0M154.8 71.0q7.2 5.2 9.1 13.8M145.0 47.5q11.4 -2.9 14.9 8.4M167.8 108.8q-0.3 4.1 2.4 7.1M140.6 24.3q9.2 -2.5 14.7 5.3M166.9 81.0q3.1 8.0 0.5 16.2M173.8 77.4q1.7 2.3 4.2 3.8M183.9 91.4q-1.8 4.5 0.6 8.7M149.8 9.7q2.7 7.2 -1.4 13.7M175.3 63.2q-3.4 6.3 -0.1 12.7M172.3 106.2q2.3 6.1 -2.0 10.9M156.9 31.3q0.2 8.9 -3.2 17.1M166.7 35.7q-5.9 7.5 -5.1 17.0M169.6 105.1q1.7 2.3 3.7 4.3M129.3 11.2q5.0 4.8 6.9 11.4M142.3 7.6q2.3 5.2 2.4 10.9M148.1 -0.6q0.8 6.0 -4.0 9.7M164.0 73.8q2.7 2.2 1.3 5.3" stroke="#e81010" stroke-width="0.8" stroke-opacity="0.5" fill="none" stroke-linecap="round"/>
<path d="M-3.0 113.7q3.4 2.4 7.6 2.1M37.5 110.5q7.2 -3.0 11.9 -9.4M27.0 98.3q4.1 -6.5 11.3 -9.2M8.7 118.8q5.9 -5.3 12.2 -10.0M35.5 103.7q2.6 -3.9 4.7 -8.2M2.1 114.6q-0.9 -3.8 1.9 -6.7M31.3 100.7q2.5 -2.8 6.2 -3.8M19.2 110.8q8.6 1.0 11.8 -7.1M19.0 107.9q4.3 -5.0 7.1 -10.9M45.6 106.1q3.6 0.3 6.6 -1.6M16.5 107.2q3.0 -1.9 6.1 -3.4M3.2 119.5q5.6 -4.3 12.6 -2.8M24.0 107.3q5.6 -2.5 8.6 -7.8M18.1 107.2q0.7 -5.2 3.4 -9.8M0.2 124.6q3.2 -1.1 5.4 -3.8M25.1 107.1q7.6 3.2 11.1 -4.2M31.9 105.0q0.0 -5.0 1.7 -9.6M2.4 119.0q2.7 -0.5 5.4 -0.4M3.7 118.9q2.0 -2.1 3.5 -4.6M7.4 111.1q7.3 2.3 8.3 -5.3M17.1 104.2q6.0 -3.3 12.2 -6.4M30.1 103.4q5.6 2.4 11.4 4.1M6.1 93.9q7.3 3.7 15.0 0.7M-6.4 119.6q7.1 -1.2 14.0 -3.2M25.9 108.1q5.9 -0.3 9.6 -4.9M37.0 100.7q5.2 -4.9 0.9 -10.7M-1.5 123.3q4.7 -1.1 6.5 -5.6M29.0 112.1q3.5 -5.9 10.2 -6.9M8.8 108.7q3.3 -0.1 4.6 -3.2M9.1 114.2q7.5 3.3 8.3 -4.9M9.9 122.1q5.1 -0.8 5.5 -5.9M32.2 93.7q3.0 -1.5 6.3 -1.8M2.2 129.1q5.4 -1.9 10.3 1.1M42.2 98.3q4.5 -0.5 8.8 -1.7M20.4 92.1q4.0 -2.0 8.1 -3.9M0.7 114.4q5.9 -4.3 12.2 -7.8M11.4 117.5q6.3 -3.4 9.5 -9.9M26.2 95.0q4.5 -2.0 6.1 -6.6M29.5 111.3q6.3 -5.0 12.5 0.1M22.4 126.9q3.2 -1.0 4.1 -4.3M-2.4 126.6q1.4 -6.6 4.6 -12.5M17.8 111.3q2.8 -5.6 8.7 -7.9M2.3 120.8q1.4 -4.9 1.0 -9.9M-1.9 114.0q7.8 -5.0 14.1 1.8M17.1 116.1q3.7 0.3 5.3 -3.1M2.8 118.8q5.4 -7.4 13.3 -2.8M35.7 101.5q5.4 -1.9 9.2 -6.2M17.8 133.3q4.3 -0.9 8.1 -3.1M7.3 115.9q1.3 -7.5 8.8 -6.5M19.7 118.7q-0.9 -5.2 2.8 -9.0M5.7 119.5q4.4 -1.2 8.9 -1.3M38.7 103.7q5.0 -0.9 5.9 -5.8M33.0 98.8q4.1 -3.9 9.5 -5.4M44.8 103.9q2.2 -3.7 5.6 -6.4M11.2 111.9q7.1 -3.4 8.0 -11.1M14.0 97.1q8.3 -7.7 12.6 2.8M32.3 97.2q-3.6 -12.4 9.3 -11.8M14.0 114.5q3.3 -0.9 3.7 -4.3M28.2 97.7q2.1 -2.8 3.4 -5.9M2.5 119.5q3.7 1.1 6.4 -1.6M13.3 110.4q3.3 -3.6 7.0 -6.8M26.2 119.1q3.3 -4.8 8.8 -6.9M16.1 116.4q1.4 -3.4 5.1 -3.2M-1.1 122.8q1.9 -3.2 4.7 -5.6M20.2 101.4q2.7 -0.8 3.7 -3.4M11.4 124.5q1.1 -4.0 4.1 -6.9M4.6 116.9q3.9 -0.9 7.9 -0.7M2.0 128.8q4.8 -1.2 9.7 -0.4M36.5 101.5q3.4 -4.9 8.3 -1.6M27.2 120.2q4.9 -1.4 6.1 -6.4" stroke="#e01010" stroke-width="0.7" stroke-opacity="0.5" fill="none" stroke-linecap="round"/>
<path d="M117.5 106.2q-6.0 -3.9 -9.3 2.4M105.4 98.1q-3.1 -2.3 -5.7 -5.1M118.3 99.1q3.8 2.4 6.1 6.4M119.4 132.0q-1.7 1.3 -0.6 3.2M94.6 94.9q0.1 3.1 2.6 5.0M107.6 98.9q1.8 2.8 4.2 5.1M105.0 104.1q1.2 2.2 3.2 0.7M109.7 108.8q1.9 1.7 4.5 2.2M108.1 113.8q4.6 -1.0 8.6 1.6M104.1 91.2q1.2 1.7 3.2 1.1M117.9 129.5q-4.3 1.0 -8.6 0.1M107.4 89.3q2.8 -1.1 4.4 1.5M102.4 95.8q-2.2 1.1 -4.4 2.3M110.0 129.8q4.7 1.4 7.5 5.4M116.9 111.8q1.2 3.4 4.1 5.3M133.1 103.0q0.9 1.9 2.0 3.7M124.5 111.4q-1.2 3.7 -2.0 7.6M116.8 113.7q0.8 1.4 0.7 3.0M106.0 88.4q1.9 -1.2 3.6 -2.7M104.7 123.2q0.7 3.2 1.3 6.5M110.5 93.8q1.2 2.4 2.0 5.0M83.3 118.4q0.3 -3.4 2.7 -5.9M107.1 105.4q1.0 1.4 2.7 1.9M121.3 95.8q0.2 1.8 0.3 3.7M93.6 96.6q0.3 3.2 0.9 6.4M121.2 110.6q-1.3 3.1 -4.7 3.5M117.1 121.0q4.6 -3.9 9.0 0.2M109.7 103.9q-3.4 1.4 -7.1 1.2M100.1 113.7q-1.1 -3.0 0.2 -6.0M133.6 123.6q-1.3 2.2 -0.4 4.6M115.7 122.7q4.2 0.2 8.3 1.0M115.1 114.1q3.1 -1.2 6.2 -2.4M111.5 127.6q2.1 2.4 5.0 1.0M95.3 104.4q1.6 -2.7 1.0 -5.7M102.7 92.7q-3.6 3.2 0.1 6.2M108.8 116.6q0.6 2.3 0.6 4.6M117.9 110.1q1.8 0.1 2.7 1.7M115.1 129.4q4.0 -1.0 5.6 2.8M122.0 124.8q0.5 3.5 0.7 7.0M112.1 107.9q-1.1 5.7 4.7 5.0M101.8 95.8q2.0 3.7 4.6 6.9M100.0 112.3q4.1 0.3 5.0 4.3M111.1 92.8q-2.9 4.1 -0.5 8.6M116.7 110.9q3.0 4.7 0.1 9.5M103.3 98.1q3.7 2.2 7.8 0.8M106.6 116.8q4.1 -0.6 7.5 1.7M110.4 126.2q3.2 1.6 2.3 5.1M101.4 94.1q2.5 1.8 5.1 3.4M118.8 115.5q-2.2 1.5 -2.3 4.2M101.3 87.9q0.1 3.2 2.2 5.7M105.1 100.5q1.4 3.1 3.6 5.6M109.9 119.2q0.2 -1.6 1.1 -2.8M97.3 93.8q0.7 4.8 5.5 4.4M122.3 95.6q0.4 3.9 3.8 6.0M102.6 99.2q3.4 -1.9 6.7 -4.1M108.8 112.1q-1.8 1.0 -3.3 2.3M119.6 103.0q-1.7 1.5 -3.7 2.4M107.6 90.6q4.0 1.3 8.1 2.6M107.6 132.3q2.4 0.2 3.3 2.4M102.5 107.5q4.2 2.3 2.6 6.8M104.9 103.0q-1.8 0.8 -2.1 2.7M116.9 128.4q2.5 3.2 6.5 4.0M114.0 104.2q-1.6 4.7 -6.5 5.8M124.1 120.5q-2.6 4.0 -5.0 8.2M95.2 101.6q1.8 0.9 3.8 1.4M113.0 108.3q3.6 -0.4 7.1 0.7M122.1 131.4q-2.5 -1.6 -5.0 -0.1M84.9 102.3q5.1 2.3 4.3 7.8M122.7 126.6q-2.6 2.1 -3.1 5.4M136.8 120.0q-2.2 1.3 -2.7 3.8M114.4 116.3q1.9 -0.4 3.8 -0.3M107.4 92.2q-3.5 -0.3 -5.0 2.8M127.7 111.0q-2.0 1.4 -0.9 3.5M105.8 86.6q1.8 0.8 3.6 0.1M105.2 114.3q4.1 1.1 8.3 0.7M118.9 122.7q4.2 4.5 1.0 9.8M87.0 101.0q0.4 3.1 0.8 6.3M117.2 91.4q-0.3 3.2 -0.5 6.4M121.3 115.1q0.4 4.3 -2.4 7.6M101.3 93.1q2.7 0.2 5.2 -0.9M118.7 110.6q0.7 2.5 2.4 4.4M98.4 92.2q2.2 3.8 1.6 8.1M101.7 99.0q0.5 -3.3 2.7 -5.8M92.7 105.2q2.7 2.3 5.7 4.0M97.9 98.1q1.6 1.3 3.2 -0.0M96.6 102.2q-4.0 2.5 -5.2 7.1M114.4 114.3q1.7 1.5 4.0 1.9M119.5 118.7q-2.3 3.3 -2.4 7.3M119.0 113.1q-3.9 3.8 -8.5 0.7M98.4 92.8q2.9 0.4 4.7 2.7M109.7 98.6q-1.6 1.8 -2.7 4.1M125.7 116.5q-1.4 2.8 -2.5 5.7M108.3 102.3q-0.0 2.3 2.0 3.4M91.2 95.7q1.1 2.5 2.3 4.9M112.4 130.5q2.1 -3.5 3.9 -7.2M86.9 96.1q2.5 4.3 6.1 7.8M117.8 119.0q1.9 0.0 3.7 0.7M119.6 111.3q-1.1 1.8 -0.6 3.8M111.2 123.6q-0.4 3.2 -1.0 6.5M93.7 99.2q-2.6 0.6 -5.2 1.3" stroke="#e01010" stroke-width="0.8" stroke-opacity="0.5" fill="none" stroke-linecap="round"/>
<path d="M92.7 10.6q0.7 3.9 4.5 2.8M103.2 17.5q4.8 -3.2 10.0 -0.6M73.0 12.1q4.9 -1.9 8.7 -5.6M102.7 11.9q2.7 -2.6 6.4 -2.1M96.8 20.7q5.2 0.2 10.2 -1.0M109.4 20.2q2.7 -3.6 6.7 -5.7M116.6 16.3q3.0 1.7 6.2 0.5M72.8 -4.1q5.1 4.1 3.6 10.5M95.3 15.9q3.5 2.1 7.6 2.3M83.9 7.0q3.0 0.1 5.6 1.6M101.4 10.7q-1.8 1.2 -3.1 2.9M99.5 16.1q0.9 3.0 3.9 1.9M88.0 7.7q3.2 0.9 5.5 -1.5M104.5 6.0q2.6 0.4 5.2 -0.4M77.4 15.9q1.4 2.2 4.0 2.9M97.2 8.2q2.6 -1.9 5.8 -2.5M77.4 8.6q2.6 2.3 6.2 2.6M104.4 15.0q1.1 -1.9 2.6 -3.5M92.2 0.6q-0.8 1.9 -0.7 4.0M77.4 0.2q2.0 5.6 4.6 10.9M116.1 6.8q4.5 0.2 7.6 3.6M112.2 8.8q3.3 0.3 6.1 -1.4M117.1 9.3q5.9 -0.5 10.7 -3.9M101.9 10.9q3.0 0.3 4.0 -2.5M82.7 20.4q4.6 -4.6 10.9 -3.3M115.3 10.8q4.6 -0.1 6.4 4.1M81.3 11.1q4.7 -1.3 9.2 0.6M78.8 6.0q2.7 4.5 6.9 7.7M100.3 17.6q0.4 -6.2 6.3 -8.1M106.2 22.3q3.0 -3.3 5.5 -6.9M69.4 10.8q2.0 3.0 4.3 5.8M121.2 14.2q1.0 2.1 0.2 4.2M111.3 16.4q4.7 -0.5 9.4 -1.5M109.9 12.0q-1.0 2.4 0.5 4.6M106.3 12.3q5.3 1.7 10.8 2.0M102.6 9.6q3.0 -4.3 3.3 -9.5M106.7 13.7q4.5 2.5 9.4 3.6M104.1 11.3q3.3 1.4 3.4 5.0M92.6 12.9q1.2 2.9 1.8 6.0M98.5 13.9q2.4 2.8 5.9 3.9M85.9 8.6q4.5 0.0 8.5 1.9M86.3 8.3q3.3 1.4 6.7 2.7M96.5 20.8q1.9 1.9 4.5 1.6M98.1 20.0q2.1 -0.6 4.2 -1.5M108.3 8.5q5.7 -1.8 11.2 0.7M86.2 17.6q5.2 -1.0 10.5 -1.0M117.8 13.3q2.5 -0.8 5.1 -0.5M87.5 15.1q-5.0 -4.6 -2.7 -11.0M92.1 13.7q5.1 -4.7 2.4 -11.1M69.6 10.3q5.5 1.5 11.1 2.5M99.4 18.6q3.5 -3.3 4.7 -7.9M103.7 14.1q1.3 4.0 5.4 4.5M84.3 20.0q1.5 -2.3 4.0 -3.4M76.7 16.0q1.7 -3.0 2.7 -6.3M86.0 11.1q1.9 2.8 2.8 6.1M118.8 14.3q-0.6 -2.0 -0.8 -4.1M81.0 12.1q-0.0 -3.4 1.7 -6.3M71.6 5.4q0.4 4.3 4.7 4.3M84.6 4.2q2.2 -0.7 4.5 -0.9M113.2 17.6q-4.2 -2.8 -4.5 -7.8M76.1 5.8q2.5 -0.0 4.2 1.8M113.2 18.7q-0.6 -3.0 1.7 -5.0M83.4 8.2q0.9 4.6 3.5 8.5M100.4 8.0q4.8 0.0 8.5 -2.9M95.1 5.9q5.7 4.1 3.4 10.8M73.0 10.8q-2.0 5.9 1.0 11.3M85.3 6.3q3.3 0.1 6.4 1.5M115.0 11.7q3.0 2.3 6.5 3.6M100.5 12.9q3.4 -1.2 6.8 -2.5M91.4 19.3q3.6 2.1 7.5 0.5M67.0 9.3q1.7 5.0 6.9 5.3M98.5 9.4q1.2 -3.1 4.5 -3.6M100.7 12.9q3.4 -0.8 5.8 1.7M90.5 21.0q0.3 -5.5 4.2 -9.3M70.2 16.4q4.1 1.1 8.2 2.2M118.8 12.5q2.7 3.6 1.2 7.8M106.2 6.0q0.2 2.8 2.5 4.5M104.0 12.8q3.0 3.2 3.8 7.6M100.5 10.7q3.1 3.9 6.5 7.6M99.5 6.7q3.5 -3.3 7.8 -1.2" stroke="#e01010" stroke-width="0.8" stroke-opacity="0.5" fill="none" stroke-linecap="round"/>
<path d="M5.2 86.1q3.1 2.3 6.1 4.6M14.9 73.9q0.9 -2.2 2.1 -4.4M18.4 122.9q0.3 -5.0 -1.9 -9.6M16.2 91.2q-4.3 1.8 -4.2 6.5M-2.1 78.8q2.1 3.6 5.4 6.1M0.1 72.1q4.7 -0.3 6.8 3.8M1.2 90.1q1.9 5.9 8.1 5.0M18.2 97.9q0.2 4.1 -1.9 7.7M6.9 86.6q-2.9 0.8 -5.0 -1.3M30.0 98.3q-4.0 0.2 -8.0 0.8M13.3 90.5q-0.9 1.8 -1.4 3.8M25.9 91.6q2.2 3.5 0.5 7.3M13.7 79.7q-2.5 3.4 0.5 6.3M12.3 117.5q4.8 4.5 0.2 9.3M17.2 114.1q0.8 -2.2 2.1 -4.0M16.8 113.6q1.9 1.0 4.0 1.1M18.4 113.5q1.7 1.7 3.7 3.0M18.2 123.4q1.3 3.8 5.2 4.5M16.2 100.6q0.4 4.9 3.9 8.5M19.3 111.0q1.4 1.7 2.3 3.7M8.1 87.5q2.0 -2.3 4.9 -3.0M16.6 97.0q0.5 4.8 1.8 9.4M16.9 88.1q-1.3 4.3 -0.1 8.7M7.2 92.6q4.0 0.1 8.0 0.3M9.9 70.1q0.7 1.6 0.7 3.3M16.8 123.2q-2.2 1.0 -4.4 -0.1M8.4 87.3q2.2 2.1 3.8 -0.5M7.4 77.5q-1.9 2.0 -3.8 3.9M16.0 73.4q-2.0 0.9 -1.4 3.0M-2.9 112.7q4.0 1.1 7.1 4.0M14.4 99.3q-0.1 2.2 -1.9 3.5M12.8 94.8q-2.4 2.2 -5.2 3.7M4.9 79.0q0.1 -2.5 2.6 -2.9M8.2 76.8q-2.3 4.3 0.6 8.2M13.3 86.1q2.9 2.5 4.5 5.9M15.1 119.1q-1.5 0.7 -3.1 0.5M22.0 106.7q-3.8 1.2 -6.4 4.3M10.5 77.0q0.8 -4.8 -3.6 -6.9M17.2 79.3q1.8 1.4 3.6 2.9M15.2 99.8q0.2 -4.2 -3.2 -6.5M18.3 109.2q1.9 -2.4 4.5 -0.8M2.7 96.3q-0.8 2.5 0.2 5.0M13.7 95.4q-1.7 1.3 -1.7 3.4M21.4 95.6q-1.3 1.2 -1.7 3.0M11.2 120.1q4.7 0.7 7.0 4.9M17.1 106.7q4.1 -1.4 8.4 -1.0M8.7 85.8q0.7 2.0 1.9 3.7M20.1 97.5q0.9 3.5 0.5 7.0M7.5 93.2q2.1 -0.6 4.3 -0.6M5.9 107.7q3.7 0.1 4.8 3.7M0.6 83.0q0.5 2.2 1.8 4.0M11.4 73.1q-1.0 3.5 -2.6 6.8M1.8 81.3q-4.9 1.2 -9.6 -0.7M4.2 71.4q0.1 3.0 2.8 1.7M10.1 81.3q3.9 -2.9 6.9 0.9M12.4 124.0q-1.7 -1.3 -2.9 -3.1M22.4 85.9q-3.1 -3.3 -7.0 -0.9M10.3 98.1q2.3 4.9 7.0 2.3M10.0 70.3q-2.4 2.5 -4.2 5.4M11.9 86.5q2.1 0.9 2.6 3.2" stroke="#d01010" stroke-width="0.7" stroke-opacity="0.45" fill="none" stroke-linecap="round"/>
<path d="M28.7 75.7q-1.8 1.3 -2.3 3.5M103.5 104.6q3.6 1.8 2.8 5.8M74.7 103.8q-1.6 2.3 -3.5 4.3M57.5 117.9q2.4 0.8 1.9 3.2M107.2 90.1q0.9 1.6 1.8 3.1M105.6 118.1q2.1 0.6 4.3 0.3M22.0 25.3q0.5 4.8 5.3 4.9M172.1 -2.6q-0.0 4.1 -0.0 8.2M8.5 105.1q-3.7 0.2 -6.2 3.0M9.9 126.7q-2.9 2.0 -4.8 5.1M20.8 44.8q-3.9 1.9 -7.9 3.7M140.0 -2.8q3.3 2.6 1.5 6.4M90.6 10.6q0.3 1.5 1.0 2.8M146.8 5.9q2.9 3.8 2.5 8.6M55.9 22.1q1.8 1.8 4.1 0.7M55.5 2.1q2.3 1.2 5.0 1.1M19.1 114.7q-0.5 4.0 3.3 4.9M106.2 47.8q-1.2 3.3 0.5 6.4M96.7 14.6q-2.1 1.0 -4.4 0.9M173.0 109.0q1.3 1.0 1.9 2.5M87.2 103.5q-2.0 2.6 -5.2 2.2M59.5 10.8q4.8 0.0 7.2 4.2M112.2 38.6q-1.4 4.2 2.1 6.9M81.8 7.0q-4.3 -3.2 -7.9 0.9M107.7 8.1q0.8 3.2 4.0 3.4M96.4 -0.3q-2.0 0.7 -2.8 2.6M112.8 91.0q2.4 0.2 2.3 2.7M171.9 7.8q4.6 0.6 5.6 5.1M88.8 18.4q1.2 2.2 3.6 2.3M56.5 124.6q-1.0 2.3 -0.5 4.8M122.2 73.4q1.2 1.6 3.2 1.9M137.3 4.1q-2.1 2.7 -3.0 6.0M154.4 73.6q-2.3 0.6 -2.9 2.9M79.3 73.2q4.0 -0.9 7.2 1.6M162.4 52.4q-0.3 2.0 -0.3 4.0M20.1 15.0q-2.9 1.3 -5.7 2.8M97.9 40.1q2.3 3.0 4.3 6.3M75.6 83.5q-2.7 3.4 -6.8 5.0M159.8 3.7q-0.6 3.0 0.7 5.9M9.3 46.1q5.1 -0.6 5.1 4.6M8.7 78.4q0.6 2.5 2.0 4.6M64.6 79.0q-3.3 -1.6 -5.5 1.3M53.3 75.7q2.3 1.2 4.8 1.0M49.0 55.4q-0.5 3.9 0.6 7.7M158.6 42.6q1.8 1.5 0.2 3.3M151.2 29.9q-2.8 1.5 -5.6 0.1M172.0 122.0q-2.2 2.4 -2.1 5.7M6.4 39.6q-1.3 3.1 -4.7 3.1M169.0 72.7q1.6 3.8 0.9 7.9M141.3 33.1q3.2 0.5 6.4 1.3M56.7 8.6q-2.1 0.9 -3.7 2.6M156.2 117.6q3.4 0.0 3.5 3.5M85.7 91.2q-2.8 3.0 -6.8 2.4M56.4 100.7q3.1 1.8 6.5 0.8M90.4 92.3q-4.3 0.9 -8.2 -1.1M72.2 60.0q1.1 4.2 5.1 6.2M85.2 105.4q2.0 1.7 0.8 3.9M83.0 76.7q4.0 -2.6 7.4 0.7M103.2 100.5q-2.0 2.3 -4.9 3.5M39.8 30.7q4.6 -2.2 7.2 2.3M133.7 45.0q1.2 2.6 3.5 4.3M173.3 4.2q2.2 3.2 6.0 3.5M73.8 60.4q-0.9 4.3 -5.3 3.9M31.9 110.7q4.1 0.9 6.2 4.6M145.2 21.1q-3.5 -1.5 -5.3 1.9M107.9 95.9q5.4 -2.3 7.5 3.2M84.3 62.0q-1.5 3.8 -2.8 7.7M136.3 32.5q-4.5 2.8 -3.1 7.9M132.0 46.5q-0.1 2.6 -1.7 4.7M7.5 44.7q-1.8 -0.1 -3.3 1.0M107.9 57.6q-3.6 -0.5 -6.2 2.0M9.5 70.5q-0.0 1.8 -0.4 3.6M101.4 49.0q4.0 1.3 6.3 4.9M106.3 79.4q-2.1 0.0 -2.3 2.1M153.2 23.0q1.8 -0.8 3.7 -0.5M124.5 109.5q3.4 0.2 5.7 2.6M97.2 5.6q-1.7 -0.1 -2.9 1.1M137.8 121.3q-1.2 2.0 -3.2 3.4M130.4 5.0q0.7 3.0 -1.4 5.2M146.5 58.3q3.5 2.4 7.7 2.4M167.5 -1.3q2.5 3.5 -1.7 4.5M166.0 92.2q3.9 0.2 7.2 2.1M34.5 51.4q-2.3 2.4 -5.2 0.9M143.0 19.9q-2.1 4.9 2.4 7.8M154.3 40.4q-1.5 1.6 -0.3 3.4M86.9 62.0q1.9 2.0 4.5 2.7M81.1 24.4q-4.4 0.7 -7.0 4.5M167.2 63.2q-4.5 0.3 -5.0 4.8M81.5 61.9q0.8 1.8 -0.4 3.4M82.0 121.9q2.5 -0.6 3.2 1.9M87.8 6.0q0.5 2.1 2.1 3.6M77.5 66.4q-1.1 3.6 -4.3 5.5M169.7 26.9q-2.8 -0.4 -3.9 2.3M57.7 62.1q-4.5 0.4 -8.9 1.2M27.4 32.8q3.2 -1.6 5.9 0.7M174.3 66.1q-3.6 1.0 -6.7 3.1M153.8 70.4q2.0 -0.0 3.8 0.9M64.7 89.4q3.5 0.6 5.8 3.4M138.4 95.2q3.2 1.6 6.2 3.4M94.3 108.7q-0.1 4.7 -4.6 3.1M140.3 64.5q4.3 -0.3 5.2 4.0M83.9 29.2q-0.0 4.1 4.0 4.3M117.5 90.3q-2.7 1.8 -4.9 -0.5M62.9 58.1q-2.1 0.7 -1.9 2.9M20.2 53.3q1.4 1.7 3.5 1.0M101.3 35.2q-0.9 3.5 -2.6 6.5M64.5 83.3q2.4 1.7 3.7 4.4M16.7 76.2q1.7 2.3 3.0 4.9M128.7 51.0q4.9 0.3 4.2 5.2M12.6 21.4q-2.2 0.3 -3.8 1.9M25.2 89.8q-0.3 2.4 -1.2 4.6M119.2 81.5q1.0 1.8 2.2 3.3M160.2 45.8q2.1 2.7 5.0 0.8M6.2 89.4q-2.5 0.3 -4.9 -0.4M38.6 22.4q-0.3 2.6 -1.6 4.9M34.9 28.3q3.3 2.9 6.4 5.9M98.2 96.6q-5.2 -0.2 -5.6 5.0M146.4 26.9q2.7 0.2 4.9 1.7M90.3 121.9q2.1 2.7 -0.5 5.0M111.0 17.1q-3.0 3.3 -4.9 7.3M58.6 52.9q-3.7 2.0 -7.8 2.5M102.7 78.5q4.1 2.4 4.1 7.2M60.9 26.6q0.0 5.9 -5.8 6.0M59.2 32.6q1.3 1.4 3.3 1.1M153.4 106.9q-0.8 3.5 -3.8 5.7M76.1 20.2q0.1 2.3 0.3 4.5M25.3 42.9q4.3 -0.6 4.8 3.8M112.3 96.3q2.2 1.2 4.5 0.5M94.1 12.0q0.0 4.3 -1.7 8.3M2.3 119.7q3.6 4.1 7.0 -0.2M34.0 86.5q2.1 1.4 4.6 1.0M91.0 76.7q2.2 -0.5 3.8 0.9M124.6 85.6q1.9 4.1 2.2 8.6M171.2 8.8q-3.8 0.9 -3.3 4.7M104.8 106.2q3.9 1.7 8.0 0.6M144.4 57.5q-2.7 -0.1 -3.4 2.4M59.7 90.6q-1.7 0.7 -3.1 1.9M131.6 8.0q-0.5 3.9 -1.8 7.5M63.2 128.4q-2.7 -0.2 -5.3 -0.0M110.4 3.3q3.9 -1.3 5.2 2.6M37.9 20.8q2.2 -2.4 4.5 -0.0M32.1 7.3q2.9 0.7 2.6 3.6M25.7 75.4q1.6 3.5 5.4 3.7M75.9 130.1q-0.8 1.6 -0.9 3.3M6.2 81.5q3.9 1.0 5.3 4.8M25.5 0.3q-2.9 2.1 -3.3 5.8M7.3 82.6q1.3 3.8 4.9 5.4M164.5 101.4q1.1 4.1 3.9 7.4M27.2 90.9q1.8 3.7 2.7 7.7M115.8 30.9q1.4 4.2 5.7 3.4M173.1 47.4q-3.1 3.3 -0.1 6.6M13.2 51.7q-4.4 -0.3 -6.8 3.3M39.2 39.4q2.5 2.9 5.9 4.7M32.7 74.1q-5.1 1.0 -5.5 6.1M168.0 35.3q1.6 2.1 3.2 4.1M174.4 28.5q-0.1 2.3 2.0 3.2M21.5 30.6q1.2 1.1 2.0 2.6M73.1 111.8q-1.8 0.9 -3.2 2.4M8.5 83.5q4.2 -1.7 8.4 0.3M35.1 69.5q4.0 1.7 8.3 2.5" stroke="#c81010" stroke-width="0.7" stroke-opacity="0.45" fill="none" stroke-linecap="round"/>
<path d="M44.1 43.6h0M28.2 81.8h0M95.3 54.1h0M96.2 69.3h0M109.4 47.5h0M132.4 76.6h0M93.5 101.6h0" stroke="#ff2020" stroke-width="2.4" stroke-linecap="round" fill="none" stroke-opacity="0.9"/>
</g>
</defs>
<g transform="translate(43.0,776.7)" clip-path="url(#tc)">
<rect width="176.5" height="132.0" fill="#000"/>
<use href="#b1"/>
<use href="#sb"/>
</g>
<g transform="translate(236.8,776.7)" clip-path="url(#tc)">
<rect width="176.5" height="132.0" fill="#020000"/>
<use href="#r1"/>
<use href="#sb"/>
</g>
<g transform="translate(430.4,776.7)" clip-path="url(#tc)">
<rect width="176.5" height="132.0" fill="#131314"/>
<use href="#b1" opacity="0.62"/>
<use href="#r1" style="mix-blend-mode:screen"/>
<use href="#sb"/>
</g>
<g transform="translate(43.0,927.0)" clip-path="url(#tc)">
<rect width="176.5" height="132.0" fill="#000"/>
<use href="#b2"/>
<use href="#sb"/>
</g>
<g transform="translate(236.8,927.0)" clip-path="url(#tc)">
<rect width="176.5" height="132.0" fill="#030000"/>
<use href="#r2"/>
<use href="#sb"/>
</g>
<g transform="translate(430.4,927.0)" clip-path="url(#tc)">
<rect width="176.5" height="132.0" fill="#020208"/>
<use href="#b2" opacity="0.9"/>
<use href="#r2" style="mix-blend-mode:screen"/>
<use href="#sb"/>
</g>
<g transform="translate(626.8,776.7)" clip-path="url(#tc)">
<rect width="176.5" height="132.0" fill="#000"/>
<use href="#b3"/>
<use href="#sb"/>
</g>
<g transform="translate(820.3,776.7)" clip-path="url(#tc)">
<rect width="176.5" height="132.0" fill="#030000"/>
<use href="#r3"/>
<use href="#sb"/>
</g>
<g transform="translate(1013.8,776.7)" clip-path="url(#tc)">
<rect width="176.5" height="132.0" fill="#06040c"/>
<use href="#b3" opacity="0.9"/>
<use href="#r3" style="mix-blend-mode:screen"/>
<use href="#sb"/>
</g>
<g transform="translate(626.8,927.0)" clip-path="url(#tc)">
<rect width="176.5" height="132.0" fill="#000008"/>
<use href="#b4"/>
<use href="#sb"/>
</g>
<g transform="translate(820.3,927.0)" clip-path="url(#tc)">
<rect width="176.5" height="132.0" fill="#120909"/>
<use href="#r4"/>
<use href="#sb"/>
</g>
<g transform="translate(1013.8,927.0)" clip-path="url(#tc)">
<rect width="176.5" height="132.0" fill="#0a0814"/>
<use href="#b4" opacity="0.9"/>
<use href="#r4" style="mix-blend-mode:screen"/>
<use href="#sb"/>
</g>
<text x="235.0" y="1116.8" font-size="28" font-weight="bold" text-anchor="middle">Normoxia</text>
<rect x="144.4" y="1135.4" width="185.9" height="191.1" fill="none" stroke="#3a3a3a" stroke-width="1.1"/>
<line x1="137.9" y1="1144.6" x2="144.4" y2="1144.6" stroke="#333" stroke-width="1.1"/>
<text x="136.9" y="1149.0" font-size="12.4" text-anchor="end" fill="#2a2a2a">250K</text>
<line x1="137.9" y1="1180.9" x2="144.4" y2="1180.9" stroke="#333" stroke-width="1.1"/>
<text x="136.9" y="1185.3" font-size="12.4" text-anchor="end" fill="#2a2a2a">200K</text>
<line x1="137.9" y1="1217.1" x2="144.4" y2="1217.1" stroke="#333" stroke-width="1.1"/>
<text x="136.9" y="1221.5" font-size="12.4" text-anchor="end" fill="#2a2a2a">150K</text>
<line x1="137.9" y1="1253.4" x2="144.4" y2="1253.4" stroke="#333" stroke-width="1.1"/>
<text x="136.9" y="1257.8" font-size="12.4" text-anchor="end" fill="#2a2a2a">100K</text>
<line x1="137.9" y1="1289.6" x2="144.4" y2="1289.6" stroke="#333" stroke-width="1.1"/>
<text x="136.9" y="1294.0" font-size="12.4" text-anchor="end" fill="#2a2a2a">50K</text>
<line x1="137.9" y1="1325.9" x2="144.4" y2="1325.9" stroke="#333" stroke-width="1.1"/>
<text x="136.9" y="1330.3" font-size="12.4" text-anchor="end" fill="#2a2a2a">0</text>
<path d="M141.2 1318.6h3.2M141.2 1311.4h3.2M141.2 1304.1h3.2M141.2 1296.9h3.2M141.2 1282.4h3.2M141.2 1275.1h3.2M141.2 1267.9h3.2M141.2 1260.6h3.2M141.2 1246.1h3.2M141.2 1238.9h3.2M141.2 1231.6h3.2M141.2 1224.4h3.2M141.2 1209.9h3.2M141.2 1202.6h3.2M141.2 1195.4h3.2M141.2 1188.1h3.2M141.2 1173.6h3.2M141.2 1166.4h3.2M141.2 1159.1h3.2M141.2 1151.9h3.2" stroke="#555" stroke-width="0.7"/>
<line x1="155.3" y1="1326.5" x2="155.3" y2="1332.0" stroke="#333" stroke-width="1.1"/>
<line x1="216.8" y1="1326.5" x2="216.8" y2="1332.0" stroke="#333" stroke-width="1.1"/>
<line x1="267.0" y1="1326.5" x2="267.0" y2="1332.0" stroke="#333" stroke-width="1.1"/>
<line x1="311.0" y1="1326.5" x2="311.0" y2="1332.0" stroke="#333" stroke-width="1.1"/>
<path d="M231.9 1326.5v3M240.8 1326.5v3M247.0 1326.5v3M251.9 1326.5v3M255.9 1326.5v3M259.2 1326.5v3M262.1 1326.5v3M264.7 1326.5v3M280.2 1326.5v3M288.0 1326.5v3M293.5 1326.5v3M297.8 1326.5v3M301.2 1326.5v3M304.2 1326.5v3M306.7 1326.5v3M309.0 1326.5v3M324.2 1326.5v3M193.7 1326.5v3M183.9 1326.5v3M196.9 1326.5v3M179.9 1326.5v3M199.8 1326.5v3M176.3 1326.5v3M202.5 1326.5v3M173.0 1326.5v3M205.1 1326.5v3M169.8 1326.5v3M207.6 1326.5v3M166.7 1326.5v3M210.0 1326.5v3M163.7 1326.5v3M212.3 1326.5v3M160.9 1326.5v3M214.6 1326.5v3M158.0 1326.5v3" stroke="#555" stroke-width="0.7"/>
<rect x="183.8" y="1326.5" width="4.5" height="3" fill="#222"/>
<text x="156.8" y="1343.8" font-size="12.4" fill="#2a2a2a" text-anchor="middle">-10<tspan dy="-4.5" font-size="8.5">3</tspan></text>
<text x="221.6" y="1343.8" font-size="12.4" fill="#2a2a2a" text-anchor="middle">10<tspan dy="-4.5" font-size="8.5">3</tspan></text>
<text x="271.8" y="1343.8" font-size="12.4" fill="#2a2a2a" text-anchor="middle">10<tspan dy="-4.5" font-size="8.5">4</tspan></text>
<text x="315.8" y="1343.8" font-size="12.4" fill="#2a2a2a" text-anchor="middle">10<tspan dy="-4.5" font-size="8.5">5</tspan></text>
<text x="189.3" y="1343.8" font-size="12.4" text-anchor="middle" fill="#2a2a2a">0</text>
<text x="325.0" y="1183.2" font-size="36" text-anchor="end">8.27%</text>
<path transform="translate(144.5,1135.5)" d="M41 181h0M44 172h0M46 176h0M48 101h0M48 114h0M44 156h0M48 107h0M48 126h0M50 90h0M46 145h0M52 83h0M47 156h0M47 107h0M50 127h0M51 109h0M39 180h0M47 170h0M52 127h0M52 103h0M50 136h0M43 137h0M48 111h0M46 99h0M47 153h0M43 167h0M48 152h0M48 162h0M47 143h0M44 151h0M51 149h0M46 127h0M47 132h0M43 159h0M43 134h0M55 119h0M44 173h0M48 135h0M42 179h0M41 157h0M45 112h0M46 133h0M52 96h0M43 152h0M50 158h0M50 121h0M44 174h0M45 135h0M46 177h0M48 134h0M48 107h0M51 97h0M45 171h0M49 135h0M44 169h0M49 156h0M48 112h0M58 98h0M47 161h0M49 103h0M48 149h0M47 159h0M45 172h0M54 95h0M45 180h0M47 118h0M48 91h0M47 143h0M56 123h0M47 115h0M51 131h0M51 104h0M40 160h0M45 145h0M50 86h0M55 129h0M47 89h0M51 152h0M44 164h0M50 110h0M44 172h0M53 102h0M44 166h0M48 102h0M49 101h0M43 177h0M47 128h0M42 177h0M48 105h0M45 152h0M47 168h0M49 168h0M49 116h0M42 179h0M43 146h0M42 167h0M42 176h0M60 86h0M53 118h0M48 149h0M48 112h0M39 169h0M46 139h0M49 124h0M42 145h0M47 120h0M42 169h0M47 142h0M51 83h0M47 165h0M54 93h0M48 110h0M59 97h0M45 178h0M49 131h0M50 112h0M51 89h0M47 150h0M47 160h0M45 171h0M42 173h0M43 179h0M54 91h0M47 178h0M46 97h0M45 131h0M46 92h0M47 106h0M43 173h0M50 138h0M41 153h0M45 167h0M50 113h0M50 136h0M51 119h0M46 145h0M47 149h0M47 163h0M44 159h0M55 116h0M51 87h0M45 152h0M57 86h0M46 151h0M51 103h0M47 155h0M51 126h0M45 168h0M54 94h0M40 142h0M48 140h0M60 104h0M44 172h0M46 147h0M49 130h0M51 89h0M47 122h0M43 177h0M46 158h0M47 140h0M47 159h0M47 121h0M44 171h0M44 160h0M44 169h0M49 118h0M44 167h0M47 141h0M45 159h0M44 174h0M41 145h0M46 89h0M48 117h0M50 120h0M52 119h0M43 142h0M45 164h0M51 109h0M49 103h0M55 119h0M48 133h0M50 86h0M46 107h0M52 107h0M43 177h0M43 180h0M42 177h0M47 156h0M41 178h0M41 158h0M48 168h0M58 101h0M47 153h0M42 162h0M56 84h0M42 169h0M46 126h0M46 169h0M53 95h0M50 141h0M42 176h0M51 126h0M47 108h0M48 110h0M46 161h0M44 178h0M43 177h0M45 165h0M44 164h0M55 85h0M47 111h0M46 165h0M53 93h0M47 114h0M44 104h0M44 144h0M49 116h0M53 92h0M44 153h0M49 164h0M42 158h0M48 141h0M52 92h0M41 157h0M48 156h0M50 120h0M59 86h0M52 89h0M44 164h0M40 175h0M55 102h0M48 95h0M48 162h0M44 165h0M48 112h0M39 150h0M41 171h0M48 94h0M45 164h0M47 148h0M48 131h0M47 173h0M50 103h0M46 151h0M40 174h0M43 156h0M46 106h0M45 145h0M49 128h0M55 98h0M58 84h0M51 142h0M58 89h0M49 165h0M45 164h0M56 93h0M46 180h0M48 113h0M47 104h0M40 179h0M43 156h0M46 140h0M46 170h0M48 159h0M49 85h0M44 165h0M57 94h0M56 121h0M44 147h0M41 136h0M44 153h0M52 125h0M44 84h0M51 93h0M47 139h0M41 164h0M50 87h0M57 82h0M42 171h0M44 155h0M48 139h0M59 83h0M48 111h0M46 165h0M41 178h0M46 173h0M48 168h0M48 87h0M40 180h0M54 128h0M42 160h0M49 153h0M44 146h0M44 149h0M48 110h0M53 86h0M47 95h0M48 149h0M48 120h0M48 95h0M45 164h0M46 114h0M46 130h0M40 180h0M39 174h0M53 94h0M50 91h0M45 174h0M46 154h0M51 92h0M43 126h0M42 176h0M46 138h0M44 173h0M51 139h0M45 170h0M49 128h0M46 147h0M42 172h0M45 167h0M44 156h0M47 111h0M45 179h0M45 144h0M48 142h0M49 108h0M47 164h0M45 97h0M54 103h0M52 122h0M47 130h0M51 127h0M50 109h0M42 140h0M46 126h0M52 143h0M41 132h0M48 156h0M50 140h0M47 158h0M58 87h0M48 126h0M42 176h0M42 178h0M55 100h0M50 130h0M49 100h0M57 82h0M55 109h0M45 139h0M47 161h0M48 149h0M45 162h0M50 139h0M43 176h0M47 140h0M55 88h0M43 118h0M57 88h0M46 178h0M51 110h0M43 121h0M48 142h0M47 115h0M41 181h0M51 131h0M45 160h0M52 143h0M50 143h0M56 106h0M45 180h0M50 167h0M53 105h0M50 112h0M42 180h0M49 133h0M50 94h0M47 138h0M41 179h0M49 132h0M49 149h0M44 179h0M42 109h0M51 89h0M47 122h0M45 146h0M48 121h0M47 122h0M42 179h0M52 102h0M42 180h0M52 125h0M45 168h0M44 172h0M54 120h0M48 167h0M43 178h0M44 178h0M54 102h0M46 123h0M44 179h0M49 100h0M49 138h0M49 85h0M53 111h0M40 134h0M56 85h0M43 136h0M43 155h0M44 125h0M51 104h0M45 151h0M50 93h0M46 168h0M43 132h0M43 178h0M42 171h0M42 176h0M53 86h0M54 112h0M45 152h0M45 177h0M46 159h0M49 166h0M47 136h0M46 121h0M48 102h0M48 165h0M50 105h0M46 114h0M46 132h0M45 116h0M44 156h0M48 86h0M44 175h0M44 167h0M48 125h0M50 101h0M50 134h0M45 173h0M51 129h0M50 125h0M44 161h0M43 177h0M48 128h0M47 153h0M45 178h0M48 138h0M45 140h0M42 170h0M46 148h0M45 155h0M49 101h0M56 84h0M46 109h0M50 132h0M45 146h0M42 175h0M43 140h0M53 84h0M47 123h0M49 111h0M43 179h0M51 86h0M51 162h0M45 144h0M51 113h0M49 117h0M48 157h0M45 126h0M45 165h0M46 125h0M46 157h0M44 148h0M47 91h0M47 102h0M49 157h0M51 145h0M44 157h0M49 103h0M44 178h0M42 101h0M47 157h0M50 146h0M45 94h0M48 167h0M42 165h0M51 98h0M48 155h0M53 85h0M45 172h0M44 178h0M46 173h0M47 165h0M47 103h0M41 157h0M46 179h0M48 104h0M43 175h0M48 174h0M44 151h0M43 158h0M51 109h0M45 165h0M51 140h0M49 142h0M48 158h0M47 117h0M41 151h0M43 180h0M44 168h0M52 106h0M50 152h0M51 119h0M51 105h0M47 172h0M46 143h0M46 173h0M54 102h0M45 150h0M50 95h0M48 121h0M46 166h0M42 102h0M42 165h0M45 103h0M44 180h0M52 114h0M46 166h0M55 94h0M52 115h0M55 90h0M48 157h0M51 110h0M43 174h0M45 159h0M44 176h0M49 116h0M44 111h0M46 150h0M38 148h0M48 131h0M46 169h0M44 178h0M49 113h0M52 113h0M50 119h0M45 147h0M43 156h0M46 111h0M57 106h0M50 110h0M49 111h0M45 172h0M38 159h0M43 175h0M49 141h0M50 101h0M50 116h0M45 157h0M48 142h0M46 179h0M43 164h0M47 165h0M45 109h0M45 179h0M44 159h0M57 111h0M46 163h0M42 177h0M43 170h0M49 107h0M44 108h0M48 158h0M45 173h0M51 133h0M47 130h0M55 84h0M42 143h0M45 143h0M48 128h0M50 139h0M44 167h0M50 128h0M42 179h0M53 112h0M46 172h0M53 91h0M47 171h0M47 160h0M45 174h0M47 151h0M52 102h0M46 173h0M47 170h0M49 125h0M48 129h0M45 169h0M42 170h0M46 175h0M49 150h0M42 176h0M53 81h0M46 166h0M44 179h0M53 93h0M42 178h0M49 133h0M45 158h0M52 105h0M47 145h0M43 130h0M48 109h0M42 152h0M42 149h0M43 171h0M49 87h0M43 145h0M45 143h0M44 180h0M50 132h0M47 141h0M51 142h0M44 176h0M48 143h0M49 132h0M46 180h0M46 141h0M44 121h0M45 171h0M45 127h0M45 147h0M50 100h0M44 155h0M51 93h0M46 161h0M44 156h0M41 174h0M51 123h0M48 121h0M47 129h0M44 174h0M41 177h0M44 132h0M53 132h0M52 126h0M43 171h0M47 112h0M47 140h0M46 142h0M45 171h0M47 173h0M44 154h0M52 123h0M41 179h0M55 106h0M50 109h0M42 177h0M44 137h0M44 156h0M47 83h0M47 102h0M48 156h0M45 81h0M47 122h0M50 135h0M50 169h0M57 88h0M56 85h0M46 156h0M53 113h0M60 85h0M42 144h0M46 134h0M51 111h0M47 151h0M44 93h0M54 82h0M46 145h0M47 161h0M47 85h0M46 148h0M47 144h0M46 162h0M52 89h0M52 111h0M44 158h0M43 144h0M49 170h0M46 170h0M44 144h0M46 120h0M44 180h0M45 149h0M44 102h0M51 96h0M46 125h0M44 168h0M47 141h0M47 136h0M48 145h0M46 91h0M55 84h0M45 167h0M44 163h0M53 90h0M55 131h0M46 124h0M50 95h0M52 81h0M44 179h0M49 146h0M49 145h0M46 105h0M45 178h0M43 180h0M44 145h0M50 94h0M46 163h0M52 93h0M44 114h0M49 111h0M53 121h0M46 98h0M47 158h0M46 149h0M42 165h0M50 117h0M48 100h0M51 108h0M48 81h0M48 141h0M51 92h0M47 140h0M46 149h0M42 174h0M47 167h0M41 177h0M43 157h0M57 86h0M44 173h0M45 178h0M45 164h0M46 114h0M55 81h0M49 102h0M49 125h0M57 108h0M53 83h0M46 165h0M53 151h0M43 170h0M48 122h0M43 154h0M42 152h0M47 166h0M49 150h0M52 87h0M47 169h0M43 117h0M53 111h0M44 179h0M53 107h0M49 101h0M45 167h0M44 178h0M53 131h0M46 154h0M54 87h0M46 141h0M52 104h0M48 141h0M47 82h0M43 178h0M53 85h0M44 157h0M46 138h0M41 173h0M42 171h0M42 179h0M43 171h0M46 171h0M44 178h0M43 179h0M45 129h0M49 114h0M46 157h0M46 80h0M43 173h0M47 143h0M50 156h0M38 163h0M44 175h0M44 155h0M44 176h0M45 142h0M50 123h0M44 164h0M55 87h0M51 88h0M48 125h0M51 135h0M41 174h0M55 90h0M47 99h0M41 170h0M52 87h0M45 181h0M42 163h0M47 130h0M47 124h0M42 175h0M47 131h0M47 116h0M52 85h0M48 147h0M44 133h0M42 179h0M49 114h0M51 102h0M48 93h0M50 99h0M48 137h0M43 156h0M58 92h0M42 179h0M47 156h0M45 137h0M44 98h0M45 173h0M49 108h0M42 171h0M48 103h0M41 177h0M45 177h0M43 156h0M50 121h0M48 139h0M54 96h0M49 89h0M42 171h0M51 132h0M45 161h0M47 125h0M51 88h0M51 89h0M57 95h0M45 124h0M49 92h0M52 92h0M49 111h0M51 142h0M45 126h0M44 141h0M42 174h0M45 176h0M43 165h0M42 156h0M51 163h0M44 166h0M55 90h0M47 151h0M44 148h0M42 171h0M46 172h0M58 83h0M43 181h0M55 88h0M46 169h0M50 130h0M45 131h0M49 127h0M42 168h0M44 175h0M47 161h0M55 124h0M42 164h0M49 98h0M43 146h0M45 168h0M53 125h0M48 145h0M50 87h0M50 94h0M44 180h0M51 92h0M43 162h0M45 159h0M41 161h0M47 126h0M44 153h0M50 105h0M55 100h0M43 170h0M42 159h0M53 89h0M44 163h0M54 124h0M52 101h0M51 125h0M45 153h0M46 159h0M56 95h0M42 163h0M58 91h0M46 165h0M44 142h0M47 167h0M45 83h0M49 152h0M52 86h0M40 121h0M44 169h0M42 175h0M44 154h0M49 87h0M47 81h0M48 148h0M52 112h0M47 164h0M46 171h0M51 119h0M44 179h0M45 179h0M50 102h0M46 156h0M54 83h0M50 120h0M57 106h0M48 133h0M43 159h0M51 118h0M47 145h0M49 85h0M46 143h0M48 86h0M43 150h0M48 101h0M47 133h0M47 148h0M52 91h0M44 177h0M45 161h0M46 152h0M44 180h0M44 165h0M51 125h0M43 158h0M45 175h0M47 143h0M51 89h0M44 179h0M49 146h0M44 80h0M43 171h0M48 170h0M49 113h0M49 124h0M45 123h0M46 175h0M54 83h0M47 166h0M46 158h0M49 119h0M44 178h0M54 81h0M53 113h0M46 130h0M54 90h0M45 154h0M46 153h0M51 136h0M48 123h0M45 150h0M50 89h0M47 156h0M46 136h0M52 82h0M51 144h0M47 164h0M46 136h0M50 90h0M63 87h0M47 110h0M51 113h0M45 127h0M49 116h0M47 144h0M45 157h0M44 178h0M53 87h0M52 108h0M57 87h0M50 100h0M55 89h0M54 93h0M48 163h0M43 180h0M53 107h0M52 129h0M51 126h0M63 85h0M51 139h0M48 143h0M51 95h0M44 154h0M45 140h0M47 119h0M42 153h0M50 129h0M47 83h0M44 178h0M43 178h0M50 91h0M44 139h0M42 157h0M49 151h0M45 165h0M43 87h0M48 151h0M52 100h0M50 149h0M40 180h0M49 118h0M47 162h0M49 170h0M48 136h0M43 171h0M44 178h0M53 105h0M48 147h0M46 123h0M43 175h0M44 108h0M45 174h0M49 144h0M46 174h0M49 107h0M55 101h0M45 173h0M44 112h0M53 100h0M45 166h0M48 151h0M48 85h0M52 141h0M45 171h0M51 88h0M47 122h0M45 157h0M48 111h0M54 80h0M54 126h0M48 165h0M42 168h0M52 110h0M49 143h0M53 96h0M44 179h0M40 171h0M56 108h0M45 171h0M45 135h0M58 100h0M45 134h0M46 150h0M50 128h0M50 81h0M52 95h0M55 81h0M44 158h0M53 92h0M45 167h0M45 136h0M47 137h0M41 174h0M49 115h0M46 174h0M50 161h0M51 167h0M44 167h0M47 126h0M50 114h0M46 136h0M42 171h0M45 136h0M52 98h0M48 155h0M44 163h0M45 145h0M47 133h0M49 143h0M46 149h0M51 143h0M49 161h0M45 129h0M49 129h0M46 176h0M46 149h0M43 170h0M45 164h0M52 82h0M45 159h0M45 168h0M46 116h0M46 149h0M48 152h0M44 156h0M44 146h0M51 136h0M41 163h0M47 157h0M44 164h0M47 124h0M44 137h0M42 163h0M48 147h0M53 104h0M49 99h0M46 123h0M46 104h0M49 140h0M50 129h0M47 179h0M45 158h0M44 168h0M45 140h0M48 166h0M41 111h0M49 124h0M47 151h0M50 135h0M48 147h0M44 175h0M45 175h0M55 111h0M50 126h0M44 173h0M50 136h0M48 127h0M46 90h0M46 145h0M45 166h0M45 144h0M52 121h0M45 172h0M50 146h0M48 149h0M50 119h0M51 92h0M47 180h0M52 170h0M47 107h0M50 143h0M44 162h0M47 124h0M47 118h0M46 161h0M50 125h0M47 138h0M47 120h0M45 177h0M44 155h0M47 126h0M50 90h0M43 166h0M57 88h0M48 134h0M47 122h0M46 171h0M41 171h0M49 104h0M43 138h0M43 157h0M44 155h0M42 160h0M52 94h0M46 166h0M43 171h0M43 160h0M45 172h0M44 156h0M46 175h0M46 179h0M46 175h0M54 119h0M44 178h0M52 132h0M40 169h0M47 141h0M54 82h0M44 161h0M57 84h0M42 157h0M42 179h0M46 137h0M44 170h0M44 148h0M49 117h0M43 151h0M47 122h0M44 126h0M50 110h0M44 151h0M54 98h0M46 163h0M42 176h0M47 153h0M44 176h0M51 83h0M53 97h0M45 121h0M46 147h0M46 161h0M48 144h0M43 119h0M55 134h0M48 174h0M43 161h0M50 89h0M51 123h0M49 140h0M56 94h0M48 128h0M49 146h0M46 174h0M42 175h0M44 170h0M44 172h0M47 113h0M48 144h0M43 179h0M49 132h0M43 171h0M44 169h0M50 147h0M46 130h0M48 100h0M47 148h0M44 175h0M48 176h0M49 128h0M47 109h0M41 179h0M54 101h0M56 85h0M45 180h0M44 177h0M45 175h0M46 175h0M45 178h0M46 139h0M53 120h0M50 138h0M55 81h0M43 177h0M45 147h0M53 95h0M48 152h0M45 150h0M43 179h0M50 153h0M49 115h0M49 145h0M45 169h0M50 144h0M47 150h0M48 132h0M51 114h0M43 150h0M46 128h0M46 169h0M48 144h0M57 102h0M46 163h0M54 85h0M58 89h0M56 95h0M46 81h0M44 179h0M47 168h0M48 143h0M48 109h0M48 84h0M43 178h0M44 164h0M47 122h0M41 163h0M57 81h0M53 87h0M42 152h0M45 87h0M46 165h0M47 90h0M51 105h0M50 153h0M47 127h0M53 95h0M45 104h0M46 175h0M53 95h0M47 138h0M45 143h0M49 83h0M47 139h0M47 103h0M44 166h0M48 130h0M48 114h0M47 128h0M52 130h0M48 109h0M44 166h0M55 83h0M48 175h0M49 118h0M47 166h0M50 98h0M44 139h0M49 113h0M43 162h0M42 148h0M47 171h0M50 162h0M48 114h0M45 156h0M49 146h0M43 151h0M44 152h0M46 124h0" stroke="#2a38ee" stroke-width="1.15" stroke-linecap="square" fill="none"/>
<path transform="translate(144.5,1135.5)" d="M46 175h0M45 145h0M45 157h0M42 167h0M56 100h0M50 123h0M57 123h0M46 176h0M43 168h0M50 114h0M45 173h0M43 173h0M50 135h0M54 112h0M46 163h0M48 142h0M46 134h0M52 117h0M45 164h0M50 118h0M50 114h0M44 178h0M55 101h0M48 145h0M54 92h0M47 177h0M51 99h0M47 127h0M45 96h0M45 169h0M46 171h0M43 157h0M46 127h0M42 176h0M45 143h0M42 180h0M50 126h0M44 150h0M46 143h0M44 146h0M45 177h0M47 161h0M53 81h0M52 91h0M47 150h0M47 148h0M46 164h0M42 133h0M54 110h0M49 127h0M42 162h0M50 135h0M42 179h0M50 149h0M51 124h0M43 176h0M45 175h0M47 142h0M46 86h0M56 81h0M58 99h0M45 149h0M47 154h0M48 146h0M52 109h0M54 102h0M46 127h0M44 135h0M50 91h0M52 116h0M50 124h0M50 146h0M39 179h0M47 134h0M51 101h0M44 175h0M50 105h0M43 156h0M49 117h0M43 169h0M53 86h0M46 172h0M48 117h0M49 94h0M44 179h0M47 115h0M52 87h0M45 124h0M42 177h0M56 80h0M47 136h0M44 172h0M43 168h0M50 98h0M45 156h0M45 115h0M46 113h0M51 90h0M42 164h0M44 128h0M49 135h0M53 96h0M49 100h0M45 151h0M43 163h0M43 172h0M45 98h0M52 93h0M51 105h0M53 101h0M46 131h0M46 165h0M47 155h0M57 113h0M44 166h0M46 154h0M51 105h0M45 139h0M44 177h0M52 103h0M54 108h0M47 138h0M49 159h0M42 176h0M53 88h0M44 150h0M43 174h0M41 171h0M51 125h0M49 112h0M47 149h0M56 125h0M47 152h0M46 176h0M48 109h0M44 138h0M47 138h0M46 149h0M45 173h0M46 162h0M53 81h0M46 149h0M47 125h0M56 83h0M44 154h0M46 160h0M46 174h0M44 177h0M48 136h0M51 141h0M45 177h0M44 170h0M44 129h0M51 147h0M50 144h0M42 165h0M45 180h0M48 154h0M48 123h0M51 95h0M53 114h0M46 118h0M47 120h0M50 106h0M44 173h0M52 101h0M45 179h0M44 163h0M47 168h0M47 150h0M47 150h0M45 175h0M45 175h0M48 168h0M46 158h0M45 128h0M56 92h0M55 84h0M49 140h0M45 130h0M40 159h0M46 115h0M43 176h0M55 116h0M51 106h0M45 151h0M42 178h0M45 120h0M41 164h0M42 112h0M43 116h0M52 86h0M51 108h0M51 110h0M46 152h0M54 115h0M44 142h0M54 115h0M47 118h0M44 162h0M47 167h0M45 125h0M48 145h0M46 148h0M48 122h0M44 113h0M44 90h0M49 130h0M48 140h0M48 117h0M46 134h0M42 176h0M44 149h0M42 168h0M46 162h0M46 173h0M45 108h0M49 101h0M49 140h0M49 146h0M47 164h0M44 170h0M44 102h0M46 164h0M48 86h0M48 150h0M46 122h0M51 144h0M49 130h0M44 158h0M46 158h0M45 172h0M49 140h0M45 165h0M42 160h0M51 127h0M55 101h0M52 88h0M40 174h0M46 170h0M52 111h0M48 168h0M40 90h0M45 123h0M43 163h0M45 179h0M43 163h0M54 90h0M44 179h0M42 168h0M46 156h0M52 136h0M45 123h0M47 103h0M41 180h0M55 113h0M42 160h0M44 162h0M54 116h0M45 119h0M45 139h0M45 163h0M51 141h0M47 156h0M49 166h0M47 178h0M47 164h0M45 151h0M46 177h0M43 179h0M45 141h0M52 106h0M47 181h0M48 101h0M44 148h0M47 138h0M44 142h0M50 137h0M43 173h0M43 176h0M46 171h0M46 167h0M44 163h0M50 132h0M50 151h0M45 163h0M54 89h0M49 140h0M48 105h0M52 136h0M48 149h0M53 144h0M44 180h0M48 176h0M38 176h0M50 161h0M48 85h0M43 169h0M52 99h0M45 164h0M48 129h0M50 96h0M51 114h0M47 154h0M46 156h0M44 155h0M44 160h0M43 176h0M47 176h0M48 169h0M43 178h0M48 162h0M43 164h0M48 136h0M48 115h0M54 86h0M53 82h0M45 180h0M52 116h0M50 109h0M47 170h0M46 142h0M44 164h0M49 157h0M49 143h0M45 167h0M49 97h0M53 119h0M56 107h0M47 122h0M47 155h0M45 171h0M46 165h0M49 122h0M42 180h0M49 158h0M47 112h0M48 174h0M45 158h0M46 156h0M44 174h0M44 115h0M48 137h0M51 108h0M41 140h0M50 145h0M50 94h0M45 172h0M45 158h0M47 94h0M58 85h0M50 118h0M46 156h0M46 178h0M44 143h0M42 171h0M46 87h0M49 101h0M52 104h0M45 174h0M40 177h0M44 179h0M44 177h0M45 159h0M57 89h0M50 89h0M49 122h0M47 127h0M49 141h0M48 120h0M48 95h0M48 130h0M45 171h0M44 178h0M43 143h0M46 131h0M45 100h0M48 136h0M47 172h0M49 163h0M47 137h0M43 163h0M46 140h0M45 160h0M48 147h0M59 95h0M47 164h0M58 132h0M45 174h0M49 133h0M60 86h0M48 153h0M47 146h0M41 165h0M41 126h0M44 142h0M45 180h0M50 114h0M52 109h0M45 161h0M45 163h0M47 88h0M51 129h0M47 124h0M46 148h0M47 141h0M44 170h0M44 163h0M44 173h0M45 136h0M51 99h0M43 179h0M54 107h0M46 129h0M46 145h0M45 90h0M54 94h0M40 173h0M51 111h0M51 140h0M51 100h0M45 128h0M50 148h0M47 154h0M49 122h0M47 122h0M43 177h0M44 150h0M43 179h0M46 164h0M45 164h0M46 141h0M43 175h0M43 178h0M43 169h0M45 176h0M50 98h0M47 177h0M55 89h0M47 162h0M46 157h0M54 95h0M43 169h0M51 93h0M57 107h0M42 163h0M49 152h0M49 149h0M49 145h0M49 116h0M50 89h0M51 96h0M47 86h0M46 93h0M53 91h0M50 118h0M48 177h0M42 136h0M47 148h0M44 178h0M47 168h0M44 164h0M50 100h0M44 171h0M49 86h0M47 137h0M44 162h0M52 137h0M46 179h0M53 108h0M45 177h0M39 149h0M43 180h0M45 166h0M54 131h0M49 101h0M47 146h0M45 139h0M44 163h0M42 147h0M46 161h0M45 120h0M44 153h0M42 179h0M45 116h0M46 122h0M43 172h0M53 126h0M44 166h0M49 108h0M44 180h0M48 136h0M46 147h0M48 80h0M42 172h0M52 84h0M49 136h0M50 90h0M54 100h0M43 125h0M52 126h0M46 140h0M45 134h0M44 178h0M45 175h0M48 148h0M51 142h0M50 103h0M49 96h0M45 178h0M54 109h0M44 174h0M51 115h0M53 82h0M49 125h0M47 107h0M43 165h0M50 89h0M40 177h0M47 134h0M47 151h0M41 157h0M40 136h0M42 174h0M55 107h0M46 108h0M46 113h0M48 115h0M48 87h0M50 105h0M43 180h0M52 144h0M47 143h0M47 114h0M51 114h0M49 119h0M45 165h0M41 166h0M52 135h0M55 81h0M45 164h0M60 84h0M51 88h0M49 149h0M46 152h0M46 114h0M47 130h0M46 125h0M48 129h0M50 107h0M52 123h0M46 100h0M44 177h0M45 143h0M47 160h0M53 94h0M43 178h0M43 158h0M47 113h0M45 127h0M48 100h0M50 149h0M47 168h0M46 141h0M55 97h0M40 179h0M51 134h0M41 171h0" stroke="#5a6cff" stroke-width="1.1" stroke-linecap="square" fill="none" stroke-opacity="0.85"/>
<ellipse cx="190.4" cy="1283.0" rx="3.6" ry="33" transform="rotate(5.2 190.4 1283.0)" fill="#2c40ec" opacity="0.8"/>
<ellipse cx="189.8" cy="1290.0" rx="2.9" ry="26" transform="rotate(5.2 189.8 1290.0)" fill="#1fa6ea" opacity="0.9"/>
<ellipse cx="189.2" cy="1296.0" rx="2.3" ry="18.5" transform="rotate(5.2 189.2 1296.0)" fill="#27d7a0"/>
<ellipse cx="188.8" cy="1300.0" rx="1.9" ry="13.5" transform="rotate(5.2 188.8 1300.0)" fill="#5be03a"/>
<ellipse cx="188.5" cy="1304.0" rx="1.5" ry="9.5" transform="rotate(5.2 188.5 1304.0)" fill="#e4e61e"/>
<ellipse cx="188.3" cy="1306.5" rx="1.1" ry="6.3" transform="rotate(5.2 188.3 1306.5)" fill="#f87a14"/>
<ellipse cx="188.2" cy="1307.5" rx="0.7" ry="4.2" transform="rotate(5.2 188.2 1307.5)" fill="#ee2a12"/>
<path transform="translate(144.5,1135.5)" d="M63 134h0M56 86h0M60 85h0M64 91h0M52 153h0M59 107h0M59 168h0M56 112h0M56 168h0M67 106h0M51 160h0M55 131h0M58 102h0M64 168h0M50 166h0M56 121h0M57 117h0M51 147h0M58 159h0M55 149h0M60 124h0M53 168h0M51 169h0M60 125h0M60 129h0M50 152h0M50 150h0M62 156h0M55 135h0M52 128h0M51 169h0M58 120h0M56 96h0M50 178h0M55 112h0M53 143h0M54 112h0M55 124h0M52 145h0M60 161h0M54 112h0M55 97h0M51 146h0M67 127h0M64 146h0M59 122h0M56 143h0M51 145h0M52 136h0M66 122h0M58 93h0M50 145h0M58 117h0M63 111h0M62 133h0M50 165h0M50 152h0M53 152h0M53 160h0M48 170h0M61 84h0M51 135h0M52 178h0M63 170h0M61 140h0M57 152h0M60 116h0M57 124h0M64 167h0M52 162h0M67 94h0M52 145h0M58 98h0M59 112h0M54 113h0M61 116h0M57 95h0M51 138h0M53 128h0M53 172h0M59 163h0M57 109h0M57 130h0M54 153h0M61 120h0M57 94h0M67 103h0M60 136h0M60 140h0M57 90h0M62 108h0M52 173h0M64 172h0M52 178h0M59 182h0M52 153h0M54 141h0M68 111h0M58 125h0M51 138h0M54 147h0M54 113h0M61 96h0M55 94h0M55 102h0M59 141h0M63 99h0M64 111h0M58 172h0M60 119h0M58 85h0M63 161h0M52 148h0M64 147h0M59 121h0M60 126h0M55 129h0M59 157h0M64 141h0M57 166h0M57 130h0M55 101h0M59 153h0M61 167h0M62 96h0M51 162h0M68 92h0M56 125h0M60 123h0M55 123h0M60 84h0M54 134h0M52 146h0M56 89h0M51 174h0M60 122h0M57 168h0M48 174h0M59 117h0M57 141h0M55 140h0M55 127h0M69 95h0M59 116h0M63 85h0M62 115h0M55 103h0M52 176h0M62 98h0M59 91h0M61 83h0M55 88h0M54 149h0M60 128h0M66 131h0M54 129h0M55 123h0M60 89h0M55 105h0M50 173h0M57 89h0M52 121h0M59 168h0M59 101h0M62 117h0M53 148h0M67 110h0M53 133h0M58 138h0M61 113h0M58 107h0M51 147h0M50 160h0M60 124h0M67 101h0M58 91h0M54 180h0M54 100h0M54 144h0M66 108h0M57 138h0M50 158h0M53 146h0M53 154h0M57 128h0M59 105h0M67 119h0M67 119h0M51 139h0M59 122h0M62 151h0M51 165h0M53 142h0M53 159h0M61 109h0M59 149h0M58 165h0M53 164h0M60 135h0M67 89h0M56 145h0M57 142h0M64 111h0M47 181h0M54 109h0M54 128h0M51 163h0M56 117h0M47 181h0M61 99h0M61 114h0M51 156h0M56 156h0M58 144h0M52 161h0M64 150h0M62 104h0M56 85h0M56 172h0M60 96h0M67 91h0M54 115h0M58 117h0M62 148h0M61 136h0M52 180h0M56 102h0M55 105h0M62 137h0M59 127h0M61 87h0M57 97h0M65 87h0M53 154h0M55 165h0M50 155h0M59 163h0M61 170h0M50 161h0M56 95h0M56 179h0M67 87h0M63 125h0M60 129h0M52 122h0M59 137h0M53 173h0M62 106h0M65 130h0M61 155h0M59 171h0M67 127h0M53 131h0M63 116h0M55 95h0M54 161h0M57 156h0M50 160h0M54 161h0M60 90h0M61 93h0M59 108h0M55 97h0M53 144h0M56 105h0M63 104h0M54 104h0M55 127h0M53 120h0M53 155h0M56 82h0M52 124h0M53 134h0M62 95h0M56 144h0M60 87h0M52 132h0M49 168h0M65 89h0M58 137h0M56 89h0M56 157h0M56 90h0M50 165h0M69 98h0M59 95h0M58 116h0M67 83h0M67 125h0M57 92h0M62 88h0M65 129h0M67 86h0M60 144h0M51 137h0M62 88h0M55 119h0M67 110h0M63 115h0M63 116h0M61 126h0M62 97h0M61 81h0M56 169h0M59 140h0M58 143h0M53 151h0M70 102h0M56 158h0M60 115h0M51 140h0M65 103h0M52 138h0M51 180h0M53 174h0M57 162h0M61 88h0M58 125h0M66 105h0M69 103h0M63 112h0M59 157h0M57 93h0M56 98h0M56 95h0M68 94h0M60 113h0M63 130h0M59 118h0M54 174h0M57 134h0M54 132h0M61 162h0M63 138h0M54 163h0M58 117h0M52 169h0M55 115h0M58 113h0M60 123h0M54 119h0M58 98h0M60 85h0M52 160h0M54 109h0M64 88h0M48 180h0M63 123h0M60 95h0M56 83h0M55 109h0M61 145h0M57 153h0M54 133h0M59 123h0M51 160h0M57 128h0M62 159h0M66 136h0M55 152h0M59 147h0M68 106h0M64 119h0M57 131h0M57 169h0M66 91h0M55 144h0M54 157h0M53 140h0M67 113h0M62 111h0M53 130h0M52 155h0M52 149h0M53 119h0M64 125h0M62 100h0M52 123h0M52 178h0M58 125h0M54 143h0M61 181h0M55 179h0M59 106h0" stroke="#3040f0" stroke-width="1.1" stroke-linecap="square" fill="none" stroke-opacity="0.95"/>
<path transform="translate(144.5,1135.5)" d="M64 150h0M66 174h0M54 132h0M138 87h0M132 106h0M74 118h0M73 103h0M129 92h0M96 109h0M53 152h0M81 173h0M63 164h0M100 144h0M71 141h0M74 168h0M71 175h0M109 108h0M76 134h0M91 125h0M80 96h0M65 179h0M70 113h0M75 136h0M54 114h0M74 161h0M99 130h0M66 174h0M73 114h0M77 119h0M91 98h0M102 126h0M68 137h0M71 97h0M108 165h0M65 160h0M55 100h0M66 155h0M81 86h0M99 112h0M60 114h0M105 103h0M108 133h0M165 155h0M90 153h0M70 108h0M68 125h0M102 84h0M117 165h0M93 128h0M63 170h0M52 168h0M80 136h0M180 127h0M62 88h0M106 130h0M71 148h0M67 182h0M74 178h0M96 115h0M53 172h0M115 88h0M61 147h0M59 123h0M80 144h0M88 148h0M79 169h0M77 163h0M80 104h0M93 92h0M163 101h0M54 137h0M64 172h0M65 87h0M101 116h0M49 156h0M114 108h0M85 88h0M136 134h0M86 116h0M97 97h0M74 99h0M70 113h0M64 165h0M98 88h0M57 164h0M99 163h0M74 180h0M64 169h0M60 121h0M107 82h0M143 160h0M53 138h0M64 101h0M65 162h0M137 91h0M101 159h0M72 138h0M135 130h0M57 84h0M62 89h0M94 106h0M95 92h0M97 124h0M86 144h0M52 141h0M79 96h0M63 123h0M64 86h0M153 93h0M70 177h0M64 83h0M110 176h0M88 120h0M66 168h0M71 136h0M71 124h0M59 105h0M60 181h0M134 142h0M71 129h0M58 86h0M152 122h0M71 94h0M57 137h0M69 150h0M103 142h0M172 146h0M75 139h0M94 107h0M116 181h0M70 119h0M83 89h0M147 148h0M94 137h0M163 90h0M127 122h0M102 149h0M53 119h0M63 141h0M65 158h0M54 115h0M82 100h0M104 103h0M69 136h0M99 132h0M78 156h0M89 84h0M76 114h0M67 173h0M68 171h0M88 173h0M60 153h0M70 99h0M102 137h0M97 115h0M62 142h0M156 101h0M68 149h0M91 94h0M108 179h0M56 133h0M136 112h0M86 148h0M77 91h0M83 138h0M122 173h0M60 82h0M92 133h0M67 153h0M50 149h0M56 167h0M86 91h0M118 120h0M99 178h0M145 175h0M84 128h0M72 113h0M60 111h0M69 133h0M67 141h0M52 132h0M60 81h0M80 148h0M86 135h0M57 96h0M88 126h0M88 155h0M142 111h0M171 90h0M71 111h0M83 172h0M85 154h0M76 124h0M99 138h0M139 148h0M80 154h0M61 168h0M90 84h0M48 178h0M55 128h0M50 150h0M84 87h0M56 176h0M63 144h0M67 152h0M71 104h0M80 121h0M104 127h0M72 113h0M104 84h0M87 177h0M105 163h0M93 135h0M121 81h0M68 178h0M76 177h0M150 83h0M75 161h0M82 154h0M116 141h0M74 174h0M79 103h0M80 90h0M74 168h0M55 162h0M172 150h0M112 131h0M64 122h0M82 87h0M121 123h0M129 116h0M77 112h0M75 144h0M55 133h0M166 172h0M152 98h0M103 167h0M130 89h0M155 110h0M68 136h0M63 118h0M69 134h0M96 87h0M65 85h0M84 98h0M111 111h0M72 132h0M136 107h0M74 115h0M52 145h0M105 162h0M65 125h0M77 111h0M70 141h0M79 125h0M66 152h0M70 176h0M112 159h0M81 106h0M54 160h0M77 135h0M75 96h0M87 109h0M136 88h0M58 110h0M64 81h0M71 137h0M102 119h0M85 111h0M183 161h0M90 135h0M69 173h0M63 146h0M65 102h0M132 171h0M67 145h0M177 90h0M55 124h0M74 153h0M53 120h0M91 136h0M95 103h0M92 136h0M92 86h0M72 116h0M111 176h0M79 91h0M70 137h0M147 143h0M83 102h0M52 171h0M112 156h0M172 152h0M143 127h0M59 84h0M72 111h0M72 132h0M160 181h0M94 156h0M61 96h0M68 140h0M62 85h0M156 105h0M75 87h0M117 181h0M95 89h0M88 132h0M91 112h0M97 95h0M110 177h0M144 132h0M80 92h0M129 156h0M75 116h0M66 119h0M83 118h0M80 139h0M84 91h0M152 107h0M167 163h0M63 91h0M55 168h0M77 94h0M78 104h0M76 115h0M68 166h0M54 164h0M102 151h0M127 143h0M61 117h0M54 153h0M110 90h0M53 163h0M151 125h0M51 165h0M85 128h0M79 87h0M140 99h0M106 129h0M73 119h0M76 140h0M72 108h0M129 90h0M106 151h0M80 101h0M55 129h0M72 142h0M101 129h0M72 171h0M93 152h0M95 139h0M69 119h0M77 114h0M91 95h0M53 120h0M79 89h0M101 118h0M128 157h0M65 157h0M78 95h0M70 131h0M56 121h0M94 90h0M139 173h0M90 163h0M95 142h0M86 170h0M119 130h0M80 97h0M65 176h0M65 161h0M159 89h0M139 130h0M81 129h0M58 101h0M64 154h0M82 83h0M114 147h0M53 123h0M53 128h0M59 169h0M122 86h0M54 140h0M97 171h0M86 170h0M166 125h0M55 136h0M50 174h0M77 156h0M96 121h0M83 169h0M91 164h0M61 93h0M126 90h0M78 90h0M63 148h0M73 176h0M109 172h0M72 141h0M77 164h0M122 108h0M56 85h0M56 159h0M85 93h0M107 140h0M67 146h0M61 132h0M89 121h0M59 87h0M54 119h0M59 174h0M55 94h0M74 156h0M152 120h0M115 149h0M72 136h0M87 156h0M87 164h0M74 118h0M84 109h0M112 126h0M123 87h0M99 92h0M70 101h0M179 156h0M73 129h0M81 135h0M54 156h0M52 180h0M51 177h0M66 172h0M66 147h0M58 164h0M111 93h0M86 172h0M89 130h0M55 127h0M94 92h0M83 117h0M74 120h0M178 105h0M163 150h0M119 99h0M76 85h0M91 112h0M71 140h0M52 168h0M55 107h0M51 178h0M73 157h0M95 104h0M96 86h0M84 104h0M56 169h0M71 117h0M107 116h0M70 103h0M152 107h0M69 131h0M69 140h0M77 86h0M63 86h0M88 121h0M93 113h0M64 168h0M69 100h0M99 118h0M82 108h0M111 114h0M78 150h0M73 140h0M123 100h0M56 150h0M136 121h0M91 106h0M167 150h0M87 123h0M79 106h0M98 90h0M67 95h0M114 129h0M78 147h0M55 135h0M109 171h0M165 171h0M78 137h0M55 95h0M117 86h0M63 125h0M113 114h0M108 128h0M64 134h0M106 174h0M65 93h0M73 90h0M69 166h0" stroke="#5566ff" stroke-width="1.05" stroke-linecap="square" fill="none" stroke-opacity="0.8"/>
<path d="M191.3 1326.5L207.9 1214.9L330.3 1214.9" stroke="#222" stroke-width="1.2" fill="none" stroke-linejoin="miter"/>
<text x="492.0" y="1116.8" font-size="28" font-weight="bold" text-anchor="middle">Hypoxia</text>
<rect x="400.7" y="1135.4" width="184.3" height="191.1" fill="none" stroke="#3a3a3a" stroke-width="1.1"/>
<line x1="394.2" y1="1144.6" x2="400.7" y2="1144.6" stroke="#333" stroke-width="1.1"/>
<text x="393.2" y="1149.0" font-size="12.4" text-anchor="end" fill="#2a2a2a">250K</text>
<line x1="394.2" y1="1180.9" x2="400.7" y2="1180.9" stroke="#333" stroke-width="1.1"/>
<text x="393.2" y="1185.3" font-size="12.4" text-anchor="end" fill="#2a2a2a">200K</text>
<line x1="394.2" y1="1217.1" x2="400.7" y2="1217.1" stroke="#333" stroke-width="1.1"/>
<text x="393.2" y="1221.5" font-size="12.4" text-anchor="end" fill="#2a2a2a">150K</text>
<line x1="394.2" y1="1253.4" x2="400.7" y2="1253.4" stroke="#333" stroke-width="1.1"/>
<text x="393.2" y="1257.8" font-size="12.4" text-anchor="end" fill="#2a2a2a">100K</text>
<line x1="394.2" y1="1289.6" x2="400.7" y2="1289.6" stroke="#333" stroke-width="1.1"/>
<text x="393.2" y="1294.0" font-size="12.4" text-anchor="end" fill="#2a2a2a">50K</text>
<line x1="394.2" y1="1325.9" x2="400.7" y2="1325.9" stroke="#333" stroke-width="1.1"/>
<text x="393.2" y="1330.3" font-size="12.4" text-anchor="end" fill="#2a2a2a">0</text>
<path d="M397.5 1318.6h3.2M397.5 1311.4h3.2M397.5 1304.1h3.2M397.5 1296.9h3.2M397.5 1282.4h3.2M397.5 1275.1h3.2M397.5 1267.9h3.2M397.5 1260.6h3.2M397.5 1246.1h3.2M397.5 1238.9h3.2M397.5 1231.6h3.2M397.5 1224.4h3.2M397.5 1209.9h3.2M397.5 1202.6h3.2M397.5 1195.4h3.2M397.5 1188.1h3.2M397.5 1173.6h3.2M397.5 1166.4h3.2M397.5 1159.1h3.2M397.5 1151.9h3.2" stroke="#555" stroke-width="0.7"/>
<line x1="412.8" y1="1326.5" x2="412.8" y2="1332.0" stroke="#333" stroke-width="1.1"/>
<line x1="472.5" y1="1326.5" x2="472.5" y2="1332.0" stroke="#333" stroke-width="1.1"/>
<line x1="522.5" y1="1326.5" x2="522.5" y2="1332.0" stroke="#333" stroke-width="1.1"/>
<line x1="566.0" y1="1326.5" x2="566.0" y2="1332.0" stroke="#333" stroke-width="1.1"/>
<path d="M487.6 1326.5v3M496.4 1326.5v3M502.6 1326.5v3M507.4 1326.5v3M511.4 1326.5v3M514.8 1326.5v3M517.7 1326.5v3M520.2 1326.5v3M535.6 1326.5v3M543.3 1326.5v3M548.7 1326.5v3M552.9 1326.5v3M556.3 1326.5v3M559.3 1326.5v3M561.8 1326.5v3M564.0 1326.5v3M579.1 1326.5v3M450.2 1326.5v3M440.7 1326.5v3M453.3 1326.5v3M436.8 1326.5v3M456.1 1326.5v3M433.3 1326.5v3M458.7 1326.5v3M430.0 1326.5v3M461.2 1326.5v3M426.9 1326.5v3M463.6 1326.5v3M423.9 1326.5v3M465.9 1326.5v3M421.0 1326.5v3M468.2 1326.5v3M418.2 1326.5v3M470.4 1326.5v3M415.5 1326.5v3" stroke="#555" stroke-width="0.7"/>
<rect x="440.5" y="1326.5" width="4.5" height="3" fill="#222"/>
<text x="414.3" y="1343.8" font-size="12.4" fill="#2a2a2a" text-anchor="middle">-10<tspan dy="-4.5" font-size="8.5">3</tspan></text>
<text x="477.3" y="1343.8" font-size="12.4" fill="#2a2a2a" text-anchor="middle">10<tspan dy="-4.5" font-size="8.5">3</tspan></text>
<text x="527.3" y="1343.8" font-size="12.4" fill="#2a2a2a" text-anchor="middle">10<tspan dy="-4.5" font-size="8.5">4</tspan></text>
<text x="570.8" y="1343.8" font-size="12.4" fill="#2a2a2a" text-anchor="middle">10<tspan dy="-4.5" font-size="8.5">5</tspan></text>
<text x="446.0" y="1343.8" font-size="12.4" text-anchor="middle" fill="#2a2a2a">0</text>
<text x="579.5" y="1183.2" font-size="36" text-anchor="end">20.7%</text>
<path transform="translate(400.5,1135.5)" d="M44 177h0M62 115h0M64 100h0M44 180h0M43 168h0M58 83h0M46 179h0M50 130h0M61 82h0M45 141h0M47 177h0M48 159h0M54 140h0M47 139h0M56 115h0M50 102h0M54 165h0M59 83h0M55 83h0M47 171h0M55 115h0M56 141h0M58 103h0M55 95h0M60 83h0M56 144h0M51 135h0M55 139h0M46 170h0M42 142h0M47 174h0M49 157h0M49 132h0M47 174h0M48 159h0M53 143h0M60 92h0M57 106h0M51 128h0M48 162h0M52 100h0M50 96h0M47 127h0M55 125h0M49 98h0M49 170h0M48 169h0M59 99h0M52 154h0M47 173h0M48 144h0M52 113h0M52 117h0M45 180h0M51 139h0M55 87h0M55 117h0M46 177h0M50 167h0M54 121h0M47 177h0M48 165h0M47 116h0M42 168h0M58 117h0M55 128h0M62 84h0M52 171h0M52 128h0M46 175h0M54 105h0M43 180h0M51 130h0M47 164h0M47 159h0M50 144h0M49 177h0M50 105h0M51 128h0M49 172h0M57 134h0M52 86h0M47 152h0M49 138h0M50 147h0M48 157h0M49 91h0M50 146h0M48 175h0M47 167h0M51 147h0M52 88h0M47 112h0M51 84h0M58 107h0M50 119h0M44 180h0M43 147h0M47 160h0M51 168h0M47 124h0M45 176h0M44 165h0M46 140h0M44 158h0M61 105h0M51 93h0M46 177h0M46 177h0M51 119h0M47 178h0M52 136h0M51 88h0M59 120h0M52 128h0M51 128h0M52 136h0M59 85h0M57 122h0M62 93h0M49 126h0M56 106h0M53 96h0M48 150h0M46 164h0M45 180h0M46 144h0M48 167h0M48 120h0M49 160h0M55 103h0M52 133h0M43 108h0M45 159h0M50 128h0M46 162h0M52 140h0M46 145h0M48 143h0M46 175h0M54 127h0M57 84h0M54 93h0M47 150h0M44 165h0M48 152h0M52 116h0M63 110h0M48 162h0M49 124h0M54 108h0M59 81h0M60 87h0M49 143h0M51 156h0M45 166h0M50 138h0M54 134h0M65 105h0M46 174h0M48 148h0M59 142h0M49 174h0M52 87h0M45 168h0M49 166h0M45 179h0M47 166h0M52 118h0M54 100h0M47 166h0M49 125h0M52 154h0M48 120h0M54 88h0M51 124h0M52 150h0M54 111h0M54 134h0M59 83h0M53 155h0M56 128h0M47 168h0M48 137h0M46 157h0M54 137h0M52 124h0M49 177h0M66 101h0M46 173h0M55 123h0M48 171h0M49 176h0M52 133h0M51 143h0M47 141h0M52 141h0M54 106h0M50 82h0M50 143h0M53 117h0M53 151h0M46 170h0M57 104h0M47 174h0M42 181h0M61 93h0M56 96h0M51 138h0M50 91h0M50 151h0M52 112h0M62 104h0M53 121h0M41 148h0M48 93h0M50 159h0M59 91h0M44 177h0M58 144h0M61 93h0M48 131h0M56 119h0M43 159h0M42 177h0M52 117h0M47 108h0M52 149h0M52 167h0M44 172h0M55 146h0M51 147h0M53 95h0M53 117h0M58 130h0M47 150h0M47 100h0M45 174h0M53 123h0M44 133h0M47 179h0M50 136h0M61 107h0M50 137h0M44 179h0M53 101h0M48 103h0M48 161h0M51 115h0M59 95h0M47 161h0M49 110h0M50 137h0M60 127h0M64 87h0M45 145h0M53 108h0M45 171h0M47 132h0M50 179h0M47 178h0M57 148h0M45 158h0M60 87h0M50 164h0M46 176h0M47 171h0M55 105h0M50 116h0M52 132h0M46 163h0M52 94h0M45 138h0M60 90h0M60 117h0M51 98h0M45 178h0M51 121h0M45 144h0M48 175h0M59 87h0M57 109h0M51 135h0M53 89h0M45 161h0M40 178h0M50 164h0M54 112h0M45 172h0M46 176h0M50 151h0M46 180h0M54 111h0M48 165h0M53 144h0M53 137h0M51 115h0M59 85h0M45 177h0M62 87h0M50 138h0M54 103h0M43 172h0M50 106h0M50 138h0M48 139h0M52 109h0M52 116h0M62 120h0M50 141h0M46 170h0M51 129h0M50 147h0M50 171h0M50 102h0M52 117h0M45 156h0M58 97h0M58 103h0M43 176h0M49 168h0M50 170h0M50 114h0M47 173h0M52 162h0M51 112h0M53 91h0M52 85h0M46 173h0M54 82h0M56 133h0M47 180h0M57 95h0M62 104h0M51 150h0M50 140h0M45 155h0M47 172h0M47 114h0M57 89h0M54 152h0M50 158h0M53 128h0M69 94h0M53 102h0M49 166h0M45 98h0M57 106h0M58 95h0M56 116h0M49 150h0M55 117h0M41 174h0M48 176h0M48 147h0M50 147h0M53 127h0M49 169h0M47 157h0M45 160h0M50 152h0M47 179h0M48 145h0M60 107h0M53 93h0M54 109h0M46 141h0M53 117h0M54 126h0M46 158h0M50 133h0M45 158h0M53 130h0M43 171h0M48 166h0M53 94h0M56 120h0M45 179h0M49 125h0M46 155h0M56 84h0M56 111h0M60 101h0M46 151h0M51 110h0M56 124h0M51 127h0M47 162h0M53 112h0M53 170h0M45 164h0M45 168h0M46 165h0M49 152h0M48 141h0M45 137h0M61 107h0M58 115h0M61 80h0M49 136h0M52 156h0M62 102h0M55 81h0M50 162h0M46 162h0M50 137h0M52 145h0M61 92h0M55 131h0M40 143h0M52 145h0M57 98h0M60 112h0M47 144h0M46 151h0M51 128h0M47 163h0M51 151h0M51 118h0M42 148h0M51 113h0M48 137h0M56 101h0M53 125h0M47 178h0M47 148h0M42 179h0M47 162h0M45 172h0M51 164h0M54 134h0M56 134h0M51 136h0M43 175h0M50 161h0M55 100h0M65 100h0M63 90h0M49 171h0M63 89h0M50 151h0M57 95h0M49 103h0M50 123h0M51 176h0M50 158h0M66 92h0M45 153h0M43 174h0M54 110h0M54 97h0M53 127h0M47 160h0M47 173h0M51 138h0M44 175h0M46 164h0M50 174h0M56 99h0M55 114h0M46 177h0M53 147h0M52 116h0M53 134h0M54 107h0M50 159h0M54 101h0M45 170h0M46 156h0M47 177h0M51 109h0M56 98h0M45 180h0M44 147h0M48 180h0M49 154h0M46 168h0M50 135h0M50 166h0M44 168h0M41 159h0M51 127h0M50 141h0M46 164h0M52 144h0M45 168h0M47 102h0M45 169h0M60 97h0M49 102h0M50 176h0M55 122h0M44 181h0M54 123h0M49 89h0M53 121h0M46 157h0M44 168h0M48 140h0M46 179h0M56 105h0M50 145h0M51 145h0M53 137h0M57 122h0M50 110h0M56 113h0M52 157h0M50 167h0M50 111h0M47 150h0M45 163h0M50 105h0M49 87h0M54 102h0M55 89h0M51 93h0M61 82h0M47 173h0M51 123h0M51 144h0M66 85h0M44 154h0M46 180h0M47 169h0M60 120h0M54 86h0M49 118h0M50 154h0M61 121h0M45 180h0M60 98h0M48 168h0M45 179h0M54 81h0M54 97h0M54 103h0M46 170h0M49 109h0M43 172h0M58 102h0M52 86h0M47 162h0M68 82h0M60 100h0M48 121h0M55 85h0M51 147h0M55 113h0M46 161h0M56 136h0M43 136h0M59 88h0M57 109h0M49 175h0M53 154h0M48 175h0M55 123h0M50 126h0M61 105h0M51 125h0M55 99h0M46 169h0M53 128h0M63 91h0M63 87h0M49 93h0M52 96h0M48 166h0M66 86h0M62 87h0M43 172h0M60 85h0M54 113h0M47 151h0M47 171h0M48 98h0M49 129h0M49 155h0M51 145h0M48 161h0M43 175h0M51 100h0M42 91h0M49 159h0M52 121h0M45 180h0M52 149h0M56 113h0M48 126h0M49 162h0M49 134h0M49 161h0M54 128h0M57 84h0M48 175h0M50 175h0M50 122h0M47 170h0M53 106h0M53 133h0M47 178h0M55 153h0M48 167h0M55 92h0M51 128h0M56 108h0M45 138h0M58 82h0M52 139h0M44 170h0M58 105h0M56 122h0M49 160h0M44 137h0M58 110h0M44 165h0M58 112h0M51 80h0M60 95h0M44 169h0M45 178h0M52 102h0M45 134h0M55 115h0M44 163h0M49 114h0M52 111h0M49 123h0M55 119h0M44 172h0M42 168h0M47 173h0M50 180h0M51 147h0M52 125h0M60 114h0M60 93h0M55 110h0M53 134h0M48 163h0M48 163h0M48 126h0M49 130h0M56 141h0M56 116h0M63 82h0M56 86h0M54 147h0M45 179h0M51 104h0M48 175h0M52 91h0M49 171h0M49 164h0M49 107h0M48 140h0M53 152h0M57 114h0M48 172h0M47 178h0M54 126h0M58 99h0M54 136h0M50 154h0M51 126h0M54 104h0M52 132h0M51 133h0M45 162h0M59 111h0M48 174h0M52 88h0M49 160h0M47 159h0M57 120h0M50 91h0M46 161h0M42 174h0M44 176h0M59 83h0M53 127h0M54 92h0M42 154h0M47 165h0M57 89h0M45 102h0M62 87h0M59 111h0M49 134h0M49 178h0M58 133h0M51 163h0M51 137h0M51 116h0M60 131h0M53 156h0M47 178h0M45 177h0M48 118h0M40 162h0M56 106h0M47 156h0M55 112h0M41 179h0M52 143h0M53 133h0M55 108h0M41 143h0M46 157h0M43 176h0M54 140h0M53 155h0M56 138h0M58 88h0M45 159h0M57 89h0M49 162h0M46 180h0M47 151h0M48 149h0M56 127h0M53 109h0M49 155h0M52 153h0M58 135h0M46 163h0M49 158h0M60 82h0M54 124h0M67 84h0M53 137h0M46 129h0M54 108h0M53 158h0M57 101h0M60 113h0M55 91h0M44 176h0M49 155h0M53 116h0M49 120h0M43 178h0M47 150h0M48 163h0M50 130h0M48 149h0M62 88h0M62 90h0M45 178h0M50 117h0M46 115h0M54 137h0M45 174h0M51 156h0M51 135h0M45 177h0M65 82h0M45 178h0M52 126h0M58 114h0M44 154h0M58 92h0M50 116h0M50 146h0M53 94h0M44 139h0M52 130h0M51 145h0M54 149h0M50 115h0M46 123h0M49 171h0M53 143h0M50 151h0M48 135h0M50 163h0M51 156h0M52 135h0M48 175h0M47 178h0M53 149h0M54 154h0M51 143h0M45 137h0M62 99h0M46 178h0M42 178h0M45 133h0M48 176h0M54 109h0M52 100h0M53 164h0M51 124h0M53 135h0M45 166h0M44 178h0M47 141h0M44 164h0M58 119h0M49 163h0M50 144h0M58 129h0M52 116h0M51 162h0M57 133h0M53 86h0M45 169h0M48 127h0M56 115h0M59 126h0M60 100h0M56 154h0M50 125h0M46 174h0M46 167h0M53 152h0M47 174h0M44 99h0M48 84h0M58 102h0M55 152h0M55 105h0M49 170h0M57 111h0M44 164h0M50 115h0M47 143h0M55 100h0M59 106h0M64 90h0M48 180h0M45 166h0M60 84h0M50 139h0M50 102h0M49 130h0M51 146h0M48 161h0M43 150h0M47 154h0M45 155h0M51 165h0M51 180h0M55 99h0M56 116h0M50 109h0M52 117h0M57 101h0M58 121h0M44 173h0M49 152h0M53 144h0M47 154h0M48 171h0M63 97h0M55 122h0M46 180h0M46 178h0M49 129h0M51 165h0M47 178h0M51 155h0M52 146h0M50 169h0M51 142h0M61 89h0M58 109h0M51 108h0M52 134h0M45 176h0M51 170h0M45 172h0M45 164h0M53 110h0M46 177h0M65 89h0M45 170h0M48 153h0M58 87h0M53 102h0M47 139h0M48 165h0M54 109h0M59 89h0M48 161h0M45 177h0M47 145h0M47 176h0M48 178h0M45 174h0M49 163h0M47 158h0M53 99h0M56 93h0M42 175h0M59 108h0M54 141h0M45 174h0M62 86h0M56 105h0M51 143h0M49 157h0M63 91h0M54 125h0M52 134h0M47 171h0M50 126h0M47 178h0M46 180h0M47 136h0M46 179h0M47 168h0M60 108h0M57 119h0M47 146h0M59 87h0M48 154h0M48 85h0M49 157h0M43 179h0M53 142h0M46 161h0M44 180h0M67 80h0M45 173h0M57 103h0M47 148h0M49 169h0M55 136h0M58 118h0M56 125h0M62 87h0M57 119h0M46 156h0M43 176h0M50 104h0M58 140h0M56 110h0M46 177h0M41 166h0M59 91h0M41 178h0M49 152h0M50 177h0M52 143h0M62 98h0M52 141h0M52 135h0M59 114h0M44 154h0M55 107h0M55 87h0M51 115h0M47 143h0M46 145h0M66 96h0M53 119h0M46 173h0M42 160h0M50 167h0M52 116h0M55 103h0M46 174h0M46 179h0M46 158h0M47 160h0M45 96h0M48 169h0M45 179h0M47 155h0M51 117h0M52 125h0M43 154h0M53 93h0M49 162h0M46 138h0M47 179h0M62 112h0M63 86h0M50 173h0M49 157h0M53 93h0M46 166h0M52 115h0M54 104h0M49 141h0M47 175h0M48 177h0M60 103h0M53 83h0M45 180h0M48 144h0M68 87h0M52 125h0M55 118h0M40 179h0M58 94h0M46 160h0M63 101h0M50 129h0M44 151h0M51 142h0M57 96h0M46 167h0M45 142h0M56 121h0M54 89h0M64 100h0M52 152h0M56 109h0M46 163h0M51 96h0M52 156h0M48 135h0M55 111h0M53 118h0M52 117h0M53 156h0M58 112h0M50 131h0M43 143h0M57 92h0M48 143h0M46 156h0M48 136h0M56 119h0M50 160h0M51 135h0M51 101h0M50 179h0M49 173h0M51 127h0M54 106h0M47 169h0M53 146h0M57 128h0M55 103h0M54 84h0M50 168h0M42 165h0M56 100h0M52 144h0M51 158h0M60 85h0M52 140h0M55 83h0M55 124h0M48 157h0M60 117h0M56 118h0M45 178h0M60 112h0M53 131h0M43 180h0M51 95h0M43 163h0M46 168h0M46 178h0M67 112h0M56 146h0M47 168h0M47 173h0M50 149h0M51 155h0M45 174h0M60 110h0M48 93h0M59 99h0M47 173h0M59 106h0M52 123h0M54 104h0M49 166h0M47 168h0M57 101h0M54 93h0M52 105h0M51 179h0M47 178h0M55 99h0M56 109h0M46 167h0M48 147h0M54 118h0M50 172h0M50 175h0M50 130h0M55 135h0M40 155h0M53 129h0M52 117h0M52 149h0M54 151h0M54 104h0M51 158h0M54 105h0M55 139h0M55 138h0M56 122h0M60 83h0M56 106h0M61 81h0M51 157h0M50 119h0M47 96h0M43 180h0M58 109h0M47 160h0M51 146h0M51 138h0M49 158h0M43 170h0M48 167h0M51 115h0M42 175h0M43 177h0M54 84h0M50 142h0M45 174h0M57 146h0M48 154h0M50 148h0M54 106h0M43 179h0M47 174h0M47 161h0M49 147h0M54 149h0M58 133h0M46 163h0M55 104h0M53 128h0M52 115h0M52 118h0M39 180h0M42 154h0M51 84h0M44 160h0M48 157h0M59 106h0M46 154h0M47 153h0M52 104h0M63 95h0M61 96h0M48 171h0M43 180h0M48 163h0M49 82h0M52 153h0M60 94h0M60 93h0M42 159h0M58 88h0M61 94h0M48 181h0M62 83h0M50 114h0M52 114h0M45 175h0M52 121h0M48 135h0M54 111h0M43 128h0M45 147h0M55 103h0M50 162h0M48 164h0M51 108h0M52 140h0M50 144h0M48 145h0M50 123h0M53 96h0M47 117h0M50 131h0M58 115h0M46 174h0M45 173h0M50 178h0M50 111h0M61 94h0M56 119h0M56 97h0M54 137h0M45 170h0M62 83h0M48 145h0M56 84h0M53 114h0M48 130h0M43 173h0M51 99h0M45 173h0M56 119h0M45 95h0M58 81h0M47 167h0M46 172h0M55 81h0M50 161h0M55 89h0M52 126h0M46 162h0M47 111h0M58 135h0M51 119h0M62 125h0M43 159h0M58 83h0M49 98h0M43 87h0M47 147h0M53 148h0M52 83h0M46 144h0M42 176h0M54 80h0M55 131h0M50 147h0M61 135h0M44 178h0M51 83h0M49 155h0M52 147h0M53 125h0M43 146h0M55 94h0M53 149h0M51 149h0M51 171h0M45 156h0M52 99h0M55 142h0M49 164h0M47 179h0M49 131h0M47 144h0M45 159h0M46 170h0M47 163h0M60 86h0M43 172h0M56 130h0M50 161h0M60 80h0M47 171h0M49 133h0M46 177h0M50 176h0M45 150h0M53 94h0M44 159h0M57 106h0M46 113h0M58 97h0M56 103h0M55 92h0M50 141h0M51 112h0M51 102h0M51 132h0M52 134h0M48 173h0M49 159h0M52 132h0M45 162h0M62 91h0M56 109h0M43 172h0M56 107h0M48 163h0M54 104h0M53 111h0M58 84h0M46 176h0M55 84h0M42 147h0M55 151h0M50 171h0M47 147h0M54 87h0M49 151h0M54 95h0M47 176h0M52 92h0M44 169h0M53 80h0M47 170h0M55 82h0M59 99h0M55 142h0M49 129h0M43 178h0M47 172h0M51 148h0M49 162h0M46 163h0M44 166h0M42 178h0M45 179h0M45 147h0M69 85h0M51 162h0M60 127h0M52 167h0M52 120h0M47 120h0M57 94h0M49 148h0M44 175h0M59 123h0M57 87h0M52 129h0M47 160h0M48 165h0M44 176h0M46 144h0M47 164h0M51 148h0M61 102h0M53 137h0M58 106h0M50 172h0M63 85h0M56 115h0M57 103h0M47 137h0M51 149h0M48 173h0M46 165h0M46 167h0M42 177h0M61 147h0M62 102h0M48 152h0M44 146h0M50 150h0M45 145h0M48 131h0M50 107h0M46 172h0M60 118h0M47 123h0M49 180h0" stroke="#2a38ee" stroke-width="1.15" stroke-linecap="square" fill="none"/>
<path transform="translate(400.5,1135.5)" d="M48 180h0M51 158h0M57 132h0M58 86h0M57 109h0M66 95h0M45 177h0M55 140h0M55 164h0M45 180h0M51 151h0M51 90h0M51 119h0M50 148h0M53 105h0M52 97h0M44 171h0M57 133h0M51 163h0M48 85h0M60 86h0M52 172h0M51 168h0M52 132h0M51 170h0M52 122h0M52 94h0M58 119h0M50 92h0M63 91h0M51 167h0M44 138h0M58 85h0M50 176h0M47 125h0M50 145h0M57 109h0M52 130h0M52 167h0M59 86h0M44 167h0M57 97h0M53 159h0M48 168h0M46 170h0M42 165h0M49 128h0M48 90h0M48 161h0M48 171h0M53 163h0M48 152h0M46 165h0M55 98h0M47 163h0M51 137h0M48 81h0M62 84h0M60 134h0M48 178h0M45 168h0M49 150h0M54 110h0M46 151h0M48 172h0M48 158h0M54 111h0M45 129h0M47 132h0M52 85h0M48 149h0M50 174h0M47 135h0M53 97h0M41 143h0M47 150h0M46 159h0M54 144h0M57 113h0M47 161h0M48 168h0M51 115h0M68 85h0M50 119h0M53 156h0M57 91h0M57 97h0M51 86h0M54 134h0M55 120h0M53 113h0M49 112h0M49 122h0M47 157h0M60 95h0M57 92h0M50 171h0M50 105h0M47 122h0M45 179h0M50 173h0M44 169h0M56 139h0M50 114h0M49 140h0M50 153h0M49 175h0M50 131h0M50 173h0M53 117h0M52 81h0M54 105h0M57 95h0M49 159h0M53 112h0M62 97h0M49 150h0M57 152h0M42 130h0M49 142h0M54 122h0M49 139h0M53 81h0M44 179h0M60 113h0M50 149h0M50 128h0M42 178h0M43 141h0M56 109h0M47 163h0M61 95h0M43 178h0M46 176h0M44 166h0M44 166h0M52 112h0M55 113h0M47 146h0M50 164h0M59 88h0M45 172h0M42 175h0M48 143h0M58 110h0M40 170h0M59 84h0M46 84h0M46 169h0M44 105h0M47 164h0M52 148h0M48 176h0M50 117h0M54 108h0M47 157h0M50 173h0M48 172h0M42 162h0M50 153h0M44 175h0M52 98h0M58 97h0M49 176h0M47 150h0M51 144h0M46 173h0M48 153h0M58 83h0M62 123h0M49 179h0M48 177h0M42 180h0M59 95h0M47 154h0M55 108h0M45 176h0M52 145h0M52 157h0M48 160h0M48 117h0M55 131h0M52 145h0M56 107h0M53 145h0M54 163h0M57 93h0M50 140h0M52 125h0M48 154h0M47 134h0M45 179h0M53 83h0M45 177h0M50 157h0M55 116h0M52 148h0M59 112h0M46 164h0M55 110h0M50 121h0M52 112h0M54 116h0M46 178h0M57 134h0M51 141h0M47 148h0M50 148h0M49 161h0M47 180h0M44 154h0M45 160h0M56 112h0M48 151h0M55 135h0M53 94h0M52 152h0M48 176h0M46 160h0M55 121h0M53 136h0M51 134h0M41 176h0M47 175h0M56 148h0M58 104h0M48 147h0M61 89h0M60 82h0M51 84h0M58 125h0M50 100h0M53 146h0M48 138h0M45 163h0M46 127h0M48 162h0M48 171h0M60 86h0M53 130h0M54 140h0M51 144h0M52 92h0M56 122h0M50 157h0M61 90h0M45 124h0M46 120h0M60 86h0M56 125h0M57 93h0M49 168h0M57 84h0M52 173h0M56 95h0M59 81h0M58 107h0M48 138h0M59 90h0M53 87h0M49 173h0M52 81h0M53 158h0M60 93h0M54 91h0M57 95h0M48 162h0M57 101h0M43 159h0M51 134h0M44 168h0M58 117h0M50 180h0M51 115h0M50 153h0M47 155h0M55 109h0M54 102h0M50 110h0M52 85h0M48 181h0M52 133h0M46 150h0M49 130h0M51 105h0M50 129h0M53 101h0M48 121h0M57 103h0M43 177h0M53 102h0M47 107h0M55 145h0M54 114h0M46 179h0M43 177h0M54 98h0M43 173h0M50 137h0M46 177h0M44 132h0M55 121h0M54 88h0M57 94h0M45 148h0M64 83h0M58 104h0M60 95h0M49 159h0M52 175h0M52 117h0M62 87h0M48 135h0M47 177h0M58 111h0M54 107h0M47 178h0M46 121h0M51 96h0M61 109h0M46 160h0M69 90h0M43 176h0M42 165h0M45 177h0M53 113h0M55 85h0M47 113h0M53 110h0M46 168h0M49 160h0M54 89h0M54 133h0M54 120h0M50 111h0M59 85h0M52 153h0M50 154h0M48 91h0M53 152h0M44 178h0M51 139h0M57 98h0M56 98h0M51 149h0M46 159h0M60 100h0M46 178h0M51 99h0M59 99h0M46 147h0M49 179h0M46 144h0M46 149h0M49 173h0M48 179h0M47 174h0M53 124h0M44 180h0M50 128h0M47 167h0M51 138h0M46 176h0M50 138h0M45 156h0M49 137h0M51 175h0M50 145h0M49 153h0M44 135h0M56 115h0M50 153h0M51 110h0M47 159h0M58 115h0M44 174h0M56 130h0M49 138h0M52 106h0M55 106h0M51 134h0M48 168h0M44 177h0M48 163h0M53 150h0M53 159h0M48 122h0M51 134h0M44 179h0M42 180h0M51 104h0M52 104h0M53 126h0M46 143h0M51 141h0M46 176h0M58 98h0M55 133h0M46 140h0M50 177h0M59 129h0M54 146h0M51 146h0M60 108h0M52 107h0M54 105h0M47 122h0M53 148h0M43 171h0M58 133h0M41 180h0M45 177h0M53 92h0M53 151h0M52 124h0M52 141h0M46 172h0M44 174h0M45 150h0M54 105h0M45 174h0M51 116h0M47 160h0M60 100h0M49 165h0M47 129h0M52 149h0M49 139h0M56 107h0M46 179h0M63 94h0M53 81h0M53 124h0M50 98h0M43 150h0M48 177h0M49 164h0M56 109h0M49 180h0M49 139h0M46 172h0M53 123h0M52 128h0M53 129h0M48 146h0M46 140h0M53 88h0M53 103h0M53 131h0M48 118h0M50 84h0M68 91h0M45 157h0M58 103h0M41 175h0M47 174h0M55 110h0M57 116h0M53 108h0M42 91h0M46 127h0M44 166h0M55 126h0M47 95h0M53 109h0M52 142h0M50 102h0M50 143h0M53 164h0M51 136h0M48 96h0M53 137h0M53 146h0M52 97h0M55 123h0M47 140h0M46 173h0M46 167h0M48 129h0M47 160h0M51 96h0M58 84h0M49 140h0M60 93h0M52 144h0M48 169h0M58 94h0M47 169h0M48 165h0M53 120h0M54 80h0M50 168h0M59 93h0M48 154h0M58 92h0M58 89h0M50 175h0M62 80h0M53 147h0M46 145h0M58 92h0M52 142h0M46 172h0M48 123h0M48 156h0M52 111h0M48 173h0M53 151h0M43 180h0M51 154h0M42 139h0M53 147h0M45 163h0M55 96h0M45 155h0M56 147h0M54 141h0M47 174h0M55 81h0M55 100h0M43 165h0M50 147h0M46 163h0M51 150h0M44 164h0M57 105h0M53 147h0M53 90h0M49 136h0M61 104h0M62 107h0M48 174h0M52 174h0M53 107h0M45 162h0M45 149h0M45 164h0M48 145h0M52 92h0M50 148h0M46 174h0M52 151h0M71 87h0M57 127h0M49 178h0M52 127h0M55 142h0M49 154h0M54 108h0M50 171h0M48 167h0M55 115h0M60 101h0M53 136h0" stroke="#5a6cff" stroke-width="1.1" stroke-linecap="square" fill="none" stroke-opacity="0.85"/>
<ellipse cx="449.4" cy="1283.0" rx="4.9" ry="33" transform="rotate(6.8 449.4 1283.0)" fill="#2c40ec" opacity="0.8"/>
<ellipse cx="448.6" cy="1290.0" rx="3.9" ry="26" transform="rotate(6.8 448.6 1290.0)" fill="#1fa6ea" opacity="0.9"/>
<ellipse cx="447.9" cy="1296.0" rx="3.1" ry="18.5" transform="rotate(6.8 447.9 1296.0)" fill="#27d7a0"/>
<ellipse cx="447.4" cy="1300.0" rx="2.6" ry="13.5" transform="rotate(6.8 447.4 1300.0)" fill="#5be03a"/>
<ellipse cx="446.9" cy="1304.0" rx="2.0" ry="9.5" transform="rotate(6.8 446.9 1304.0)" fill="#e4e61e"/>
<ellipse cx="446.6" cy="1306.5" rx="1.4" ry="6.3" transform="rotate(6.8 446.6 1306.5)" fill="#f87a14"/>
<ellipse cx="446.5" cy="1307.5" rx="0.9" ry="4.2" transform="rotate(6.8 446.5 1307.5)" fill="#ee2a12"/>
<path transform="translate(400.5,1135.5)" d="M55 178h0M63 102h0M59 130h0M74 96h0M66 115h0M62 91h0M65 121h0M63 118h0M60 122h0M64 169h0M64 92h0M62 132h0M63 145h0M60 122h0M72 104h0M63 167h0M66 165h0M66 146h0M53 166h0M68 150h0M64 93h0M58 174h0M69 84h0M53 176h0M75 88h0M52 166h0M60 153h0M70 104h0M68 88h0M67 137h0M57 128h0M61 96h0M57 165h0M70 84h0M67 84h0M63 99h0M60 104h0M52 171h0M63 141h0M61 104h0M62 112h0M67 91h0M54 173h0M76 87h0M61 161h0M60 127h0M59 124h0M60 105h0M65 135h0M55 167h0M53 162h0M65 86h0M59 173h0M59 158h0M64 155h0M60 129h0M62 99h0M62 141h0M73 107h0M58 164h0M55 166h0M56 169h0M68 103h0M60 133h0M55 170h0M65 125h0M69 92h0M55 143h0M57 129h0M69 90h0M59 135h0M72 83h0M60 168h0M62 144h0M69 112h0M62 117h0M64 152h0M56 147h0M68 90h0M61 176h0M56 173h0M65 167h0M71 122h0M61 180h0M65 102h0M57 153h0M59 136h0M57 136h0M66 112h0M54 154h0M56 179h0M76 87h0M74 93h0M70 130h0M73 109h0M58 122h0M60 113h0M63 146h0M61 110h0M59 141h0M64 84h0M60 125h0M71 91h0M66 146h0M56 143h0M60 170h0M57 128h0M71 108h0M51 174h0M58 127h0M57 140h0M60 171h0M61 93h0M58 151h0M60 150h0M55 154h0M65 128h0M69 113h0M57 127h0M61 125h0M54 156h0M62 100h0M60 111h0M54 182h0M62 108h0M62 84h0M69 127h0M62 110h0M71 128h0M53 169h0M61 109h0M55 174h0M58 119h0M64 104h0M63 135h0M63 142h0M66 138h0M66 143h0M71 96h0M69 100h0M65 122h0M62 160h0M61 123h0M58 163h0M53 160h0M59 170h0M56 170h0M68 131h0M54 162h0M57 179h0M63 123h0M63 147h0M60 103h0M60 114h0M68 109h0M68 116h0M62 173h0M58 136h0M65 106h0M68 101h0M60 122h0M68 95h0M68 120h0M55 165h0M65 150h0M54 174h0M65 124h0M74 87h0M66 95h0M59 120h0M67 149h0M64 86h0M57 158h0M68 93h0M64 180h0M68 164h0M56 166h0M73 124h0M61 121h0M53 165h0M56 144h0M63 176h0M60 139h0M61 165h0M65 112h0M59 110h0M63 99h0M57 127h0M54 161h0M62 132h0M51 177h0M67 108h0M58 122h0M63 127h0M64 105h0M75 84h0M55 160h0M62 144h0M76 84h0M62 94h0M69 88h0M59 147h0M57 157h0M53 171h0M63 129h0M58 148h0M69 125h0M62 107h0M63 113h0M71 88h0M72 127h0M68 87h0M65 169h0M61 150h0M64 175h0M59 122h0M60 124h0M64 106h0M56 160h0M64 88h0M68 157h0M59 110h0M56 155h0M59 123h0M64 112h0M76 82h0M67 92h0M69 136h0M59 112h0M61 95h0M68 160h0M77 94h0M66 142h0M63 89h0M64 128h0M67 94h0M61 111h0M51 180h0M62 111h0M65 123h0M56 141h0M65 128h0M72 128h0M55 144h0M63 175h0M55 157h0M61 110h0M63 83h0M66 85h0M69 127h0M65 97h0M60 157h0M63 105h0M57 168h0M66 153h0M55 174h0M56 134h0M65 103h0M62 117h0M71 100h0M65 115h0M69 111h0M62 88h0M63 88h0M64 82h0M65 166h0M56 155h0M63 144h0M70 129h0M55 173h0M58 141h0M60 144h0M65 95h0M67 170h0M52 167h0M59 116h0M68 118h0M62 170h0M68 95h0M59 138h0M57 150h0M68 101h0M63 167h0M56 166h0M62 121h0M64 101h0M69 96h0M55 142h0M63 138h0M68 120h0M67 90h0M51 172h0M73 87h0M58 156h0M63 143h0M61 145h0M60 110h0M65 94h0M58 116h0M66 98h0M54 166h0M63 147h0M60 178h0M67 144h0M56 132h0M55 176h0M62 87h0M64 132h0M59 136h0M70 115h0M64 166h0M53 156h0M59 105h0M69 93h0M55 145h0M70 149h0M59 133h0M67 106h0M54 168h0M62 156h0M64 148h0M62 135h0M59 109h0M62 88h0M64 94h0M60 119h0M64 84h0M60 105h0M64 100h0M69 112h0M63 175h0M62 170h0M61 130h0M56 155h0M66 162h0M55 157h0M67 131h0M64 122h0M68 156h0M55 160h0M61 168h0M61 114h0M61 146h0M58 159h0M71 121h0M63 158h0M68 155h0M64 139h0M55 157h0M60 124h0M67 115h0M67 83h0M63 148h0M69 88h0M73 103h0M65 96h0M63 124h0M59 111h0M64 156h0M62 174h0M65 132h0M59 108h0M56 157h0M63 92h0M63 117h0M57 144h0M66 101h0M62 125h0M65 102h0M59 145h0M65 97h0M63 124h0M53 161h0M67 118h0M63 107h0M72 101h0M64 106h0M65 85h0M61 91h0M62 128h0M74 113h0M58 156h0M53 180h0M55 163h0M64 163h0M63 126h0M63 144h0M61 100h0M69 96h0M59 134h0M66 152h0M54 156h0M58 120h0M63 165h0M58 156h0M66 160h0M69 124h0M73 88h0M55 146h0M65 92h0M57 168h0M68 156h0M62 175h0M70 89h0M73 104h0M66 179h0M70 98h0M70 86h0M68 154h0M56 135h0M60 126h0M66 103h0M61 114h0M56 165h0M67 116h0M63 114h0M76 82h0M73 97h0M60 129h0M55 154h0M54 159h0M72 83h0M56 162h0M57 138h0M67 86h0M59 127h0M63 177h0M69 94h0M63 91h0M63 94h0M61 95h0M68 85h0M64 130h0M67 126h0M71 127h0M62 88h0M51 174h0M60 129h0M61 112h0M53 175h0M71 110h0M71 127h0M67 130h0M59 147h0M66 119h0M57 159h0M63 142h0M56 152h0M59 142h0M61 97h0M74 93h0M57 176h0M57 174h0M64 97h0M63 98h0M71 94h0M64 107h0M57 173h0M57 134h0M68 103h0M73 119h0M62 124h0M55 146h0M73 92h0M68 140h0M57 139h0M64 103h0M68 146h0M60 146h0M55 156h0M57 163h0M60 140h0M66 175h0M64 83h0M72 92h0M58 160h0M73 91h0M54 148h0M53 161h0M61 113h0M72 121h0M66 179h0M63 90h0M76 91h0M54 160h0M65 87h0M65 94h0M74 101h0M57 160h0M57 152h0M66 174h0M53 179h0M70 137h0M54 177h0M62 113h0M70 101h0M53 161h0M68 124h0M64 97h0M61 141h0M62 89h0M61 124h0M51 171h0M64 133h0M64 153h0M72 115h0M71 84h0M69 148h0M56 163h0M60 134h0M62 142h0M73 109h0M60 101h0M58 149h0M62 128h0M69 106h0M57 128h0M61 135h0M66 156h0M64 88h0M65 163h0M55 161h0M61 163h0M67 176h0M63 97h0M53 167h0M62 104h0M53 172h0M65 82h0M53 165h0M63 81h0M59 129h0M67 168h0M57 124h0M64 138h0M70 125h0M54 165h0M70 109h0M59 138h0M66 100h0M62 86h0M55 160h0M62 111h0M62 119h0M61 88h0M67 163h0M66 125h0M59 160h0M61 156h0M56 146h0M66 154h0M71 118h0M57 133h0M68 117h0M57 166h0M68 114h0M56 140h0M58 164h0M74 87h0M54 155h0M66 108h0M60 110h0M63 157h0M68 144h0M62 100h0M58 131h0M52 172h0M67 96h0M62 87h0M58 147h0M59 112h0M66 166h0M66 151h0M64 102h0M65 102h0M72 107h0M60 126h0M65 154h0M61 174h0M72 109h0M74 105h0M61 94h0M61 127h0M70 96h0M57 156h0M58 174h0M58 129h0M60 134h0M63 129h0M66 172h0M56 163h0M67 126h0M62 95h0M61 122h0M57 145h0M65 162h0M75 88h0M62 157h0M56 180h0M64 174h0M75 104h0M63 103h0M60 157h0M51 177h0M66 169h0M66 129h0M52 170h0M67 147h0M66 124h0M65 142h0M59 120h0M66 130h0M69 126h0M54 172h0M63 161h0M56 143h0M69 124h0M56 156h0M60 106h0M63 106h0M53 167h0M67 142h0M58 174h0M63 84h0M67 94h0M57 160h0M59 130h0M64 91h0M65 165h0M66 129h0M64 145h0M59 162h0M67 145h0M67 100h0M61 163h0M57 138h0M62 161h0M64 117h0M68 86h0M70 83h0M64 115h0M58 130h0M66 96h0M66 125h0M60 157h0M62 176h0M56 175h0M66 162h0M58 120h0M70 82h0M66 91h0M75 83h0M67 93h0M72 100h0M69 100h0M65 150h0M67 124h0M56 158h0M63 93h0M58 134h0M56 140h0M67 94h0M61 99h0M65 131h0M56 152h0M63 110h0M67 81h0M72 98h0M57 158h0M64 163h0M57 129h0M57 175h0M63 84h0M59 150h0M69 105h0M58 135h0M61 132h0M58 126h0M72 111h0M75 89h0M67 169h0M59 175h0M63 91h0M57 129h0M69 143h0M61 164h0M55 176h0M56 166h0M59 113h0M63 89h0M57 149h0M65 116h0M56 176h0M62 157h0M56 165h0M61 91h0M55 173h0M53 158h0M55 159h0" stroke="#3040f0" stroke-width="1.1" stroke-linecap="square" fill="none" stroke-opacity="0.95"/>
<path transform="translate(400.5,1135.5)" d="M131 161h0M99 103h0M101 105h0M74 131h0M80 120h0M75 98h0M53 176h0M85 137h0M54 177h0M99 127h0M169 114h0M117 129h0M57 162h0M97 165h0M160 125h0M86 85h0M79 146h0M77 100h0M82 149h0M150 136h0M76 138h0M78 128h0M64 90h0M147 159h0M69 102h0M69 175h0M81 134h0M80 106h0M99 98h0M78 132h0M78 164h0M55 147h0M159 89h0M95 124h0M94 129h0M89 121h0M76 116h0M68 103h0M73 90h0M70 120h0M75 140h0M61 166h0M63 145h0M76 164h0M136 120h0M116 122h0M84 121h0M119 169h0M171 104h0M102 86h0M129 92h0M82 142h0M178 181h0M56 149h0M83 142h0M150 111h0M94 134h0M83 134h0M93 110h0M89 126h0M76 99h0M156 132h0M87 85h0M54 177h0M79 109h0M161 92h0M79 92h0M78 91h0M81 89h0M74 149h0M72 85h0M74 141h0M162 85h0M90 115h0M78 107h0M60 170h0M74 176h0M77 126h0M91 148h0M82 87h0M60 143h0M58 130h0M136 97h0M72 148h0M62 118h0M82 126h0M76 171h0M71 142h0M83 127h0M92 132h0M66 146h0M67 120h0M60 152h0M70 113h0M86 161h0M96 85h0M173 85h0M87 179h0M78 131h0M133 160h0M91 117h0M137 98h0M95 131h0M74 118h0M61 163h0M83 135h0M54 171h0M61 118h0M109 109h0M110 162h0M70 112h0M87 85h0M114 103h0M70 103h0M87 164h0M57 156h0M119 153h0M71 164h0M69 115h0M85 107h0M76 152h0M57 131h0M114 113h0M128 124h0M59 108h0M78 95h0M89 88h0M102 151h0M58 135h0M71 162h0M85 135h0M52 169h0M57 147h0M168 181h0M73 88h0M71 112h0M70 133h0M61 159h0M91 129h0M89 164h0M84 115h0M84 129h0M76 122h0M79 130h0M155 177h0M63 88h0M85 95h0M62 88h0M89 117h0M73 120h0M103 107h0M79 179h0M65 157h0M109 121h0M99 128h0M54 164h0M76 162h0M94 151h0M61 119h0M57 156h0M116 104h0M74 146h0M82 98h0M86 101h0M71 160h0M54 161h0M69 120h0M79 138h0M53 156h0M86 109h0M78 94h0M78 134h0M116 101h0M102 141h0M82 105h0M80 113h0M63 103h0M78 103h0M87 102h0M72 116h0M85 134h0M119 121h0M78 100h0M58 138h0M61 101h0M74 140h0M59 146h0M135 121h0M79 139h0M177 129h0M61 157h0M72 141h0M77 97h0M106 133h0M90 133h0M92 151h0M118 140h0M119 169h0M57 139h0M73 163h0M77 110h0M103 118h0M54 175h0M85 166h0M94 144h0M86 103h0M80 158h0M78 139h0M84 172h0M66 90h0M65 131h0M54 168h0M130 125h0M72 139h0M107 92h0M77 161h0M79 100h0M142 158h0M65 138h0M69 97h0M91 180h0M95 128h0M81 113h0M56 156h0M95 87h0M115 159h0M62 165h0M66 121h0M74 158h0M105 90h0M88 103h0M98 111h0M62 168h0M146 137h0M139 102h0M77 98h0M153 146h0M82 112h0M156 135h0M84 83h0M85 136h0M81 124h0M93 131h0M86 82h0M87 136h0M60 143h0M90 98h0M176 97h0M61 147h0M87 133h0M76 172h0M102 122h0M71 148h0M83 177h0M87 131h0M87 156h0M66 111h0M52 174h0M78 175h0M106 98h0M79 145h0M86 100h0M77 137h0M78 176h0M62 110h0M92 102h0M69 168h0M88 182h0M86 89h0M90 174h0M55 144h0M76 95h0M65 100h0M64 84h0M92 170h0M69 86h0M72 130h0M60 107h0M84 107h0M68 103h0M163 125h0M79 91h0M95 87h0M68 146h0M91 117h0M97 120h0M122 165h0M59 166h0M72 175h0M104 98h0M67 121h0M65 154h0M69 171h0M106 96h0M75 138h0M94 111h0M56 155h0M82 89h0M52 182h0M96 125h0M73 133h0M98 166h0M57 179h0M80 90h0M95 99h0M85 94h0M91 96h0M94 127h0M80 117h0M74 132h0M63 131h0M70 159h0M76 121h0M58 176h0M132 120h0M121 176h0M113 177h0M64 83h0M69 137h0M58 144h0M104 144h0M70 110h0M83 169h0M83 105h0M70 91h0M145 138h0M77 101h0M77 96h0M116 82h0M78 157h0M103 152h0M68 84h0M73 139h0M89 95h0M86 102h0M84 89h0M59 121h0M87 107h0M98 135h0M109 116h0M61 90h0M110 114h0M71 110h0M71 143h0M76 115h0M65 155h0M84 175h0M66 137h0M67 127h0M71 119h0M101 99h0M96 90h0M98 159h0M185 142h0M89 160h0M77 132h0M97 145h0M77 98h0M71 89h0M83 122h0M84 96h0M102 110h0M59 124h0M154 119h0M78 131h0M134 120h0M87 83h0M106 114h0M76 108h0M95 176h0M100 161h0M83 127h0M75 113h0M105 176h0M81 141h0M69 94h0M76 105h0M99 84h0M62 95h0M84 115h0M85 94h0M54 158h0M68 178h0M90 127h0M67 145h0M80 103h0M79 146h0M100 100h0M61 144h0M73 155h0M88 89h0M72 144h0M98 105h0M76 84h0M86 129h0M58 175h0M58 175h0M85 92h0M139 86h0M92 135h0M70 161h0M78 170h0M87 172h0M71 151h0M72 138h0M83 118h0M60 133h0M87 126h0M62 172h0M86 150h0M115 154h0M97 125h0M102 119h0M77 143h0M136 134h0M79 129h0M73 101h0M60 105h0M68 165h0M120 162h0M78 117h0M76 107h0M94 91h0M91 93h0M96 85h0M52 169h0M91 145h0M97 157h0M127 144h0M95 83h0M101 110h0M147 165h0M66 164h0M89 136h0M89 100h0M78 93h0M61 135h0M106 141h0M82 108h0M80 152h0M78 96h0M91 162h0M84 137h0M85 174h0M71 156h0M77 137h0M120 96h0M101 134h0M79 128h0M57 140h0M80 88h0M178 132h0M54 150h0M103 129h0M105 92h0M88 109h0M64 109h0M93 161h0M137 101h0M93 166h0M63 111h0M99 140h0M93 104h0M119 173h0M106 114h0M65 156h0M92 179h0M77 93h0M98 104h0M83 169h0M106 129h0M97 85h0M125 126h0M87 88h0M69 156h0M54 175h0M119 143h0M71 167h0M130 97h0M99 106h0M71 168h0M67 132h0M77 101h0M114 165h0M138 99h0M158 133h0M95 137h0M76 124h0M98 94h0M88 158h0M71 153h0M77 98h0M63 103h0M89 143h0M71 157h0M73 143h0M57 130h0M81 88h0M73 126h0M109 149h0M90 107h0M146 173h0M112 89h0M106 134h0M88 112h0M127 120h0M61 96h0M60 108h0M113 92h0M86 134h0M90 104h0M65 115h0M83 148h0M84 91h0M91 153h0M91 180h0M103 89h0M115 112h0M95 94h0M76 101h0M76 115h0M115 106h0M99 92h0M69 176h0M91 130h0M71 160h0M65 156h0M120 119h0M84 132h0M86 158h0M87 172h0M90 98h0M106 134h0M90 159h0M71 94h0M128 137h0M86 157h0M119 121h0M75 162h0M69 104h0M84 89h0M112 178h0M89 105h0M92 136h0M106 159h0M102 105h0M64 161h0M103 177h0M61 122h0M88 135h0M101 176h0M61 88h0M114 112h0M60 180h0M153 159h0M77 136h0M68 136h0M96 144h0M70 166h0M82 93h0M69 102h0M95 123h0M97 124h0M89 157h0M75 164h0M133 124h0M121 172h0M155 166h0M59 116h0M88 154h0M175 103h0M77 112h0M78 101h0M173 147h0M80 87h0M58 125h0M70 93h0M96 116h0M94 123h0M73 149h0M85 93h0M96 101h0M63 120h0M92 162h0M136 122h0M79 144h0M160 166h0M103 149h0M88 136h0M104 90h0M83 92h0M55 158h0M100 162h0M111 151h0M95 106h0M98 146h0M101 131h0M79 88h0M83 81h0M68 162h0M107 93h0M76 130h0M83 139h0M88 138h0M103 116h0M72 146h0M104 109h0M83 92h0M77 118h0M81 129h0M145 111h0M71 101h0M73 118h0M83 94h0M81 107h0M65 135h0M83 107h0M91 88h0M67 101h0M103 109h0M103 162h0M95 105h0M108 155h0M87 101h0M118 140h0M101 82h0M98 138h0M63 94h0M63 134h0M97 117h0M59 126h0M96 171h0M76 98h0M106 175h0M59 166h0M58 129h0M106 143h0M114 113h0M77 135h0M78 106h0M84 144h0M81 120h0M114 147h0M59 174h0M55 157h0M58 150h0M130 103h0M71 162h0M59 106h0M67 141h0M75 89h0M91 101h0M94 145h0M53 170h0M86 93h0M84 114h0M60 112h0M54 172h0M59 148h0M77 96h0M87 148h0M61 178h0M76 170h0M122 116h0M102 101h0M65 135h0M119 138h0M58 151h0M92 164h0M61 117h0M80 89h0M84 173h0M121 147h0M58 153h0M58 143h0M112 147h0M113 139h0M85 118h0M66 144h0M72 116h0M109 116h0M71 149h0M100 89h0M99 143h0M78 162h0M160 145h0M106 135h0M88 146h0M152 179h0M121 153h0M74 179h0M98 146h0M107 141h0M59 109h0M62 91h0M65 107h0M75 159h0M101 86h0M142 156h0M136 166h0M84 148h0M65 96h0M78 145h0M86 82h0M59 150h0M58 151h0M70 161h0M74 117h0M63 128h0M56 149h0M63 90h0M71 149h0M91 173h0M164 157h0M172 120h0M64 180h0M63 85h0M123 122h0M98 114h0M76 147h0M90 87h0M97 90h0M79 127h0M84 102h0M79 128h0M115 91h0M96 122h0M87 93h0M72 165h0M59 125h0M85 126h0M96 125h0M79 153h0M94 172h0M76 101h0M130 164h0M130 110h0M100 86h0M100 160h0M75 97h0M118 89h0M82 114h0M74 138h0M81 100h0M63 84h0M78 87h0M65 82h0M89 99h0M141 173h0M72 142h0M60 137h0M96 137h0M62 113h0M125 133h0M74 172h0M173 110h0M73 125h0M89 89h0M140 152h0M83 148h0M83 148h0M86 127h0M62 86h0M77 126h0M60 107h0M80 145h0M81 91h0M102 164h0M63 163h0M111 121h0M93 116h0M66 99h0M97 103h0M178 141h0M80 84h0M76 153h0M145 84h0M81 108h0M88 131h0M80 95h0M83 165h0M99 127h0M75 164h0M74 153h0M130 85h0M134 89h0M116 84h0M73 154h0M132 158h0M98 83h0M57 146h0M139 129h0M54 168h0M116 120h0M97 95h0M55 178h0M86 147h0M186 132h0M83 153h0M80 174h0M97 172h0M106 100h0M74 85h0M85 99h0M52 179h0M91 133h0M89 151h0M83 130h0M86 119h0M64 87h0M96 137h0M65 153h0M114 134h0M73 141h0M76 108h0M65 132h0M120 139h0M149 110h0M77 100h0M127 83h0M78 100h0M164 99h0M103 103h0M86 109h0M111 141h0M54 154h0M76 114h0M91 144h0M76 133h0M71 159h0M72 97h0M115 87h0M67 101h0M73 143h0M73 158h0M71 151h0M148 126h0M104 90h0M92 116h0M57 149h0M82 116h0M86 126h0M82 92h0M98 81h0M93 172h0M166 128h0M85 168h0M84 167h0M91 98h0M90 150h0M143 139h0M105 98h0M150 123h0M83 94h0M79 130h0M137 101h0M85 105h0M104 167h0M76 112h0M54 168h0M84 130h0M85 164h0M103 162h0M54 179h0M87 140h0M76 140h0M63 124h0M67 148h0M57 170h0M68 133h0M65 174h0M72 155h0M110 133h0M132 124h0M69 101h0M58 161h0M154 93h0M82 166h0M99 121h0M74 101h0M87 138h0M84 120h0M76 136h0M106 161h0M183 85h0M91 166h0M83 83h0M56 143h0M113 127h0M94 173h0M77 98h0M66 155h0M67 124h0M119 131h0M76 127h0M92 182h0M129 108h0" stroke="#5566ff" stroke-width="1.05" stroke-linecap="square" fill="none" stroke-opacity="0.8"/>
<path d="M447.3 1326.5L464.1 1214.8L585.0 1214.8" stroke="#222" stroke-width="1.2" fill="none" stroke-linejoin="miter"/>
<text x="748.0" y="1116.8" font-size="28" font-weight="bold" text-anchor="middle">Normoxia</text>
<rect x="658.8" y="1135.4" width="185.7" height="191.1" fill="none" stroke="#3a3a3a" stroke-width="1.1"/>
<line x1="652.3" y1="1144.6" x2="658.8" y2="1144.6" stroke="#333" stroke-width="1.1"/>
<text x="651.3" y="1149.0" font-size="12.4" text-anchor="end" fill="#2a2a2a">250K</text>
<line x1="652.3" y1="1180.9" x2="658.8" y2="1180.9" stroke="#333" stroke-width="1.1"/>
<text x="651.3" y="1185.3" font-size="12.4" text-anchor="end" fill="#2a2a2a">200K</text>
<line x1="652.3" y1="1217.1" x2="658.8" y2="1217.1" stroke="#333" stroke-width="1.1"/>
<text x="651.3" y="1221.5" font-size="12.4" text-anchor="end" fill="#2a2a2a">150K</text>
<line x1="652.3" y1="1253.4" x2="658.8" y2="1253.4" stroke="#333" stroke-width="1.1"/>
<text x="651.3" y="1257.8" font-size="12.4" text-anchor="end" fill="#2a2a2a">100K</text>
<line x1="652.3" y1="1289.6" x2="658.8" y2="1289.6" stroke="#333" stroke-width="1.1"/>
<text x="651.3" y="1294.0" font-size="12.4" text-anchor="end" fill="#2a2a2a">50K</text>
<line x1="652.3" y1="1325.9" x2="658.8" y2="1325.9" stroke="#333" stroke-width="1.1"/>
<text x="651.3" y="1330.3" font-size="12.4" text-anchor="end" fill="#2a2a2a">0</text>
<path d="M655.6 1318.6h3.2M655.6 1311.4h3.2M655.6 1304.1h3.2M655.6 1296.9h3.2M655.6 1282.4h3.2M655.6 1275.1h3.2M655.6 1267.9h3.2M655.6 1260.6h3.2M655.6 1246.1h3.2M655.6 1238.9h3.2M655.6 1231.6h3.2M655.6 1224.4h3.2M655.6 1209.9h3.2M655.6 1202.6h3.2M655.6 1195.4h3.2M655.6 1188.1h3.2M655.6 1173.6h3.2M655.6 1166.4h3.2M655.6 1159.1h3.2M655.6 1151.9h3.2" stroke="#555" stroke-width="0.7"/>
<line x1="669.5" y1="1326.5" x2="669.5" y2="1332.0" stroke="#333" stroke-width="1.1"/>
<line x1="731.3" y1="1326.5" x2="731.3" y2="1332.0" stroke="#333" stroke-width="1.1"/>
<line x1="782.0" y1="1326.5" x2="782.0" y2="1332.0" stroke="#333" stroke-width="1.1"/>
<line x1="826.3" y1="1326.5" x2="826.3" y2="1332.0" stroke="#333" stroke-width="1.1"/>
<path d="M746.6 1326.5v3M755.5 1326.5v3M761.8 1326.5v3M766.7 1326.5v3M770.8 1326.5v3M774.1 1326.5v3M777.1 1326.5v3M779.7 1326.5v3M795.3 1326.5v3M803.1 1326.5v3M808.7 1326.5v3M813.0 1326.5v3M816.5 1326.5v3M819.4 1326.5v3M822.0 1326.5v3M824.3 1326.5v3M839.6 1326.5v3M709.2 1326.5v3M699.4 1326.5v3M712.3 1326.5v3M695.2 1326.5v3M715.0 1326.5v3M691.5 1326.5v3M717.6 1326.5v3M687.9 1326.5v3M720.1 1326.5v3M684.6 1326.5v3M722.5 1326.5v3M681.4 1326.5v3M724.8 1326.5v3M678.3 1326.5v3M727.0 1326.5v3M675.3 1326.5v3M729.2 1326.5v3M672.4 1326.5v3" stroke="#555" stroke-width="0.7"/>
<rect x="699.5" y="1326.5" width="4.5" height="3" fill="#222"/>
<text x="671.0" y="1343.8" font-size="12.4" fill="#2a2a2a" text-anchor="middle">-10<tspan dy="-4.5" font-size="8.5">3</tspan></text>
<text x="736.1" y="1343.8" font-size="12.4" fill="#2a2a2a" text-anchor="middle">10<tspan dy="-4.5" font-size="8.5">3</tspan></text>
<text x="786.8" y="1343.8" font-size="12.4" fill="#2a2a2a" text-anchor="middle">10<tspan dy="-4.5" font-size="8.5">4</tspan></text>
<text x="831.1" y="1343.8" font-size="12.4" fill="#2a2a2a" text-anchor="middle">10<tspan dy="-4.5" font-size="8.5">5</tspan></text>
<text x="705.0" y="1343.8" font-size="12.4" text-anchor="middle" fill="#2a2a2a">0</text>
<text x="839.5" y="1183.2" font-size="36" text-anchor="end">53.0%</text>
<path transform="translate(658.5,1135.5)" d="M132 117h0M133 148h0M125 139h0M131 155h0M111 150h0M97 145h0M42 179h0M127 156h0M144 144h0M137 166h0M57 177h0M86 160h0M70 160h0M79 165h0M140 93h0M126 123h0M81 151h0M120 115h0M150 160h0M85 148h0M65 178h0M138 142h0M154 102h0M65 175h0M67 177h0M71 156h0M142 164h0M97 165h0M94 113h0M118 159h0M96 135h0M39 149h0M149 88h0M137 112h0M67 156h0M48 178h0M74 159h0M166 133h0M139 96h0M95 156h0M120 150h0M138 158h0M136 111h0M138 120h0M136 117h0M142 128h0M139 149h0M175 135h0M76 167h0M163 153h0M117 128h0M81 161h0M130 129h0M94 164h0M71 154h0M112 164h0M69 152h0M122 126h0M89 153h0M125 152h0M107 72h0M122 83h0M136 96h0M173 87h0M109 159h0M100 92h0M144 100h0M120 120h0M130 141h0M112 152h0M74 164h0M128 122h0M116 155h0M52 151h0M134 148h0M131 144h0M146 87h0M31 165h0M96 160h0M139 125h0M129 141h0M105 153h0M125 147h0M131 118h0M122 124h0M90 100h0M83 165h0M143 77h0M135 103h0M54 158h0M176 175h0M104 149h0M80 157h0M136 72h0M45 176h0M106 156h0M108 76h0M49 154h0M162 155h0M104 161h0M133 126h0M113 103h0M128 109h0M147 161h0M139 83h0M136 100h0M81 162h0M47 178h0M136 98h0M86 115h0M146 126h0M103 158h0M106 161h0M125 89h0M115 158h0M119 92h0M146 80h0M97 128h0M115 164h0M73 120h0M130 156h0M125 101h0M147 123h0M104 109h0M112 157h0M103 164h0M128 93h0M78 178h0M125 100h0M98 86h0M118 97h0M144 139h0M99 155h0M154 181h0M167 170h0M128 97h0M130 86h0M158 129h0M141 124h0M75 135h0M83 153h0M147 93h0M104 153h0M162 136h0M160 104h0M123 119h0M152 165h0M160 179h0M86 172h0M105 161h0M99 158h0M49 175h0M109 155h0M34 162h0M115 162h0M137 151h0M160 128h0M154 155h0M139 176h0M119 143h0M139 163h0M81 154h0M44 151h0M142 178h0M92 122h0M115 153h0M74 177h0M127 147h0M108 152h0M126 130h0M105 163h0M59 157h0M153 157h0M131 80h0M121 102h0M92 158h0M148 175h0M80 146h0M122 155h0M101 154h0M54 157h0M58 178h0M102 151h0M145 73h0M125 154h0M132 133h0M102 155h0M65 173h0M151 150h0M95 90h0M133 150h0M147 168h0M147 127h0M56 155h0M144 92h0M126 153h0M168 163h0M125 133h0M128 110h0M151 154h0M94 162h0M90 146h0M77 150h0M156 80h0M102 161h0M139 136h0M157 96h0M144 141h0M135 136h0M87 163h0M122 158h0M157 160h0M77 153h0M47 155h0M41 179h0M104 163h0M97 73h0M143 147h0M138 72h0M142 151h0M105 156h0M111 160h0M57 151h0M81 178h0M109 164h0M103 158h0M107 152h0M129 161h0M82 162h0M55 181h0M120 114h0M69 164h0M85 99h0M157 151h0M100 126h0M98 76h0M96 149h0M41 165h0M97 93h0M131 100h0M65 165h0M141 101h0M135 71h0M70 180h0M113 159h0M134 118h0M49 157h0M66 168h0M123 150h0M128 87h0M72 167h0M104 155h0M39 165h0M93 151h0M125 153h0M45 160h0M40 158h0M73 119h0M88 182h0M41 162h0M44 177h0M71 158h0M144 93h0M118 156h0M134 98h0M107 160h0M121 100h0M150 156h0M65 151h0M148 150h0M57 159h0M137 163h0M72 163h0M139 109h0M52 179h0M125 140h0M75 124h0M128 127h0M134 93h0M141 73h0M45 152h0M144 77h0M138 145h0M102 164h0M142 154h0M134 121h0M143 113h0M103 91h0M145 100h0M108 136h0M86 179h0M75 179h0M99 150h0M139 98h0M122 83h0M43 177h0M59 182h0M130 135h0M86 152h0M127 92h0M32 172h0M63 146h0M124 144h0M114 157h0M131 139h0M102 163h0M90 154h0M105 155h0M45 154h0M113 164h0M145 149h0M76 119h0M74 179h0M43 161h0M44 170h0M138 90h0M90 131h0M137 95h0M144 152h0M155 137h0M153 147h0M42 165h0M91 120h0M107 109h0M125 107h0M97 113h0M104 163h0M118 155h0M126 131h0M157 148h0M154 139h0M70 170h0M107 149h0M102 156h0M51 157h0M153 165h0M65 153h0M80 128h0M151 156h0M86 176h0M135 137h0M42 169h0M45 170h0M99 79h0M108 161h0M126 114h0M131 79h0M43 173h0M147 138h0M87 159h0M129 80h0M46 156h0M38 133h0M109 160h0M96 161h0M135 98h0M126 135h0M71 157h0M84 159h0M68 178h0M129 86h0M126 107h0M135 152h0M94 178h0M132 141h0M125 142h0M20 149h0M123 133h0M152 135h0M88 163h0M147 156h0M139 161h0M128 141h0M50 176h0M106 162h0M132 126h0M107 151h0M45 162h0M117 127h0M121 151h0M96 154h0M142 176h0M105 158h0M63 157h0M134 87h0M76 163h0M34 167h0M82 105h0M123 161h0M128 79h0M141 77h0M72 123h0M139 174h0M48 158h0M133 92h0M166 152h0M109 163h0M42 151h0M86 156h0M167 136h0M164 155h0M121 88h0M130 143h0M179 162h0M75 115h0M137 97h0M70 146h0M84 154h0M132 114h0M183 176h0M130 144h0M70 165h0M168 146h0M99 162h0M139 73h0M115 144h0M125 137h0M55 155h0M170 159h0M161 175h0M130 107h0M94 160h0M164 174h0M94 154h0M129 119h0M57 175h0M137 143h0M137 80h0M82 147h0M155 153h0M153 179h0M116 159h0M139 152h0M125 154h0M146 82h0M127 92h0M91 147h0M156 168h0M149 129h0M142 179h0M98 79h0M132 130h0M145 170h0M80 150h0M78 159h0M102 164h0M103 152h0M137 96h0M81 98h0M45 180h0M132 116h0M43 172h0M118 119h0M160 173h0M126 110h0M111 87h0M122 93h0M166 136h0M151 178h0M125 78h0M51 179h0M89 96h0M116 127h0M145 176h0M128 76h0M136 81h0M128 151h0M136 73h0M134 148h0M105 148h0M86 106h0M71 144h0M145 170h0M126 119h0M131 112h0M87 163h0M44 156h0M118 78h0M41 157h0M81 154h0M161 150h0M110 142h0M113 159h0M129 117h0M98 161h0M144 118h0M134 124h0M73 141h0M128 97h0M53 157h0M110 159h0M76 154h0M123 125h0M165 175h0M73 154h0M104 161h0M137 135h0M150 145h0M55 180h0M97 113h0M75 133h0M175 177h0M145 127h0M118 146h0M120 154h0M154 116h0M124 85h0M87 164h0M137 164h0M93 152h0M150 171h0M106 150h0M115 162h0M93 132h0M130 101h0M85 173h0M141 112h0M68 177h0M96 159h0M118 163h0M131 89h0M87 159h0M136 90h0M92 164h0M48 157h0M114 160h0M91 161h0M81 158h0M160 98h0M134 115h0M60 141h0M41 165h0M88 159h0M121 156h0M102 128h0M85 155h0M114 159h0M132 143h0M106 134h0M75 153h0M117 96h0M48 158h0M38 172h0M79 158h0M86 164h0M94 163h0M48 182h0M127 138h0M101 155h0M137 97h0M76 170h0M113 155h0M140 124h0M132 108h0M147 166h0M87 162h0M95 155h0M129 121h0M133 148h0M133 158h0M76 161h0M139 152h0M127 82h0M110 91h0M113 151h0M57 177h0M116 154h0M143 135h0M60 156h0M72 123h0M121 130h0M144 77h0M73 152h0M130 158h0M184 117h0M116 131h0M128 153h0M86 177h0M102 152h0M138 165h0M67 176h0M100 160h0M123 147h0M128 106h0M136 86h0M83 151h0M156 103h0M104 163h0M56 175h0M141 116h0M153 93h0M49 153h0M111 164h0M70 168h0M57 157h0M105 72h0M86 146h0M113 106h0M122 92h0M54 178h0M127 101h0M121 114h0M172 174h0M118 114h0M176 177h0M81 102h0M151 145h0M107 160h0M115 156h0M147 157h0M58 141h0M136 108h0M118 144h0M127 98h0M122 137h0M144 114h0M38 177h0M124 131h0M75 178h0M97 134h0M65 177h0M171 168h0M150 168h0M130 89h0M130 107h0M119 108h0M86 156h0M132 144h0M70 145h0M109 144h0M99 164h0M124 96h0M64 138h0M150 80h0M134 104h0M136 94h0M129 74h0M104 80h0M98 159h0M138 125h0M82 180h0M78 147h0M118 108h0M39 157h0M64 154h0M68 166h0M135 98h0M129 137h0M59 181h0M118 119h0M101 155h0M76 164h0M114 128h0M54 177h0M91 127h0M139 88h0M79 169h0M138 163h0M106 129h0M108 131h0M121 123h0M59 157h0M126 97h0M111 162h0M180 87h0M42 170h0M75 152h0M160 103h0M55 158h0M121 124h0M104 148h0M169 178h0M100 88h0M121 147h0M126 141h0M86 167h0M89 160h0M144 123h0M121 140h0M129 135h0M41 173h0M82 123h0M126 162h0M120 100h0M110 182h0M136 181h0M169 174h0M136 124h0M129 113h0M130 113h0M119 143h0M135 149h0M113 72h0M74 162h0M90 161h0M139 122h0M125 115h0M109 158h0M47 158h0M129 91h0M122 113h0M122 86h0M78 148h0M60 150h0M145 73h0M156 99h0M127 86h0M51 152h0M57 153h0M137 175h0M121 84h0M168 142h0M103 182h0M138 89h0M113 152h0M131 125h0M119 88h0M71 153h0M87 95h0M159 92h0M121 160h0M90 165h0M90 167h0M61 154h0M117 146h0M138 172h0M69 149h0M135 127h0M94 179h0M109 117h0M123 154h0M125 144h0M129 86h0M115 158h0M120 159h0M145 169h0M148 124h0M40 159h0M103 158h0M135 181h0M152 141h0M32 167h0M92 158h0M59 173h0M134 102h0M137 93h0M58 175h0M84 151h0M169 150h0M90 110h0M90 146h0M116 129h0M89 166h0M120 145h0M138 155h0M123 107h0M92 147h0M89 158h0M156 114h0M137 176h0M115 112h0M121 160h0M144 81h0M110 154h0M59 178h0M105 157h0M67 172h0M109 83h0M48 155h0M161 147h0M72 163h0M41 169h0M50 145h0M156 156h0M109 114h0M142 150h0M136 112h0M118 133h0M135 121h0M144 90h0M135 137h0M102 161h0M137 120h0M71 164h0M84 164h0M92 163h0M164 178h0M147 110h0M77 167h0M116 114h0M83 156h0M53 152h0M130 74h0M85 176h0M119 141h0M87 143h0M115 156h0M75 159h0M118 117h0M100 163h0M71 171h0M84 171h0M44 156h0M97 153h0M141 136h0M103 88h0M82 129h0M101 116h0M109 149h0M148 147h0M95 161h0M133 122h0M61 161h0M86 98h0M101 163h0M133 118h0M115 92h0M129 159h0M129 134h0M91 158h0M162 148h0M116 153h0M129 109h0M95 156h0M62 159h0M92 180h0M78 153h0M93 160h0M142 165h0M117 155h0M110 106h0M59 157h0M52 153h0M143 126h0M77 159h0M43 163h0M131 99h0M82 114h0M125 102h0M185 149h0M56 180h0M112 74h0M130 82h0M150 179h0M138 95h0M92 139h0M139 132h0M104 164h0M66 160h0M123 162h0M123 140h0M140 134h0M50 151h0M61 160h0M161 150h0M120 159h0M107 158h0M123 162h0M78 119h0M137 117h0M110 155h0M91 178h0M143 146h0M138 102h0M80 179h0M105 156h0M44 164h0M95 163h0M120 109h0M107 145h0M75 158h0M94 157h0M116 156h0M51 157h0M90 165h0M64 157h0M126 87h0M110 159h0M158 137h0M80 101h0M54 152h0M68 179h0M132 110h0M146 173h0M151 139h0M71 154h0M171 178h0M141 145h0M109 142h0M143 72h0M80 152h0M43 144h0M103 116h0M66 155h0M166 178h0M79 178h0M69 166h0M69 158h0M126 140h0M87 164h0M40 170h0M125 106h0M67 161h0M127 134h0M35 158h0M120 95h0M118 153h0M38 164h0M96 138h0M119 156h0M145 76h0M91 161h0M52 155h0M68 160h0M37 172h0M72 156h0M130 75h0M140 141h0M134 155h0M115 140h0M102 156h0M103 127h0M150 164h0M97 74h0M85 159h0M88 130h0M140 151h0M123 137h0M117 73h0M49 174h0M137 135h0M93 165h0M77 178h0M94 121h0M74 177h0M135 84h0M61 151h0M75 161h0M103 155h0M113 157h0M45 158h0M80 104h0M121 113h0M112 147h0M127 133h0M84 147h0M138 174h0M137 141h0M138 172h0M29 176h0M49 156h0M132 152h0M129 99h0M115 91h0M124 74h0M139 163h0M125 96h0M40 161h0M101 156h0M106 160h0M119 152h0M145 90h0M157 157h0M120 109h0M40 165h0M127 134h0M140 176h0M132 100h0M137 143h0M98 128h0M116 75h0M136 148h0M108 84h0M86 162h0M46 157h0M87 175h0M128 115h0" stroke="#6070ff" stroke-width="1.05" stroke-linecap="square" fill="none" stroke-opacity="0.8"/>
<path transform="translate(658.5,1135.5)" d="M77 169h0M52 163h0M152 154h0M48 176h0M122 163h0M44 173h0M142 99h0M91 169h0M71 154h0M117 166h0M131 107h0M131 163h0M35 170h0M65 173h0M69 170h0M125 77h0M80 175h0M89 164h0M160 130h0M111 155h0M59 169h0M92 171h0M92 165h0M115 165h0M70 161h0M60 172h0M123 179h0M109 77h0M115 179h0M140 86h0M123 87h0M85 169h0M125 111h0M117 168h0M124 139h0M69 158h0M69 166h0M39 159h0M124 94h0M89 170h0M124 164h0M43 171h0M129 104h0M86 116h0M103 163h0M109 139h0M143 147h0M94 164h0M72 162h0M103 167h0M54 158h0M93 148h0M68 142h0M82 156h0M83 179h0M73 136h0M131 159h0M82 164h0M96 180h0M119 164h0M80 176h0M143 165h0M32 165h0M111 165h0M103 167h0M92 168h0M96 179h0M139 170h0M97 180h0M101 165h0M86 170h0M71 142h0M58 162h0M60 176h0M83 162h0M124 163h0M97 162h0M119 151h0M70 169h0M39 167h0M123 118h0M97 153h0M122 174h0M114 165h0M116 162h0M70 123h0M96 100h0M121 165h0M77 126h0M133 178h0M68 167h0M90 178h0M126 146h0M99 162h0M116 165h0M112 151h0M133 76h0M69 163h0M87 177h0M91 178h0M131 161h0M97 168h0M151 120h0M72 154h0M88 127h0M125 94h0M78 159h0M124 166h0M117 116h0M44 175h0M84 163h0M91 165h0M115 176h0M75 166h0M124 164h0M63 165h0M162 143h0M127 169h0M70 173h0M116 74h0M106 169h0M129 169h0M119 176h0M133 164h0M53 152h0M58 160h0M108 169h0M115 153h0M115 162h0M49 162h0M181 106h0M102 163h0M75 152h0M57 165h0M134 93h0M81 100h0M60 165h0M122 104h0M94 175h0M136 149h0M99 162h0M147 96h0M137 130h0M88 159h0M85 163h0M87 175h0M127 162h0M125 167h0M127 157h0M60 158h0M79 160h0M58 174h0M113 165h0M69 171h0M126 161h0M127 163h0M110 153h0M144 174h0M107 163h0M121 165h0M93 171h0M108 161h0M43 162h0M88 134h0M121 166h0M56 152h0M142 107h0M66 167h0M60 175h0M105 157h0M78 174h0M94 150h0M127 176h0M143 86h0M140 166h0M68 154h0M65 174h0M128 168h0M142 170h0M60 173h0M52 168h0M76 161h0M92 151h0M129 169h0M102 164h0M47 176h0M122 96h0M66 161h0M135 73h0M155 138h0M147 85h0M102 87h0M55 168h0M123 104h0M144 102h0M139 165h0M82 142h0M91 173h0M130 160h0M101 166h0M131 105h0M103 85h0M142 124h0M72 121h0M96 168h0M129 140h0M77 151h0M130 117h0M53 167h0M64 166h0M163 179h0M61 177h0M122 166h0M125 83h0M48 167h0M111 162h0M127 166h0M91 97h0M134 176h0M139 136h0M106 166h0M126 167h0M80 178h0M110 163h0M92 172h0M96 156h0M162 149h0M95 168h0M105 165h0M103 146h0M104 166h0M131 96h0M78 169h0M112 144h0M139 145h0M108 83h0M103 140h0M110 82h0M133 172h0M81 155h0M65 138h0M63 153h0M133 176h0M125 118h0M133 158h0M77 167h0M69 144h0M128 162h0M136 119h0M123 161h0M115 127h0M38 154h0M127 151h0M67 175h0M99 167h0M103 177h0M90 144h0M78 163h0M131 139h0M64 151h0M131 169h0M65 155h0M120 162h0M128 98h0M153 162h0M61 166h0M163 144h0M45 179h0M87 169h0M136 165h0M154 177h0M110 165h0M29 168h0M121 167h0M53 159h0M129 111h0M62 165h0M94 170h0M65 168h0M121 122h0M94 155h0M138 96h0M92 76h0M134 175h0M109 162h0M104 169h0M96 164h0M144 112h0M53 170h0M32 177h0M98 169h0M136 91h0M109 166h0M118 147h0M35 161h0M121 177h0M59 170h0M57 178h0M127 172h0M97 99h0M126 175h0M172 119h0M110 159h0M109 150h0M99 169h0M82 159h0M92 170h0M115 174h0M126 143h0M113 147h0M98 89h0M104 165h0M128 91h0M125 147h0M133 87h0M113 158h0M108 118h0M71 169h0M116 146h0M134 139h0M136 102h0M132 77h0M128 137h0M98 165h0M59 169h0M163 123h0M147 92h0M115 128h0M83 146h0M133 121h0M131 132h0M57 161h0M62 171h0M122 85h0M93 169h0M67 171h0M143 152h0M98 105h0M56 169h0M45 170h0M169 163h0M75 153h0M138 80h0M128 130h0M59 177h0M117 168h0M75 161h0M107 154h0M59 153h0M60 162h0M112 170h0M106 169h0M59 162h0M122 173h0M80 167h0M94 85h0M125 157h0M57 172h0M92 157h0M90 172h0M92 157h0M76 162h0M123 165h0M95 84h0M47 157h0M84 153h0M90 151h0M108 153h0M47 168h0M100 165h0M124 110h0M82 175h0M128 173h0M79 156h0M96 176h0M81 179h0M131 109h0M81 166h0M148 91h0M104 167h0M106 166h0M130 105h0M72 133h0M144 99h0M92 172h0M69 169h0M129 113h0M136 106h0M114 165h0M118 110h0M86 169h0M135 177h0M96 169h0M83 160h0M107 178h0M112 160h0M95 124h0M47 167h0M106 163h0M139 101h0M74 164h0M129 170h0M92 172h0M113 161h0M88 169h0M137 140h0M89 149h0M62 162h0M141 142h0M63 161h0M129 142h0M92 147h0M60 171h0M132 175h0M110 163h0M116 166h0M125 89h0M132 176h0M61 168h0M97 163h0M149 178h0M143 160h0M95 147h0M47 159h0M158 122h0M91 161h0M124 178h0M91 77h0M57 171h0M87 159h0M131 177h0M132 128h0M124 110h0M91 168h0M59 157h0M122 146h0M90 168h0M129 135h0M114 134h0M130 102h0M85 168h0M119 168h0M132 165h0M162 138h0M100 152h0M58 162h0M97 160h0M133 115h0M115 132h0M64 162h0M144 175h0M114 171h0M127 129h0M141 151h0M136 144h0M71 124h0M109 158h0M69 171h0M77 157h0M119 178h0M129 174h0M120 167h0M97 177h0M88 171h0M111 168h0M107 116h0M41 171h0M128 162h0M68 153h0M86 179h0M134 142h0M129 120h0M140 172h0M118 128h0M79 161h0M111 163h0M103 147h0M138 140h0M87 173h0M53 161h0M132 149h0M49 172h0M181 83h0M73 153h0M79 165h0M107 101h0M121 155h0M83 174h0M130 173h0M84 169h0M100 150h0M133 168h0M62 157h0M140 174h0M99 172h0M128 119h0M113 165h0M130 178h0M37 163h0M127 156h0M92 176h0M55 180h0M88 177h0M142 89h0M120 177h0M69 166h0M56 159h0M83 174h0M72 128h0M125 153h0M87 164h0M108 169h0M125 131h0M135 166h0M117 154h0M87 157h0M46 163h0M125 94h0M75 172h0M134 96h0M114 105h0M125 166h0M157 110h0M140 122h0M95 160h0M173 152h0M109 168h0M84 167h0M76 149h0M75 162h0M110 161h0M57 179h0M66 169h0M114 157h0M134 99h0M92 124h0M47 156h0M118 156h0M127 95h0M133 163h0M114 164h0M63 164h0M62 181h0M54 159h0M40 167h0M143 143h0M117 151h0M98 158h0M52 164h0M107 165h0M63 174h0M100 158h0M31 165h0M69 171h0M95 147h0M130 158h0M136 168h0M114 137h0M134 162h0M132 144h0M70 179h0M161 173h0M32 149h0M121 168h0M56 160h0M133 150h0M57 159h0M74 175h0M51 171h0M124 102h0M153 138h0M87 175h0M102 165h0M131 144h0M138 157h0M80 137h0M36 161h0M93 173h0M173 178h0M96 130h0M118 179h0M128 136h0M81 175h0M68 178h0M36 167h0M122 84h0M52 176h0M87 160h0M72 158h0M65 175h0M67 176h0M107 75h0M105 167h0M120 140h0M135 135h0M128 150h0M110 166h0M48 168h0M63 140h0M81 118h0M122 164h0M134 135h0M70 154h0M113 174h0M132 138h0M78 107h0M100 179h0M106 162h0M40 159h0M62 147h0M126 154h0M89 174h0M100 166h0M80 134h0M107 161h0M103 161h0M121 175h0M47 171h0M76 168h0M133 108h0M129 97h0M113 162h0M72 178h0M132 134h0M85 168h0M158 90h0M54 175h0M90 165h0M118 164h0M105 164h0M56 146h0M124 105h0M123 172h0M59 145h0M122 167h0M64 168h0M135 157h0M117 177h0M154 164h0M74 159h0M133 176h0M121 179h0M104 166h0M82 179h0M124 167h0M67 156h0M138 153h0M81 150h0M73 165h0M127 162h0M124 175h0M127 156h0M57 165h0M115 154h0M103 166h0M99 163h0M133 175h0M123 109h0M107 163h0M134 159h0M71 170h0M120 163h0M52 171h0M164 179h0M147 140h0M98 157h0M119 94h0M94 167h0M51 173h0M75 181h0M73 169h0M119 172h0M81 179h0M120 173h0M125 138h0M148 168h0M64 135h0M135 88h0M151 107h0M131 166h0M103 127h0M121 179h0M169 164h0M68 145h0M140 174h0M106 159h0M72 124h0M111 159h0M40 162h0M122 156h0M168 148h0M64 164h0M68 165h0M126 119h0M133 168h0M133 175h0M92 178h0M155 85h0M159 179h0M107 158h0M63 163h0M131 155h0M129 161h0M117 165h0M111 164h0M93 166h0M61 159h0M136 173h0M52 157h0M133 100h0M84 171h0M91 179h0M67 174h0M81 159h0M133 150h0M84 170h0M130 129h0M94 164h0M133 175h0M119 110h0M56 176h0M103 77h0M129 154h0M98 150h0M74 178h0M130 177h0M115 167h0M99 166h0M129 104h0M87 139h0M104 178h0M93 174h0M120 108h0M110 158h0M59 163h0M66 175h0M136 121h0M130 175h0M115 175h0M110 163h0M138 161h0M108 164h0M139 83h0M131 80h0M113 131h0M130 152h0M42 160h0M122 87h0M151 97h0M124 140h0M106 182h0M114 164h0M131 172h0M108 169h0M138 140h0M155 160h0M153 167h0M96 167h0M49 157h0M91 172h0M125 143h0M124 160h0M79 161h0M71 167h0M102 157h0M119 155h0M41 167h0M102 177h0M117 118h0M63 148h0M91 175h0M119 78h0M137 156h0M147 178h0M58 174h0M121 96h0M94 166h0M110 98h0M109 177h0M96 178h0M51 171h0M90 173h0M119 164h0M151 83h0M69 170h0M67 170h0M165 167h0M40 173h0M139 90h0M101 168h0M99 156h0M126 174h0M86 177h0M134 167h0M112 166h0M98 169h0M124 78h0M63 154h0M132 133h0M110 179h0M115 158h0M103 156h0M110 104h0M48 170h0M130 84h0M125 169h0M73 179h0M127 154h0M151 131h0M107 166h0M101 151h0M130 122h0M114 160h0M93 171h0M124 131h0M150 150h0M133 174h0M135 127h0M77 166h0M134 133h0M75 152h0M104 146h0M67 166h0M101 169h0M82 160h0M122 141h0M153 102h0M70 163h0M132 175h0M127 182h0M149 138h0M120 178h0M59 173h0M58 174h0M119 169h0M140 133h0M93 173h0M142 125h0M55 165h0M122 74h0M119 165h0M110 178h0M124 167h0M160 159h0M92 177h0M67 163h0M95 167h0M118 171h0M113 164h0M75 166h0M139 110h0M103 178h0M79 173h0M98 165h0M122 168h0M127 171h0M138 134h0M132 165h0M79 111h0M80 173h0M64 163h0M106 170h0M110 158h0M87 172h0M62 161h0M107 164h0M110 167h0M115 162h0M60 163h0M130 159h0M105 152h0M109 120h0M128 90h0M124 177h0M106 165h0M133 166h0M57 175h0M80 170h0M134 117h0M104 166h0M118 163h0M134 177h0M134 179h0M125 79h0M96 169h0M70 180h0M75 122h0M123 167h0M109 166h0M62 162h0M151 127h0M152 176h0M68 171h0M117 166h0M145 88h0M103 120h0M108 159h0M129 135h0M53 162h0M161 169h0M96 169h0M91 174h0M58 173h0M114 170h0M88 176h0M137 132h0M134 83h0M130 161h0M61 154h0M130 175h0M99 175h0M48 165h0M123 103h0M123 123h0M68 167h0M116 125h0M48 168h0M84 169h0M52 159h0M131 163h0M81 161h0M91 141h0M88 95h0M70 152h0M104 167h0M86 174h0M92 163h0M103 159h0M97 115h0M117 129h0M124 92h0M125 154h0M61 166h0M137 120h0M113 160h0M109 165h0M49 157h0M44 175h0M76 163h0M105 162h0M75 156h0M91 172h0M50 176h0M75 165h0M117 163h0M122 164h0M57 151h0M183 121h0M51 178h0M94 80h0M116 175h0M49 168h0M102 162h0M95 175h0M92 152h0M123 175h0M117 109h0M144 156h0M55 178h0M93 172h0M52 159h0M118 166h0M130 175h0M77 141h0M122 109h0M142 91h0M111 93h0M129 166h0M48 179h0M68 157h0M94 156h0M126 166h0M125 168h0M107 163h0M114 164h0M96 165h0M125 166h0M59 166h0M46 160h0M115 175h0M70 172h0M98 176h0M135 73h0M135 99h0M44 162h0M124 167h0M89 163h0M125 138h0M44 169h0M166 128h0M128 168h0M123 169h0M120 79h0M106 168h0M134 148h0M105 132h0M121 157h0M75 170h0M128 176h0M62 173h0M105 168h0M156 146h0M69 165h0M112 158h0M107 163h0M59 169h0M123 162h0M113 159h0M74 170h0M83 176h0M114 160h0M130 99h0M91 161h0M119 160h0M138 170h0M49 168h0M140 108h0M64 154h0M101 169h0M52 168h0M58 168h0M66 160h0M133 101h0M160 171h0M99 158h0M83 169h0M84 171h0M71 175h0M78 176h0M159 164h0M120 127h0M93 136h0M157 85h0M133 167h0M115 162h0M113 168h0M51 166h0M82 169h0M110 163h0M106 147h0M116 177h0M138 88h0M131 131h0M117 172h0M74 151h0M106 164h0M129 165h0M93 163h0M76 180h0M105 166h0M126 118h0M52 170h0M122 176h0M134 178h0M109 179h0M92 172h0M110 178h0M130 167h0M92 176h0M122 168h0M73 153h0M115 163h0M113 90h0M104 118h0M135 100h0M118 166h0M64 172h0M128 174h0M143 149h0M141 119h0M112 167h0M62 162h0M139 79h0M134 127h0M67 167h0M91 171h0M104 73h0M61 168h0M135 119h0M149 72h0M133 71h0M174 112h0M127 171h0M79 178h0M138 94h0M113 92h0M67 166h0M110 110h0M158 102h0M65 157h0M51 150h0M101 154h0M156 173h0M60 157h0M110 169h0M182 174h0M147 162h0M136 125h0M137 149h0M70 166h0M85 119h0M59 172h0M86 159h0M136 117h0M118 104h0M128 171h0M35 142h0M54 170h0M120 138h0M128 145h0M96 144h0M118 176h0M117 167h0M124 129h0M142 147h0M132 174h0M123 158h0M143 152h0M95 173h0M127 177h0M128 180h0M111 179h0M137 136h0M123 159h0M64 164h0M63 168h0M142 110h0M79 160h0M89 173h0M122 151h0M67 146h0M131 107h0M90 179h0M120 162h0M142 140h0M97 174h0M119 173h0M113 179h0M116 176h0M171 177h0M106 161h0M118 157h0M130 94h0M135 176h0M122 81h0M131 178h0M65 157h0M72 172h0M119 109h0M114 168h0M114 175h0M73 170h0M88 169h0M111 159h0M129 125h0M100 165h0M59 173h0M152 91h0M137 109h0M51 161h0M60 173h0M126 94h0M83 139h0M140 71h0M126 177h0M120 73h0M121 163h0M128 172h0M40 169h0M92 165h0M128 141h0M124 178h0M146 143h0M92 147h0M100 143h0M127 129h0M93 163h0M68 174h0M147 98h0M49 164h0M122 84h0M150 152h0M145 170h0M57 166h0M61 170h0M168 179h0M108 159h0M104 159h0M49 157h0M96 155h0M133 166h0M147 115h0M149 173h0M51 164h0M118 90h0M123 173h0M122 179h0M133 84h0M118 143h0M125 177h0M68 144h0M123 174h0M120 170h0M147 164h0M55 161h0M89 175h0M78 171h0M79 173h0M132 168h0M71 155h0M130 168h0M139 83h0M100 162h0M119 163h0M118 179h0M89 175h0M115 156h0M75 170h0M130 91h0M95 177h0M58 165h0M47 161h0M54 161h0M82 158h0M117 171h0M65 159h0M120 73h0M150 79h0M123 165h0M117 153h0M112 163h0M47 153h0M128 174h0M96 160h0M49 173h0M109 179h0M64 166h0M103 168h0M104 98h0M85 158h0M119 144h0M111 165h0M134 173h0M121 82h0M144 166h0M132 173h0M48 170h0M146 84h0M112 169h0M143 84h0M164 129h0M51 168h0M130 170h0M86 162h0M128 164h0M152 179h0M133 131h0M153 133h0M99 164h0M89 119h0M113 162h0M88 136h0M69 161h0M116 165h0M81 172h0M94 172h0M120 87h0M91 160h0M127 153h0M129 143h0M125 176h0M141 97h0M74 139h0M104 168h0M133 82h0M91 172h0M86 159h0M137 77h0M163 117h0M96 165h0M131 145h0M136 152h0M77 175h0M124 175h0M92 166h0M81 178h0M131 71h0M77 171h0M115 161h0M46 157h0M53 156h0M185 162h0M63 157h0M134 126h0M104 76h0M91 174h0M49 171h0M122 157h0M98 172h0M127 158h0M69 177h0M104 167h0M63 171h0M109 159h0M143 119h0M43 162h0M105 166h0M125 174h0M70 174h0M132 151h0M105 104h0M144 165h0M134 130h0M125 159h0M113 165h0M64 175h0M73 157h0M178 86h0M137 155h0M109 164h0M103 165h0M121 178h0M81 154h0M167 179h0M97 161h0M121 153h0M64 166h0M102 79h0M123 172h0M84 167h0M95 155h0M69 144h0M123 140h0M43 174h0M69 147h0M42 160h0M133 168h0M125 98h0M175 88h0M90 178h0M135 179h0M99 175h0M125 161h0M71 175h0M141 131h0M73 167h0M120 168h0M160 104h0M43 179h0M62 170h0M127 99h0M109 162h0M53 172h0M134 155h0M107 164h0M155 179h0M142 96h0M117 158h0M130 118h0M99 178h0M94 167h0M95 166h0M134 164h0M45 168h0M124 96h0M118 85h0M66 162h0M117 160h0M93 127h0M92 176h0M51 158h0M43 157h0M126 170h0M126 175h0M96 164h0M106 163h0M63 170h0M140 105h0M67 177h0M101 161h0M171 160h0M50 171h0M131 178h0M126 168h0M91 164h0M176 179h0M61 169h0M68 173h0M68 165h0M154 78h0M117 76h0M105 100h0M54 159h0M79 171h0M62 175h0M93 166h0M98 166h0M110 160h0M61 164h0M121 124h0M131 134h0M49 178h0M162 173h0M110 150h0M45 164h0M114 161h0M110 155h0M151 85h0M109 165h0M74 175h0M90 159h0M154 90h0M118 159h0M97 168h0M137 123h0M129 83h0M52 166h0M90 176h0M105 167h0M105 166h0M112 160h0M125 148h0M101 169h0M123 137h0M90 124h0M44 155h0M64 169h0M136 73h0M59 171h0M105 177h0M96 171h0M91 159h0M89 170h0M106 163h0M65 163h0M68 173h0M129 157h0M67 166h0M97 169h0M145 105h0M42 162h0M104 163h0M114 164h0M72 170h0M88 172h0M132 159h0M96 158h0M104 146h0M98 165h0M81 154h0M129 92h0M42 169h0M41 159h0M57 167h0M114 175h0M93 154h0M59 162h0M54 169h0M116 161h0M95 174h0M79 181h0M152 98h0M95 170h0M79 177h0M165 137h0M107 104h0M172 179h0M69 142h0M72 178h0M109 161h0M134 129h0M147 159h0M125 173h0M139 160h0M108 150h0M53 175h0M122 138h0M37 160h0M130 96h0M66 175h0M78 169h0M54 169h0M90 161h0M101 169h0M56 157h0M48 174h0M98 166h0M84 167h0M94 169h0M134 155h0M137 142h0M95 169h0M105 161h0M119 140h0M93 178h0M139 76h0M62 168h0M130 168h0M50 155h0M107 166h0M136 153h0M137 88h0M82 181h0M72 161h0M131 163h0M124 125h0M146 93h0M138 159h0M138 75h0M114 170h0M110 162h0M97 135h0M132 88h0M69 165h0M148 161h0M99 167h0M130 177h0M126 170h0M75 157h0M133 158h0M154 154h0M89 172h0M45 165h0M56 165h0M72 164h0M79 171h0M141 75h0M128 112h0M116 152h0M132 128h0M107 165h0M131 163h0M132 72h0M137 155h0M129 150h0M119 112h0M68 174h0M88 176h0M132 172h0M89 153h0M140 139h0M109 162h0M79 163h0M67 171h0M54 166h0M83 176h0M74 154h0M117 154h0M126 159h0M82 168h0M82 161h0M129 93h0M136 132h0M144 153h0M144 155h0M60 156h0M120 175h0M130 77h0M108 167h0M92 138h0M106 157h0M78 117h0M88 160h0M106 160h0M133 169h0M93 169h0M90 169h0M112 96h0M65 174h0M129 76h0M101 162h0M118 155h0M130 163h0M80 171h0M97 170h0M123 120h0M134 175h0M115 168h0M146 109h0M105 166h0M96 177h0M87 171h0M133 153h0M53 167h0M90 93h0M121 166h0M136 155h0M60 165h0M50 166h0M54 173h0M151 132h0M140 158h0M119 176h0M125 130h0M54 173h0M130 99h0M62 164h0M125 83h0M143 108h0M131 167h0M87 172h0M129 176h0M70 170h0M81 172h0M71 177h0M72 138h0M36 171h0M131 164h0M32 153h0M93 153h0M65 161h0M129 167h0M117 177h0M107 150h0M146 90h0M104 87h0M52 176h0M131 118h0M128 101h0M88 176h0M47 163h0M72 158h0M100 166h0M106 80h0M130 110h0M118 179h0M135 102h0M126 160h0M64 167h0M128 102h0M100 163h0M86 166h0M65 172h0M91 159h0M118 152h0M46 168h0M118 161h0M64 171h0M131 177h0M126 131h0M151 152h0M127 176h0M86 174h0M131 114h0M70 174h0M144 173h0M91 163h0M84 167h0M139 154h0M93 111h0M123 169h0M128 166h0M98 161h0M100 153h0M69 166h0M74 120h0M173 176h0M139 177h0M128 116h0M139 169h0M117 152h0M118 88h0M118 172h0M124 160h0M59 176h0M66 169h0M165 162h0M55 160h0M147 165h0M120 134h0M63 175h0M63 171h0M149 127h0M119 165h0M130 168h0M122 75h0M92 168h0M124 175h0M135 165h0M54 178h0M111 101h0M117 170h0M128 162h0M80 171h0M107 160h0M130 169h0M111 162h0M107 157h0M89 165h0M133 169h0M129 148h0M103 135h0M127 121h0M128 179h0M105 179h0M131 163h0M135 175h0M79 173h0M90 106h0M45 178h0M75 158h0M71 166h0M120 177h0M96 163h0M124 104h0M101 83h0M126 135h0M126 163h0M134 141h0M109 165h0M46 161h0M140 140h0M118 163h0M128 118h0M95 134h0M128 89h0M103 161h0M64 141h0M157 176h0M85 163h0M119 168h0M177 109h0M85 163h0M81 168h0M105 161h0M134 162h0M109 168h0M146 72h0M153 100h0M167 174h0M129 121h0M105 166h0M123 173h0M132 173h0M153 167h0M87 152h0M62 168h0M131 155h0M91 167h0M113 166h0M114 170h0M116 169h0M134 89h0M149 105h0M115 168h0M131 161h0M56 156h0M136 152h0M131 174h0M113 88h0M156 99h0M140 137h0M123 93h0M92 172h0M98 164h0M100 146h0M111 165h0M127 146h0M126 96h0M85 176h0M91 170h0M135 160h0M82 177h0M100 166h0M129 154h0M91 176h0M126 176h0M119 166h0M151 112h0M120 103h0M151 138h0M71 162h0M138 147h0M56 158h0M82 178h0M133 129h0M138 104h0M137 136h0M111 168h0M75 170h0M113 134h0M65 168h0M115 158h0M128 173h0M85 170h0M133 141h0M58 173h0M132 94h0M135 171h0M110 149h0M106 168h0M56 155h0M63 138h0M144 124h0M57 174h0M121 162h0M126 80h0M61 167h0M136 117h0M110 117h0M135 143h0M94 178h0M105 163h0M154 111h0M131 108h0M124 88h0M100 177h0M90 81h0M94 175h0M103 102h0M118 143h0M97 130h0M104 165h0M143 170h0M157 119h0M132 172h0M44 157h0M56 167h0M107 164h0M84 172h0M57 161h0M91 172h0M128 170h0M48 166h0M100 155h0M101 163h0M42 162h0M151 83h0M97 164h0M103 95h0M114 146h0M53 177h0M139 99h0M81 173h0M95 176h0M104 154h0M128 95h0M119 168h0M125 177h0M128 136h0M50 172h0M70 166h0M45 178h0M132 169h0M122 137h0M91 179h0M136 127h0M51 175h0M127 87h0M60 161h0M123 166h0M141 79h0M120 135h0M123 80h0M56 166h0M128 174h0M76 178h0M118 166h0M96 154h0M119 154h0M114 165h0M101 161h0M94 170h0M67 175h0M57 177h0M128 162h0M54 179h0M115 130h0M104 78h0M147 118h0M124 175h0M93 176h0M122 159h0M87 139h0M100 168h0M43 161h0M73 169h0M135 123h0M77 157h0M130 166h0M41 167h0M143 143h0M122 177h0M131 111h0M127 75h0M40 168h0M137 126h0M149 157h0M127 164h0M93 164h0M117 85h0M119 151h0M62 158h0M137 106h0M118 163h0M115 161h0M66 176h0M117 165h0M58 152h0M60 176h0M94 171h0M130 174h0M63 148h0M156 111h0M127 167h0M112 98h0M75 161h0M118 133h0M122 99h0M111 164h0M42 155h0M140 104h0M89 174h0M102 166h0M119 135h0M58 144h0M68 166h0M114 171h0M117 176h0M125 140h0M106 150h0M142 124h0M111 127h0M94 152h0M142 73h0M37 179h0M92 92h0M134 103h0M102 178h0M41 165h0M147 159h0M78 171h0M88 171h0M109 164h0M84 171h0M110 159h0M130 79h0M130 151h0M68 154h0M72 174h0M106 154h0M116 164h0M134 130h0M44 160h0M128 164h0M125 91h0M128 137h0M61 164h0M107 165h0M126 130h0M132 140h0M153 115h0M64 162h0M153 162h0M130 152h0M124 82h0M89 174h0M124 139h0M173 165h0M125 144h0M120 162h0M60 163h0M95 168h0M104 145h0M92 84h0M127 102h0M72 117h0M87 172h0M130 121h0M113 171h0M91 86h0M131 134h0M92 152h0M91 176h0M51 161h0M135 75h0M91 145h0M66 164h0M120 106h0M162 169h0M90 165h0M75 158h0M107 160h0M142 121h0M93 175h0M127 155h0M58 174h0M129 146h0M64 163h0M114 103h0M60 160h0M106 163h0M125 169h0M134 167h0M124 171h0M130 102h0M97 144h0M10 156h0M128 74h0M72 159h0M62 170h0M133 172h0M72 166h0M83 163h0M58 162h0M92 109h0M92 142h0M85 166h0M127 102h0M130 153h0M49 156h0M131 122h0M132 123h0M120 121h0M141 112h0M50 152h0M98 162h0M99 166h0M105 168h0M64 161h0M139 107h0M51 158h0M108 156h0M15 140h0M100 162h0M106 153h0M94 175h0M64 133h0M63 156h0M134 86h0M93 90h0M120 152h0M134 116h0M147 79h0M103 178h0M104 169h0M92 178h0M71 180h0M93 176h0M100 123h0M121 160h0M130 131h0M68 165h0M94 134h0M53 178h0M65 153h0M58 167h0M125 174h0M103 150h0M66 163h0M125 176h0M70 139h0M149 175h0M69 161h0M118 161h0M80 155h0M73 158h0M85 151h0M107 165h0M154 173h0M91 87h0M115 141h0M136 139h0M153 123h0M82 161h0M124 179h0M124 168h0M44 157h0M139 82h0M75 173h0M134 165h0M68 128h0M141 161h0M142 167h0M123 168h0M62 176h0M121 163h0M105 164h0M117 168h0M117 154h0M83 175h0M146 146h0M92 158h0M68 162h0M110 161h0M159 154h0M129 83h0M63 172h0M120 143h0M84 148h0M128 82h0M122 165h0M134 107h0M128 163h0M135 93h0M49 153h0M134 154h0M106 168h0M121 161h0M75 160h0M102 164h0M124 160h0M54 167h0M116 112h0M109 138h0M45 178h0M75 168h0M127 145h0M126 117h0M53 161h0M116 178h0M134 168h0M87 173h0M103 168h0M64 176h0M91 163h0M88 178h0M109 85h0M127 137h0M137 163h0M134 132h0M122 149h0M39 165h0M138 124h0M132 96h0M70 168h0M107 158h0M93 173h0M65 173h0M128 101h0M125 153h0M92 169h0M136 76h0M123 125h0M65 163h0M59 172h0M101 154h0M164 139h0M92 160h0M91 159h0M104 152h0M94 176h0M55 171h0M48 173h0M130 73h0M49 174h0M123 151h0M107 99h0M74 179h0M140 175h0M82 177h0M96 153h0M106 167h0M126 163h0M128 147h0M160 107h0M56 160h0M96 167h0M80 169h0M83 169h0M161 179h0M111 157h0M95 171h0M144 100h0M103 159h0M130 148h0M138 116h0M81 157h0M130 156h0M119 162h0M136 133h0M144 136h0M150 147h0M128 147h0M83 179h0M102 165h0M120 160h0M140 78h0M77 161h0M136 90h0M129 115h0M132 113h0M125 163h0M113 167h0M98 154h0M131 163h0M54 168h0M99 92h0M112 157h0M128 83h0M156 143h0M96 172h0M101 166h0M78 179h0M69 161h0M73 170h0M96 161h0M130 175h0M87 179h0M136 113h0M70 176h0M70 165h0M134 175h0M94 173h0M138 170h0M89 147h0M176 131h0M124 157h0M123 111h0M127 165h0M59 174h0M58 170h0M107 160h0M154 179h0M98 165h0M128 159h0M133 153h0M92 149h0M99 168h0M46 161h0M122 162h0M88 172h0M136 156h0M66 162h0M132 120h0M98 173h0M120 155h0M128 137h0M104 165h0M53 171h0M103 164h0M79 140h0M93 170h0M44 166h0M80 139h0M120 171h0M144 172h0M50 154h0M116 161h0M56 163h0M53 163h0M165 141h0M121 153h0M70 145h0M133 144h0M56 162h0M52 176h0M87 158h0M131 164h0M85 168h0M85 165h0M63 156h0M135 83h0M34 164h0M110 85h0M55 155h0M114 144h0M96 175h0M61 159h0M51 159h0M115 124h0M123 121h0M165 135h0M127 171h0M144 149h0M42 153h0M134 168h0M116 166h0M108 166h0M46 156h0M118 169h0M133 161h0M130 179h0M67 148h0M89 174h0M48 163h0M152 173h0M131 139h0M68 170h0M96 126h0M106 168h0M98 74h0M124 163h0M91 168h0M56 170h0M122 159h0M102 162h0M110 164h0M47 162h0M63 178h0M113 160h0M55 166h0M102 98h0M130 164h0M56 174h0M101 178h0M121 108h0M109 168h0M93 174h0M125 92h0M118 176h0M130 144h0M133 156h0M129 166h0M134 117h0M54 155h0M168 147h0M133 168h0M124 126h0M102 119h0M120 161h0M48 167h0M66 164h0M76 161h0M56 166h0M111 179h0M125 105h0M112 156h0M94 172h0M105 164h0M140 100h0M119 143h0M85 174h0M52 160h0M101 161h0M126 164h0M44 166h0M121 87h0M97 179h0M89 167h0M56 163h0M73 171h0M118 160h0M127 121h0M81 121h0M59 155h0M130 170h0M100 166h0M65 156h0M62 166h0M82 170h0M101 165h0M159 161h0M124 142h0M91 79h0M64 161h0M101 169h0M125 71h0M104 167h0M57 160h0M62 159h0M94 176h0M92 168h0M142 170h0M100 168h0M85 170h0M127 176h0M93 107h0M77 174h0M38 170h0M115 119h0M62 156h0M110 165h0M130 178h0M118 179h0M78 156h0M72 120h0M116 157h0M77 168h0M127 168h0M67 166h0M87 176h0M117 179h0M132 96h0M128 151h0M43 168h0M105 93h0M127 170h0M53 160h0M108 114h0M52 159h0M49 158h0M48 175h0M122 127h0M136 171h0M112 160h0M97 175h0M72 163h0M138 157h0M107 159h0M145 146h0M96 163h0M80 174h0M113 165h0M111 167h0M86 174h0M86 142h0M102 160h0M50 172h0M119 166h0M103 167h0M133 79h0M135 113h0M92 165h0M73 169h0M138 115h0M115 157h0M145 176h0M132 173h0M94 168h0M123 168h0M92 173h0M117 168h0M68 163h0M55 161h0M141 105h0M94 166h0M84 168h0M150 166h0M137 109h0M129 156h0M152 171h0M108 162h0M90 151h0M108 170h0M125 147h0M72 178h0M90 173h0M128 115h0M95 88h0" stroke="#2a3af0" stroke-width="1.1" stroke-linecap="square" fill="none"/>
<path transform="translate(658.5,1135.5)" d="M108 178h0M80 169h0M128 171h0M130 177h0M117 167h0M118 170h0M103 168h0M102 169h0M99 166h0M53 169h0M101 168h0M112 169h0M115 167h0M70 170h0M75 166h0M134 168h0M59 160h0M93 168h0M122 176h0M102 179h0M96 175h0M99 169h0M119 176h0M46 164h0M101 179h0M128 159h0M109 168h0M57 161h0M93 174h0M96 173h0M90 171h0M134 171h0M136 172h0M129 167h0M48 163h0M50 170h0M117 176h0M116 172h0M123 164h0M111 167h0M121 177h0M100 175h0M108 179h0M47 165h0M125 167h0M87 165h0M122 179h0M96 169h0M125 167h0M125 177h0M94 175h0M61 165h0M115 168h0M109 164h0M63 171h0M108 165h0M99 179h0M128 171h0M98 176h0M90 171h0M87 173h0M58 171h0M82 164h0M55 164h0M121 173h0M70 175h0M129 171h0M105 168h0M108 173h0M90 174h0M54 173h0M134 171h0M129 173h0M116 167h0M126 171h0M87 167h0M58 170h0M117 170h0M115 168h0M117 170h0M129 164h0M107 166h0M104 168h0M129 151h0M98 168h0M125 177h0M116 176h0M101 175h0M120 169h0M126 174h0M117 171h0M55 165h0M98 165h0M108 169h0M122 168h0M57 170h0M107 171h0M112 166h0M113 167h0M125 174h0M133 163h0M93 168h0M117 169h0M104 176h0M118 171h0M103 171h0M52 164h0M55 165h0M106 179h0M110 166h0M47 168h0M110 168h0M51 163h0M113 164h0M119 167h0M91 169h0M99 168h0M118 165h0M112 177h0M67 170h0M129 170h0M48 166h0M120 172h0M97 173h0M57 163h0M104 170h0M122 170h0M121 166h0M56 174h0M91 170h0M123 173h0M98 168h0M50 170h0M56 160h0M129 176h0M60 164h0M91 175h0M117 179h0M114 176h0M124 166h0M114 170h0M97 174h0M130 172h0M94 168h0M114 172h0M83 171h0M131 170h0M111 173h0M99 174h0M125 171h0M95 178h0M122 175h0M130 163h0M120 179h0M121 169h0M99 177h0M117 169h0M116 166h0M135 159h0M126 170h0M97 176h0M122 169h0M127 159h0M107 166h0M91 179h0M109 169h0M94 171h0M119 174h0M119 178h0M136 162h0M62 169h0M117 174h0M119 177h0M93 170h0M59 168h0M114 171h0M116 176h0M63 173h0M133 166h0M112 169h0M117 175h0M100 179h0M53 166h0M76 173h0M91 176h0M53 164h0M122 170h0M91 175h0M114 167h0M69 169h0M133 167h0M111 169h0M98 171h0M118 169h0M92 170h0M120 176h0M124 169h0M55 162h0M111 176h0M105 169h0M130 169h0M65 168h0M112 172h0M125 169h0M91 175h0M103 169h0M117 165h0M92 167h0M102 167h0M103 168h0M122 166h0M53 174h0M120 167h0M60 166h0M95 169h0M120 178h0M125 168h0M104 165h0M118 173h0M129 176h0M129 164h0M105 173h0M134 173h0M103 172h0M118 171h0M57 167h0M95 172h0M131 162h0M61 167h0M120 170h0M119 171h0M53 162h0M70 168h0M100 168h0M83 169h0M94 173h0M115 170h0M124 174h0M83 172h0M116 171h0M119 174h0M107 173h0M134 176h0M98 173h0M51 166h0M118 165h0M48 170h0M101 167h0M132 168h0M95 177h0M53 174h0M118 178h0M117 175h0M52 165h0M124 173h0M96 173h0M105 177h0M120 163h0M118 169h0M119 177h0M103 178h0M109 169h0M90 173h0M97 172h0M53 160h0M55 169h0M112 178h0M121 176h0M107 165h0M110 166h0M122 170h0M119 174h0M109 164h0M104 169h0M126 167h0M97 178h0M123 172h0M97 172h0M128 173h0M111 165h0M116 171h0M61 171h0M109 179h0M49 162h0M58 166h0M105 173h0M132 174h0M116 168h0M122 170h0M117 172h0M106 163h0M61 170h0M114 174h0M66 168h0M99 176h0M120 166h0M61 163h0M125 173h0M112 167h0M128 168h0M118 172h0M100 176h0M102 175h0M98 176h0M110 166h0M51 163h0M48 168h0M121 175h0M52 169h0M93 176h0M127 175h0M55 167h0M54 162h0M54 169h0M58 163h0M120 163h0M95 171h0M96 175h0M89 173h0M107 172h0M132 161h0M120 169h0M120 176h0M127 165h0M130 161h0M86 173h0M119 165h0M107 171h0M108 169h0M92 167h0M47 170h0M48 169h0M105 174h0M62 167h0M113 169h0M48 167h0M104 172h0M122 167h0M117 170h0M122 165h0M49 174h0M55 175h0M96 174h0M107 167h0M134 171h0M96 167h0M55 170h0M101 174h0M87 175h0M103 165h0M59 165h0M48 167h0M124 177h0M121 171h0M48 164h0M52 165h0M64 172h0M120 176h0M124 168h0M85 172h0M124 167h0M93 173h0M115 162h0M117 172h0M102 166h0M127 166h0M50 170h0M125 176h0M108 165h0M124 167h0M86 173h0M123 176h0M117 170h0M120 172h0M61 167h0M123 173h0M51 172h0M118 171h0M97 167h0M110 167h0M100 172h0M95 173h0M127 167h0M125 177h0M111 170h0M62 165h0M94 176h0M62 166h0M62 166h0M126 170h0M122 162h0M103 180h0M130 174h0M97 171h0M114 173h0M117 168h0M84 173h0M132 172h0M100 167h0M93 167h0M45 163h0M59 163h0M49 164h0M76 174h0M65 168h0M56 171h0M131 176h0M129 166h0M126 160h0M132 173h0M119 179h0M67 168h0M49 169h0M62 169h0M100 171h0M103 169h0M99 168h0M122 174h0M49 172h0M125 168h0M56 168h0M119 168h0M125 162h0M57 171h0M95 174h0M112 169h0M57 171h0M97 176h0M124 163h0M115 169h0M97 171h0M49 160h0M125 176h0M68 172h0M106 164h0M62 167h0M91 171h0M47 172h0M117 167h0M99 166h0M52 168h0M89 171h0M60 167h0M128 167h0M110 164h0M131 172h0M107 169h0M124 170h0M135 169h0M126 173h0M103 168h0M130 181h0M76 173h0M58 163h0M118 178h0M50 164h0M54 163h0M94 177h0M106 165h0M109 167h0M134 177h0M118 179h0M103 178h0M52 161h0M118 176h0M93 173h0M117 175h0M52 166h0M111 176h0M54 169h0M122 171h0M87 169h0M111 175h0M102 168h0M91 164h0M121 169h0M101 169h0M129 167h0M128 172h0M97 171h0M123 174h0M120 180h0M58 164h0M92 170h0M102 166h0M61 168h0M103 170h0M122 175h0M131 177h0M122 175h0M115 166h0M86 169h0M105 170h0M54 168h0M52 162h0M55 172h0M55 162h0M116 177h0M130 172h0M115 174h0M93 169h0M65 162h0M113 171h0M53 162h0M64 168h0M115 172h0M110 179h0M129 177h0M116 176h0M121 179h0M84 166h0M105 164h0M107 172h0M63 168h0M131 166h0M117 177h0M109 167h0M108 171h0M126 169h0M121 171h0M128 169h0M115 169h0M119 167h0M118 169h0M98 168h0M107 170h0M110 177h0M120 170h0M126 175h0M48 172h0M128 176h0M88 174h0M68 169h0M110 162h0M104 178h0M56 165h0M60 164h0M106 176h0M121 171h0M120 179h0M120 178h0M123 172h0M114 170h0M47 173h0M115 176h0M93 173h0M122 179h0M131 167h0M57 162h0M118 164h0M51 169h0M113 167h0M52 162h0M53 174h0M80 170h0M102 174h0M127 167h0M134 177h0M61 165h0M127 170h0M45 171h0M97 171h0M69 165h0M45 170h0M122 169h0M53 161h0M112 176h0M96 173h0M136 171h0M53 173h0M103 178h0M129 169h0M57 167h0M99 173h0M111 167h0M99 176h0M120 177h0M58 171h0M51 161h0M82 167h0M118 163h0M50 171h0M57 167h0M119 174h0M115 169h0M101 176h0M131 163h0M128 166h0M52 166h0M97 170h0M112 163h0M114 172h0M100 178h0M50 170h0M100 170h0M99 168h0M122 166h0M55 168h0M117 172h0M133 173h0M47 165h0M130 171h0M48 171h0M80 168h0M120 164h0M120 167h0M56 167h0M107 165h0M80 173h0M104 167h0M92 171h0M118 169h0M53 165h0M61 165h0M96 171h0M121 169h0M99 171h0M114 170h0M129 169h0M52 166h0M87 169h0M136 171h0M112 178h0M95 172h0M81 170h0M50 164h0M110 168h0M109 166h0M58 170h0M52 170h0M56 171h0M106 178h0M61 162h0M112 169h0M129 172h0M99 166h0M120 171h0M123 171h0M86 166h0M129 181h0M132 172h0M112 178h0M116 170h0M127 177h0M51 164h0M49 164h0M98 177h0M135 177h0M49 172h0M126 174h0M96 165h0M99 170h0M98 168h0M82 163h0M107 168h0M98 173h0M123 155h0M119 172h0M60 173h0M123 169h0M60 165h0M56 172h0M119 169h0M117 163h0M61 161h0M72 163h0M58 172h0M49 171h0M48 174h0M81 171h0M118 168h0M100 178h0M92 169h0M110 178h0M102 167h0M97 179h0M71 170h0M120 175h0M93 168h0M127 172h0M58 169h0M48 167h0M128 173h0M96 169h0M123 172h0M119 175h0M81 174h0M92 175h0M98 176h0M109 172h0M90 172h0M113 168h0M112 173h0M113 166h0M134 170h0M57 170h0M101 171h0M46 162h0M111 168h0M56 168h0M90 172h0M124 169h0M101 168h0M94 174h0M53 169h0M98 166h0M98 170h0M91 173h0M88 172h0M113 166h0M128 162h0M48 170h0M52 170h0M96 169h0M127 168h0M126 174h0M93 168h0M134 175h0M132 176h0M102 171h0M105 176h0M59 167h0M51 163h0M46 173h0M51 171h0M123 174h0M119 166h0M115 165h0M122 174h0" stroke="#2fd046" stroke-width="1.1" stroke-linecap="square" fill="none"/>
<path transform="translate(658.5,1135.5)" d="M110 173h0M120 176h0M95 173h0M128 171h0M107 174h0M111 173h0M106 170h0M114 176h0M117 168h0M112 175h0M59 169h0M120 169h0M117 174h0M53 171h0M114 168h0M55 167h0M104 176h0M110 175h0M116 172h0M102 175h0M103 174h0M125 171h0M113 173h0M55 165h0M114 173h0M95 175h0M111 176h0M105 177h0M106 178h0M109 176h0M57 166h0M111 174h0M114 170h0M119 177h0M102 175h0M111 178h0M105 168h0M112 171h0M101 175h0M119 174h0M114 171h0M102 174h0M118 167h0M109 174h0M114 172h0M103 170h0M97 170h0M122 170h0M122 171h0M119 176h0M121 169h0M110 177h0M107 172h0M102 168h0M124 171h0M116 177h0M57 168h0M100 172h0M98 174h0M111 176h0M108 167h0M96 174h0M117 172h0M54 163h0M108 169h0M119 174h0M116 172h0M97 171h0M113 170h0M105 176h0M122 173h0M53 167h0M103 176h0M100 170h0M101 169h0M116 174h0M53 164h0M116 173h0M109 175h0M115 175h0M105 177h0M105 176h0M113 177h0M109 177h0M118 172h0M112 176h0M104 168h0M121 171h0M110 171h0M53 165h0M99 175h0M113 168h0M111 174h0M102 177h0M103 171h0M109 173h0M99 171h0M106 170h0M106 170h0M51 170h0M128 173h0M116 173h0M114 174h0M54 163h0M54 170h0M120 170h0M108 177h0M110 176h0M124 171h0M55 166h0M108 178h0M108 174h0M109 175h0M113 174h0M99 171h0M114 176h0M102 176h0M106 169h0M107 174h0M113 177h0M115 175h0M101 174h0M129 173h0M107 173h0M97 174h0M107 172h0M105 171h0M98 173h0M129 171h0M55 171h0M98 170h0M55 169h0M113 172h0M107 169h0M114 175h0M111 175h0M111 175h0M102 177h0M111 169h0M98 176h0M108 177h0M118 170h0M101 169h0M106 176h0M99 169h0M118 172h0M109 172h0M108 169h0M115 174h0M109 175h0M115 170h0M105 171h0M105 174h0M115 174h0M109 173h0M115 174h0M103 176h0M100 172h0M118 172h0M114 169h0M127 172h0M118 175h0M56 170h0M50 171h0M118 173h0M114 171h0M95 173h0M126 174h0M115 172h0M118 172h0M103 171h0M121 176h0M105 176h0M115 170h0M113 173h0M113 171h0M57 167h0M113 174h0M116 172h0M99 170h0M107 171h0M106 178h0M113 168h0M50 166h0M101 172h0M58 164h0M119 177h0M120 174h0M106 174h0M56 168h0M125 170h0M121 172h0M95 170h0M106 170h0M119 174h0M120 171h0M101 174h0M117 172h0M105 176h0M98 175h0M105 171h0M113 176h0M108 170h0M118 173h0M115 170h0M106 171h0M101 177h0M96 172h0M108 177h0M123 170h0M116 171h0M100 174h0M110 175h0M115 175h0M99 174h0M108 172h0M97 174h0M105 171h0M119 171h0M54 165h0M124 175h0M99 171h0M100 170h0M101 173h0M52 167h0M106 171h0M104 175h0M113 176h0M103 174h0M111 170h0M96 175h0M111 170h0M117 171h0M104 171h0M122 173h0M106 168h0M54 163h0M55 166h0M108 175h0M101 169h0M101 175h0M54 169h0M52 166h0M104 170h0M53 163h0M112 178h0M121 171h0M107 176h0M57 167h0M114 172h0M111 178h0M108 171h0M105 169h0M111 168h0M102 178h0M106 168h0M97 174h0M46 167h0M52 164h0M112 176h0M103 172h0M118 173h0M118 172h0M53 168h0M115 173h0M105 171h0M104 176h0M55 167h0M124 175h0M116 173h0M125 173h0M53 165h0M98 174h0M104 170h0M59 164h0M96 175h0M112 174h0M122 173h0M95 174h0M56 164h0M101 170h0M97 174h0M113 172h0M109 178h0M122 170h0M96 173h0M52 169h0M52 169h0M49 167h0M125 176h0M123 177h0M110 172h0M128 173h0M108 170h0" stroke="#dfe31e" stroke-width="1.1" stroke-linecap="square" fill="none"/>
<path transform="translate(658.5,1135.5)" d="M113 172h0M110 172h0M118 170h0M106 175h0M100 172h0M111 175h0M50 165h0M106 173h0M115 173h0M112 172h0M99 175h0M101 173h0M104 173h0M113 173h0M100 172h0M108 173h0M100 172h0M119 172h0M108 171h0M99 171h0M106 171h0M107 172h0M116 171h0M106 174h0M105 171h0M103 173h0M108 172h0M105 174h0M103 172h0M110 172h0M106 172h0M112 175h0M105 170h0M104 176h0M101 176h0M99 174h0M112 173h0M108 176h0M102 175h0M110 172h0M111 175h0M101 169h0M115 174h0M104 173h0M107 171h0M100 170h0M108 175h0M102 172h0M101 169h0M104 173h0M112 176h0M110 173h0M106 174h0M107 175h0M115 176h0M107 173h0M112 170h0M117 175h0M103 169h0M97 172h0M108 169h0M112 171h0M106 169h0M119 173h0M102 176h0M107 177h0M105 175h0M108 174h0M109 174h0M102 171h0M114 171h0M97 174h0M101 172h0M111 172h0M103 175h0M110 173h0M115 176h0M104 172h0M111 169h0M104 174h0M108 177h0M98 174h0M100 170h0M102 171h0M102 172h0M102 170h0M111 174h0M101 174h0M108 174h0M117 174h0M103 169h0M109 173h0M106 173h0M106 170h0M107 169h0M107 175h0M110 171h0M103 174h0M102 173h0M99 172h0M97 174h0M107 174h0M103 172h0M107 173h0M104 173h0M52 167h0M109 173h0M108 170h0M103 171h0M98 172h0M103 169h0M118 173h0M109 174h0M111 173h0M117 171h0M110 171h0M110 172h0M108 171h0M108 175h0M117 172h0M98 172h0M108 174h0M118 173h0M100 174h0M99 170h0M107 172h0M110 176h0M57 166h0M110 172h0M99 171h0M99 170h0M99 173h0M113 170h0M100 176h0M104 171h0M101 174h0M52 165h0M118 172h0" stroke="#f59a16" stroke-width="1.15" stroke-linecap="square" fill="none"/>
<path transform="translate(658.5,1135.5)" d="M104 174h0M112 174h0M111 173h0M105 175h0M104 173h0M113 175h0M107 170h0M108 173h0M103 172h0M106 177h0M112 174h0M104 173h0M104 174h0M105 176h0M106 172h0M109 175h0M102 174h0M101 175h0M103 175h0M103 174h0M103 172h0M107 173h0M103 173h0M108 174h0M108 173h0M105 172h0M106 177h0M106 172h0M104 172h0M110 173h0M106 173h0M107 175h0M113 176h0M111 171h0M112 174h0M108 174h0M108 171h0M107 172h0M108 175h0M107 176h0M106 173h0M103 177h0M111 175h0M101 172h0M113 172h0M106 173h0M103 175h0M112 171h0M113 176h0M103 174h0M106 174h0M107 175h0M108 171h0M108 176h0M103 173h0M108 175h0M108 171h0M111 174h0M109 174h0M108 173h0M103 173h0M115 171h0M105 172h0M105 173h0M106 172h0M110 174h0M115 175h0M102 173h0M105 174h0M111 176h0M115 173h0M106 171h0M114 176h0M105 172h0M110 172h0M110 176h0M105 173h0M102 174h0M102 171h0M105 172h0M102 174h0M106 172h0M114 175h0M102 176h0M107 174h0M103 171h0" stroke="#ee2c12" stroke-width="1.2" stroke-linecap="square" fill="none"/>
<path d="M754.5 1326.5L777.0 1201.8L844.5 1200.5" stroke="#222" stroke-width="1.2" fill="none" stroke-linejoin="miter"/>
<text x="1004.3" y="1116.8" font-size="28" font-weight="bold" text-anchor="middle">Hypoxia</text>
<rect x="916.3" y="1135.4" width="185.5" height="191.1" fill="none" stroke="#3a3a3a" stroke-width="1.1"/>
<line x1="909.8" y1="1144.6" x2="916.3" y2="1144.6" stroke="#333" stroke-width="1.1"/>
<text x="908.8" y="1149.0" font-size="12.4" text-anchor="end" fill="#2a2a2a">250K</text>
<line x1="909.8" y1="1180.9" x2="916.3" y2="1180.9" stroke="#333" stroke-width="1.1"/>
<text x="908.8" y="1185.3" font-size="12.4" text-anchor="end" fill="#2a2a2a">200K</text>
<line x1="909.8" y1="1217.1" x2="916.3" y2="1217.1" stroke="#333" stroke-width="1.1"/>
<text x="908.8" y="1221.5" font-size="12.4" text-anchor="end" fill="#2a2a2a">150K</text>
<line x1="909.8" y1="1253.4" x2="916.3" y2="1253.4" stroke="#333" stroke-width="1.1"/>
<text x="908.8" y="1257.8" font-size="12.4" text-anchor="end" fill="#2a2a2a">100K</text>
<line x1="909.8" y1="1289.6" x2="916.3" y2="1289.6" stroke="#333" stroke-width="1.1"/>
<text x="908.8" y="1294.0" font-size="12.4" text-anchor="end" fill="#2a2a2a">50K</text>
<line x1="909.8" y1="1325.9" x2="916.3" y2="1325.9" stroke="#333" stroke-width="1.1"/>
<text x="908.8" y="1330.3" font-size="12.4" text-anchor="end" fill="#2a2a2a">0</text>
<path d="M913.1 1318.6h3.2M913.1 1311.4h3.2M913.1 1304.1h3.2M913.1 1296.9h3.2M913.1 1282.4h3.2M913.1 1275.1h3.2M913.1 1267.9h3.2M913.1 1260.6h3.2M913.1 1246.1h3.2M913.1 1238.9h3.2M913.1 1231.6h3.2M913.1 1224.4h3.2M913.1 1209.9h3.2M913.1 1202.6h3.2M913.1 1195.4h3.2M913.1 1188.1h3.2M913.1 1173.6h3.2M913.1 1166.4h3.2M913.1 1159.1h3.2M913.1 1151.9h3.2" stroke="#555" stroke-width="0.7"/>
<line x1="927.0" y1="1326.5" x2="927.0" y2="1332.0" stroke="#333" stroke-width="1.1"/>
<line x1="988.0" y1="1326.5" x2="988.0" y2="1332.0" stroke="#333" stroke-width="1.1"/>
<line x1="1039.3" y1="1326.5" x2="1039.3" y2="1332.0" stroke="#333" stroke-width="1.1"/>
<line x1="1083.3" y1="1326.5" x2="1083.3" y2="1332.0" stroke="#333" stroke-width="1.1"/>
<path d="M1003.4 1326.5v3M1012.5 1326.5v3M1018.9 1326.5v3M1023.9 1326.5v3M1027.9 1326.5v3M1031.4 1326.5v3M1034.3 1326.5v3M1037.0 1326.5v3M1052.5 1326.5v3M1060.3 1326.5v3M1065.8 1326.5v3M1070.1 1326.5v3M1073.5 1326.5v3M1076.5 1326.5v3M1079.0 1326.5v3M1081.3 1326.5v3M1096.5 1326.5v3M966.1 1326.5v3M956.5 1326.5v3M969.2 1326.5v3M952.3 1326.5v3M971.9 1326.5v3M948.6 1326.5v3M974.5 1326.5v3M945.2 1326.5v3M976.9 1326.5v3M941.9 1326.5v3M979.3 1326.5v3M938.7 1326.5v3M981.5 1326.5v3M935.7 1326.5v3M983.7 1326.5v3M932.7 1326.5v3M985.9 1326.5v3M929.8 1326.5v3" stroke="#555" stroke-width="0.7"/>
<rect x="956.5" y="1326.5" width="4.5" height="3" fill="#222"/>
<text x="928.5" y="1343.8" font-size="12.4" fill="#2a2a2a" text-anchor="middle">-10<tspan dy="-4.5" font-size="8.5">3</tspan></text>
<text x="992.8" y="1343.8" font-size="12.4" fill="#2a2a2a" text-anchor="middle">10<tspan dy="-4.5" font-size="8.5">3</tspan></text>
<text x="1044.1" y="1343.8" font-size="12.4" fill="#2a2a2a" text-anchor="middle">10<tspan dy="-4.5" font-size="8.5">4</tspan></text>
<text x="1088.1" y="1343.8" font-size="12.4" fill="#2a2a2a" text-anchor="middle">10<tspan dy="-4.5" font-size="8.5">5</tspan></text>
<text x="962.0" y="1343.8" font-size="12.4" text-anchor="middle" fill="#2a2a2a">0</text>
<text x="1096.5" y="1183.2" font-size="36" text-anchor="end">72.0%</text>
<path transform="translate(916.5,1135.5)" d="M110 161h0M117 156h0M136 142h0M76 179h0M110 72h0M71 181h0M81 131h0M123 113h0M165 147h0M66 174h0M93 155h0M113 162h0M125 153h0M75 164h0M48 176h0M106 124h0M132 87h0M46 176h0M102 158h0M137 82h0M71 148h0M31 173h0M121 75h0M139 125h0M137 143h0M42 166h0M146 138h0M135 125h0M100 159h0M124 99h0M141 102h0M108 145h0M125 136h0M45 178h0M159 170h0M146 108h0M103 161h0M128 131h0M109 162h0M146 118h0M103 120h0M75 174h0M77 179h0M125 86h0M102 160h0M52 157h0M96 156h0M121 141h0M101 145h0M165 89h0M121 163h0M148 177h0M83 151h0M116 156h0M172 123h0M68 168h0M91 162h0M168 161h0M93 95h0M120 153h0M117 158h0M95 177h0M66 163h0M55 177h0M135 118h0M98 164h0M163 112h0M149 166h0M174 167h0M77 164h0M109 161h0M76 145h0M56 157h0M134 92h0M82 160h0M105 160h0M134 108h0M170 128h0M129 142h0M67 165h0M92 159h0M88 140h0M126 142h0M107 149h0M143 131h0M125 133h0M123 115h0M128 151h0M79 175h0M79 163h0M145 133h0M129 147h0M137 85h0M86 172h0M132 124h0M49 157h0M169 120h0M107 79h0M144 107h0M64 179h0M149 115h0M120 77h0M143 131h0M135 80h0M47 179h0M113 161h0M131 142h0M118 156h0M147 162h0M91 146h0M80 176h0M60 145h0M139 129h0M150 161h0M146 165h0M100 138h0M98 134h0M126 110h0M178 169h0M150 96h0M95 108h0M120 158h0M139 132h0M105 154h0M138 98h0M123 156h0M108 95h0M148 172h0M106 150h0M98 162h0M132 146h0M105 162h0M107 153h0M95 160h0M44 162h0M175 174h0M85 164h0M150 155h0M173 168h0M149 72h0M145 139h0M144 156h0M123 161h0M108 179h0M104 162h0M118 125h0M108 162h0M133 86h0M76 149h0M133 154h0M135 104h0M147 116h0M44 161h0M91 121h0M82 156h0M113 112h0M117 151h0M152 131h0M131 152h0M175 156h0M44 169h0M127 119h0M81 158h0M136 150h0M39 160h0M110 118h0M88 148h0M46 176h0M155 91h0M135 139h0M85 179h0M146 114h0M144 95h0M96 178h0M101 160h0M166 135h0M89 179h0M143 95h0M44 176h0M132 88h0M51 181h0M124 140h0M118 124h0M125 159h0M134 121h0M180 140h0M138 118h0M86 166h0M38 156h0M155 173h0M142 105h0M135 118h0M103 164h0M159 160h0M146 166h0M179 157h0M86 123h0M142 144h0M137 150h0M59 157h0M118 161h0M136 77h0M82 169h0M155 73h0M149 100h0M98 178h0M127 153h0M133 127h0M148 166h0M101 125h0M68 146h0M141 176h0M166 169h0M145 112h0M95 177h0M174 169h0M90 97h0M56 178h0M135 81h0M51 154h0M106 130h0M143 133h0M135 94h0M156 102h0M152 162h0M161 147h0M154 78h0M129 77h0M150 178h0M149 96h0M162 131h0M117 143h0M179 176h0M133 111h0M150 173h0M127 143h0M156 146h0M98 138h0M64 178h0M127 139h0M96 126h0M56 158h0M154 166h0M69 167h0M89 111h0M45 170h0M137 123h0M148 122h0M125 129h0M123 124h0M153 130h0M47 170h0M68 138h0M111 155h0M128 141h0M148 162h0M74 158h0M138 115h0M84 138h0M160 144h0M163 90h0M87 105h0M118 160h0M148 123h0M133 79h0M142 122h0M143 130h0M158 138h0M134 128h0M64 146h0M74 175h0M72 150h0M132 151h0M72 139h0M84 176h0M96 177h0M130 87h0M147 118h0M118 147h0M72 159h0M128 147h0M181 166h0M139 88h0M67 153h0M139 87h0M116 92h0M63 152h0M140 71h0M75 181h0M69 165h0M144 114h0M102 103h0M37 160h0M132 155h0M162 88h0M134 103h0M71 157h0M105 138h0M72 179h0M131 109h0M151 174h0M57 155h0M148 103h0M131 137h0M152 85h0M145 148h0M131 158h0M124 144h0M48 163h0M136 130h0M162 152h0M111 158h0M136 131h0M67 182h0M147 92h0M100 147h0M128 87h0M147 171h0M88 178h0M129 152h0M103 89h0M134 115h0M139 139h0M141 157h0M69 174h0M106 112h0M106 157h0M170 147h0M34 139h0M90 105h0M96 85h0M58 177h0M178 85h0M133 87h0M115 159h0M116 162h0M69 159h0M69 174h0M77 167h0M98 166h0M153 149h0M97 151h0M93 159h0M84 158h0M133 117h0M64 174h0M64 178h0M98 177h0M42 162h0M87 178h0M165 173h0M88 178h0M124 153h0M130 121h0M141 149h0M136 145h0M137 114h0M144 126h0M170 168h0M112 161h0M112 73h0M123 156h0M97 119h0M59 175h0M45 160h0M130 141h0M132 141h0M106 164h0M113 131h0M62 179h0M108 140h0M99 139h0M125 155h0M103 166h0M92 148h0M88 142h0M125 135h0M152 84h0M141 109h0M113 162h0M144 131h0M88 134h0M47 161h0M103 166h0M132 83h0M64 158h0M78 154h0M148 80h0M130 150h0M106 165h0M39 170h0M149 104h0M71 180h0M128 158h0M42 169h0M50 157h0M148 117h0M121 154h0M126 113h0M136 140h0M127 122h0M107 161h0M116 79h0M143 157h0M112 161h0M129 136h0M130 163h0M159 145h0M133 142h0M106 162h0M136 140h0M151 175h0M61 159h0M85 161h0M133 144h0M84 164h0M150 151h0M137 71h0M150 103h0M131 105h0M121 144h0M116 95h0M157 179h0M82 161h0M153 177h0M129 119h0M158 172h0M138 82h0M122 145h0M43 159h0M130 129h0M138 102h0M45 161h0M148 164h0M147 132h0M95 160h0M123 120h0M152 171h0M54 159h0M78 135h0M124 72h0M135 138h0M142 110h0M137 92h0M128 89h0M34 166h0M139 125h0M101 164h0M85 147h0M112 158h0M61 178h0M134 144h0M113 161h0M93 138h0M97 165h0M93 160h0M86 132h0M133 87h0M40 156h0M135 146h0M139 94h0M150 176h0M50 154h0M131 153h0M147 118h0M99 86h0M76 141h0M60 177h0M86 161h0M136 145h0M135 119h0M137 105h0M84 163h0M147 149h0M106 157h0M61 158h0M84 152h0M140 105h0M124 157h0M81 159h0M132 78h0M114 148h0M96 158h0M136 109h0M165 125h0M129 158h0M138 101h0M141 153h0M60 157h0M48 154h0M73 148h0M64 176h0M42 162h0M46 169h0M90 142h0M106 164h0M169 161h0M176 137h0M152 79h0M159 162h0M113 155h0M88 122h0M93 153h0M102 137h0M113 128h0M66 140h0M115 150h0M93 101h0M114 164h0M123 125h0M45 167h0M76 158h0M61 151h0M140 138h0M149 71h0M136 116h0M93 154h0M167 126h0M115 161h0M109 79h0M137 139h0M71 172h0M148 166h0M164 129h0M83 173h0M136 78h0M71 157h0M132 135h0M116 114h0M151 75h0M157 170h0M83 119h0M131 144h0M108 157h0M71 157h0M101 104h0M125 134h0M118 76h0M129 77h0M64 179h0M160 115h0M149 87h0M111 117h0M111 130h0M160 179h0M145 112h0M101 163h0M152 169h0M142 75h0M131 144h0M55 181h0M72 178h0M91 147h0M85 107h0M105 159h0M132 94h0M73 179h0M118 92h0M70 155h0M139 151h0M159 112h0M132 101h0M124 104h0M169 125h0M122 150h0M91 172h0M111 83h0M168 125h0M69 156h0M79 179h0M94 156h0M50 156h0M81 118h0M144 129h0M136 119h0M95 86h0M136 141h0M95 133h0M159 132h0M124 156h0M142 134h0M67 179h0M158 179h0M137 123h0M137 72h0M144 174h0M90 160h0M146 140h0M111 85h0M113 165h0M110 84h0M144 82h0M103 164h0M171 133h0M141 111h0M86 163h0M113 159h0M138 114h0M105 104h0M132 94h0M177 176h0M149 172h0M137 102h0M141 93h0M144 99h0M150 170h0M120 134h0M107 141h0M145 148h0M166 151h0M131 91h0M95 177h0M156 139h0M142 137h0M131 101h0M110 146h0M147 110h0M98 144h0M136 83h0M165 85h0M142 78h0M108 74h0M120 84h0M154 94h0M55 153h0M131 134h0M139 87h0M160 83h0M162 151h0M123 131h0M39 156h0M112 94h0M145 160h0M96 160h0M101 160h0M69 163h0M111 160h0M84 168h0M138 86h0M166 154h0M142 95h0M138 82h0M108 144h0M110 152h0M80 175h0M73 152h0M74 130h0M126 106h0M92 98h0M143 134h0M148 177h0M135 113h0M73 179h0M108 126h0M98 177h0M135 73h0M51 156h0M129 95h0M144 128h0M52 174h0M138 130h0M70 135h0M99 181h0M126 108h0M146 111h0M127 128h0M173 165h0M45 179h0M121 80h0M48 156h0M75 134h0M144 100h0M131 116h0M152 117h0M108 161h0M154 100h0M173 178h0M84 151h0M122 154h0M140 158h0M144 83h0M103 107h0M126 133h0M41 165h0M112 163h0M140 117h0M88 124h0M116 164h0M67 155h0M124 105h0M143 115h0M152 137h0M156 171h0M162 86h0M134 108h0M149 163h0M98 83h0M82 149h0M147 171h0M109 165h0M154 170h0M120 159h0M158 137h0M79 116h0M153 173h0M148 120h0M103 88h0M67 178h0M176 157h0M94 161h0M120 83h0M70 158h0M100 154h0M151 80h0M161 162h0M96 167h0M117 165h0M154 85h0M152 84h0M112 163h0M127 89h0M70 140h0M128 144h0M140 75h0M154 95h0M101 163h0M163 130h0M164 96h0M83 181h0M73 179h0M174 142h0M161 123h0M132 75h0M89 176h0M163 146h0M68 169h0M100 107h0M76 162h0M160 166h0M130 146h0M65 179h0M140 76h0M143 149h0M142 120h0M76 159h0M132 121h0M131 124h0M64 179h0M113 140h0M86 164h0M128 149h0M121 146h0M92 150h0M145 114h0M127 149h0M165 94h0M52 177h0M121 156h0M108 138h0M137 141h0M114 93h0M130 99h0M61 177h0M99 157h0M136 95h0M88 159h0M93 159h0M136 75h0M156 91h0M153 134h0M130 158h0M154 128h0M76 152h0M47 179h0M45 166h0M94 158h0M71 167h0M129 158h0M109 144h0M87 182h0M138 117h0M46 154h0M106 113h0M90 181h0M132 122h0M155 87h0M57 178h0M122 162h0M51 142h0M56 158h0M146 140h0M138 95h0M104 158h0M161 155h0M141 148h0M133 97h0M139 152h0M133 99h0M154 151h0M84 171h0M107 165h0M52 174h0M162 91h0M140 94h0M106 162h0M121 154h0M150 154h0M108 127h0M121 83h0M163 161h0M166 93h0M121 87h0M109 160h0M48 158h0M126 74h0M146 96h0M81 168h0M107 76h0M48 173h0M119 161h0M94 179h0M143 82h0M66 162h0M173 139h0M41 173h0M123 159h0M184 154h0M86 177h0M152 174h0M92 134h0M73 148h0M151 165h0M145 103h0M89 152h0M170 123h0M117 139h0M107 143h0M138 141h0M133 73h0M107 155h0M130 150h0M57 179h0M72 141h0M78 143h0M118 146h0M130 134h0M74 156h0M129 134h0M147 128h0M44 166h0M94 178h0M145 98h0M140 78h0M169 154h0M152 167h0M165 177h0M129 105h0M84 172h0M69 167h0M132 73h0M118 164h0M125 124h0M108 78h0M166 158h0M128 131h0M82 159h0M53 182h0M121 157h0M98 158h0M138 83h0M111 147h0M66 160h0M69 157h0M139 153h0M133 139h0M156 106h0M64 159h0M118 160h0M112 154h0M108 180h0M118 154h0M69 161h0M40 169h0M121 133h0M77 164h0M45 165h0M88 152h0M146 93h0M128 142h0M72 161h0M130 147h0M47 171h0M155 124h0M122 145h0M151 165h0M169 166h0M124 156h0M44 169h0M137 108h0M135 78h0M29 138h0M172 143h0M65 144h0M45 158h0M132 100h0M152 132h0M95 156h0M149 100h0M58 140h0M96 179h0M154 178h0M97 177h0M166 174h0M147 124h0M157 136h0M107 163h0M132 74h0M113 81h0M142 125h0M173 161h0M104 126h0M111 161h0M110 157h0M106 91h0M123 112h0M158 110h0M70 170h0M135 149h0M135 119h0M73 155h0M122 134h0M119 147h0M82 113h0M129 158h0M99 143h0M98 167h0M143 144h0M92 99h0M91 158h0M138 110h0M64 159h0M94 178h0M143 125h0M62 176h0M144 128h0M121 164h0M124 161h0M110 147h0M92 92h0M106 155h0M101 179h0M120 161h0M137 83h0M93 97h0M69 145h0M62 157h0M136 128h0M146 165h0M135 107h0M84 107h0M174 163h0M118 160h0M113 100h0M133 156h0M148 154h0M118 116h0M125 105h0M102 126h0M127 142h0M67 179h0M133 136h0M86 151h0M120 152h0M137 94h0M124 156h0M141 122h0M143 153h0M119 161h0M140 84h0M135 137h0M129 88h0M93 154h0M96 154h0M107 162h0M84 158h0M133 162h0M83 174h0M103 163h0M164 98h0M118 156h0M109 137h0M138 142h0" stroke="#6070ff" stroke-width="1.05" stroke-linecap="square" fill="none" stroke-opacity="0.8"/>
<path transform="translate(916.5,1135.5)" d="M146 123h0M57 152h0M133 179h0M147 117h0M98 175h0M93 172h0M45 161h0M126 149h0M144 168h0M135 95h0M93 168h0M91 164h0M159 147h0M146 75h0M95 177h0M103 172h0M138 88h0M128 153h0M66 170h0M108 177h0M77 161h0M68 158h0M82 152h0M48 158h0M112 143h0M135 161h0M115 164h0M43 158h0M146 74h0M142 144h0M98 171h0M159 110h0M81 165h0M137 105h0M87 173h0M156 94h0M97 168h0M99 132h0M92 175h0M128 176h0M137 108h0M61 163h0M132 164h0M103 144h0M115 161h0M88 175h0M115 170h0M65 174h0M100 147h0M91 166h0M85 168h0M85 162h0M127 171h0M143 176h0M63 175h0M144 143h0M50 165h0M107 177h0M58 177h0M138 89h0M158 173h0M108 172h0M102 176h0M105 115h0M67 168h0M128 169h0M144 79h0M90 146h0M74 168h0M127 146h0M94 125h0M58 153h0M133 84h0M122 162h0M64 172h0M140 79h0M106 160h0M142 121h0M162 156h0M124 160h0M90 143h0M133 159h0M81 166h0M150 75h0M133 148h0M58 172h0M138 163h0M63 166h0M55 169h0M115 155h0M70 173h0M80 167h0M90 175h0M70 160h0M99 173h0M128 113h0M146 76h0M109 169h0M147 76h0M135 94h0M142 147h0M76 177h0M130 172h0M126 162h0M139 175h0M143 175h0M103 173h0M125 160h0M130 170h0M137 116h0M60 158h0M128 167h0M111 153h0M156 80h0M103 152h0M88 172h0M80 143h0M113 76h0M55 175h0M131 176h0M124 164h0M151 140h0M68 168h0M89 166h0M157 179h0M60 161h0M101 178h0M68 162h0M100 127h0M139 171h0M130 168h0M117 165h0M63 156h0M153 100h0M121 106h0M138 163h0M76 170h0M103 170h0M72 174h0M106 89h0M85 156h0M142 157h0M117 167h0M162 147h0M101 158h0M67 151h0M145 74h0M133 169h0M135 119h0M92 176h0M131 119h0M127 133h0M145 129h0M44 168h0M95 159h0M52 162h0M80 164h0M55 176h0M97 181h0M108 180h0M137 178h0M54 162h0M149 113h0M97 115h0M94 121h0M117 157h0M176 147h0M116 168h0M99 166h0M130 165h0M64 160h0M72 165h0M108 150h0M175 161h0M64 167h0M130 172h0M130 169h0M117 169h0M118 169h0M104 168h0M55 170h0M106 113h0M50 169h0M58 159h0M102 177h0M113 163h0M78 158h0M124 172h0M96 162h0M117 143h0M79 173h0M152 146h0M67 166h0M80 163h0M108 162h0M135 165h0M73 126h0M142 171h0M119 165h0M171 151h0M103 178h0M143 136h0M122 133h0M124 167h0M131 171h0M62 149h0M106 170h0M128 146h0M92 159h0M138 123h0M135 88h0M119 168h0M103 167h0M46 160h0M132 152h0M157 149h0M95 173h0M101 173h0M103 165h0M99 170h0M131 172h0M100 168h0M136 118h0M46 179h0M64 167h0M139 74h0M53 167h0M119 165h0M165 158h0M121 155h0M131 155h0M121 176h0M105 159h0M110 145h0M119 166h0M82 171h0M60 162h0M126 116h0M130 155h0M64 169h0M97 174h0M63 174h0M103 164h0M123 165h0M84 160h0M171 129h0M119 131h0M132 175h0M152 161h0M105 163h0M99 168h0M128 109h0M135 174h0M58 174h0M135 176h0M172 135h0M107 176h0M102 159h0M120 151h0M143 133h0M99 159h0M104 174h0M138 106h0M136 175h0M99 162h0M161 161h0M99 177h0M76 165h0M132 95h0M68 175h0M65 159h0M148 151h0M129 163h0M93 171h0M78 162h0M177 83h0M60 178h0M84 157h0M129 173h0M63 173h0M84 150h0M65 166h0M68 168h0M148 131h0M137 175h0M69 162h0M80 152h0M47 160h0M122 117h0M62 156h0M70 175h0M105 168h0M63 157h0M105 169h0M125 120h0M134 138h0M124 137h0M104 174h0M132 158h0M62 159h0M131 156h0M102 157h0M150 168h0M135 102h0M154 151h0M100 83h0M105 166h0M136 74h0M121 135h0M157 175h0M107 134h0M57 171h0M116 150h0M88 167h0M78 170h0M72 160h0M108 163h0M102 173h0M119 167h0M69 159h0M56 179h0M89 178h0M49 155h0M93 172h0M89 166h0M164 174h0M105 145h0M114 161h0M105 178h0M146 176h0M164 151h0M115 168h0M136 173h0M112 166h0M52 164h0M56 151h0M121 178h0M137 168h0M102 161h0M157 179h0M144 162h0M159 175h0M118 76h0M126 170h0M117 120h0M138 118h0M148 151h0M72 164h0M128 164h0M94 170h0M109 163h0M88 158h0M88 157h0M166 140h0M128 167h0M122 152h0M83 168h0M89 170h0M142 173h0M61 163h0M58 167h0M133 158h0M134 113h0M144 171h0M65 172h0M136 176h0M96 182h0M99 171h0M143 157h0M118 158h0M109 160h0M141 82h0M107 164h0M140 99h0M105 168h0M81 156h0M105 167h0M56 160h0M124 159h0M96 144h0M130 154h0M65 172h0M138 147h0M146 130h0M129 154h0M141 166h0M125 164h0M130 166h0M125 175h0M131 78h0M129 168h0M57 174h0M84 172h0M122 166h0M65 145h0M108 128h0M96 169h0M121 161h0M97 99h0M129 164h0M90 113h0M124 178h0M101 155h0M73 175h0M138 144h0M72 166h0M148 119h0M144 141h0M106 168h0M131 165h0M50 161h0M101 180h0M102 175h0M137 94h0M121 129h0M126 167h0M148 174h0M134 174h0M101 152h0M98 139h0M116 177h0M102 171h0M48 153h0M58 161h0M48 162h0M120 166h0M167 179h0M136 173h0M127 160h0M137 88h0M46 179h0M69 179h0M70 174h0M104 173h0M119 120h0M50 171h0M139 163h0M115 161h0M117 164h0M139 79h0M110 161h0M121 147h0M141 142h0M102 174h0M77 167h0M117 165h0M81 132h0M141 118h0M118 177h0M160 157h0M76 168h0M117 162h0M125 167h0M118 178h0M149 115h0M106 166h0M56 173h0M128 162h0M136 137h0M124 167h0M110 159h0M62 172h0M94 104h0M98 177h0M72 166h0M61 159h0M128 155h0M100 165h0M104 149h0M107 166h0M149 93h0M165 179h0M79 164h0M96 170h0M123 176h0M93 166h0M126 156h0M86 163h0M120 165h0M167 103h0M117 162h0M121 164h0M131 159h0M115 166h0M92 120h0M143 112h0M142 126h0M40 173h0M153 92h0M59 178h0M136 179h0M42 158h0M66 168h0M58 158h0M97 170h0M151 113h0M136 169h0M126 163h0M121 177h0M141 150h0M122 136h0M66 171h0M56 164h0M73 176h0M108 130h0M118 167h0M142 131h0M113 107h0M141 162h0M127 168h0M67 169h0M125 167h0M161 119h0M139 117h0M96 175h0M130 174h0M93 180h0M136 152h0M127 166h0M121 162h0M140 154h0M76 173h0M104 176h0M87 168h0M174 174h0M132 167h0M84 157h0M134 165h0M163 179h0M101 166h0M150 141h0M123 158h0M92 154h0M141 175h0M85 139h0M128 160h0M108 162h0M66 161h0M131 172h0M137 132h0M133 162h0M154 97h0M102 168h0M136 162h0M85 170h0M127 158h0M117 94h0M143 169h0M143 164h0M108 161h0M102 169h0M56 160h0M158 178h0M49 177h0M146 152h0M84 163h0M71 165h0M131 175h0M91 161h0M147 166h0M138 158h0M126 166h0M169 100h0M130 116h0M79 174h0M65 159h0M146 90h0M129 169h0M149 166h0M93 163h0M105 148h0M102 175h0M80 156h0M112 167h0M85 175h0M150 159h0M144 154h0M105 165h0M134 173h0M73 174h0M108 164h0M103 84h0M63 165h0M118 131h0M55 156h0M101 166h0M123 137h0M102 96h0M127 124h0M177 178h0M123 150h0M96 178h0M115 165h0M64 177h0M36 172h0M76 153h0M61 160h0M78 142h0M97 170h0M101 169h0M31 164h0M85 129h0M140 141h0M119 159h0M143 130h0M128 173h0M135 155h0M86 145h0M141 136h0M134 74h0M122 130h0M89 121h0M134 155h0M108 178h0M120 170h0M108 140h0M149 160h0M89 173h0M64 172h0M132 161h0M136 173h0M139 175h0M142 168h0M74 134h0M91 175h0M136 165h0M78 141h0M103 166h0M71 174h0M102 171h0M90 179h0M153 134h0M109 162h0M133 108h0M55 159h0M130 176h0M113 137h0M169 113h0M130 138h0M110 155h0M144 131h0M130 88h0M51 162h0M83 173h0M138 111h0M108 167h0M97 123h0M126 84h0M118 142h0M128 175h0M140 71h0M134 177h0M80 178h0M133 139h0M139 172h0M66 153h0M70 166h0M115 150h0M92 152h0M101 172h0M122 146h0M101 170h0M130 157h0M130 154h0M104 118h0M138 179h0M62 168h0M104 151h0M122 163h0M98 165h0M51 156h0M136 144h0M154 124h0M116 165h0M114 166h0M147 75h0M98 171h0M108 169h0M133 140h0M89 141h0M148 170h0M145 150h0M143 113h0M144 176h0M137 127h0M68 167h0M74 166h0M97 172h0M146 179h0M120 180h0M115 163h0M134 162h0M94 167h0M118 92h0M135 116h0M118 135h0M184 150h0M125 166h0M134 168h0M55 160h0M128 162h0M171 138h0M138 123h0M72 174h0M174 166h0M53 171h0M151 76h0M54 181h0M48 166h0M142 83h0M114 161h0M94 175h0M132 160h0M107 176h0M135 124h0M43 163h0M146 153h0M92 173h0M139 163h0M64 170h0M108 163h0M115 170h0M119 151h0M119 159h0M142 83h0M137 162h0M80 117h0M117 167h0M143 145h0M134 171h0M94 166h0M104 162h0M66 168h0M138 131h0M135 162h0M109 165h0M59 166h0M69 168h0M52 159h0M150 165h0M98 155h0M107 178h0M59 179h0M141 150h0M105 107h0M125 152h0M159 170h0M106 170h0M72 174h0M112 163h0M131 162h0M106 173h0M72 176h0M94 175h0M175 85h0M57 161h0M90 173h0M79 171h0M105 154h0M95 166h0M118 148h0M79 173h0M124 160h0M95 158h0M110 166h0M142 172h0M102 175h0M36 164h0M127 97h0M41 163h0M136 88h0M115 163h0M132 155h0M134 114h0M57 180h0M120 167h0M121 181h0M135 176h0M104 166h0M134 170h0M132 154h0M141 141h0M122 167h0M121 162h0M173 147h0M154 155h0M161 73h0M126 166h0M141 160h0M122 157h0M97 171h0M86 174h0M114 160h0M89 142h0M110 180h0M64 166h0M145 142h0M135 161h0M108 163h0M128 102h0M95 178h0M118 160h0M100 170h0M136 137h0M102 161h0M88 167h0M133 156h0M77 165h0M113 153h0M100 101h0M148 164h0M101 167h0M71 170h0M98 177h0M97 166h0M79 164h0M160 149h0M115 158h0M88 164h0M90 170h0M107 179h0M127 113h0M75 171h0M69 169h0M135 173h0M117 105h0M84 136h0M68 174h0M62 164h0M50 162h0M138 107h0M109 175h0M84 167h0M86 164h0M105 169h0M102 175h0M127 159h0M102 154h0M115 179h0M103 179h0M57 175h0M57 174h0M111 159h0M85 154h0M74 160h0M64 162h0M62 158h0M131 179h0M144 152h0M82 162h0M142 120h0M57 160h0M68 180h0M142 131h0M137 162h0M109 99h0M136 181h0M135 143h0M119 165h0M121 177h0M152 178h0M95 168h0M163 80h0M94 175h0M67 166h0M151 93h0M68 162h0M134 176h0M146 165h0M176 150h0M146 162h0M131 177h0M50 175h0M124 135h0M105 161h0M149 179h0M61 175h0M121 164h0M91 124h0M123 178h0M123 157h0M123 168h0M140 167h0M138 94h0M132 170h0M114 147h0M78 161h0M137 88h0M100 118h0M133 165h0M136 161h0M118 179h0M89 165h0M77 163h0M96 181h0M117 118h0M102 144h0M141 159h0M103 168h0M133 118h0M67 173h0M109 179h0M136 151h0M75 172h0M51 170h0M67 170h0M106 167h0M94 145h0M68 177h0M124 163h0M133 111h0M77 129h0M76 164h0M64 175h0M61 171h0M68 169h0M142 126h0M104 80h0M52 163h0M123 132h0M114 167h0M141 73h0M130 158h0M88 162h0M105 157h0M57 172h0M133 140h0M75 157h0M162 176h0M72 169h0M134 77h0M129 155h0M75 173h0M82 166h0M116 164h0M70 166h0M71 147h0M66 163h0M109 131h0M136 171h0M122 168h0M75 173h0M138 157h0M130 128h0M131 74h0M105 161h0M132 159h0M134 154h0M122 127h0M133 163h0M88 175h0M107 156h0M101 147h0M130 161h0M64 169h0M57 170h0M139 175h0M146 116h0M106 153h0M122 164h0M120 112h0M160 179h0M48 178h0M144 154h0M136 101h0M77 177h0M104 179h0M157 86h0M111 97h0M55 161h0M58 153h0M123 106h0M55 179h0M110 165h0M118 140h0M80 155h0M159 138h0M119 159h0M130 153h0M114 162h0M153 74h0M137 129h0M129 165h0M96 174h0M65 161h0M88 127h0M44 180h0M92 160h0M109 165h0M119 166h0M131 78h0M87 141h0M147 144h0M115 140h0M41 165h0M86 168h0M122 157h0M102 76h0M99 151h0M143 145h0M96 156h0M95 178h0M66 163h0M58 157h0M50 172h0M100 165h0M97 168h0M132 154h0M71 164h0M101 177h0M135 157h0M93 171h0M131 77h0M146 78h0M80 160h0M136 89h0M64 166h0M58 163h0M50 169h0M111 156h0M97 170h0M136 102h0M113 178h0M126 161h0M60 156h0M126 163h0M129 173h0M117 162h0M87 167h0M104 163h0M137 130h0M147 177h0M93 176h0M150 103h0M136 148h0M50 175h0M98 162h0M103 177h0M126 167h0M48 170h0M97 147h0M135 148h0M130 163h0M52 169h0M57 147h0M64 179h0M136 149h0M123 178h0M150 177h0M144 76h0M121 143h0M121 95h0M54 172h0M86 177h0M142 166h0M136 168h0M56 173h0M141 159h0M136 180h0M157 156h0M102 179h0M70 164h0M160 116h0M142 79h0M66 167h0M89 159h0M83 151h0M135 140h0M54 174h0M101 176h0M91 151h0M136 100h0M128 146h0M130 170h0M53 162h0M136 86h0M89 167h0M152 77h0M132 159h0M137 154h0M172 137h0M139 162h0M63 177h0M112 159h0M98 169h0M129 166h0M55 161h0M112 161h0M132 172h0M99 148h0M97 173h0M105 178h0M55 170h0M136 175h0M69 175h0M99 170h0M102 165h0M124 175h0M160 108h0M147 159h0M74 172h0M74 158h0M111 149h0M123 165h0M101 170h0M87 165h0M142 84h0M102 176h0M120 163h0M48 159h0M136 75h0M58 157h0M43 173h0M119 158h0M102 157h0M141 156h0M135 177h0M125 163h0M136 166h0M138 166h0M45 175h0M145 160h0M164 173h0M112 171h0M87 118h0M126 148h0M53 167h0M94 171h0M154 136h0M141 176h0M155 127h0M56 165h0M105 175h0M110 160h0M99 163h0M104 168h0M105 163h0M107 165h0M131 170h0M96 176h0M72 178h0M67 159h0M140 163h0M138 166h0M61 161h0M70 162h0M107 78h0M45 150h0M112 166h0M129 110h0M59 176h0M145 92h0M99 151h0M84 177h0M111 124h0M126 177h0M108 166h0M117 170h0M150 177h0M157 141h0M134 157h0M96 175h0M140 179h0M74 156h0M135 174h0M132 126h0M81 176h0M105 178h0M92 178h0M106 172h0M143 84h0M106 95h0M139 169h0M125 164h0M50 154h0M141 169h0M53 179h0M108 141h0M82 177h0M147 96h0M96 176h0M140 168h0M136 176h0M142 80h0M54 172h0M124 163h0M92 164h0M80 165h0M79 173h0M110 80h0M69 176h0M143 164h0M48 166h0M57 154h0M114 154h0M103 181h0M55 172h0M124 177h0M151 149h0M160 179h0M150 109h0M67 139h0M120 159h0M102 163h0M128 170h0M123 164h0M82 156h0M175 155h0M46 169h0M154 176h0M129 164h0M46 168h0M119 161h0M88 154h0M136 158h0M138 111h0M98 171h0M132 174h0M68 168h0M154 77h0M94 167h0M143 161h0M73 161h0M90 134h0M91 168h0M126 172h0M46 167h0M144 144h0M144 179h0M108 167h0M151 108h0M103 91h0M129 119h0M113 162h0M86 172h0M62 164h0M111 170h0M130 151h0M121 170h0M175 133h0M132 156h0M146 145h0M110 152h0M109 134h0M104 170h0M130 159h0M81 168h0M100 176h0M70 165h0M142 164h0M131 143h0M107 144h0M112 128h0M138 126h0M132 164h0M59 157h0M69 171h0M63 162h0M51 166h0M111 167h0M134 152h0M134 175h0M101 120h0M152 146h0M139 152h0M142 153h0M60 168h0M134 84h0M67 164h0M73 177h0M113 75h0M97 179h0M164 163h0M128 158h0M139 72h0M118 178h0M121 122h0M121 163h0M164 176h0M125 118h0M99 175h0M151 174h0M144 172h0M170 153h0M101 172h0M151 104h0M118 180h0M62 159h0M107 175h0M132 176h0M103 174h0M92 163h0M82 165h0M68 169h0M140 84h0M102 75h0M35 155h0M103 125h0M118 169h0M133 167h0M129 72h0M134 88h0M139 162h0M73 127h0M103 134h0M113 165h0M118 165h0M134 154h0M89 162h0M146 158h0M127 160h0M92 171h0M99 171h0M103 175h0M123 156h0M62 175h0M66 159h0M65 168h0M98 169h0M121 162h0M149 132h0M47 177h0M95 160h0M90 154h0M66 165h0M138 166h0M106 92h0M78 176h0M102 161h0M136 176h0M30 168h0M107 178h0M144 113h0M55 175h0M137 168h0M118 168h0M68 172h0M82 112h0M134 176h0M110 73h0M126 170h0M89 173h0M103 174h0M76 135h0M60 139h0M134 160h0M132 177h0M64 154h0M109 95h0M74 175h0M99 162h0M139 141h0M116 161h0M76 163h0M127 160h0M132 175h0M120 178h0M115 158h0M135 162h0M133 162h0M148 151h0M131 175h0M133 157h0M131 140h0M139 111h0M136 167h0M60 160h0M137 163h0M97 167h0M64 165h0M79 172h0M127 173h0M93 128h0M99 170h0M75 176h0M136 140h0M93 172h0M49 168h0M75 167h0M104 174h0M131 121h0M39 174h0M54 172h0M123 179h0M120 114h0M158 80h0M69 165h0M131 111h0M88 169h0M142 125h0M47 167h0M38 173h0M154 146h0M140 101h0M143 167h0M126 150h0M71 176h0M129 146h0M101 76h0M106 163h0M100 150h0M121 137h0M112 100h0M80 166h0M54 165h0M135 161h0M129 166h0M126 84h0M57 168h0M94 143h0M110 165h0M120 166h0M71 159h0M164 179h0M136 152h0M101 161h0M137 95h0M129 175h0M132 169h0M134 88h0M124 149h0M123 161h0M57 170h0M80 152h0M102 136h0M135 160h0M101 169h0M127 103h0M112 164h0M160 78h0M64 161h0M114 179h0M129 122h0M100 179h0M65 175h0M157 80h0M45 166h0M123 167h0M169 108h0M97 158h0M69 165h0M120 161h0M107 113h0M137 179h0M98 182h0M77 143h0M100 163h0M122 168h0M166 155h0M67 164h0M113 114h0M148 165h0M84 135h0M126 155h0M72 174h0M116 167h0M91 132h0M74 165h0M128 85h0M127 152h0M57 173h0M130 87h0M169 117h0M76 171h0M54 164h0M43 152h0M161 172h0M144 159h0M83 136h0M92 110h0M51 178h0M63 171h0M134 178h0M84 122h0M111 158h0M132 164h0M159 179h0M67 172h0M87 170h0M73 172h0M89 147h0M51 173h0M103 175h0M84 176h0M88 182h0M115 171h0M126 173h0M105 162h0M77 170h0M105 163h0M108 147h0M92 163h0M128 94h0M145 176h0M109 165h0M141 149h0M54 160h0M76 133h0M128 167h0M93 169h0M128 142h0M128 175h0M76 163h0M143 161h0M57 164h0M122 164h0M133 164h0M98 161h0M134 126h0M134 176h0M84 177h0M137 174h0M159 103h0M74 135h0M89 163h0M52 158h0M78 167h0M95 171h0M147 73h0M138 109h0M141 169h0M138 75h0M149 138h0M136 167h0M136 162h0M64 152h0M73 156h0M161 153h0M66 178h0M124 138h0M150 175h0M127 162h0M125 174h0M105 165h0M90 161h0M156 158h0M125 172h0M98 171h0M137 108h0M172 147h0M126 166h0M97 109h0M156 113h0M66 160h0M120 162h0M133 176h0M70 174h0M104 179h0M52 176h0M45 169h0M123 172h0M162 152h0M133 159h0M129 169h0M49 159h0M110 148h0M133 97h0M128 178h0M100 168h0M52 156h0M159 178h0M105 171h0M102 163h0M135 180h0M173 95h0M80 180h0M149 172h0M85 159h0M69 170h0M107 93h0M116 171h0M81 154h0M149 83h0M117 162h0M154 147h0M113 178h0M68 173h0M83 176h0M129 164h0M134 158h0M154 151h0M84 167h0M113 164h0M137 172h0M132 156h0M88 161h0M150 134h0M94 168h0M83 169h0M114 126h0M118 126h0M146 167h0M90 172h0M132 131h0M114 146h0M100 175h0M45 161h0M64 157h0M125 136h0M115 153h0M101 167h0M141 96h0M64 165h0M171 171h0M112 179h0M57 151h0M50 166h0M130 158h0M75 167h0M91 105h0M109 71h0M129 154h0M148 144h0M142 129h0M89 171h0M143 169h0M93 156h0M130 111h0M137 168h0M133 134h0M164 178h0M99 177h0M145 153h0M69 153h0M105 175h0M155 124h0M67 143h0M131 148h0M121 164h0M102 176h0M104 164h0M134 165h0M77 172h0M83 177h0M89 159h0M136 160h0M71 164h0M78 168h0M101 159h0M88 152h0M135 167h0M92 170h0M139 84h0M136 138h0M141 144h0M118 77h0M143 174h0M92 166h0M122 85h0M124 169h0M55 171h0M98 176h0M152 102h0M145 133h0M72 165h0M153 170h0M146 100h0M170 148h0M124 98h0M58 173h0M142 100h0M62 163h0M151 87h0M128 174h0M119 164h0M56 174h0M65 174h0M129 179h0M72 176h0M97 156h0M71 163h0M143 169h0M125 174h0M65 172h0M109 163h0M97 168h0M140 161h0M123 170h0M46 151h0M96 172h0M155 91h0M93 163h0M52 174h0M78 165h0M97 134h0M115 169h0M160 145h0M108 167h0M44 166h0M117 115h0M132 170h0M127 141h0M78 170h0M113 168h0M83 172h0M121 129h0M77 177h0M141 126h0M54 160h0M151 137h0M114 160h0M150 111h0M101 167h0M142 101h0M92 170h0M144 175h0M83 125h0M71 166h0M156 144h0M146 167h0M133 79h0M91 169h0M71 132h0M116 96h0M87 143h0M155 86h0M144 174h0M134 176h0M94 168h0M113 164h0M141 101h0M63 161h0M100 170h0M167 172h0M95 167h0M139 166h0M82 172h0M132 147h0M102 162h0M134 85h0M82 145h0M168 153h0M103 154h0M116 109h0M59 172h0M59 150h0M113 166h0M88 116h0M131 100h0M138 154h0M118 148h0M65 172h0M46 173h0M47 161h0M112 175h0M70 157h0M152 177h0M102 168h0M167 102h0M58 174h0M110 85h0M78 136h0M63 165h0M140 177h0M100 179h0M126 172h0M133 118h0M125 162h0M68 158h0M92 118h0M140 154h0M154 86h0M107 170h0M136 99h0M116 165h0M135 135h0M156 176h0M165 178h0M52 169h0M137 143h0M103 178h0M68 179h0M139 86h0M86 151h0M149 135h0M89 111h0M117 106h0M62 162h0M78 159h0M136 76h0M131 172h0M117 178h0M135 175h0M142 169h0M103 168h0M77 135h0M102 175h0M103 160h0M170 144h0M141 166h0M113 165h0M107 109h0M159 153h0M134 93h0M149 140h0M135 138h0M62 173h0M94 106h0M134 80h0M115 170h0M138 161h0M146 147h0M95 122h0M127 151h0M128 168h0M141 166h0M107 164h0M123 165h0M127 174h0M116 153h0M136 122h0M143 170h0M165 177h0M142 147h0M145 163h0M141 126h0M117 170h0M97 115h0M103 166h0M75 170h0M132 91h0M133 181h0M163 128h0M63 166h0M128 97h0M128 139h0M135 164h0M64 161h0M126 162h0M72 163h0M110 181h0M127 73h0M133 161h0M125 139h0M108 167h0M65 159h0M144 116h0M119 160h0M134 99h0M137 175h0M50 163h0M71 161h0M132 167h0M136 168h0M96 177h0M55 165h0M139 140h0M139 135h0M150 105h0M52 152h0M129 94h0M129 142h0M90 151h0M110 179h0M72 169h0M75 154h0M49 161h0M116 168h0M65 175h0M139 159h0M155 156h0M129 159h0M96 177h0M134 166h0M143 150h0M85 174h0M92 171h0M45 178h0M78 164h0M146 140h0M126 169h0M62 172h0M141 157h0M153 141h0M138 98h0M127 90h0M147 96h0M127 165h0M64 151h0M50 167h0M139 73h0M141 156h0M60 173h0M119 121h0M54 156h0M115 164h0M116 165h0M116 154h0M122 166h0M41 161h0M88 167h0M113 166h0M131 144h0M128 171h0M95 171h0M82 169h0M129 162h0M173 167h0M101 161h0M141 81h0M178 165h0M130 106h0M107 164h0M44 157h0M94 170h0M88 171h0M164 83h0M135 122h0M103 170h0M132 164h0M91 169h0M120 164h0M163 98h0M99 169h0M65 166h0M93 150h0M111 98h0M169 147h0M87 144h0M59 175h0M127 164h0M137 95h0M122 93h0M96 163h0M141 168h0M115 166h0M151 155h0M93 170h0M50 178h0M52 162h0M136 166h0M69 170h0M140 135h0M154 139h0M171 121h0M131 157h0M52 157h0M119 166h0M146 100h0M140 173h0M63 157h0M118 163h0M131 143h0M93 154h0M141 176h0M105 174h0M132 96h0M114 163h0M125 167h0M134 166h0M136 178h0M148 100h0M102 169h0M111 165h0M103 167h0M109 163h0M108 172h0M137 135h0M86 170h0M99 139h0M140 169h0M133 160h0M99 175h0M53 159h0M154 121h0M60 180h0M61 169h0M140 178h0M125 155h0M55 160h0M114 166h0M109 166h0M76 167h0M177 115h0M125 132h0M129 171h0M76 163h0M147 147h0M92 172h0M146 177h0M72 162h0M60 174h0M124 141h0M114 169h0M88 166h0M55 171h0M85 175h0M151 146h0M69 162h0M130 170h0M95 169h0M57 173h0M110 166h0M75 139h0M85 159h0M71 174h0M57 173h0M63 180h0M125 170h0M56 164h0M126 172h0M95 135h0M140 166h0M48 174h0M135 72h0M88 166h0M62 177h0M144 166h0M135 172h0M86 170h0M51 174h0M90 167h0M167 126h0M142 174h0M135 130h0M139 97h0M126 167h0M65 175h0M143 93h0M102 156h0M79 177h0M99 158h0M144 155h0M102 178h0M126 167h0M66 171h0M129 166h0M153 125h0M62 170h0M108 163h0M132 143h0M132 169h0M144 110h0M125 113h0M137 120h0M61 147h0M75 170h0M135 144h0M49 174h0M150 176h0M111 161h0M134 176h0M94 159h0M132 100h0M77 157h0M142 129h0M55 170h0M134 170h0M111 167h0M140 174h0M134 157h0M110 157h0M64 164h0M135 91h0M121 104h0M142 120h0M131 171h0M53 178h0M167 179h0M142 90h0M56 158h0M142 121h0M59 179h0M135 162h0M89 172h0M131 108h0M128 159h0M97 174h0M88 168h0M66 165h0M125 172h0M92 163h0M142 96h0M91 170h0M103 155h0M63 170h0M143 135h0M99 169h0M69 167h0M62 178h0M127 168h0M62 172h0M49 166h0M84 143h0M126 160h0M116 118h0M65 169h0M126 177h0M171 136h0M138 104h0M88 167h0M139 109h0M143 167h0M51 171h0M149 175h0M63 155h0M154 100h0M150 116h0M80 164h0M70 171h0M91 166h0M116 163h0M155 79h0M152 87h0M123 163h0M112 163h0M106 175h0M172 151h0M108 175h0M140 176h0M136 106h0M122 151h0M131 82h0M139 87h0M64 159h0M66 170h0M88 166h0M79 148h0M82 160h0M144 88h0M71 148h0M119 165h0M155 124h0M117 158h0M84 178h0M149 176h0M127 167h0M89 161h0M146 103h0M146 151h0M83 161h0M176 157h0M119 169h0M112 166h0M106 180h0M140 76h0M56 157h0M123 107h0M89 171h0M95 165h0M141 134h0M168 132h0M106 155h0M159 85h0M175 148h0M131 174h0M111 178h0M60 172h0M166 126h0M172 127h0M150 156h0M70 177h0M133 146h0M132 177h0M94 103h0M48 159h0M125 167h0M102 143h0M131 107h0M108 82h0M161 89h0M48 166h0M70 171h0M55 173h0M173 177h0M137 96h0M140 163h0M70 169h0M93 181h0M96 170h0M97 175h0M147 139h0M128 170h0M136 125h0M70 170h0M104 165h0M121 121h0M38 171h0M137 83h0M127 90h0M124 162h0M98 163h0M136 95h0M136 144h0M160 161h0M164 161h0M133 166h0M47 159h0M113 159h0M123 169h0M68 174h0M102 142h0M96 157h0M141 147h0M143 92h0M53 177h0M162 86h0M109 167h0M166 164h0M146 145h0M140 138h0M151 141h0M135 101h0M58 153h0M106 147h0M103 87h0M110 91h0M171 120h0M74 162h0M146 103h0M74 178h0M118 159h0M129 135h0M105 165h0M150 168h0M67 168h0M146 118h0M96 177h0M66 158h0M88 168h0M89 125h0M123 89h0M140 167h0M137 161h0M85 178h0M84 174h0M140 162h0M58 170h0M109 156h0M161 116h0M148 178h0M74 160h0M94 103h0M64 167h0M126 149h0M126 178h0M41 158h0M104 163h0M134 91h0M111 165h0M61 171h0M105 162h0M77 160h0M79 118h0M162 142h0M52 172h0M125 163h0M144 97h0M121 73h0M147 81h0M123 154h0M44 167h0M135 117h0M57 163h0M102 176h0M163 131h0M69 180h0M139 176h0M108 165h0M133 120h0M81 169h0M158 166h0M121 178h0M96 157h0M136 88h0M80 181h0M82 154h0M104 171h0M130 167h0M150 104h0M87 168h0M164 179h0M139 164h0M148 124h0M131 179h0M77 176h0M115 166h0M123 167h0M136 153h0M83 174h0M140 156h0M114 167h0M129 144h0M141 179h0M128 145h0M74 164h0M81 165h0M75 168h0M152 79h0M67 168h0M106 167h0M154 148h0M75 162h0M125 143h0M65 176h0M129 115h0M111 150h0M86 169h0M146 177h0M107 155h0M90 163h0M64 171h0M145 122h0M119 168h0M124 139h0M86 163h0M56 159h0M133 174h0M128 169h0M70 147h0M130 80h0M131 138h0M144 175h0M129 177h0M40 169h0M141 97h0M144 77h0M130 178h0M82 128h0M176 142h0M142 165h0M149 79h0M111 165h0M103 166h0M143 177h0M148 169h0M120 99h0M127 170h0M169 179h0M119 75h0M100 124h0M116 114h0M142 170h0M42 174h0M87 136h0M137 94h0M55 178h0M131 164h0M72 160h0M98 169h0M140 174h0M111 166h0M150 162h0M127 118h0M165 127h0M123 161h0M56 160h0M91 173h0M153 168h0M88 167h0M96 177h0M77 167h0M74 168h0M127 162h0M130 178h0M97 169h0M135 158h0M75 171h0M100 173h0M144 174h0M133 171h0M92 170h0M114 160h0M90 158h0M48 169h0M85 139h0M101 176h0M115 152h0M141 75h0M153 173h0M164 149h0M107 163h0M84 164h0M65 170h0M157 164h0M139 176h0M122 174h0M59 159h0M79 163h0M56 176h0M177 148h0M137 161h0M100 172h0M106 142h0M104 166h0M173 169h0M104 167h0M125 153h0M133 177h0M97 171h0M116 161h0M126 142h0M89 173h0M152 118h0M135 71h0M138 160h0M120 125h0M131 112h0M87 172h0M108 167h0M90 161h0M141 87h0M103 178h0M133 159h0M138 140h0M134 116h0M76 129h0M59 154h0M163 161h0M112 163h0M116 170h0M165 110h0M109 160h0M78 165h0M79 165h0M128 84h0M139 163h0M95 162h0M79 165h0M163 150h0M104 178h0M158 178h0M100 166h0M59 173h0M92 176h0M114 177h0M100 98h0M116 164h0M62 161h0M141 110h0M77 167h0M49 161h0M102 176h0M122 150h0M59 170h0M103 166h0M63 175h0M135 177h0M135 127h0M123 166h0M142 180h0M102 167h0M102 127h0M163 85h0M174 159h0M177 140h0M126 168h0M48 164h0M108 166h0M143 160h0M104 177h0M87 167h0M120 179h0M110 178h0M77 165h0M136 89h0M127 161h0M126 166h0M156 179h0M100 177h0M46 162h0M113 152h0M109 165h0M115 165h0M91 162h0M117 97h0M119 179h0M143 97h0M136 175h0M98 177h0M97 163h0M124 163h0M104 165h0M95 161h0M140 152h0M94 162h0M97 177h0M66 179h0M89 157h0M132 156h0M93 176h0M109 148h0M94 92h0M130 156h0M116 165h0M137 143h0M145 110h0M134 166h0M134 169h0M65 172h0M123 161h0M171 134h0M145 178h0M80 165h0M133 169h0M107 140h0M92 103h0M137 82h0M158 86h0M58 155h0M105 158h0M77 150h0M72 163h0M172 147h0M147 88h0M139 173h0M95 158h0M72 149h0M103 117h0M147 86h0M46 171h0M97 164h0M129 169h0M158 89h0M126 141h0M141 81h0M108 81h0M87 171h0M135 82h0M66 160h0M141 124h0M41 160h0M158 119h0M127 143h0M66 163h0M139 120h0M77 176h0M129 172h0M167 168h0M118 166h0M117 149h0M147 72h0M65 158h0M128 173h0M101 174h0M64 170h0M149 169h0M112 99h0M107 163h0M103 152h0M140 116h0M67 172h0M80 144h0M75 173h0M95 166h0M113 167h0M86 165h0M69 168h0M88 149h0M96 174h0M106 177h0M100 171h0M45 157h0M142 159h0M108 157h0M137 176h0M38 160h0M156 153h0" stroke="#2a3af0" stroke-width="1.1" stroke-linecap="square" fill="none"/>
<path transform="translate(916.5,1135.5)" d="M60 163h0M54 165h0M126 172h0M83 175h0M110 163h0M93 171h0M122 167h0M137 156h0M59 163h0M128 166h0M83 176h0M66 167h0M110 170h0M53 165h0M117 171h0M122 177h0M111 179h0M106 170h0M126 168h0M63 170h0M123 170h0M56 169h0M98 173h0M144 173h0M106 174h0M102 166h0M58 170h0M130 170h0M52 176h0M59 171h0M129 170h0M136 176h0M61 170h0M109 170h0M125 168h0M100 174h0M72 166h0M130 171h0M58 163h0M68 168h0M116 164h0M135 146h0M59 168h0M107 170h0M107 176h0M129 165h0M85 166h0M121 163h0M130 175h0M110 177h0M121 166h0M51 160h0M99 171h0M137 180h0M99 172h0M58 167h0M131 170h0M112 179h0M138 172h0M133 166h0M125 171h0M115 165h0M102 176h0M96 164h0M125 178h0M120 166h0M136 173h0M105 173h0M136 172h0M58 165h0M63 172h0M105 177h0M133 173h0M74 170h0M132 163h0M127 177h0M131 174h0M121 172h0M50 163h0M136 176h0M63 168h0M127 173h0M131 163h0M55 167h0M122 172h0M115 175h0M139 170h0M93 172h0M102 166h0M61 170h0M98 175h0M93 169h0M105 172h0M117 177h0M142 176h0M111 176h0M141 168h0M123 176h0M130 160h0M125 175h0M121 179h0M129 174h0M132 164h0M106 171h0M105 164h0M117 168h0M104 172h0M143 164h0M123 166h0M53 172h0M121 173h0M55 170h0M55 162h0M109 174h0M97 172h0M130 178h0M57 167h0M102 172h0M62 162h0M111 176h0M106 173h0M143 163h0M121 171h0M123 173h0M139 161h0M130 167h0M125 173h0M130 172h0M65 168h0M133 177h0M137 165h0M142 173h0M141 176h0M127 169h0M126 173h0M129 174h0M101 172h0M57 162h0M129 174h0M139 169h0M115 170h0M119 176h0M125 169h0M115 168h0M58 163h0M132 177h0M104 167h0M112 167h0M130 170h0M93 172h0M49 173h0M110 170h0M137 167h0M140 176h0M134 175h0M121 165h0M67 164h0M127 178h0M122 179h0M52 164h0M115 167h0M141 172h0M116 167h0M130 168h0M131 173h0M126 176h0M112 169h0M135 172h0M124 162h0M130 175h0M119 173h0M128 174h0M96 171h0M107 173h0M140 178h0M131 177h0M136 177h0M123 172h0M128 163h0M102 171h0M78 174h0M129 178h0M138 173h0M62 166h0M132 165h0M118 178h0M61 172h0M60 176h0M113 167h0M73 163h0M104 177h0M59 170h0M136 174h0M128 167h0M70 165h0M125 169h0M132 172h0M126 167h0M82 173h0M108 168h0M49 167h0M127 172h0M122 171h0M62 172h0M132 171h0M122 170h0M117 167h0M122 178h0M115 169h0M130 169h0M135 167h0M117 167h0M112 164h0M126 177h0M59 162h0M135 170h0M132 160h0M104 177h0M52 161h0M104 172h0M120 167h0M59 163h0M121 171h0M129 180h0M134 177h0M136 162h0M140 169h0M49 172h0M119 179h0M118 168h0M76 164h0M115 173h0M120 165h0M64 165h0M126 171h0M127 174h0M73 166h0M125 177h0M105 169h0M140 169h0M96 174h0M128 165h0M111 168h0M114 169h0M110 169h0M75 168h0M125 168h0M67 173h0M120 167h0M107 177h0M131 173h0M104 174h0M132 171h0M81 169h0M134 177h0M58 172h0M110 176h0M120 167h0M101 170h0M129 169h0M61 168h0M62 165h0M138 169h0M129 175h0M131 161h0M61 169h0M107 165h0M100 172h0M103 174h0M126 173h0M119 166h0M141 165h0M140 161h0M59 160h0M53 167h0M75 166h0M115 168h0M121 168h0M111 168h0M117 176h0M137 166h0M124 177h0M126 174h0M52 168h0M89 172h0M111 165h0M120 177h0M113 169h0M137 173h0M128 171h0M124 167h0M104 171h0M139 178h0M133 166h0M131 175h0M86 172h0M122 178h0M117 165h0M63 168h0M61 169h0M55 172h0M127 171h0M109 168h0M143 172h0M131 158h0M131 172h0M118 166h0M128 168h0M57 166h0M105 170h0M121 169h0M114 175h0M127 175h0M119 171h0M103 171h0M127 154h0M140 176h0M115 177h0M129 175h0M58 165h0M61 168h0M130 170h0M63 166h0M103 171h0M105 171h0M58 171h0M115 179h0M104 171h0M58 172h0M56 168h0M108 164h0M134 172h0M97 167h0M109 163h0M56 171h0M91 171h0M100 175h0M123 176h0M124 175h0M61 166h0M138 171h0M60 174h0M140 175h0M124 175h0M104 166h0M139 155h0M95 164h0M131 169h0M58 172h0M63 165h0M132 160h0M98 171h0M124 176h0M139 172h0M73 173h0M128 169h0M109 166h0M125 164h0M106 171h0M56 169h0M105 169h0M120 179h0M127 167h0M115 179h0M125 169h0M107 171h0M106 167h0M95 171h0M98 173h0M112 167h0M122 171h0M118 165h0M53 172h0M59 164h0M61 163h0M137 167h0M53 169h0M135 175h0M128 166h0M114 179h0M124 169h0M102 169h0M53 167h0M52 168h0M133 177h0M97 166h0M114 168h0M113 172h0M111 174h0M62 165h0M106 175h0M115 167h0M61 163h0M143 172h0M52 168h0M105 177h0M140 172h0M132 168h0M120 167h0M112 177h0M67 164h0M133 169h0M125 168h0M61 170h0M55 163h0M116 179h0M52 172h0M55 164h0M133 172h0M125 172h0M141 174h0M106 176h0M117 167h0M120 175h0M56 163h0M98 168h0M127 174h0M117 171h0M113 176h0M105 170h0M140 167h0M129 168h0M106 170h0M104 172h0M53 162h0M103 175h0M118 167h0M122 167h0M108 171h0M63 167h0M101 173h0M120 165h0M115 169h0M56 161h0M131 165h0M55 166h0M126 170h0M126 159h0M55 171h0M54 157h0M64 171h0M141 176h0M140 170h0M99 172h0M63 164h0M130 171h0M122 164h0M134 171h0M127 171h0M105 169h0M97 172h0M133 172h0M118 170h0M119 175h0M107 177h0M99 171h0M101 176h0M111 169h0M93 167h0M130 171h0M97 169h0M139 161h0M141 170h0M124 171h0M103 178h0M127 161h0M125 173h0M134 176h0M92 172h0M60 163h0M53 162h0M124 178h0M53 163h0M119 167h0M86 175h0M128 172h0M122 179h0M142 167h0M60 175h0M57 160h0M67 165h0M118 176h0M119 177h0M63 165h0M63 173h0M59 165h0M107 176h0M108 173h0M126 176h0M141 169h0M128 175h0M109 177h0M89 166h0M107 174h0M104 172h0M70 171h0M131 177h0M100 166h0M60 173h0M119 163h0M135 163h0M142 175h0M122 167h0M132 174h0M77 169h0M129 172h0M53 164h0M51 162h0M132 168h0M106 177h0M130 178h0M58 170h0M133 175h0M64 164h0M113 166h0M137 172h0M133 166h0M56 161h0M53 167h0M109 176h0M140 172h0M126 169h0M92 168h0M119 178h0M133 173h0M102 168h0M57 162h0M124 176h0M103 174h0M54 161h0M54 166h0M106 171h0M52 163h0M127 167h0M105 179h0M133 167h0M114 168h0M137 174h0M57 162h0M106 178h0M126 165h0M136 156h0M113 180h0M126 177h0M120 177h0M106 168h0M98 174h0M75 170h0M63 167h0M129 174h0M109 172h0M66 168h0M66 170h0M63 170h0M49 170h0M59 163h0M123 171h0M133 172h0M111 170h0M111 169h0M56 161h0M54 161h0M101 170h0M63 167h0M77 166h0M134 169h0M66 172h0M128 173h0M129 164h0M116 169h0M134 164h0M54 170h0M112 176h0M127 177h0M135 176h0M125 171h0M129 164h0M136 173h0M127 170h0M108 166h0M130 174h0M129 156h0M53 172h0M100 173h0M143 162h0M107 166h0M118 177h0M129 174h0M57 164h0M119 166h0M106 169h0M125 169h0M121 171h0M139 162h0M122 169h0M142 168h0M127 170h0M64 173h0M119 170h0M97 170h0M124 171h0M134 174h0M73 168h0M101 166h0M121 170h0M106 169h0M126 163h0M140 169h0M98 175h0M109 167h0M61 171h0M122 173h0M111 176h0M60 170h0M105 168h0M54 169h0M133 156h0M126 165h0M66 169h0M109 177h0M58 164h0M140 174h0M101 173h0M107 168h0M56 168h0M62 166h0M61 166h0M64 165h0M123 174h0M71 172h0M57 163h0M130 167h0M129 168h0M138 171h0M60 163h0M49 167h0M49 167h0M131 173h0M54 168h0M114 168h0M121 165h0M100 170h0M117 167h0M131 169h0M121 167h0M144 172h0M105 177h0M126 169h0M130 161h0M126 177h0M107 175h0M60 170h0M108 169h0M130 165h0M62 168h0M99 169h0M53 165h0M132 167h0M140 178h0M107 167h0M125 161h0M109 172h0M141 171h0M93 171h0M52 167h0M144 172h0M121 166h0M101 173h0M107 178h0M133 168h0M134 160h0M59 168h0M54 169h0M139 172h0M118 169h0M138 176h0M139 168h0M138 174h0M124 166h0M56 162h0M127 168h0M85 172h0M124 169h0M113 167h0M129 166h0M106 169h0M139 173h0M95 173h0M131 166h0M122 179h0M65 163h0M129 161h0M127 171h0M114 176h0M89 169h0M108 169h0M122 178h0M133 169h0M120 172h0M128 170h0M50 171h0M51 167h0M144 170h0M58 163h0M138 160h0M117 165h0M56 162h0M116 171h0M62 168h0M134 167h0M121 177h0M49 171h0M104 176h0M62 163h0M71 176h0M108 178h0M101 174h0M108 173h0M54 174h0M133 170h0M127 167h0M108 170h0M139 173h0M137 172h0M133 176h0M113 172h0M123 167h0M122 176h0M73 163h0M123 174h0M133 175h0M59 162h0M122 176h0M131 171h0M99 173h0M119 169h0M108 173h0M126 176h0M132 176h0M121 168h0M55 168h0M128 175h0M74 175h0M106 170h0M123 175h0M96 165h0M88 168h0M144 169h0M137 167h0M134 170h0M99 168h0M128 173h0M117 167h0M64 169h0M126 171h0M62 160h0M116 165h0M57 173h0M124 173h0M130 168h0M130 168h0M136 177h0M54 163h0M111 170h0M124 179h0M58 163h0M130 166h0M107 169h0M131 171h0M58 169h0M132 170h0M62 175h0M143 168h0M104 177h0M136 166h0M84 166h0M125 169h0M126 167h0M51 166h0M100 169h0M65 168h0M123 169h0M106 171h0M66 164h0M101 172h0M97 170h0M110 166h0M119 168h0M89 175h0M53 168h0M109 169h0M120 178h0M133 164h0M66 172h0" stroke="#2fd046" stroke-width="1.1" stroke-linecap="square" fill="none"/>
<path transform="translate(916.5,1135.5)" d="M123 168h0M123 176h0M117 177h0M115 172h0M110 171h0M121 171h0M108 171h0M112 172h0M117 173h0M117 170h0M116 176h0M121 171h0M124 172h0M126 174h0M104 171h0M118 169h0M103 173h0M122 173h0M125 174h0M53 167h0M57 166h0M128 170h0M111 170h0M123 170h0M115 171h0M56 163h0M127 173h0M123 169h0M55 166h0M125 174h0M113 173h0M125 175h0M134 168h0M55 163h0M118 175h0M119 175h0M117 176h0M104 175h0M114 171h0M120 168h0M61 167h0M132 170h0M122 175h0M102 175h0M114 175h0M124 173h0M107 172h0M121 175h0M113 175h0M120 173h0M129 171h0M62 169h0M111 170h0M110 174h0M120 169h0M118 176h0M109 174h0M121 177h0M118 176h0M55 169h0M54 165h0M114 170h0M110 172h0M105 170h0M55 167h0M115 169h0M106 172h0M117 177h0M57 169h0M105 173h0M55 172h0M111 173h0M59 168h0M126 176h0M58 164h0M125 175h0M116 171h0M119 170h0M109 177h0M55 169h0M115 174h0M124 169h0M125 171h0M111 170h0M104 170h0M120 174h0M116 173h0M110 172h0M112 170h0M122 173h0M108 169h0M111 171h0M111 171h0M108 170h0M123 176h0M51 165h0M118 175h0M113 177h0M106 175h0M122 173h0M124 172h0M117 174h0M57 164h0M127 172h0M113 178h0M129 172h0M114 175h0M127 173h0M125 177h0M120 179h0M114 176h0M57 168h0M114 169h0M122 170h0M129 176h0M123 170h0M53 166h0M54 168h0M118 173h0M51 168h0M130 171h0M115 175h0M113 174h0M120 171h0M123 168h0M127 171h0M120 171h0M109 169h0M116 170h0M56 170h0M106 171h0M111 176h0M109 172h0M133 173h0M112 171h0M126 171h0M123 172h0M119 173h0M57 170h0M124 175h0M136 175h0M121 167h0M122 169h0M119 172h0M111 170h0M111 171h0M104 170h0M127 174h0M106 172h0M116 171h0M112 174h0M109 177h0M59 166h0M128 170h0M113 177h0M117 169h0M118 177h0M113 169h0M111 170h0M125 170h0M105 175h0M123 175h0M110 170h0M112 172h0M117 177h0M122 168h0M126 174h0M122 170h0M62 168h0M123 169h0M105 174h0M129 171h0M116 173h0M110 175h0M117 169h0M122 176h0M117 177h0M118 177h0M59 164h0M57 164h0M111 173h0M106 174h0M63 169h0M132 173h0M130 171h0M112 171h0M122 171h0M134 173h0M114 176h0M123 169h0M117 177h0M61 167h0M115 171h0M104 172h0M119 177h0M129 168h0M119 178h0M56 167h0M113 170h0M119 169h0M113 171h0M122 174h0M127 176h0M130 169h0M113 171h0M114 173h0M125 173h0M106 172h0M119 172h0M107 169h0M133 172h0M114 169h0M109 175h0M122 168h0M122 174h0M132 175h0M58 166h0M118 178h0M111 175h0M120 172h0M116 176h0M123 172h0M116 176h0M121 172h0M106 175h0M130 172h0M51 170h0M125 172h0M117 177h0M121 176h0M114 172h0M111 175h0M124 172h0M57 168h0M118 176h0M128 173h0M105 173h0M112 170h0M138 172h0M112 170h0M126 168h0M127 171h0M115 178h0M54 168h0M120 171h0M129 171h0M110 172h0M58 162h0M121 175h0M57 163h0M106 171h0M108 174h0M112 176h0M126 170h0M110 174h0M119 174h0M121 173h0M123 173h0M122 168h0M127 175h0M129 172h0M55 162h0M112 177h0M118 176h0M125 174h0M111 176h0M108 174h0M121 174h0M122 169h0M118 173h0M113 172h0M111 168h0M119 176h0M108 172h0M114 169h0M123 171h0M120 176h0M103 174h0M130 169h0M124 178h0M118 170h0M114 175h0M112 172h0M114 177h0M133 176h0M53 166h0M110 176h0M108 175h0" stroke="#dfe31e" stroke-width="1.1" stroke-linecap="square" fill="none"/>
<path transform="translate(916.5,1135.5)" d="M121 177h0M114 170h0M115 176h0M112 175h0M113 171h0M116 171h0M121 173h0M113 172h0M119 172h0M119 175h0M125 172h0M112 172h0M121 172h0M118 172h0M104 172h0M57 168h0M109 173h0M118 173h0M112 174h0M118 174h0M125 175h0M122 175h0M115 175h0M104 174h0M119 175h0M113 173h0M115 174h0M117 173h0M118 173h0M55 166h0M107 172h0M113 171h0M111 171h0M110 173h0M121 176h0M118 174h0M116 175h0M123 171h0M125 173h0M123 169h0M115 172h0M117 172h0M115 170h0M111 172h0M116 176h0M121 173h0M122 174h0M110 171h0M122 172h0M115 173h0M112 172h0M117 175h0M105 173h0M119 173h0M115 173h0M119 176h0M108 174h0M54 166h0M119 175h0M114 175h0M107 172h0M114 172h0M122 171h0M108 174h0M110 169h0M108 172h0M59 165h0M113 173h0M125 174h0M121 174h0M123 172h0M111 177h0M117 170h0M112 173h0M126 175h0M124 174h0M123 174h0M117 173h0M120 170h0M118 175h0M110 176h0M57 165h0M108 173h0M111 171h0M115 171h0M121 172h0M120 170h0M125 174h0M58 167h0M104 174h0M117 174h0M110 173h0M121 174h0M109 172h0M117 169h0M115 172h0M111 175h0M112 171h0M118 171h0M110 172h0M124 170h0M120 171h0M121 170h0M114 176h0M114 171h0M120 171h0M108 170h0M114 170h0M110 173h0M117 170h0M121 173h0M116 171h0M114 175h0M113 171h0M116 170h0M119 177h0M119 175h0M110 170h0M112 175h0M113 174h0M120 172h0M108 170h0M110 174h0M111 176h0M122 173h0M114 178h0M113 174h0M112 169h0M116 170h0M118 170h0M114 169h0M111 173h0M112 171h0M108 173h0M119 175h0M124 175h0M113 174h0M125 174h0M113 170h0M111 175h0M116 170h0M121 171h0M116 172h0M116 172h0M115 176h0M119 171h0M115 176h0M112 174h0M124 175h0M121 176h0M111 175h0M117 172h0M123 171h0M120 177h0" stroke="#f59a16" stroke-width="1.15" stroke-linecap="square" fill="none"/>
<path transform="translate(916.5,1135.5)" d="M118 173h0M111 171h0M118 174h0M112 173h0M110 175h0M111 175h0M110 171h0M111 176h0M112 173h0M117 174h0M119 172h0M121 174h0M122 172h0M113 173h0M115 171h0M112 174h0M113 174h0M116 175h0M114 171h0M122 173h0M119 173h0M121 173h0M107 173h0M115 173h0M110 171h0M112 176h0M119 174h0M119 175h0M115 176h0M110 173h0M114 172h0M112 174h0M120 171h0M114 176h0M109 172h0M110 171h0M108 173h0M118 173h0M123 172h0M124 172h0M111 171h0M113 170h0M119 171h0M116 175h0M111 174h0M116 174h0M110 175h0M122 172h0M118 173h0M114 173h0M123 175h0M119 171h0M117 174h0M116 171h0M115 174h0M116 170h0M116 175h0M115 175h0M117 171h0M119 172h0M123 175h0M115 174h0M115 174h0M115 171h0M116 171h0M114 176h0M114 175h0M122 172h0" stroke="#ee2c12" stroke-width="1.2" stroke-linecap="square" fill="none"/>
<path d="M1011.3 1326.5L1033.8 1201.8L1101.8 1200.5" stroke="#222" stroke-width="1.2" fill="none" stroke-linejoin="miter"/>
<rect x="97.20" y="1234.00" width="3.20" height="96.50"/>
<rect x="98.20" y="1136.00" width="2.50" height="99.00"/>
<polygon points="99.5,1124.8 95.3,1137.6 103.8,1137.6"/>
<text transform="translate(85,1227) rotate(-90)" font-size="24" font-weight="bold" text-anchor="middle">SSC</text>
<rect x="136.00" y="1353.70" width="221.50" height="2.90"/>
<rect x="357.00" y="1354.10" width="223.00" height="2.80"/>
<polygon points="592.5,1355.7 578,1351.5 578,1360"/>
<text x="593.3" y="1385.4" font-size="24.6" font-weight="bold" text-anchor="end">cTnT</text>
<rect x="647.00" y="1353.70" width="221.50" height="2.90"/>
<rect x="868.00" y="1354.20" width="223.00" height="2.80"/>
<polygon points="1103,1355.9 1089,1351.6 1089,1360.2"/>
<text x="1101.5" y="1384.5" font-size="24.5" font-weight="bold" text-anchor="end"><tspan class="sy" font-size="27">&#945;</tspan>-SMA</text>
</svg>
</body></html>
